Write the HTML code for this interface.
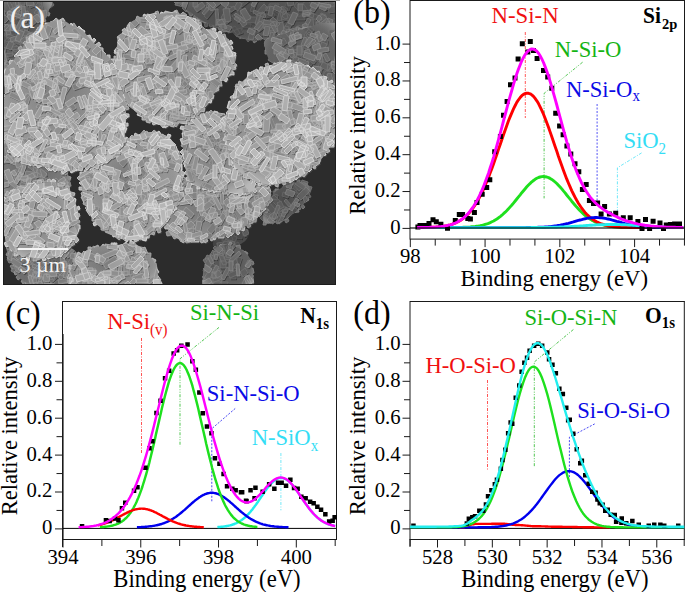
<!DOCTYPE html>
<html><head><meta charset="utf-8"><style>
html,body{margin:0;padding:0;background:#fff;width:685px;height:592px;overflow:hidden}
svg{display:block;font-family:"Liberation Serif",serif}
</style></head><body>
<svg width="685" height="592" viewBox="0 0 685 592" font-family="Liberation Serif"><rect width="685" height="592" fill="#fff"/><defs><clipPath id="semclip"><rect x="3" y="1" width="333" height="284"/></clipPath><clipPath id="clK"><path d="M0.0,-2.0C8.3,-15.3 41.8,-4.0 50.0,-2.0C58.2,0.0 49.7,6.7 49.0,10.0C48.3,13.3 47.5,15.7 46.0,18.0C44.5,20.3 42.3,21.3 40.0,24.0C37.7,26.7 34.7,30.3 32.0,34.0C29.3,37.7 26.7,41.7 24.0,46.0C21.3,50.3 18.7,55.7 16.0,60.0C13.3,64.3 10.7,69.0 8.0,72.0C5.3,75.0 1.3,90.3 0.0,78.0C-1.3,65.7 -8.3,11.3 0.0,-2.0Z"/></clipPath><radialGradient id="ovK" cx="0.48" cy="0.45" r="0.6"><stop offset="0" stop-color="#000" stop-opacity="0.10"/><stop offset="0.6" stop-color="#000" stop-opacity="0"/><stop offset="0.88" stop-color="#fff" stop-opacity="0.10"/><stop offset="1" stop-color="#fff" stop-opacity="0.22"/></radialGradient><radialGradient id="rgK" cx="0.45" cy="0.42" r="0.62"><stop offset="0" stop-color="rgb(90,90,90)"/><stop offset="0.75" stop-color="rgb(100,100,100)"/><stop offset="1" stop-color="rgb(112,112,112)"/></radialGradient><clipPath id="clC1"><path d="M176.0,-2.0C203.0,-3.2 314.3,-7.3 342.0,-2.0C369.7,3.3 349.0,23.8 342.0,30.0C335.0,36.2 312.3,33.7 300.0,35.0C287.7,36.3 276.2,37.1 268.0,38.0C259.8,38.9 257.5,41.9 250.7,40.6C243.9,39.3 234.6,33.1 227.0,30.0C219.4,26.9 211.2,25.0 205.0,22.0C198.8,19.0 194.2,14.8 190.0,12.0C185.8,9.2 182.3,7.3 180.0,5.0C177.7,2.7 149.0,-0.8 176.0,-2.0Z"/></clipPath><radialGradient id="ovC1" cx="0.48" cy="0.45" r="0.6"><stop offset="0" stop-color="#000" stop-opacity="0.10"/><stop offset="0.6" stop-color="#000" stop-opacity="0"/><stop offset="0.88" stop-color="#fff" stop-opacity="0.10"/><stop offset="1" stop-color="#fff" stop-opacity="0.22"/></radialGradient><radialGradient id="rgC1" cx="0.45" cy="0.42" r="0.62"><stop offset="0" stop-color="rgb(79,79,79)"/><stop offset="0.75" stop-color="rgb(88,88,88)"/><stop offset="1" stop-color="rgb(98,98,98)"/></radialGradient><clipPath id="clC2"><path d="M266.0,40.0C271.7,36.7 287.3,32.5 300.0,30.0C312.7,27.5 335.0,13.3 342.0,25.0C349.0,36.7 343.2,89.0 342.0,100.0C340.8,111.0 337.3,94.2 335.0,91.0C332.7,87.8 330.8,84.2 328.0,81.0C325.2,77.8 321.9,74.5 318.0,72.0C314.1,69.5 309.8,67.6 304.8,66.0C299.8,64.4 293.6,63.4 288.0,62.6C282.4,61.8 274.7,63.1 271.0,61.0C267.3,58.9 266.8,53.5 266.0,50.0C265.2,46.5 260.3,43.3 266.0,40.0Z"/></clipPath><radialGradient id="ovC2" cx="0.48" cy="0.45" r="0.6"><stop offset="0" stop-color="#000" stop-opacity="0.10"/><stop offset="0.6" stop-color="#000" stop-opacity="0"/><stop offset="0.88" stop-color="#fff" stop-opacity="0.10"/><stop offset="1" stop-color="#fff" stop-opacity="0.22"/></radialGradient><radialGradient id="rgC2" cx="0.45" cy="0.42" r="0.62"><stop offset="0" stop-color="rgb(91,91,91)"/><stop offset="0.75" stop-color="rgb(102,102,102)"/><stop offset="1" stop-color="rgb(114,114,114)"/></radialGradient><clipPath id="clK2"><path d="M0.0,138.0C2.0,129.7 7.8,146.3 12.0,150.0C16.2,153.7 20.3,157.5 25.0,160.0C29.7,162.5 35.0,163.8 40.0,165.0C45.0,166.2 50.7,165.8 55.0,167.0C59.3,168.2 63.5,169.5 66.0,172.0C68.5,174.5 70.0,178.7 70.0,182.0C70.0,185.3 67.7,189.0 66.0,192.0C64.3,195.0 64.3,199.3 60.0,200.0C55.7,200.7 47.5,196.3 40.0,196.0C32.5,195.7 21.7,197.3 15.0,198.0C8.3,198.7 2.5,210.0 0.0,200.0C-2.5,190.0 -2.0,146.3 0.0,138.0Z"/></clipPath><radialGradient id="ovK2" cx="0.48" cy="0.45" r="0.6"><stop offset="0" stop-color="#000" stop-opacity="0.10"/><stop offset="0.6" stop-color="#000" stop-opacity="0"/><stop offset="0.88" stop-color="#fff" stop-opacity="0.10"/><stop offset="1" stop-color="#fff" stop-opacity="0.22"/></radialGradient><radialGradient id="rgK2" cx="0.45" cy="0.42" r="0.62"><stop offset="0" stop-color="rgb(109,109,109)"/><stop offset="0.75" stop-color="rgb(122,122,122)"/><stop offset="1" stop-color="rgb(136,136,136)"/></radialGradient><clipPath id="clK3"><path d="M6.0,244.0C7.5,242.0 13.5,247.8 20.0,250.0C26.5,252.2 36.7,257.3 45.0,257.0C53.3,256.7 64.3,247.2 70.0,248.0C75.7,248.8 78.3,256.2 79.0,262.0C79.7,267.8 78.8,279.0 74.0,283.0C69.2,287.0 57.3,285.8 50.0,286.0C42.7,286.2 35.0,285.3 30.0,284.0C25.0,282.7 23.2,281.7 20.0,278.0C16.8,274.3 13.3,267.7 11.0,262.0C8.7,256.3 4.5,246.0 6.0,244.0Z"/></clipPath><radialGradient id="ovK3" cx="0.48" cy="0.45" r="0.6"><stop offset="0" stop-color="#000" stop-opacity="0.10"/><stop offset="0.6" stop-color="#000" stop-opacity="0"/><stop offset="0.88" stop-color="#fff" stop-opacity="0.10"/><stop offset="1" stop-color="#fff" stop-opacity="0.22"/></radialGradient><radialGradient id="rgK3" cx="0.45" cy="0.42" r="0.62"><stop offset="0" stop-color="rgb(100,100,100)"/><stop offset="0.75" stop-color="rgb(112,112,112)"/><stop offset="1" stop-color="rgb(125,125,125)"/></radialGradient><clipPath id="clJ"><path d="M265.0,223.0C262.6,221.5 262.9,216.4 263.8,212.5C264.7,208.6 268.4,202.9 270.4,199.4C272.4,195.9 272.1,194.1 275.6,191.5C279.1,188.9 286.6,185.1 291.4,183.6C296.2,182.1 301.4,181.4 304.5,182.3C307.6,183.2 309.4,186.2 309.8,189.0C310.2,191.8 308.9,196.3 307.1,199.4C305.4,202.5 301.9,204.7 299.3,207.3C296.7,209.9 294.9,212.8 291.4,215.2C287.9,217.6 282.6,220.4 278.2,221.7C273.8,223.0 267.4,224.5 265.0,223.0Z"/></clipPath><radialGradient id="ovJ" cx="0.48" cy="0.45" r="0.6"><stop offset="0" stop-color="#000" stop-opacity="0.10"/><stop offset="0.6" stop-color="#000" stop-opacity="0"/><stop offset="0.88" stop-color="#fff" stop-opacity="0.10"/><stop offset="1" stop-color="#fff" stop-opacity="0.22"/></radialGradient><radialGradient id="rgJ" cx="0.45" cy="0.42" r="0.62"><stop offset="0" stop-color="rgb(82,82,82)"/><stop offset="0.75" stop-color="rgb(92,92,92)"/><stop offset="1" stop-color="rgb(103,103,103)"/></radialGradient><clipPath id="clF3"><path d="M213.0,243.0C213.7,240.0 217.3,234.3 223.0,232.0C228.7,229.7 243.2,227.7 247.0,229.0C250.8,230.3 248.5,236.8 246.0,240.0C243.5,243.2 236.5,246.3 232.0,248.0C227.5,249.7 222.2,250.8 219.0,250.0C215.8,249.2 212.3,246.0 213.0,243.0Z"/></clipPath><radialGradient id="ovF3" cx="0.48" cy="0.45" r="0.6"><stop offset="0" stop-color="#000" stop-opacity="0.10"/><stop offset="0.6" stop-color="#000" stop-opacity="0"/><stop offset="0.88" stop-color="#fff" stop-opacity="0.10"/><stop offset="1" stop-color="#fff" stop-opacity="0.22"/></radialGradient><radialGradient id="rgF3" cx="0.45" cy="0.42" r="0.62"><stop offset="0" stop-color="rgb(67,67,67)"/><stop offset="0.75" stop-color="rgb(75,75,75)"/><stop offset="1" stop-color="rgb(84,84,84)"/></radialGradient><clipPath id="clF2"><path d="M165.0,200.0C165.4,194.1 165.5,188.7 168.0,185.0C170.5,181.3 174.7,178.3 180.0,178.0C185.3,177.7 191.7,181.3 200.0,183.0C208.3,184.7 220.8,187.7 230.0,188.0C239.2,188.3 248.7,185.3 255.0,185.0C261.3,184.7 265.1,184.3 267.7,186.3C270.3,188.3 270.8,193.3 270.4,196.8C269.9,200.3 267.2,203.8 265.0,207.3C262.8,210.8 259.8,215.2 257.2,217.8C254.6,220.4 252.4,220.8 249.3,223.0C246.2,225.2 243.2,228.8 238.8,231.0C234.4,233.2 228.2,234.9 223.0,236.2C217.8,237.5 213.4,237.9 207.3,238.8C201.2,239.7 192.4,242.4 186.3,241.5C180.2,240.6 174.0,237.1 170.5,233.6C167.0,230.1 166.2,226.0 165.3,220.4C164.4,214.8 164.6,205.9 165.0,200.0Z"/></clipPath><radialGradient id="ovF2" cx="0.48" cy="0.45" r="0.6"><stop offset="0" stop-color="#000" stop-opacity="0.10"/><stop offset="0.6" stop-color="#000" stop-opacity="0"/><stop offset="0.88" stop-color="#fff" stop-opacity="0.10"/><stop offset="1" stop-color="#fff" stop-opacity="0.22"/></radialGradient><radialGradient id="rgF2" cx="0.45" cy="0.42" r="0.62"><stop offset="0" stop-color="rgb(124,124,124)"/><stop offset="0.75" stop-color="rgb(138,138,138)"/><stop offset="1" stop-color="rgb(154,154,154)"/></radialGradient><clipPath id="clI"><path d="M206.0,290.0C198.3,285.8 204.0,270.9 204.7,265.0C205.4,259.1 207.8,257.6 210.0,254.6C212.2,251.5 214.8,248.2 217.8,246.7C220.9,245.2 224.8,245.2 228.3,245.4C231.8,245.6 235.3,246.0 238.8,248.0C242.3,250.0 247.1,253.5 249.3,257.2C251.5,260.9 251.8,264.9 252.0,270.4C252.2,275.9 258.3,286.7 250.6,290.0C242.9,293.3 213.7,294.2 206.0,290.0Z"/></clipPath><radialGradient id="ovI" cx="0.48" cy="0.45" r="0.6"><stop offset="0" stop-color="#000" stop-opacity="0.10"/><stop offset="0.6" stop-color="#000" stop-opacity="0"/><stop offset="0.88" stop-color="#fff" stop-opacity="0.10"/><stop offset="1" stop-color="#fff" stop-opacity="0.22"/></radialGradient><radialGradient id="rgI" cx="0.45" cy="0.42" r="0.62"><stop offset="0" stop-color="rgb(88,88,88)"/><stop offset="0.75" stop-color="rgb(98,98,98)"/><stop offset="1" stop-color="rgb(109,109,109)"/></radialGradient><clipPath id="clF"><path d="M184.0,128.0C185.2,124.0 187.3,120.3 190.0,118.0C192.7,115.7 195.8,114.8 200.0,114.0C204.2,113.2 210.3,112.3 215.0,113.0C219.7,113.7 224.7,113.5 228.0,118.0C231.3,122.5 233.0,131.3 235.0,140.0C237.0,148.7 237.5,163.0 240.0,170.0C242.5,177.0 247.5,178.7 250.0,182.0C252.5,185.3 256.7,188.2 255.0,190.0C253.3,191.8 245.8,192.8 240.0,193.0C234.2,193.2 226.7,192.0 220.0,191.0C213.3,190.0 205.3,189.0 200.0,187.0C194.7,185.0 190.5,183.5 188.0,179.0C185.5,174.5 185.8,166.2 185.0,160.0C184.2,153.8 183.2,147.3 183.0,142.0C182.8,136.7 182.8,132.0 184.0,128.0Z"/></clipPath><radialGradient id="ovF" cx="0.48" cy="0.45" r="0.6"><stop offset="0" stop-color="#000" stop-opacity="0.10"/><stop offset="0.6" stop-color="#000" stop-opacity="0"/><stop offset="0.88" stop-color="#fff" stop-opacity="0.10"/><stop offset="1" stop-color="#fff" stop-opacity="0.22"/></radialGradient><radialGradient id="rgF" cx="0.45" cy="0.42" r="0.62"><stop offset="0" stop-color="rgb(133,133,133)"/><stop offset="0.75" stop-color="rgb(148,148,148)"/><stop offset="1" stop-color="rgb(165,165,165)"/></radialGradient><clipPath id="clE"><path d="M78.8,176.8C79.7,174.6 83.2,173.3 86.7,171.5C90.2,169.7 97.0,168.6 100.0,166.0C103.0,163.4 102.8,159.2 105.0,156.0C107.2,152.8 109.7,149.7 113.0,147.0C116.3,144.3 120.5,142.2 125.0,140.0C129.5,137.8 135.0,135.2 140.0,134.0C145.0,132.8 150.3,132.5 155.0,133.0C159.7,133.5 164.5,134.7 168.0,137.0C171.5,139.3 174.0,143.2 176.0,147.0C178.0,150.8 179.2,154.8 180.0,160.0C180.8,165.2 181.2,171.7 181.0,178.0C180.8,184.3 180.0,192.3 178.7,197.8C177.4,203.3 175.6,207.1 173.4,211.0C171.2,214.9 168.6,218.0 165.5,221.5C162.4,225.0 158.9,229.2 155.0,232.0C151.1,234.8 146.7,237.2 141.9,238.5C137.1,239.8 131.3,240.5 126.0,239.8C120.7,239.2 115.1,237.2 110.3,234.6C105.5,232.0 100.7,227.5 97.2,224.0C93.7,220.5 91.5,217.5 89.3,213.6C87.1,209.7 85.3,205.2 84.0,200.4C82.7,195.6 82.3,188.6 81.4,184.7C80.5,180.8 77.9,179.0 78.8,176.8Z"/></clipPath><radialGradient id="ovE" cx="0.48" cy="0.45" r="0.6"><stop offset="0" stop-color="#000" stop-opacity="0.10"/><stop offset="0.6" stop-color="#000" stop-opacity="0"/><stop offset="0.88" stop-color="#fff" stop-opacity="0.10"/><stop offset="1" stop-color="#fff" stop-opacity="0.22"/></radialGradient><radialGradient id="rgE" cx="0.45" cy="0.42" r="0.62"><stop offset="0" stop-color="rgb(136,136,136)"/><stop offset="0.75" stop-color="rgb(152,152,152)"/><stop offset="1" stop-color="rgb(170,170,170)"/></radialGradient><clipPath id="clA"><path d="M5.0,91.0C5.2,82.7 3.8,76.8 5.0,72.0C6.2,67.2 9.3,65.7 12.0,62.0C14.7,58.3 18.0,54.3 21.0,50.0C24.0,45.7 25.8,40.3 30.0,36.0C34.2,31.7 40.8,26.7 46.0,24.0C51.2,21.3 56.5,19.7 61.0,20.0C65.5,20.3 69.5,24.3 73.0,26.0C76.5,27.7 79.0,27.7 82.0,30.0C85.0,32.3 87.5,36.3 91.0,40.0C94.5,43.7 99.5,48.5 103.0,52.0C106.5,55.5 109.2,57.0 112.0,61.0C114.8,65.0 117.8,71.0 120.0,76.0C122.2,81.0 124.0,85.5 125.0,91.0C126.0,96.5 126.0,102.8 126.0,109.0C126.0,115.2 125.7,122.3 125.0,128.0C124.3,133.7 123.7,138.5 122.0,143.0C120.3,147.5 118.2,151.7 115.0,155.0C111.8,158.3 107.0,161.0 103.0,163.0C99.0,165.0 95.0,166.2 91.0,167.0C87.0,167.8 82.8,167.3 79.0,168.0C75.2,168.7 71.5,170.7 68.0,171.0C64.5,171.3 62.3,170.8 58.0,170.0C53.7,169.2 47.3,167.2 42.0,166.0C36.7,164.8 30.8,164.7 26.0,163.0C21.2,161.3 16.5,159.8 13.0,156.0C9.5,152.2 6.5,145.7 5.0,140.0C3.5,134.3 4.0,130.2 4.0,122.0C4.0,113.8 4.8,99.3 5.0,91.0Z"/></clipPath><radialGradient id="ovA" cx="0.48" cy="0.45" r="0.6"><stop offset="0" stop-color="#000" stop-opacity="0.10"/><stop offset="0.6" stop-color="#000" stop-opacity="0"/><stop offset="0.88" stop-color="#fff" stop-opacity="0.10"/><stop offset="1" stop-color="#fff" stop-opacity="0.22"/></radialGradient><radialGradient id="rgA" cx="0.45" cy="0.42" r="0.62"><stop offset="0" stop-color="rgb(136,136,136)"/><stop offset="0.75" stop-color="rgb(152,152,152)"/><stop offset="1" stop-color="rgb(170,170,170)"/></radialGradient><clipPath id="clH"><path d="M68.5,290.0C53.6,288.9 68.1,286.8 68.5,283.2C68.9,279.6 69.8,272.9 71.1,268.7C72.4,264.5 73.7,261.2 76.3,258.2C78.9,255.1 82.8,252.4 86.8,250.4C90.8,248.4 95.2,247.3 100.0,246.4C104.8,245.5 110.9,245.5 115.7,245.1C120.5,244.7 125.0,243.6 128.9,243.8C132.8,244.0 136.3,244.9 139.4,246.4C142.5,247.9 144.7,250.2 147.3,253.0C149.9,255.8 153.3,259.6 155.1,263.5C156.8,267.4 157.4,272.2 157.8,276.6C158.2,281.0 172.7,287.8 157.8,290.0C142.9,292.2 83.4,291.1 68.5,290.0Z"/></clipPath><radialGradient id="ovH" cx="0.48" cy="0.45" r="0.6"><stop offset="0" stop-color="#000" stop-opacity="0.10"/><stop offset="0.6" stop-color="#000" stop-opacity="0"/><stop offset="0.88" stop-color="#fff" stop-opacity="0.10"/><stop offset="1" stop-color="#fff" stop-opacity="0.22"/></radialGradient><radialGradient id="rgH" cx="0.45" cy="0.42" r="0.62"><stop offset="0" stop-color="rgb(127,127,127)"/><stop offset="0.75" stop-color="rgb(142,142,142)"/><stop offset="1" stop-color="rgb(159,159,159)"/></radialGradient><clipPath id="clB"><path d="M123.7,30.8C125.7,28.2 127.7,24.9 130.8,22.5C134.0,20.1 138.3,18.0 142.6,16.6C146.9,15.2 152.1,14.8 156.8,14.2C161.5,13.6 166.7,13.0 171.0,13.0C175.3,13.0 178.9,13.0 182.8,14.2C186.7,15.4 191.4,17.9 194.6,20.1C197.8,22.3 198.5,25.4 201.7,27.2C204.9,29.0 210.0,29.4 213.6,30.8C217.2,32.2 220.4,33.5 223.0,35.5C225.6,37.5 227.3,39.9 228.9,42.6C230.5,45.4 231.5,48.9 232.5,52.0C233.5,55.1 234.8,58.3 234.8,61.5C234.8,64.7 234.1,68.2 232.5,71.0C230.9,73.8 227.8,75.6 225.4,78.0C223.0,80.4 220.3,82.4 218.3,85.2C216.3,88.0 215.6,91.5 213.6,94.6C211.6,97.7 208.9,101.2 206.5,104.0C204.1,106.8 202.2,108.8 199.4,111.2C196.6,113.6 193.1,116.3 189.9,118.3C186.7,120.3 184.0,121.8 180.4,123.0C176.8,124.2 172.5,125.2 168.6,125.4C164.7,125.6 160.7,125.4 156.8,124.2C152.9,123.0 148.6,120.5 145.0,118.3C141.4,116.1 138.5,114.0 135.5,111.2C132.5,108.4 129.4,105.2 127.2,101.7C125.0,98.2 123.9,93.9 122.5,89.9C121.1,86.0 119.9,82.3 118.9,78.0C117.9,73.7 117.0,68.6 116.6,63.9C116.2,59.2 116.2,54.1 116.6,49.7C117.0,45.4 117.7,40.9 118.9,37.8C120.1,34.6 121.7,33.4 123.7,30.8Z"/></clipPath><radialGradient id="ovB" cx="0.48" cy="0.45" r="0.6"><stop offset="0" stop-color="#000" stop-opacity="0.10"/><stop offset="0.6" stop-color="#000" stop-opacity="0"/><stop offset="0.88" stop-color="#fff" stop-opacity="0.10"/><stop offset="1" stop-color="#fff" stop-opacity="0.22"/></radialGradient><radialGradient id="rgB" cx="0.45" cy="0.42" r="0.62"><stop offset="0" stop-color="rgb(135,135,135)"/><stop offset="0.75" stop-color="rgb(150,150,150)"/><stop offset="1" stop-color="rgb(168,168,168)"/></radialGradient><clipPath id="clD"><path d="M230.4,101.5C232.1,96.4 233.8,92.5 237.2,88.0C240.6,83.5 245.6,78.1 250.7,74.4C255.8,70.7 261.4,68.0 267.6,66.0C273.8,64.0 281.8,62.6 288.0,62.6C294.2,62.6 299.7,64.3 304.8,66.0C309.9,67.7 314.4,70.2 318.4,72.7C322.3,75.2 325.7,78.1 328.5,81.2C331.3,84.3 333.6,86.2 335.3,91.3C337.1,96.4 338.4,104.3 339.0,111.6C339.6,118.9 340.8,129.1 339.0,135.3C337.2,141.5 331.9,144.3 328.5,148.8C325.1,153.3 322.9,157.8 318.4,162.3C313.9,166.8 307.1,172.5 301.5,175.9C295.9,179.3 290.1,181.2 284.5,182.6C278.9,184.0 273.2,184.9 267.6,184.3C262.0,183.7 255.8,181.7 250.7,179.2C245.6,176.7 240.9,173.6 237.2,169.1C233.5,164.6 230.5,157.8 228.7,152.2C226.9,146.6 226.7,140.9 226.4,135.3C226.1,129.7 226.3,124.0 227.0,118.4C227.7,112.8 228.7,106.6 230.4,101.5Z"/></clipPath><radialGradient id="ovD" cx="0.48" cy="0.45" r="0.6"><stop offset="0" stop-color="#000" stop-opacity="0.10"/><stop offset="0.6" stop-color="#000" stop-opacity="0"/><stop offset="0.88" stop-color="#fff" stop-opacity="0.10"/><stop offset="1" stop-color="#fff" stop-opacity="0.22"/></radialGradient><radialGradient id="rgD" cx="0.45" cy="0.42" r="0.62"><stop offset="0" stop-color="rgb(138,138,138)"/><stop offset="0.75" stop-color="rgb(154,154,154)"/><stop offset="1" stop-color="rgb(172,172,172)"/></radialGradient><clipPath id="clG"><path d="M5.3,200.4C6.9,196.7 9.5,193.6 13.0,191.2C16.5,188.8 21.9,187.3 26.3,186.0C30.7,184.7 35.0,184.1 39.4,183.4C43.8,182.7 48.6,181.8 52.5,182.0C56.4,182.2 59.9,182.9 63.0,184.7C66.1,186.4 68.8,189.0 71.0,192.5C73.2,196.0 74.9,201.3 76.2,205.7C77.5,210.1 78.6,214.4 78.8,218.8C79.0,223.2 78.4,228.1 77.5,232.0C76.6,235.9 75.3,239.4 73.6,242.5C71.8,245.6 69.6,248.2 67.0,250.4C64.4,252.6 61.5,254.3 57.8,255.6C54.1,256.9 49.5,258.0 44.7,258.2C39.9,258.4 33.7,257.9 28.9,257.0C24.1,256.1 19.3,255.0 15.8,253.0C12.3,251.0 9.9,248.5 7.9,245.0C5.9,241.5 4.8,237.2 4.0,232.0C3.2,226.8 3.0,218.9 3.2,213.6C3.4,208.3 3.7,204.1 5.3,200.4Z"/></clipPath><radialGradient id="ovG" cx="0.48" cy="0.45" r="0.6"><stop offset="0" stop-color="#000" stop-opacity="0.10"/><stop offset="0.6" stop-color="#000" stop-opacity="0"/><stop offset="0.88" stop-color="#fff" stop-opacity="0.10"/><stop offset="1" stop-color="#fff" stop-opacity="0.22"/></radialGradient><radialGradient id="rgG" cx="0.45" cy="0.42" r="0.62"><stop offset="0" stop-color="rgb(138,138,138)"/><stop offset="0.75" stop-color="rgb(154,154,154)"/><stop offset="1" stop-color="rgb(172,172,172)"/></radialGradient></defs><g clip-path="url(#semclip)"><rect x="3" y="1" width="333" height="284" fill="#2c2c2c"/><path d="M54 5l-7 5l-2 -3l7 -5zM32 27l7 2l-1 4l-7 -2zM21 48l2 8l-4 1l-2 -8zM6 76l-4 2l-1 -3l4 -2zM46 12l4 1l-1 3l-4 -1zM42 18l4 2l-1 2l-4 -2zM21 46l4 2l-1 3l-4 -2zM16 62l-3 4l-3 -2l3 -4zM7 67l6 0l-0 4l-6 -0zM41 26l-4 2l-2 -3l4 -2zM27 34l5 5l-2 2l-5 -5zM33 32l-1 6l-4 -0l1 -6zM28 39l-1 8l-3 -0l1 -8zM17 53l4 6l-3 2l-4 -6zM19 60l-6 3l-2 -3l6 -3zM6 70l4 3l-2 2l-4 -3z" fill="rgb(55,55,55)" transform="translate(0.9 1.3)" opacity="0.8"/><path d="M54 5l-7 5l-2 -3l7 -5zM32 27l7 2l-1 4l-7 -2zM21 48l2 8l-4 1l-2 -8zM6 76l-4 2l-1 -3l4 -2z" fill="rgb(98,98,98)" stroke="rgb(117,117,117)" stroke-width="0.9" stroke-linejoin="round"/><path d="M41 26l-4 2l-2 -3l4 -2zM27 34l5 5l-2 2l-5 -5z" fill="rgb(106,106,106)" stroke="rgb(127,127,127)" stroke-width="0.9" stroke-linejoin="round"/><path d="M33 32l-1 6l-4 -0l1 -6zM28 39l-1 8l-3 -0l1 -8zM17 53l4 6l-3 2l-4 -6zM19 60l-6 3l-2 -3l6 -3zM6 70l4 3l-2 2l-4 -3z" fill="rgb(113,113,113)" stroke="rgb(135,135,135)" stroke-width="0.9" stroke-linejoin="round"/><path d="M46 12l4 1l-1 3l-4 -1zM42 18l4 2l-1 2l-4 -2zM21 46l4 2l-1 3l-4 -2zM16 62l-3 4l-3 -2l3 -4zM7 67l6 0l-0 4l-6 -0z" fill="rgb(122,122,122)" stroke="rgb(146,146,146)" stroke-width="0.9" stroke-linejoin="round"/><g clip-path="url(#clK)"><rect x="-2" y="-4" width="54" height="84" fill="url(#rgK)"/><path d="M18 2l2 12l-6 1l-2 -12zM13 8l-2 8l-3 -1l2 -8zM11 41l-3 4l-4 -3l3 -4zM5 72l-8 2l-1 -5l8 -2zM36 1l6 3l-3 5l-6 -3zM42 7l-1 6l-5 -1l1 -6zM22 40l-9 3l-2 -5l9 -3zM7 19l-5 2l-2 -5l5 -2zM6 50l-4 8l-3 -1l4 -8zM41 -2l2 12l-3 0l-2 -12zM16 35l-11 0l-0 -4l11 -0zM34 -2l4 5l-3 3l-4 -5zM1 16l2 5l-4 1l-2 -5zM33 1l2 5l-5 2l-2 -5zM12 35l-5 7l-5 -3l5 -7zM20 4l-8 5l-2 -3l8 -5zM16 27l9 2l-1 4l-9 -2zM36 10l6 4l-2 3l-6 -4zM20 12l0 7l-4 0l-0 -7zM9 59l-5 3l-3 -5l5 -3zM29 38l-2 5l-4 -1l2 -5zM13 56l-11 1l-0 -3l11 -1zM26 33l-8 11l-4 -3l8 -11zM21 49l-9 1l-0 -3l9 -1zM11 39l13 2l-1 4l-13 -2zM12 12l2 6l-5 2l-2 -6zM19 1l-0 7l-5 -0l0 -7zM19 47l-3 5l-5 -3l3 -5zM25 -0l0 5l-5 0l-0 -5zM1 33l2 8l-4 1l-2 -8zM43 17l4 4l-4 4l-4 -4zM7 34l10 3l-1 3l-10 -3zM10 1l3 7l-3 1l-3 -7zM14 49l9 3l-2 5l-9 -3zM34 5l-7 1l-1 -4l7 -1zM29 15l-10 1l-1 -4l10 -1zM3 59l12 6l-2 4l-12 -6zM24 42l1 9l-4 1l-1 -9zM34 37l-13 3l-1 -5l13 -3zM24 24l-1 6l-4 -1l1 -6zM9 19l-4 4l-4 -4l4 -4zM16 37l9 3l-1 4l-9 -3zM18 -1l1 6l-3 1l-1 -6zM6 48l-2 8l-4 -1l2 -8zM23 12l11 7l-2 3l-11 -7zM14 43l-3 7l-5 -2l3 -7zM23 8l-7 4l-2 -3l7 -4zM4 66l8 8l-4 4l-8 -8zM5 52l0 9l-5 0l-0 -9zM9 27l2 7l-4 1l-2 -7zM29 25l-2 8l-3 -1l2 -8zM32 33l0 6l-4 0l-0 -6zM22 9l-10 6l-3 -4l10 -6zM25 6l1 12l-4 0l-1 -12zM5 11l-1 5l-3 -1l1 -5zM46 10l2 9l-4 1l-2 -9zM30 15l-4 8l-4 -2l4 -8zM44 11l0 11l-4 0l-0 -11zM39 20l-7 6l-3 -3l7 -6zM1 24l9 1l-0 6l-9 -1zM9 26l-9 9l-2 -2l9 -9zM17 40l-6 2l-1 -4l6 -2zM25 30l7 3l-2 5l-7 -3zM43 11l1 5l-5 1l-1 -5zM16 25l-1 6l-5 -1l1 -6zM10 14l4 6l-3 2l-4 -6zM4 50l3 12l-5 1l-3 -12zM24 19l-6 12l-3 -1l6 -12zM-3 60l11 5l-2 4l-11 -5zM33 37l-10 7l-3 -4l10 -7zM-5 58l11 3l-1 4l-11 -3zM24 32l-4 10l-5 -2l4 -10zM8 11l13 4l-1 3l-13 -4zM37 14l5 6l-4 3l-5 -6z" fill="rgb(55,55,55)" transform="translate(0.9 1.3)" opacity="0.8"/><path d="M18 2l2 12l-6 1l-2 -12zM13 8l-2 8l-3 -1l2 -8zM11 41l-3 4l-4 -3l3 -4zM5 72l-8 2l-1 -5l8 -2zM36 1l6 3l-3 5l-6 -3zM42 7l-1 6l-5 -1l1 -6zM22 40l-9 3l-2 -5l9 -3zM7 19l-5 2l-2 -5l5 -2zM6 50l-4 8l-3 -1l4 -8zM41 -2l2 12l-3 0l-2 -12zM16 35l-11 0l-0 -4l11 -0zM34 -2l4 5l-3 3l-4 -5zM1 16l2 5l-4 1l-2 -5zM33 1l2 5l-5 2l-2 -5zM12 35l-5 7l-5 -3l5 -7zM20 4l-8 5l-2 -3l8 -5z" fill="rgb(90,90,90)" stroke="rgb(108,108,108)" stroke-width="0.9" stroke-linejoin="round"/><path d="M16 27l9 2l-1 4l-9 -2zM36 10l6 4l-2 3l-6 -4zM20 12l0 7l-4 0l-0 -7zM9 59l-5 3l-3 -5l5 -3zM29 38l-2 5l-4 -1l2 -5zM13 56l-11 1l-0 -3l11 -1zM26 33l-8 11l-4 -3l8 -11zM21 49l-9 1l-0 -3l9 -1zM11 39l13 2l-1 4l-13 -2zM12 12l2 6l-5 2l-2 -6zM19 1l-0 7l-5 -0l0 -7zM19 47l-3 5l-5 -3l3 -5zM25 -0l0 5l-5 0l-0 -5zM1 33l2 8l-4 1l-2 -8zM43 17l4 4l-4 4l-4 -4zM7 34l10 3l-1 3l-10 -3zM10 1l3 7l-3 1l-3 -7zM14 49l9 3l-2 5l-9 -3z" fill="rgb(98,98,98)" stroke="rgb(117,117,117)" stroke-width="0.9" stroke-linejoin="round"/><path d="M34 5l-7 1l-1 -4l7 -1zM29 15l-10 1l-1 -4l10 -1zM3 59l12 6l-2 4l-12 -6zM24 42l1 9l-4 1l-1 -9zM34 37l-13 3l-1 -5l13 -3zM24 24l-1 6l-4 -1l1 -6zM9 19l-4 4l-4 -4l4 -4zM16 37l9 3l-1 4l-9 -3zM18 -1l1 6l-3 1l-1 -6zM6 48l-2 8l-4 -1l2 -8zM23 12l11 7l-2 3l-11 -7zM14 43l-3 7l-5 -2l3 -7zM23 8l-7 4l-2 -3l7 -4zM4 66l8 8l-4 4l-8 -8zM5 52l0 9l-5 0l-0 -9zM9 27l2 7l-4 1l-2 -7zM29 25l-2 8l-3 -1l2 -8z" fill="rgb(106,106,106)" stroke="rgb(127,127,127)" stroke-width="0.9" stroke-linejoin="round"/><path d="M32 33l0 6l-4 0l-0 -6zM22 9l-10 6l-3 -4l10 -6zM25 6l1 12l-4 0l-1 -12zM5 11l-1 5l-3 -1l1 -5zM46 10l2 9l-4 1l-2 -9zM30 15l-4 8l-4 -2l4 -8zM44 11l0 11l-4 0l-0 -11zM39 20l-7 6l-3 -3l7 -6zM1 24l9 1l-0 6l-9 -1zM9 26l-9 9l-2 -2l9 -9zM17 40l-6 2l-1 -4l6 -2zM25 30l7 3l-2 5l-7 -3zM43 11l1 5l-5 1l-1 -5z" fill="rgb(113,113,113)" stroke="rgb(135,135,135)" stroke-width="0.9" stroke-linejoin="round"/><path d="M16 25l-1 6l-5 -1l1 -6zM10 14l4 6l-3 2l-4 -6zM4 50l3 12l-5 1l-3 -12zM24 19l-6 12l-3 -1l6 -12zM-3 60l11 5l-2 4l-11 -5zM33 37l-10 7l-3 -4l10 -7zM-5 58l11 3l-1 4l-11 -3zM24 32l-4 10l-5 -2l4 -10zM8 11l13 4l-1 3l-13 -4zM37 14l5 6l-4 3l-5 -6z" fill="rgb(122,122,122)" stroke="rgb(146,146,146)" stroke-width="0.9" stroke-linejoin="round"/><rect x="-2" y="-4" width="54" height="84" fill="url(#ovK)"/></g><path d="M338 31l-3 2l-2 -2l3 -2zM323 31l-2 5l-3 -2l2 -5zM314 29l6 5l-3 3l-6 -5zM313 29l3 8l-4 1l-3 -8zM289 33l1 5l-3 1l-1 -5zM283 31l5 7l-4 2l-5 -7zM252 38l-4 4l-2 -3l4 -4zM240 32l3 4l-3 3l-3 -4zM235 29l5 6l-3 2l-5 -6zM232 32l-4 1l-0 -3l4 -1zM214 21l3 6l-3 1l-3 -6zM211 20l2 6l-3 1l-2 -6zM206 17l2 9l-3 1l-2 -9zM197 13l-7 4l-1 -3l7 -4zM334 32l-6 1l-0 -3l6 -1zM306 31l4 3l-2 3l-4 -3zM241 34l8 1l-1 4l-8 -1zM221 25l-6 4l-2 -3l6 -4zM185 5l4 4l-3 3l-4 -4zM329 33l-4 1l-0 -3l4 -1zM303 31l3 3l-2 3l-3 -3zM275 33l2 6l-3 1l-2 -6zM262 34l6 5l-2 2l-6 -5zM188 8l5 6l-2 2l-5 -6zM176 2l9 2l-1 3l-9 -2zM301 36l-6 2l-1 -4l6 -2zM291 33l4 2l-1 2l-4 -2zM279 34l3 2l-2 3l-3 -2zM268 35l8 2l-1 3l-8 -2zM257 36l5 1l-1 3l-5 -1zM255 37l2 4l-3 2l-2 -4zM231 31l-8 1l-1 -4l8 -1zM220 25l4 2l-2 4l-4 -2zM198 16l9 3l-1 4l-9 -3zM195 14l6 3l-2 4l-6 -3z" fill="rgb(48,48,48)" transform="translate(0.9 1.3)" opacity="0.8"/><path d="M338 31l-3 2l-2 -2l3 -2zM323 31l-2 5l-3 -2l2 -5zM314 29l6 5l-3 3l-6 -5zM313 29l3 8l-4 1l-3 -8zM289 33l1 5l-3 1l-1 -5zM283 31l5 7l-4 2l-5 -7zM252 38l-4 4l-2 -3l4 -4zM240 32l3 4l-3 3l-3 -4zM235 29l5 6l-3 2l-5 -6zM232 32l-4 1l-0 -3l4 -1zM214 21l3 6l-3 1l-3 -6zM211 20l2 6l-3 1l-2 -6zM206 17l2 9l-3 1l-2 -9zM197 13l-7 4l-1 -3l7 -4z" fill="rgb(86,86,86)" stroke="rgb(103,103,103)" stroke-width="0.9" stroke-linejoin="round"/><path d="M334 32l-6 1l-0 -3l6 -1zM306 31l4 3l-2 3l-4 -3zM241 34l8 1l-1 4l-8 -1zM221 25l-6 4l-2 -3l6 -4zM185 5l4 4l-3 3l-4 -4z" fill="rgb(93,93,93)" stroke="rgb(111,111,111)" stroke-width="0.9" stroke-linejoin="round"/><path d="M329 33l-4 1l-0 -3l4 -1zM303 31l3 3l-2 3l-3 -3zM275 33l2 6l-3 1l-2 -6zM262 34l6 5l-2 2l-6 -5zM188 8l5 6l-2 2l-5 -6zM176 2l9 2l-1 3l-9 -2z" fill="rgb(100,100,100)" stroke="rgb(120,120,120)" stroke-width="0.9" stroke-linejoin="round"/><path d="M301 36l-6 2l-1 -4l6 -2zM291 33l4 2l-1 2l-4 -2zM279 34l3 2l-2 3l-3 -2zM268 35l8 2l-1 3l-8 -2zM257 36l5 1l-1 3l-5 -1zM255 37l2 4l-3 2l-2 -4zM231 31l-8 1l-1 -4l8 -1zM220 25l4 2l-2 4l-4 -2zM198 16l9 3l-1 4l-9 -3zM195 14l6 3l-2 4l-6 -3z" fill="rgb(107,107,107)" stroke="rgb(128,128,128)" stroke-width="0.9" stroke-linejoin="round"/><g clip-path="url(#clC1)"><rect x="174" y="-4" width="170" height="46.6" fill="url(#rgC1)"/><path d="M224 -1l5 4l-3 5l-5 -4zM306 23l2 4l-4 2l-2 -4zM189 -1l-4 11l-4 -2l4 -11zM236 16l5 3l-2 3l-5 -3zM261 -4l-7 11l-3 -2l7 -11zM331 25l-11 6l-2 -4l11 -6zM312 2l6 3l-2 4l-6 -3zM258 34l5 5l-3 3l-5 -5zM319 3l12 2l-1 3l-12 -2zM310 15l-7 2l-1 -3l7 -2zM225 24l-9 1l-0 -5l9 -1zM225 24l-0 8l-4 -0l0 -8zM273 22l5 9l-3 2l-5 -9zM321 5l6 3l-2 3l-6 -3zM263 23l-6 7l-3 -2l6 -7zM236 13l10 8l-2 2l-10 -8zM249 28l6 3l-2 4l-6 -3zM330 22l-9 7l-3 -4l9 -7zM311 14l-8 1l-0 -4l8 -1zM333 20l-4 10l-5 -2l4 -10zM264 20l13 2l-1 4l-13 -2zM210 -1l6 6l-3 3l-6 -6zM283 30l5 3l-2 3l-5 -3zM322 18l-3 4l-3 -3l3 -4zM245 8l6 10l-5 3l-6 -10zM222 19l5 9l-5 3l-5 -9zM270 27l-2 9l-5 -1l2 -9zM298 14l-5 11l-5 -2l5 -11zM310 11l6 5l-3 4l-6 -5zM307 33l-12 1l-0 -4l12 -1zM271 27l2 5l-5 2l-2 -5zM242 24l9 0l-0 4l-9 -0zM252 21l-5 1l-1 -5l5 -1zM335 5l-10 6l-3 -5l10 -6zM235 26l5 7l-3 2l-5 -7zM322 1l7 1l-1 5l-7 -1zM261 14l7 0l-0 3l-7 -0zM186 1l-7 8l-2 -2l7 -8zM243 33l-11 4l-2 -5l11 -4zM298 12l4 5l-4 3l-4 -5zM287 18l-7 2l-2 -5l7 -2zM256 39l-4 5l-3 -3l4 -5zM275 23l7 0l-0 4l-7 -0zM292 3l-3 8l-5 -2l3 -8zM276 19l9 7l-3 4l-9 -7zM269 -3l2 9l-6 1l-2 -9zM299 14l-8 10l-3 -2l8 -10zM230 5l4 5l-5 4l-4 -5zM238 16l7 6l-3 3l-7 -6zM275 16l-9 2l-1 -3l9 -2zM255 31l7 4l-2 4l-7 -4zM272 9l8 6l-2 2l-8 -6zM311 20l-3 5l-3 -2l3 -5zM345 18l-8 4l-2 -4l8 -4zM232 27l-3 5l-5 -2l3 -5zM275 5l7 3l-2 4l-7 -3zM303 4l-0 7l-5 -0l0 -7zM274 7l-2 9l-4 -1l2 -9zM273 17l7 7l-3 3l-7 -7zM205 6l-8 6l-3 -4l8 -6zM209 9l-5 6l-2 -2l5 -6zM208 -2l7 11l-3 2l-7 -11zM283 22l1 11l-6 1l-1 -11zM320 22l-0 5l-4 -0l0 -5zM290 31l10 0l-0 4l-10 -0zM261 14l-3 11l-3 -1l3 -11zM221 3l-10 8l-3 -4l10 -8zM297 32l-10 2l-1 -4l10 -2zM254 10l12 5l-1 3l-12 -5zM327 17l-3 4l-5 -3l3 -4zM218 9l1 11l-3 0l-1 -11zM267 22l-8 9l-3 -3l8 -9zM229 8l2 13l-6 1l-2 -13zM298 29l1 6l-5 1l-1 -6zM320 3l-6 9l-4 -2l6 -9zM198 -1l0 8l-5 0l-0 -8zM275 28l-12 0l-0 -4l12 -0zM265 13l-5 12l-3 -1l5 -12zM242 17l5 7l-4 3l-5 -7zM274 33l-3 8l-3 -1l3 -8zM275 30l-0 13l-5 -0l0 -13zM286 11l2 7l-6 2l-2 -7zM326 15l-2 4l-5 -2l2 -4zM256 29l-3 11l-5 -1l3 -11zM309 12l5 2l-1 4l-5 -2zM294 5l-6 1l-1 -6l6 -1zM242 4l-4 7l-4 -3l4 -7zM257 23l-11 0l-0 -6l11 -0zM284 10l-3 11l-4 -1l3 -11zM268 8l-9 10l-4 -4l9 -10zM223 25l-4 5l-4 -4l4 -5zM313 19l1 12l-5 0l-1 -12zM282 6l5 6l-3 3l-5 -6zM322 25l7 5l-3 4l-7 -5zM289 27l-2 6l-4 -1l2 -6zM269 24l-10 8l-4 -4l10 -8zM241 12l10 4l-1 4l-10 -4zM229 22l-5 4l-3 -4l5 -4zM286 12l9 8l-4 4l-9 -8zM223 14l8 4l-2 4l-8 -4zM230 14l-4 3l-3 -4l4 -3zM260 15l1 12l-3 0l-1 -12zM236 9l-5 3l-2 -3l5 -3zM266 7l7 0l-0 4l-7 -0zM295 20l-7 11l-4 -3l7 -11zM211 3l2 5l-5 2l-2 -5zM321 17l2 10l-4 1l-2 -10zM340 30l-11 6l-3 -5l11 -6zM241 8l3 13l-4 1l-3 -13zM307 11l12 5l-2 4l-12 -5zM229 1l13 2l-1 5l-13 -2zM269 4l10 0l-0 4l-10 -0zM314 28l-8 3l-1 -3l8 -3zM305 20l-11 0l-0 -4l11 -0zM329 1l-8 4l-2 -3l8 -4zM304 10l9 4l-2 4l-9 -4zM186 -2l-8 10l-3 -2l8 -10zM298 25l8 3l-1 4l-8 -3zM340 21l-10 2l-1 -3l10 -2zM201 4l6 5l-3 3l-6 -5zM342 11l-13 2l-1 -6l13 -2zM322 25l-5 9l-4 -2l5 -9zM289 32l-6 9l-4 -3l6 -9zM215 9l-8 10l-3 -3l8 -10zM283 6l5 3l-2 3l-5 -3zM236 13l6 7l-4 3l-6 -7zM247 17l-3 6l-4 -2l3 -6zM293 17l-11 5l-1 -3l11 -5zM252 -1l-10 8l-2 -2l10 -8zM301 6l-3 4l-4 -4l3 -4zM258 -0l-5 12l-3 -1l5 -12zM315 19l3 7l-4 2l-3 -7zM308 0l6 9l-5 3l-6 -9zM332 26l-2 5l-4 -2l2 -5zM335 22l3 8l-4 2l-3 -8z" fill="rgb(48,48,48)" transform="translate(0.9 1.3)" opacity="0.8"/><path d="M310 11l6 5l-3 4l-6 -5zM307 33l-12 1l-0 -4l12 -1zM271 27l2 5l-5 2l-2 -5zM242 24l9 0l-0 4l-9 -0zM252 21l-5 1l-1 -5l5 -1zM335 5l-10 6l-3 -5l10 -6zM235 26l5 7l-3 2l-5 -7zM322 1l7 1l-1 5l-7 -1zM261 14l7 0l-0 3l-7 -0zM186 1l-7 8l-2 -2l7 -8zM243 33l-11 4l-2 -5l11 -4zM298 12l4 5l-4 3l-4 -5zM287 18l-7 2l-2 -5l7 -2zM256 39l-4 5l-3 -3l4 -5zM275 23l7 0l-0 4l-7 -0zM292 3l-3 8l-5 -2l3 -8zM276 19l9 7l-3 4l-9 -7zM269 -3l2 9l-6 1l-2 -9zM299 14l-8 10l-3 -2l8 -10zM230 5l4 5l-5 4l-4 -5zM238 16l7 6l-3 3l-7 -6zM275 16l-9 2l-1 -3l9 -2zM255 31l7 4l-2 4l-7 -4zM272 9l8 6l-2 2l-8 -6z" fill="rgb(79,79,79)" stroke="rgb(94,94,94)" stroke-width="0.9" stroke-linejoin="round"/><path d="M241 8l3 13l-4 1l-3 -13zM307 11l12 5l-2 4l-12 -5zM229 1l13 2l-1 5l-13 -2zM269 4l10 0l-0 4l-10 -0zM314 28l-8 3l-1 -3l8 -3zM305 20l-11 0l-0 -4l11 -0zM329 1l-8 4l-2 -3l8 -4zM304 10l9 4l-2 4l-9 -4zM186 -2l-8 10l-3 -2l8 -10zM298 25l8 3l-1 4l-8 -3zM340 21l-10 2l-1 -3l10 -2zM201 4l6 5l-3 3l-6 -5zM342 11l-13 2l-1 -6l13 -2zM322 25l-5 9l-4 -2l5 -9zM289 32l-6 9l-4 -3l6 -9zM215 9l-8 10l-3 -3l8 -10zM283 6l5 3l-2 3l-5 -3zM236 13l6 7l-4 3l-6 -7zM247 17l-3 6l-4 -2l3 -6zM293 17l-11 5l-1 -3l11 -5zM252 -1l-10 8l-2 -2l10 -8zM301 6l-3 4l-4 -4l3 -4zM258 -0l-5 12l-3 -1l5 -12zM315 19l3 7l-4 2l-3 -7zM308 0l6 9l-5 3l-6 -9zM332 26l-2 5l-4 -2l2 -5zM335 22l3 8l-4 2l-3 -8z" fill="rgb(86,86,86)" stroke="rgb(103,103,103)" stroke-width="0.9" stroke-linejoin="round"/><path d="M286 11l2 7l-6 2l-2 -7zM326 15l-2 4l-5 -2l2 -4zM256 29l-3 11l-5 -1l3 -11zM309 12l5 2l-1 4l-5 -2zM294 5l-6 1l-1 -6l6 -1zM242 4l-4 7l-4 -3l4 -7zM257 23l-11 0l-0 -6l11 -0zM284 10l-3 11l-4 -1l3 -11zM268 8l-9 10l-4 -4l9 -10zM223 25l-4 5l-4 -4l4 -5zM313 19l1 12l-5 0l-1 -12zM282 6l5 6l-3 3l-5 -6zM322 25l7 5l-3 4l-7 -5zM289 27l-2 6l-4 -1l2 -6zM269 24l-10 8l-4 -4l10 -8zM241 12l10 4l-1 4l-10 -4zM229 22l-5 4l-3 -4l5 -4zM286 12l9 8l-4 4l-9 -8zM223 14l8 4l-2 4l-8 -4zM230 14l-4 3l-3 -4l4 -3zM260 15l1 12l-3 0l-1 -12zM236 9l-5 3l-2 -3l5 -3zM266 7l7 0l-0 4l-7 -0zM295 20l-7 11l-4 -3l7 -11zM211 3l2 5l-5 2l-2 -5zM321 17l2 10l-4 1l-2 -10zM340 30l-11 6l-3 -5l11 -6z" fill="rgb(93,93,93)" stroke="rgb(111,111,111)" stroke-width="0.9" stroke-linejoin="round"/><path d="M311 20l-3 5l-3 -2l3 -5zM345 18l-8 4l-2 -4l8 -4zM232 27l-3 5l-5 -2l3 -5zM275 5l7 3l-2 4l-7 -3zM303 4l-0 7l-5 -0l0 -7zM274 7l-2 9l-4 -1l2 -9zM273 17l7 7l-3 3l-7 -7zM205 6l-8 6l-3 -4l8 -6zM209 9l-5 6l-2 -2l5 -6zM208 -2l7 11l-3 2l-7 -11zM283 22l1 11l-6 1l-1 -11zM320 22l-0 5l-4 -0l0 -5zM290 31l10 0l-0 4l-10 -0zM261 14l-3 11l-3 -1l3 -11zM221 3l-10 8l-3 -4l10 -8zM297 32l-10 2l-1 -4l10 -2zM254 10l12 5l-1 3l-12 -5zM327 17l-3 4l-5 -3l3 -4zM218 9l1 11l-3 0l-1 -11zM267 22l-8 9l-3 -3l8 -9zM229 8l2 13l-6 1l-2 -13zM298 29l1 6l-5 1l-1 -6zM320 3l-6 9l-4 -2l6 -9zM198 -1l0 8l-5 0l-0 -8zM275 28l-12 0l-0 -4l12 -0zM265 13l-5 12l-3 -1l5 -12zM242 17l5 7l-4 3l-5 -7zM274 33l-3 8l-3 -1l3 -8zM275 30l-0 13l-5 -0l0 -13z" fill="rgb(100,100,100)" stroke="rgb(120,120,120)" stroke-width="0.9" stroke-linejoin="round"/><path d="M224 -1l5 4l-3 5l-5 -4zM306 23l2 4l-4 2l-2 -4zM189 -1l-4 11l-4 -2l4 -11zM236 16l5 3l-2 3l-5 -3zM261 -4l-7 11l-3 -2l7 -11zM331 25l-11 6l-2 -4l11 -6zM312 2l6 3l-2 4l-6 -3zM258 34l5 5l-3 3l-5 -5zM319 3l12 2l-1 3l-12 -2zM310 15l-7 2l-1 -3l7 -2zM225 24l-9 1l-0 -5l9 -1zM225 24l-0 8l-4 -0l0 -8zM273 22l5 9l-3 2l-5 -9zM321 5l6 3l-2 3l-6 -3zM263 23l-6 7l-3 -2l6 -7zM236 13l10 8l-2 2l-10 -8zM249 28l6 3l-2 4l-6 -3zM330 22l-9 7l-3 -4l9 -7zM311 14l-8 1l-0 -4l8 -1zM333 20l-4 10l-5 -2l4 -10zM264 20l13 2l-1 4l-13 -2zM210 -1l6 6l-3 3l-6 -6zM283 30l5 3l-2 3l-5 -3zM322 18l-3 4l-3 -3l3 -4zM245 8l6 10l-5 3l-6 -10zM222 19l5 9l-5 3l-5 -9zM270 27l-2 9l-5 -1l2 -9zM298 14l-5 11l-5 -2l5 -11z" fill="rgb(107,107,107)" stroke="rgb(128,128,128)" stroke-width="0.9" stroke-linejoin="round"/><rect x="174" y="-4" width="170" height="46.6" fill="url(#ovC1)"/></g><path d="M270 40l-3 3l-2 -2l3 -3zM290 29l7 4l-2 4l-7 -4zM299 27l1 8l-3 0l-1 -8zM311 26l3 6l-3 2l-3 -6zM322 25l1 5l-3 1l-1 -5zM336 28l-6 2l-1 -4l6 -2zM333 81l-2 8l-3 -1l2 -8zM323 74l-4 3l-3 -3l4 -3zM278 59l-0 4l-4 -0l0 -4zM265 50l5 0l-0 4l-5 -0zM268 44l1 7l-3 0l-1 -7zM277 39l-8 2l-1 -2l8 -2zM313 26l4 3l-2 3l-4 -3zM324 76l7 4l-2 4l-7 -4zM312 65l2 6l-3 1l-2 -6zM296 65l-4 1l-1 -4l4 -1zM270 57l5 3l-2 3l-5 -3zM270 42l-3 4l-3 -2l3 -4zM281 36l-3 3l-2 -2l3 -3zM303 27l8 2l-1 4l-8 -2zM330 24l2 4l-4 2l-2 -4zM311 66l-2 4l-3 -1l2 -4zM287 37l-7 1l-1 -3l7 -1zM289 32l0 5l-3 0l-0 -5zM299 28l8 2l-1 3l-8 -2zM323 25l4 4l-2 2l-4 -4zM332 84l4 5l-3 3l-4 -5zM318 70l-4 3l-1 -2l4 -3zM301 62l5 2l-1 3l-5 -2zM293 62l7 1l-0 4l-7 -1zM290 63l-7 3l-2 -4l7 -3zM286 63l-8 3l-1 -4l8 -3z" fill="rgb(56,56,56)" transform="translate(0.9 1.3)" opacity="0.8"/><path d="M277 39l-8 2l-1 -2l8 -2zM313 26l4 3l-2 3l-4 -3zM324 76l7 4l-2 4l-7 -4zM312 65l2 6l-3 1l-2 -6zM296 65l-4 1l-1 -4l4 -1zM270 57l5 3l-2 3l-5 -3zM270 42l-3 4l-3 -2l3 -4z" fill="rgb(99,99,99)" stroke="rgb(118,118,118)" stroke-width="0.9" stroke-linejoin="round"/><path d="M270 40l-3 3l-2 -2l3 -3zM290 29l7 4l-2 4l-7 -4zM299 27l1 8l-3 0l-1 -8zM311 26l3 6l-3 2l-3 -6zM322 25l1 5l-3 1l-1 -5zM336 28l-6 2l-1 -4l6 -2zM333 81l-2 8l-3 -1l2 -8zM323 74l-4 3l-3 -3l4 -3zM278 59l-0 4l-4 -0l0 -4zM265 50l5 0l-0 4l-5 -0zM268 44l1 7l-3 0l-1 -7z" fill="rgb(108,108,108)" stroke="rgb(129,129,129)" stroke-width="0.9" stroke-linejoin="round"/><path d="M287 37l-7 1l-1 -3l7 -1zM289 32l0 5l-3 0l-0 -5zM299 28l8 2l-1 3l-8 -2zM323 25l4 4l-2 2l-4 -4zM332 84l4 5l-3 3l-4 -5zM318 70l-4 3l-1 -2l4 -3zM301 62l5 2l-1 3l-5 -2zM293 62l7 1l-0 4l-7 -1zM290 63l-7 3l-2 -4l7 -3zM286 63l-8 3l-1 -4l8 -3z" fill="rgb(116,116,116)" stroke="rgb(139,139,139)" stroke-width="0.9" stroke-linejoin="round"/><path d="M281 36l-3 3l-2 -2l3 -3zM303 27l8 2l-1 4l-8 -2zM330 24l2 4l-4 2l-2 -4zM311 66l-2 4l-3 -1l2 -4z" fill="rgb(124,124,124)" stroke="rgb(148,148,148)" stroke-width="0.9" stroke-linejoin="round"/><g clip-path="url(#clC2)"><rect x="264" y="23" width="80" height="79" fill="url(#rgC2)"/><path d="M335 62l1 7l-4 0l-1 -7zM296 43l-6 4l-2 -4l6 -4zM331 82l11 5l-1 3l-11 -5zM296 40l-5 2l-2 -6l5 -2zM272 37l10 3l-1 4l-10 -3zM322 54l-2 6l-4 -1l2 -6zM305 52l11 4l-2 5l-11 -4zM281 51l8 4l-2 4l-8 -4zM281 52l4 7l-5 3l-4 -7zM275 43l11 7l-3 5l-11 -7zM321 48l-7 3l-2 -5l7 -3zM302 38l-7 2l-1 -4l7 -2zM332 61l6 2l-1 3l-6 -2zM294 53l-5 1l-1 -4l5 -1zM301 37l-7 4l-3 -5l7 -4zM336 31l6 10l-5 3l-6 -10zM324 68l-8 7l-2 -2l8 -7zM317 45l5 11l-5 2l-5 -11zM305 26l7 6l-3 3l-7 -6zM305 53l-11 8l-2 -4l11 -8zM335 37l9 1l-0 6l-9 -1zM314 30l-6 8l-4 -3l6 -8zM324 61l-3 12l-4 -1l3 -12zM333 67l-7 10l-3 -2l7 -10zM309 32l5 5l-3 3l-5 -5zM308 47l7 6l-3 3l-7 -6zM335 33l-6 1l-0 -4l6 -1zM311 52l-5 8l-3 -2l5 -8zM328 40l-1 6l-6 -1l1 -6zM315 54l11 7l-2 4l-11 -7zM281 37l-1 7l-4 -1l1 -7zM327 65l11 1l-1 6l-11 -1zM317 56l-6 10l-5 -3l6 -10zM303 49l1 6l-3 0l-1 -6zM312 42l7 1l-0 3l-7 -1zM333 80l-0 9l-4 -0l0 -9zM335 68l5 5l-3 3l-5 -5zM341 54l-2 9l-5 -1l2 -9zM328 36l-3 5l-5 -3l3 -5zM309 49l3 7l-5 2l-3 -7zM338 88l-7 0l-0 -5l7 -0zM313 66l8 1l-0 4l-8 -1zM274 49l12 1l-0 5l-12 -1zM313 39l-5 8l-4 -2l5 -8zM302 46l-0 9l-5 -0l0 -9zM299 58l10 4l-1 3l-10 -4zM316 41l-8 7l-2 -2l8 -7zM329 51l-11 2l-1 -4l11 -2zM311 33l7 2l-1 3l-7 -2zM319 31l4 9l-4 2l-4 -9zM327 44l-4 8l-5 -2l4 -8zM310 57l6 4l-2 3l-6 -4zM291 45l4 6l-5 3l-4 -6zM284 38l3 5l-4 3l-3 -5zM323 62l8 4l-3 5l-8 -4zM303 53l-12 2l-1 -4l12 -2zM320 35l0 11l-6 0l-0 -11zM331 64l-1 6l-3 -0l1 -6zM297 54l-4 5l-3 -2l4 -5zM290 29l4 6l-5 3l-4 -6zM303 52l-8 3l-1 -5l8 -3zM310 59l-9 1l-0 -5l9 -1zM287 55l-1 7l-4 -1l1 -7zM309 40l-1 9l-5 -1l1 -9zM331 73l2 7l-4 1l-2 -7zM326 53l4 7l-3 2l-4 -7zM322 53l1 9l-3 0l-1 -9zM322 40l-8 4l-2 -4l8 -4zM297 53l-1 5l-3 -1l1 -5zM299 58l-4 7l-4 -2l4 -7zM294 31l-2 11l-3 -0l2 -11zM307 38l-3 8l-3 -1l3 -8zM290 60l7 2l-1 3l-7 -2zM288 48l7 7l-3 3l-7 -7zM341 58l-3 9l-3 -1l3 -9zM282 43l-2 9l-5 -1l2 -9zM343 66l-4 11l-3 -1l4 -11zM341 56l-1 10l-4 -0l1 -10z" fill="rgb(56,56,56)" transform="translate(0.9 1.3)" opacity="0.8"/><path d="M324 68l-8 7l-2 -2l8 -7zM317 45l5 11l-5 2l-5 -11zM305 26l7 6l-3 3l-7 -6zM305 53l-11 8l-2 -4l11 -8zM335 37l9 1l-0 6l-9 -1zM314 30l-6 8l-4 -3l6 -8zM324 61l-3 12l-4 -1l3 -12zM333 67l-7 10l-3 -2l7 -10zM309 32l5 5l-3 3l-5 -5zM308 47l7 6l-3 3l-7 -6zM335 33l-6 1l-0 -4l6 -1zM311 52l-5 8l-3 -2l5 -8zM328 40l-1 6l-6 -1l1 -6zM315 54l11 7l-2 4l-11 -7zM281 37l-1 7l-4 -1l1 -7zM327 65l11 1l-1 6l-11 -1zM317 56l-6 10l-5 -3l6 -10zM303 49l1 6l-3 0l-1 -6zM312 42l7 1l-0 3l-7 -1zM333 80l-0 9l-4 -0l0 -9z" fill="rgb(91,91,91)" stroke="rgb(109,109,109)" stroke-width="0.9" stroke-linejoin="round"/><path d="M327 44l-4 8l-5 -2l4 -8zM310 57l6 4l-2 3l-6 -4zM291 45l4 6l-5 3l-4 -6zM284 38l3 5l-4 3l-3 -5zM323 62l8 4l-3 5l-8 -4zM303 53l-12 2l-1 -4l12 -2zM320 35l0 11l-6 0l-0 -11zM331 64l-1 6l-3 -0l1 -6zM297 54l-4 5l-3 -2l4 -5zM290 29l4 6l-5 3l-4 -6zM303 52l-8 3l-1 -5l8 -3zM310 59l-9 1l-0 -5l9 -1zM287 55l-1 7l-4 -1l1 -7zM309 40l-1 9l-5 -1l1 -9z" fill="rgb(99,99,99)" stroke="rgb(118,118,118)" stroke-width="0.9" stroke-linejoin="round"/><path d="M331 73l2 7l-4 1l-2 -7zM326 53l4 7l-3 2l-4 -7zM322 53l1 9l-3 0l-1 -9zM322 40l-8 4l-2 -4l8 -4zM297 53l-1 5l-3 -1l1 -5zM299 58l-4 7l-4 -2l4 -7zM294 31l-2 11l-3 -0l2 -11zM307 38l-3 8l-3 -1l3 -8zM290 60l7 2l-1 3l-7 -2zM288 48l7 7l-3 3l-7 -7zM341 58l-3 9l-3 -1l3 -9zM282 43l-2 9l-5 -1l2 -9zM343 66l-4 11l-3 -1l4 -11zM341 56l-1 10l-4 -0l1 -10z" fill="rgb(108,108,108)" stroke="rgb(129,129,129)" stroke-width="0.9" stroke-linejoin="round"/><path d="M335 68l5 5l-3 3l-5 -5zM341 54l-2 9l-5 -1l2 -9zM328 36l-3 5l-5 -3l3 -5zM309 49l3 7l-5 2l-3 -7zM338 88l-7 0l-0 -5l7 -0zM313 66l8 1l-0 4l-8 -1zM274 49l12 1l-0 5l-12 -1zM313 39l-5 8l-4 -2l5 -8zM302 46l-0 9l-5 -0l0 -9zM299 58l10 4l-1 3l-10 -4zM316 41l-8 7l-2 -2l8 -7zM329 51l-11 2l-1 -4l11 -2zM311 33l7 2l-1 3l-7 -2zM319 31l4 9l-4 2l-4 -9z" fill="rgb(116,116,116)" stroke="rgb(139,139,139)" stroke-width="0.9" stroke-linejoin="round"/><path d="M335 62l1 7l-4 0l-1 -7zM296 43l-6 4l-2 -4l6 -4zM331 82l11 5l-1 3l-11 -5zM296 40l-5 2l-2 -6l5 -2zM272 37l10 3l-1 4l-10 -3zM322 54l-2 6l-4 -1l2 -6zM305 52l11 4l-2 5l-11 -4zM281 51l8 4l-2 4l-8 -4zM281 52l4 7l-5 3l-4 -7zM275 43l11 7l-3 5l-11 -7zM321 48l-7 3l-2 -5l7 -3zM302 38l-7 2l-1 -4l7 -2zM332 61l6 2l-1 3l-6 -2zM294 53l-5 1l-1 -4l5 -1zM301 37l-7 4l-3 -5l7 -4zM336 31l6 10l-5 3l-6 -10z" fill="rgb(124,124,124)" stroke="rgb(148,148,148)" stroke-width="0.9" stroke-linejoin="round"/><rect x="264" y="23" width="80" height="79" fill="url(#ovC2)"/></g><path d="M11 145l-8 2l-1 -4l8 -2zM8 145l7 3l-2 4l-7 -3zM19 152l0 5l-4 0l-0 -5zM29 158l1 7l-3 0l-1 -7zM51 165l-5 6l-2 -2l5 -6zM51 164l2 4l-4 2l-2 -4zM71 186l-4 1l-1 -4l4 -1zM68 184l0 8l-3 0l-0 -8zM17 194l5 2l-2 4l-5 -2zM16 148l1 7l-4 1l-1 -7zM56 165l2 4l-4 2l-2 -4zM64 171l-4 3l-3 -3l4 -3zM70 192l-7 4l-2 -4l7 -4zM40 194l8 1l-0 4l-8 -1zM21 155l3 3l-3 3l-3 -3zM35 161l7 4l-2 3l-7 -4zM68 169l-1 8l-4 -1l1 -8zM71 177l-2 6l-4 -1l2 -6zM51 194l6 5l-2 2l-6 -5zM51 198l-4 1l-1 -4l4 -1zM23 192l3 7l-3 1l-3 -7zM6 196l7 1l-1 4l-7 -1zM36 161l-3 6l-4 -2l3 -6zM39 162l4 4l-3 3l-4 -4zM62 193l1 8l-4 1l-1 -8zM59 196l3 5l-2 1l-3 -5zM41 194l-4 4l-2 -2l4 -4zM32 192l6 7l-2 2l-6 -7zM33 195l-6 5l-2 -3l6 -5zM15 195l-0 6l-4 -0l0 -6zM6 195l-0 8l-4 -0l0 -8z" fill="rgb(67,67,67)" transform="translate(0.9 1.3)" opacity="0.8"/><path d="M11 145l-8 2l-1 -4l8 -2zM8 145l7 3l-2 4l-7 -3zM19 152l0 5l-4 0l-0 -5zM29 158l1 7l-3 0l-1 -7zM51 165l-5 6l-2 -2l5 -6zM51 164l2 4l-4 2l-2 -4zM71 186l-4 1l-1 -4l4 -1zM68 184l0 8l-3 0l-0 -8zM17 194l5 2l-2 4l-5 -2z" fill="rgb(119,119,119)" stroke="rgb(142,142,142)" stroke-width="0.9" stroke-linejoin="round"/><path d="M36 161l-3 6l-4 -2l3 -6zM39 162l4 4l-3 3l-4 -4zM62 193l1 8l-4 1l-1 -8zM59 196l3 5l-2 1l-3 -5zM41 194l-4 4l-2 -2l4 -4zM32 192l6 7l-2 2l-6 -7zM33 195l-6 5l-2 -3l6 -5zM15 195l-0 6l-4 -0l0 -6zM6 195l-0 8l-4 -0l0 -8z" fill="rgb(129,129,129)" stroke="rgb(154,154,154)" stroke-width="0.9" stroke-linejoin="round"/><path d="M21 155l3 3l-3 3l-3 -3zM35 161l7 4l-2 3l-7 -4zM68 169l-1 8l-4 -1l1 -8zM71 177l-2 6l-4 -1l2 -6zM51 194l6 5l-2 2l-6 -5zM51 198l-4 1l-1 -4l4 -1zM23 192l3 7l-3 1l-3 -7zM6 196l7 1l-1 4l-7 -1z" fill="rgb(139,139,139)" stroke="rgb(166,166,166)" stroke-width="0.9" stroke-linejoin="round"/><path d="M16 148l1 7l-4 1l-1 -7zM56 165l2 4l-4 2l-2 -4zM64 171l-4 3l-3 -3l4 -3zM70 192l-7 4l-2 -4l7 -4zM40 194l8 1l-0 4l-8 -1z" fill="rgb(148,148,148)" stroke="rgb(177,177,177)" stroke-width="0.9" stroke-linejoin="round"/><g clip-path="url(#clK2)"><rect x="-2" y="136" width="74" height="66" fill="url(#rgK2)"/><path d="M9 144l-3 13l-5 -1l3 -13zM7 142l-8 4l-2 -5l8 -4zM15 151l-9 2l-1 -5l9 -2zM31 190l-2 12l-3 -1l2 -12zM40 186l-1 8l-4 -0l1 -8zM39 167l8 7l-3 4l-8 -7zM47 185l-4 8l-3 -1l4 -8zM60 187l5 6l-4 3l-5 -6zM26 171l12 2l-1 4l-12 -2zM13 161l-13 1l-0 -5l13 -1zM13 162l-9 1l-1 -6l9 -1zM39 166l3 10l-6 2l-3 -10zM68 182l-0 7l-6 -0l0 -7zM48 189l-2 6l-4 -2l2 -6zM30 164l8 6l-2 3l-8 -6zM44 187l-7 5l-3 -4l7 -5zM10 156l8 3l-1 3l-8 -3zM38 193l-5 5l-3 -3l5 -5zM21 184l8 3l-1 4l-8 -3zM61 176l11 5l-1 3l-11 -5zM-2 148l11 5l-2 5l-11 -5zM47 176l-11 0l-0 -5l11 -0zM59 195l-3 6l-4 -2l3 -6zM11 149l0 5l-5 0l-0 -5zM34 186l-1 6l-4 -1l1 -6zM56 191l-6 2l-2 -4l6 -2zM16 193l-12 3l-1 -4l12 -3zM50 193l5 9l-3 2l-5 -9zM44 183l-10 2l-1 -4l10 -2zM27 163l-4 12l-3 -1l4 -12zM3 147l-0 10l-5 -0l0 -10zM62 194l-10 2l-1 -4l10 -2zM18 176l10 0l-0 4l-10 -0zM23 174l-6 10l-3 -2l6 -10zM7 191l8 5l-2 4l-8 -5zM31 178l-1 8l-4 -0l1 -8zM14 170l3 4l-3 2l-3 -4zM9 169l5 12l-5 2l-5 -12zM8 154l6 7l-2 2l-6 -7zM20 153l2 7l-5 2l-2 -7zM62 170l5 1l-1 4l-5 -1zM7 158l-6 9l-3 -2l6 -9zM19 154l-4 11l-5 -2l4 -11zM63 190l-6 0l-0 -5l6 -0zM11 180l8 7l-2 3l-8 -7zM26 167l-4 7l-4 -3l4 -7zM29 163l-12 5l-2 -4l12 -5zM10 176l-3 4l-4 -3l3 -4zM50 186l7 6l-3 4l-7 -6zM48 186l-8 1l-0 -5l8 -1zM57 187l5 11l-3 1l-5 -11zM35 177l-11 5l-2 -4l11 -5zM9 186l-8 2l-1 -4l8 -2zM49 186l-3 5l-4 -3l3 -5zM42 194l-6 5l-3 -3l6 -5zM66 180l-6 4l-2 -3l6 -4zM66 186l3 4l-3 2l-3 -4zM47 183l8 6l-3 3l-8 -6zM41 179l6 5l-2 3l-6 -5zM33 172l4 11l-4 1l-4 -11zM46 178l-1 13l-6 -1l1 -13zM29 179l-4 8l-5 -2l4 -8zM25 190l-0 6l-4 -0l0 -6zM56 196l7 0l-0 3l-7 -0zM21 173l-4 7l-3 -2l4 -7zM29 178l-3 6l-5 -2l3 -6zM33 182l5 10l-3 1l-5 -10zM59 181l-7 6l-3 -3l7 -6zM61 179l6 1l-0 3l-6 -1zM16 170l4 6l-4 3l-4 -6zM20 168l2 6l-6 2l-2 -6z" fill="rgb(67,67,67)" transform="translate(0.9 1.3)" opacity="0.8"/><path d="M38 193l-5 5l-3 -3l5 -5zM21 184l8 3l-1 4l-8 -3zM61 176l11 5l-1 3l-11 -5zM-2 148l11 5l-2 5l-11 -5zM47 176l-11 0l-0 -5l11 -0zM59 195l-3 6l-4 -2l3 -6zM11 149l0 5l-5 0l-0 -5zM34 186l-1 6l-4 -1l1 -6zM56 191l-6 2l-2 -4l6 -2zM16 193l-12 3l-1 -4l12 -3z" fill="rgb(109,109,109)" stroke="rgb(130,130,130)" stroke-width="0.9" stroke-linejoin="round"/><path d="M41 179l6 5l-2 3l-6 -5zM33 172l4 11l-4 1l-4 -11zM46 178l-1 13l-6 -1l1 -13zM29 179l-4 8l-5 -2l4 -8zM25 190l-0 6l-4 -0l0 -6zM56 196l7 0l-0 3l-7 -0zM21 173l-4 7l-3 -2l4 -7zM29 178l-3 6l-5 -2l3 -6zM33 182l5 10l-3 1l-5 -10zM59 181l-7 6l-3 -3l7 -6zM61 179l6 1l-0 3l-6 -1zM16 170l4 6l-4 3l-4 -6zM20 168l2 6l-6 2l-2 -6z" fill="rgb(119,119,119)" stroke="rgb(142,142,142)" stroke-width="0.9" stroke-linejoin="round"/><path d="M9 144l-3 13l-5 -1l3 -13zM7 142l-8 4l-2 -5l8 -4zM15 151l-9 2l-1 -5l9 -2zM31 190l-2 12l-3 -1l2 -12zM40 186l-1 8l-4 -0l1 -8zM39 167l8 7l-3 4l-8 -7zM47 185l-4 8l-3 -1l4 -8zM60 187l5 6l-4 3l-5 -6zM26 171l12 2l-1 4l-12 -2zM13 161l-13 1l-0 -5l13 -1zM13 162l-9 1l-1 -6l9 -1zM39 166l3 10l-6 2l-3 -10zM68 182l-0 7l-6 -0l0 -7zM48 189l-2 6l-4 -2l2 -6zM30 164l8 6l-2 3l-8 -6zM44 187l-7 5l-3 -4l7 -5zM10 156l8 3l-1 3l-8 -3z" fill="rgb(129,129,129)" stroke="rgb(154,154,154)" stroke-width="0.9" stroke-linejoin="round"/><path d="M19 154l-4 11l-5 -2l4 -11zM63 190l-6 0l-0 -5l6 -0zM11 180l8 7l-2 3l-8 -7zM26 167l-4 7l-4 -3l4 -7zM29 163l-12 5l-2 -4l12 -5zM10 176l-3 4l-4 -3l3 -4zM50 186l7 6l-3 4l-7 -6zM48 186l-8 1l-0 -5l8 -1zM57 187l5 11l-3 1l-5 -11zM35 177l-11 5l-2 -4l11 -5zM9 186l-8 2l-1 -4l8 -2zM49 186l-3 5l-4 -3l3 -5zM42 194l-6 5l-3 -3l6 -5zM66 180l-6 4l-2 -3l6 -4zM66 186l3 4l-3 2l-3 -4zM47 183l8 6l-3 3l-8 -6z" fill="rgb(139,139,139)" stroke="rgb(166,166,166)" stroke-width="0.9" stroke-linejoin="round"/><path d="M50 193l5 9l-3 2l-5 -9zM44 183l-10 2l-1 -4l10 -2zM27 163l-4 12l-3 -1l4 -12zM3 147l-0 10l-5 -0l0 -10zM62 194l-10 2l-1 -4l10 -2zM18 176l10 0l-0 4l-10 -0zM23 174l-6 10l-3 -2l6 -10zM7 191l8 5l-2 4l-8 -5zM31 178l-1 8l-4 -0l1 -8zM14 170l3 4l-3 2l-3 -4zM9 169l5 12l-5 2l-5 -12zM8 154l6 7l-2 2l-6 -7zM20 153l2 7l-5 2l-2 -7zM62 170l5 1l-1 4l-5 -1zM7 158l-6 9l-3 -2l6 -9z" fill="rgb(148,148,148)" stroke="rgb(177,177,177)" stroke-width="0.9" stroke-linejoin="round"/><rect x="-2" y="136" width="74" height="66" fill="url(#ovK2)"/></g><path d="M12 247l-5 0l-0 -3l5 -0zM15 245l0 5l-3 0l-0 -5zM19 247l-1 5l-3 -1l1 -5zM25 249l5 2l-1 4l-5 -2zM36 251l3 7l-3 1l-3 -7zM42 253l-1 8l-3 -1l1 -8zM46 255l1 4l-3 1l-1 -4zM74 272l4 1l-1 3l-4 -1zM77 275l-2 8l-3 -1l2 -8zM49 285l-6 2l-1 -4l6 -2zM41 284l-4 4l-3 -3l4 -4zM37 283l-6 5l-3 -3l6 -5zM19 265l-4 8l-4 -2l4 -8zM15 261l-6 2l-2 -4l6 -2zM27 250l-5 5l-2 -2l5 -5zM53 254l-3 5l-4 -2l3 -5zM58 253l-4 4l-3 -3l4 -4zM63 247l5 4l-2 3l-5 -4zM70 245l1 7l-3 0l-1 -7zM73 254l6 6l-2 2l-6 -6zM79 261l0 7l-3 0l-0 -7zM70 280l7 2l-1 4l-7 -2zM60 282l-0 5l-3 -0l0 -5zM52 281l6 4l-2 3l-6 -4zM23 276l-5 4l-2 -3l5 -4zM17 266l-5 3l-2 -3l5 -3zM30 252l6 1l-1 3l-6 -1zM76 255l-6 1l-0 -3l6 -1zM73 266l8 4l-2 3l-8 -4zM30 280l-7 4l-2 -3l7 -4zM22 272l-7 3l-1 -3l7 -3zM14 253l-4 7l-3 -2l4 -7zM13 251l-3 6l-4 -2l3 -6zM7 244l4 5l-2 1l-4 -5zM57 250l6 0l-0 3l-6 -0zM66 280l3 6l-3 1l-3 -6zM65 285l-4 1l-1 -4l4 -1zM33 282l-6 4l-2 -3l6 -4z" fill="rgb(61,61,61)" transform="translate(0.9 1.3)" opacity="0.8"/><path d="M12 247l-5 0l-0 -3l5 -0zM15 245l0 5l-3 0l-0 -5zM19 247l-1 5l-3 -1l1 -5zM25 249l5 2l-1 4l-5 -2zM36 251l3 7l-3 1l-3 -7zM42 253l-1 8l-3 -1l1 -8zM46 255l1 4l-3 1l-1 -4zM74 272l4 1l-1 3l-4 -1zM77 275l-2 8l-3 -1l2 -8zM49 285l-6 2l-1 -4l6 -2zM41 284l-4 4l-3 -3l4 -4zM37 283l-6 5l-3 -3l6 -5zM19 265l-4 8l-4 -2l4 -8zM15 261l-6 2l-2 -4l6 -2z" fill="rgb(109,109,109)" stroke="rgb(130,130,130)" stroke-width="0.9" stroke-linejoin="round"/><path d="M27 250l-5 5l-2 -2l5 -5zM53 254l-3 5l-4 -2l3 -5zM58 253l-4 4l-3 -3l4 -4zM63 247l5 4l-2 3l-5 -4zM70 245l1 7l-3 0l-1 -7zM73 254l6 6l-2 2l-6 -6zM79 261l0 7l-3 0l-0 -7zM70 280l7 2l-1 4l-7 -2zM60 282l-0 5l-3 -0l0 -5zM52 281l6 4l-2 3l-6 -4zM23 276l-5 4l-2 -3l5 -4zM17 266l-5 3l-2 -3l5 -3z" fill="rgb(118,118,118)" stroke="rgb(141,141,141)" stroke-width="0.9" stroke-linejoin="round"/><path d="M30 252l6 1l-1 3l-6 -1zM76 255l-6 1l-0 -3l6 -1zM73 266l8 4l-2 3l-8 -4zM30 280l-7 4l-2 -3l7 -4zM22 272l-7 3l-1 -3l7 -3zM14 253l-4 7l-3 -2l4 -7zM13 251l-3 6l-4 -2l3 -6zM7 244l4 5l-2 1l-4 -5z" fill="rgb(127,127,127)" stroke="rgb(152,152,152)" stroke-width="0.9" stroke-linejoin="round"/><path d="M57 250l6 0l-0 3l-6 -0zM66 280l3 6l-3 1l-3 -6zM65 285l-4 1l-1 -4l4 -1zM33 282l-6 4l-2 -3l6 -4z" fill="rgb(136,136,136)" stroke="rgb(163,163,163)" stroke-width="0.9" stroke-linejoin="round"/><g clip-path="url(#clK3)"><rect x="4" y="242" width="77" height="46" fill="url(#rgK3)"/><path d="M33 266l9 2l-1 4l-9 -2zM75 258l-5 8l-3 -2l5 -8zM18 249l6 12l-4 2l-6 -12zM19 264l1 5l-3 1l-1 -5zM65 265l7 9l-3 3l-7 -9zM21 258l6 3l-2 5l-6 -3zM50 275l4 6l-3 2l-4 -6zM56 271l-2 9l-5 -1l2 -9zM17 259l-7 3l-3 -5l7 -3zM40 256l-6 8l-5 -4l6 -8zM23 268l13 0l-0 4l-13 -0zM27 259l-12 2l-1 -3l12 -2zM53 271l-8 10l-3 -2l8 -10zM56 249l11 3l-1 5l-11 -3zM13 246l-5 4l-4 -4l5 -4zM34 260l4 3l-2 3l-4 -3zM72 282l-13 2l-1 -4l13 -2zM65 271l-3 5l-5 -3l3 -5zM76 249l-8 9l-2 -2l8 -9zM70 270l-8 0l-0 -6l8 -0zM42 273l-12 2l-0 -3l12 -2zM69 272l-8 8l-3 -3l8 -8zM31 255l1 6l-5 1l-1 -6zM69 253l-5 6l-2 -2l5 -6zM44 283l10 1l-0 4l-10 -1zM79 253l0 13l-4 0l-0 -13zM66 261l1 6l-6 1l-1 -6zM31 275l3 11l-3 1l-3 -11zM21 266l6 5l-3 3l-6 -5zM50 275l-1 7l-6 -1l1 -7zM57 276l-10 1l-1 -4l10 -1zM43 286l-8 2l-1 -5l8 -2zM33 272l13 1l-1 5l-13 -1zM13 265l8 5l-2 3l-8 -5zM49 258l0 6l-6 0l-0 -6zM22 257l-4 3l-3 -3l4 -3zM31 269l6 4l-3 5l-6 -4zM29 259l3 5l-3 2l-3 -5zM74 281l-5 3l-2 -4l5 -3zM37 278l0 11l-4 0l-0 -11zM71 253l7 1l-1 5l-7 -1zM70 266l-4 12l-3 -1l4 -12zM33 264l11 4l-1 3l-11 -4zM13 258l9 6l-3 4l-9 -6zM64 252l1 12l-4 0l-1 -12zM35 271l7 3l-2 5l-7 -3zM45 265l-9 9l-3 -4l9 -9zM43 277l-3 10l-3 -1l3 -10zM14 248l-3 13l-4 -1l3 -13zM56 260l-2 11l-3 -1l2 -11zM43 266l8 9l-3 3l-8 -9zM31 278l6 7l-3 3l-6 -7zM61 282l-5 4l-2 -3l5 -4zM60 274l-6 7l-4 -4l6 -7zM37 264l-7 10l-3 -2l7 -10zM62 274l-5 3l-2 -3l5 -3zM51 257l1 5l-5 1l-1 -5z" fill="rgb(61,61,61)" transform="translate(0.9 1.3)" opacity="0.8"/><path d="M56 260l-2 11l-3 -1l2 -11zM43 266l8 9l-3 3l-8 -9zM31 278l6 7l-3 3l-6 -7zM61 282l-5 4l-2 -3l5 -4zM60 274l-6 7l-4 -4l6 -7zM37 264l-7 10l-3 -2l7 -10zM62 274l-5 3l-2 -3l5 -3zM51 257l1 5l-5 1l-1 -5z" fill="rgb(100,100,100)" stroke="rgb(120,120,120)" stroke-width="0.9" stroke-linejoin="round"/><path d="M33 266l9 2l-1 4l-9 -2zM75 258l-5 8l-3 -2l5 -8zM18 249l6 12l-4 2l-6 -12zM19 264l1 5l-3 1l-1 -5zM65 265l7 9l-3 3l-7 -9zM21 258l6 3l-2 5l-6 -3zM50 275l4 6l-3 2l-4 -6zM56 271l-2 9l-5 -1l2 -9zM17 259l-7 3l-3 -5l7 -3zM40 256l-6 8l-5 -4l6 -8zM23 268l13 0l-0 4l-13 -0zM27 259l-12 2l-1 -3l12 -2zM53 271l-8 10l-3 -2l8 -10zM56 249l11 3l-1 5l-11 -3zM13 246l-5 4l-4 -4l5 -4z" fill="rgb(109,109,109)" stroke="rgb(130,130,130)" stroke-width="0.9" stroke-linejoin="round"/><path d="M34 260l4 3l-2 3l-4 -3zM72 282l-13 2l-1 -4l13 -2zM65 271l-3 5l-5 -3l3 -5zM76 249l-8 9l-2 -2l8 -9zM70 270l-8 0l-0 -6l8 -0zM42 273l-12 2l-0 -3l12 -2zM69 272l-8 8l-3 -3l8 -8zM31 255l1 6l-5 1l-1 -6z" fill="rgb(118,118,118)" stroke="rgb(141,141,141)" stroke-width="0.9" stroke-linejoin="round"/><path d="M43 286l-8 2l-1 -5l8 -2zM33 272l13 1l-1 5l-13 -1zM13 265l8 5l-2 3l-8 -5zM49 258l0 6l-6 0l-0 -6zM22 257l-4 3l-3 -3l4 -3zM31 269l6 4l-3 5l-6 -4zM29 259l3 5l-3 2l-3 -5zM74 281l-5 3l-2 -4l5 -3zM37 278l0 11l-4 0l-0 -11zM71 253l7 1l-1 5l-7 -1zM70 266l-4 12l-3 -1l4 -12zM33 264l11 4l-1 3l-11 -4zM13 258l9 6l-3 4l-9 -6zM64 252l1 12l-4 0l-1 -12zM35 271l7 3l-2 5l-7 -3zM45 265l-9 9l-3 -4l9 -9zM43 277l-3 10l-3 -1l3 -10zM14 248l-3 13l-4 -1l3 -13z" fill="rgb(127,127,127)" stroke="rgb(152,152,152)" stroke-width="0.9" stroke-linejoin="round"/><path d="M69 253l-5 6l-2 -2l5 -6zM44 283l10 1l-0 4l-10 -1zM79 253l0 13l-4 0l-0 -13zM66 261l1 6l-6 1l-1 -6zM31 275l3 11l-3 1l-3 -11zM21 266l6 5l-3 3l-6 -5zM50 275l-1 7l-6 -1l1 -7zM57 276l-10 1l-1 -4l10 -1z" fill="rgb(136,136,136)" stroke="rgb(163,163,163)" stroke-width="0.9" stroke-linejoin="round"/><rect x="4" y="242" width="77" height="46" fill="url(#ovK3)"/></g><path d="M267 220l-1 5l-3 -0l1 -5zM272 207l-9 1l-0 -2l9 -1zM279 189l-0 5l-4 -0l0 -5zM309 200l-7 4l-1 -2l7 -4zM299 212l-8 1l-1 -4l8 -1zM270 219l4 2l-1 3l-4 -2zM269 216l-6 5l-3 -3l6 -5zM273 199l-1 6l-4 -1l1 -6zM276 198l-6 4l-2 -3l6 -4zM276 191l1 7l-3 0l-1 -7zM286 186l-4 6l-2 -1l4 -6zM292 184l-4 6l-4 -2l4 -6zM311 197l-7 2l-1 -2l7 -2zM262 209l6 3l-1 3l-6 -3zM302 180l6 2l-1 3l-6 -2zM312 187l-3 8l-4 -1l3 -8zM292 182l5 2l-1 3l-5 -2zM300 180l0 8l-3 0l-0 -8zM300 201l5 6l-2 2l-5 -6zM298 204l3 5l-3 1l-3 -5zM292 214l-6 6l-2 -2l6 -6zM285 213l4 8l-3 2l-4 -8zM285 219l-6 5l-2 -3l6 -5zM282 221l-5 3l-2 -3l5 -3z" fill="rgb(50,50,50)" transform="translate(0.9 1.3)" opacity="0.8"/><path d="M269 216l-6 5l-3 -3l6 -5zM273 199l-1 6l-4 -1l1 -6zM276 198l-6 4l-2 -3l6 -4zM276 191l1 7l-3 0l-1 -7zM286 186l-4 6l-2 -1l4 -6zM292 184l-4 6l-4 -2l4 -6zM311 197l-7 2l-1 -2l7 -2z" fill="rgb(90,90,90)" stroke="rgb(108,108,108)" stroke-width="0.9" stroke-linejoin="round"/><path d="M262 209l6 3l-1 3l-6 -3zM302 180l6 2l-1 3l-6 -2zM312 187l-3 8l-4 -1l3 -8z" fill="rgb(97,97,97)" stroke="rgb(116,116,116)" stroke-width="0.9" stroke-linejoin="round"/><path d="M292 182l5 2l-1 3l-5 -2zM300 180l0 8l-3 0l-0 -8zM300 201l5 6l-2 2l-5 -6zM298 204l3 5l-3 1l-3 -5zM292 214l-6 6l-2 -2l6 -6zM285 213l4 8l-3 2l-4 -8zM285 219l-6 5l-2 -3l6 -5zM282 221l-5 3l-2 -3l5 -3z" fill="rgb(104,104,104)" stroke="rgb(124,124,124)" stroke-width="0.9" stroke-linejoin="round"/><path d="M267 220l-1 5l-3 -0l1 -5zM272 207l-9 1l-0 -2l9 -1zM279 189l-0 5l-4 -0l0 -5zM309 200l-7 4l-1 -2l7 -4zM299 212l-8 1l-1 -4l8 -1zM270 219l4 2l-1 3l-4 -2z" fill="rgb(112,112,112)" stroke="rgb(134,134,134)" stroke-width="0.9" stroke-linejoin="round"/><g clip-path="url(#clJ)"><rect x="261.8" y="180.3" width="50.0" height="44.69999999999999" fill="url(#rgJ)"/><path d="M299 200l-7 11l-3 -2l7 -11zM263 207l6 3l-2 3l-6 -3zM295 202l5 2l-1 3l-5 -2zM293 183l-2 6l-5 -2l2 -6zM287 189l8 3l-2 5l-8 -3zM280 206l-5 13l-3 -1l5 -13zM288 212l-5 1l-1 -3l5 -1zM286 199l5 6l-2 2l-5 -6zM289 209l-5 8l-3 -2l5 -8zM274 212l4 5l-5 4l-4 -5zM270 217l5 5l-3 3l-5 -5zM264 210l9 6l-2 3l-9 -6zM281 201l3 6l-4 2l-3 -6zM306 196l2 5l-3 2l-2 -5zM297 180l9 6l-2 4l-9 -6zM285 216l-4 7l-3 -1l4 -7zM310 191l-9 9l-4 -4l9 -9zM293 188l8 8l-3 2l-8 -8zM286 212l-6 3l-3 -5l6 -3zM293 202l5 5l-2 2l-5 -5zM297 189l12 2l-1 4l-12 -2zM296 208l1 5l-4 1l-1 -5zM283 192l6 2l-1 4l-6 -2zM270 193l8 2l-1 5l-8 -2zM270 203l8 10l-4 4l-8 -10zM285 212l-5 5l-2 -3l5 -5zM296 181l6 7l-3 3l-6 -7zM280 207l5 1l-1 6l-5 -1zM285 213l-4 11l-5 -2l4 -11zM288 211l-8 5l-3 -5l8 -5zM274 195l7 7l-4 4l-7 -7z" fill="rgb(50,50,50)" transform="translate(0.9 1.3)" opacity="0.8"/><path d="M293 188l8 8l-3 2l-8 -8zM286 212l-6 3l-3 -5l6 -3zM293 202l5 5l-2 2l-5 -5zM297 189l12 2l-1 4l-12 -2zM296 208l1 5l-4 1l-1 -5z" fill="rgb(82,82,82)" stroke="rgb(98,98,98)" stroke-width="0.9" stroke-linejoin="round"/><path d="M283 192l6 2l-1 4l-6 -2zM270 193l8 2l-1 5l-8 -2zM270 203l8 10l-4 4l-8 -10zM285 212l-5 5l-2 -3l5 -5zM296 181l6 7l-3 3l-6 -7zM280 207l5 1l-1 6l-5 -1zM285 213l-4 11l-5 -2l4 -11zM288 211l-8 5l-3 -5l8 -5zM274 195l7 7l-4 4l-7 -7z" fill="rgb(90,90,90)" stroke="rgb(108,108,108)" stroke-width="0.9" stroke-linejoin="round"/><path d="M270 217l5 5l-3 3l-5 -5zM264 210l9 6l-2 3l-9 -6zM281 201l3 6l-4 2l-3 -6zM306 196l2 5l-3 2l-2 -5zM297 180l9 6l-2 4l-9 -6zM285 216l-4 7l-3 -1l4 -7zM310 191l-9 9l-4 -4l9 -9z" fill="rgb(97,97,97)" stroke="rgb(116,116,116)" stroke-width="0.9" stroke-linejoin="round"/><path d="M280 206l-5 13l-3 -1l5 -13zM288 212l-5 1l-1 -3l5 -1zM286 199l5 6l-2 2l-5 -6zM289 209l-5 8l-3 -2l5 -8zM274 212l4 5l-5 4l-4 -5z" fill="rgb(104,104,104)" stroke="rgb(124,124,124)" stroke-width="0.9" stroke-linejoin="round"/><path d="M299 200l-7 11l-3 -2l7 -11zM263 207l6 3l-2 3l-6 -3zM295 202l5 2l-1 3l-5 -2zM293 183l-2 6l-5 -2l2 -6zM287 189l8 3l-2 5l-8 -3z" fill="rgb(112,112,112)" stroke="rgb(134,134,134)" stroke-width="0.9" stroke-linejoin="round"/><rect x="261.8" y="180.3" width="50.0" height="44.69999999999999" fill="url(#ovJ)"/></g><g clip-path="url(#clF3)"><rect x="211" y="227" width="38" height="25" fill="url(#rgF3)"/><path d="M227 242l-2 6l-4 -1l2 -6zM226 250l-8 1l-0 -3l8 -1zM240 233l-8 11l-3 -2l8 -11zM216 240l1 7l-4 1l-1 -7zM235 239l-13 2l-1 -5l13 -2zM244 225l3 11l-3 1l-3 -11zM243 230l-1 9l-6 -1l1 -9zM235 236l4 10l-5 2l-4 -10zM235 242l-3 11l-5 -1l3 -11zM247 229l2 5l-5 2l-2 -5zM233 240l-9 3l-2 -5l9 -3zM226 226l4 11l-4 2l-4 -11zM224 232l13 5l-2 5l-13 -5zM240 245l-7 4l-2 -3l7 -4zM231 247l-13 2l-1 -6l13 -2zM234 243l-3 10l-5 -1l3 -10zM229 241l-5 7l-3 -2l5 -7z" fill="rgb(41,41,41)" transform="translate(0.9 1.3)" opacity="0.8"/><path d="M227 242l-2 6l-4 -1l2 -6zM226 250l-8 1l-0 -3l8 -1zM240 233l-8 11l-3 -2l8 -11zM216 240l1 7l-4 1l-1 -7z" fill="rgb(67,67,67)" stroke="rgb(80,80,80)" stroke-width="0.9" stroke-linejoin="round"/><path d="M235 239l-13 2l-1 -5l13 -2zM244 225l3 11l-3 1l-3 -11zM243 230l-1 9l-6 -1l1 -9zM235 236l4 10l-5 2l-4 -10z" fill="rgb(73,73,73)" stroke="rgb(87,87,87)" stroke-width="0.9" stroke-linejoin="round"/><path d="M233 240l-9 3l-2 -5l9 -3zM226 226l4 11l-4 2l-4 -11zM224 232l13 5l-2 5l-13 -5zM240 245l-7 4l-2 -3l7 -4z" fill="rgb(79,79,79)" stroke="rgb(94,94,94)" stroke-width="0.9" stroke-linejoin="round"/><path d="M231 247l-13 2l-1 -6l13 -2zM234 243l-3 10l-5 -1l3 -10zM229 241l-5 7l-3 -2l5 -7z" fill="rgb(85,85,85)" stroke="rgb(102,102,102)" stroke-width="0.9" stroke-linejoin="round"/><path d="M235 242l-3 11l-5 -1l3 -11zM247 229l2 5l-5 2l-2 -5z" fill="rgb(91,91,91)" stroke="rgb(109,109,109)" stroke-width="0.9" stroke-linejoin="round"/></g><path d="M168 197l-2 4l-2 -1l2 -4zM195 182l-8 2l-1 -4l8 -2zM197 179l3 4l-3 2l-3 -4zM213 183l1 5l-4 1l-1 -5zM222 185l2 4l-3 2l-2 -4zM252 183l7 2l-1 3l-7 -2zM269 191l2 4l-3 2l-2 -4zM268 194l5 6l-3 3l-5 -6zM264 202l5 1l-1 3l-5 -1zM262 214l-3 3l-3 -3l3 -3zM257 216l-1 6l-4 -0l1 -6zM247 219l4 7l-3 2l-4 -7zM195 241l-9 2l-1 -4l9 -2zM175 234l-8 2l-1 -4l8 -2zM169 220l-5 2l-1 -2l5 -2zM170 193l-3 3l-3 -3l3 -3zM183 176l3 3l-3 3l-3 -3zM187 177l4 4l-3 2l-4 -4zM230 186l3 4l-2 1l-3 -4zM236 184l3 5l-3 2l-3 -5zM243 187l-3 3l-2 -2l3 -3zM252 182l-0 7l-3 -0l0 -7zM269 186l2 6l-4 1l-2 -6zM226 230l5 5l-3 3l-5 -5zM224 238l-6 0l-0 -4l6 -0zM212 233l3 6l-4 2l-3 -6zM204 234l4 7l-3 2l-4 -7zM202 236l2 6l-3 1l-2 -6zM188 239l-5 4l-2 -3l5 -4zM165 219l5 4l-2 2l-5 -4zM167 198l1 8l-3 0l-1 -8zM167 186l4 1l-1 3l-4 -1zM172 184l-3 3l-2 -2l3 -3zM178 183l-6 1l-0 -3l6 -1zM201 181l5 1l-1 4l-5 -1zM212 184l-6 4l-3 -3l6 -4zM219 184l-3 7l-3 -1l3 -7zM244 184l6 3l-1 3l-6 -3zM265 186l-5 4l-2 -3l5 -4zM252 218l1 5l-4 1l-1 -5zM180 234l4 6l-3 2l-4 -6zM174 230l4 7l-4 2l-4 -7zM170 213l-6 6l-3 -3l6 -6zM176 176l5 7l-3 2l-5 -7zM225 184l4 6l-3 3l-4 -6zM266 209l-5 4l-2 -2l5 -4zM239 225l6 2l-1 4l-6 -2zM236 228l4 5l-2 2l-4 -5zM234 233l-3 3l-3 -3l3 -3zM217 236l-2 4l-2 -1l2 -4zM191 238l8 0l-0 4l-8 -0zM173 228l-8 1l-1 -4l8 -1zM168 206l0 6l-4 0l-0 -6z" fill="rgb(75,75,75)" transform="translate(0.9 1.3)" opacity="0.8"/><path d="M168 197l-2 4l-2 -1l2 -4zM195 182l-8 2l-1 -4l8 -2zM197 179l3 4l-3 2l-3 -4zM213 183l1 5l-4 1l-1 -5zM222 185l2 4l-3 2l-2 -4zM252 183l7 2l-1 3l-7 -2zM269 191l2 4l-3 2l-2 -4zM268 194l5 6l-3 3l-5 -6zM264 202l5 1l-1 3l-5 -1zM262 214l-3 3l-3 -3l3 -3zM257 216l-1 6l-4 -0l1 -6zM247 219l4 7l-3 2l-4 -7zM195 241l-9 2l-1 -4l9 -2zM175 234l-8 2l-1 -4l8 -2zM169 220l-5 2l-1 -2l5 -2z" fill="rgb(135,135,135)" stroke="rgb(162,162,162)" stroke-width="0.9" stroke-linejoin="round"/><path d="M167 186l4 1l-1 3l-4 -1zM172 184l-3 3l-2 -2l3 -3zM178 183l-6 1l-0 -3l6 -1zM201 181l5 1l-1 4l-5 -1zM212 184l-6 4l-3 -3l6 -4zM219 184l-3 7l-3 -1l3 -7zM244 184l6 3l-1 3l-6 -3zM265 186l-5 4l-2 -3l5 -4zM252 218l1 5l-4 1l-1 -5zM180 234l4 6l-3 2l-4 -6zM174 230l4 7l-4 2l-4 -7zM170 213l-6 6l-3 -3l6 -6z" fill="rgb(146,146,146)" stroke="rgb(175,175,175)" stroke-width="0.9" stroke-linejoin="round"/><path d="M170 193l-3 3l-3 -3l3 -3zM183 176l3 3l-3 3l-3 -3zM187 177l4 4l-3 2l-4 -4zM230 186l3 4l-2 1l-3 -4zM236 184l3 5l-3 2l-3 -5zM243 187l-3 3l-2 -2l3 -3zM252 182l-0 7l-3 -0l0 -7zM269 186l2 6l-4 1l-2 -6zM226 230l5 5l-3 3l-5 -5zM224 238l-6 0l-0 -4l6 -0zM212 233l3 6l-4 2l-3 -6zM204 234l4 7l-3 2l-4 -7zM202 236l2 6l-3 1l-2 -6zM188 239l-5 4l-2 -3l5 -4zM165 219l5 4l-2 2l-5 -4zM167 198l1 8l-3 0l-1 -8z" fill="rgb(157,157,157)" stroke="rgb(188,188,188)" stroke-width="0.9" stroke-linejoin="round"/><path d="M176 176l5 7l-3 2l-5 -7zM225 184l4 6l-3 3l-4 -6zM266 209l-5 4l-2 -2l5 -4zM239 225l6 2l-1 4l-6 -2zM236 228l4 5l-2 2l-4 -5zM234 233l-3 3l-3 -3l3 -3zM217 236l-2 4l-2 -1l2 -4zM191 238l8 0l-0 4l-8 -0zM173 228l-8 1l-1 -4l8 -1zM168 206l0 6l-4 0l-0 -6z" fill="rgb(168,168,168)" stroke="rgb(201,201,201)" stroke-width="0.9" stroke-linejoin="round"/><g clip-path="url(#clF2)"><rect x="163" y="176" width="109.39999999999998" height="67.5" fill="url(#rgF2)"/><path d="M254 211l7 2l-1 5l-7 -2zM208 236l-7 4l-1 -3l7 -4zM186 213l-8 12l-4 -2l8 -12zM235 204l-2 9l-4 -1l2 -9zM204 195l-1 16l-6 -0l1 -16zM222 221l-6 4l-3 -4l6 -4zM204 202l-8 5l-3 -5l8 -5zM239 198l-10 0l-0 -6l10 -0zM185 221l-4 5l-4 -4l4 -5zM227 230l6 4l-2 3l-6 -4zM178 226l5 5l-3 2l-5 -5zM241 227l-8 1l-1 -4l8 -1zM174 209l14 9l-2 4l-14 -9zM246 202l-16 2l-1 -5l16 -2zM188 238l7 1l-1 3l-7 -1zM193 193l-7 1l-1 -5l7 -1zM244 199l-15 9l-2 -3l15 -9zM228 216l7 3l-2 5l-7 -3zM224 226l7 2l-1 4l-7 -2zM183 192l2 9l-6 1l-2 -9zM252 195l-4 5l-2 -2l4 -5zM241 194l-6 4l-3 -5l6 -4zM260 207l-2 17l-5 -1l2 -17zM223 190l9 1l-0 4l-9 -1zM242 222l-2 12l-4 -0l2 -12zM176 178l1 10l-4 1l-1 -10zM232 183l-1 12l-4 -0l1 -12zM234 193l15 1l-0 4l-15 -1zM194 177l-5 15l-4 -1l5 -15zM263 187l6 6l-4 4l-6 -6zM270 190l-4 7l-4 -2l4 -7zM225 189l8 2l-1 5l-8 -2zM241 206l-14 7l-2 -4l14 -7zM211 187l-3 7l-5 -2l3 -7zM250 201l4 8l-4 2l-4 -8zM185 221l-4 5l-3 -2l4 -5zM184 196l-6 6l-3 -3l6 -6zM237 218l-8 7l-3 -4l8 -7zM226 232l-2 6l-4 -1l2 -6zM220 228l-1 6l-4 -1l1 -6zM211 233l3 6l-5 2l-3 -6zM205 219l-10 10l-4 -4l10 -10zM168 204l5 4l-3 4l-5 -4zM267 186l-6 15l-4 -2l6 -15zM235 190l-16 1l-0 -4l16 -1zM225 215l-8 12l-3 -2l8 -12zM248 197l-8 1l-1 -4l8 -1zM250 210l8 7l-3 3l-8 -7zM240 227l-4 10l-4 -1l4 -10zM184 178l3 6l-3 2l-3 -6zM174 177l3 8l-4 1l-3 -8zM215 219l-5 4l-2 -3l5 -4zM240 186l-13 9l-3 -4l13 -9zM179 193l-7 3l-2 -5l7 -3zM214 215l-5 4l-3 -3l5 -4zM235 211l6 12l-3 2l-6 -12zM237 190l1 6l-3 1l-1 -6zM265 195l-0 10l-5 -0l0 -10zM204 212l-4 11l-4 -1l4 -11zM176 174l14 8l-2 3l-14 -8zM231 185l16 1l-0 5l-16 -1zM249 186l15 6l-2 4l-15 -6zM203 232l5 3l-2 5l-5 -3zM217 227l-6 7l-4 -4l6 -7zM225 201l3 12l-3 1l-3 -12zM211 190l0 17l-5 0l-0 -17zM254 211l9 6l-3 5l-9 -6zM243 220l-2 8l-4 -1l2 -8zM169 193l-2 14l-5 -1l2 -14zM194 232l-9 1l-0 -4l9 -1zM186 207l8 7l-3 4l-8 -7zM258 195l2 11l-4 1l-2 -11zM211 185l9 8l-2 3l-9 -8zM210 193l-2 12l-4 -1l2 -12zM169 182l6 2l-2 5l-6 -2zM182 183l5 12l-5 2l-5 -12zM204 189l7 4l-3 5l-7 -4zM202 222l-2 9l-5 -1l2 -9zM181 231l6 6l-4 4l-6 -6zM231 231l-6 2l-1 -3l6 -2zM257 197l11 5l-2 3l-11 -5zM218 200l3 14l-5 1l-3 -14zM195 225l-7 6l-4 -4l7 -6zM187 181l-6 4l-3 -5l6 -4zM206 207l6 7l-3 3l-6 -7zM189 234l15 3l-1 4l-15 -3zM192 196l0 7l-5 0l-0 -7zM261 203l-7 8l-3 -2l7 -8zM175 195l6 4l-2 2l-6 -4zM224 210l6 6l-2 2l-6 -6zM231 216l9 6l-2 4l-9 -6zM248 209l5 5l-3 2l-5 -5zM228 212l-7 13l-4 -2l7 -13zM204 198l-16 1l-0 -6l16 -1zM168 206l14 5l-2 5l-14 -5zM238 224l-3 5l-4 -3l3 -5zM255 219l-5 3l-3 -5l5 -3zM228 221l8 1l-0 3l-8 -1zM253 212l10 3l-1 5l-10 -3zM212 197l5 4l-3 4l-5 -4zM272 198l-13 8l-3 -5l13 -8zM239 190l-8 1l-0 -4l8 -1zM202 235l-13 4l-1 -4l13 -4zM250 188l4 7l-5 3l-4 -7zM200 184l-0 14l-3 -0l0 -14zM223 189l1 15l-3 0l-1 -15zM243 186l2 11l-4 1l-2 -11zM215 204l-10 7l-3 -5l10 -7zM210 195l-10 5l-2 -5l10 -5zM186 222l2 10l-3 1l-2 -10zM229 210l-0 10l-3 -0l0 -10zM208 190l11 1l-0 6l-11 -1zM227 198l4 5l-4 4l-4 -5zM247 217l2 16l-6 1l-2 -16zM244 222l-4 6l-3 -2l4 -6zM240 199l1 8l-4 0l-1 -8zM202 202l4 12l-5 2l-4 -12zM247 213l6 3l-2 4l-6 -3zM218 217l-8 2l-1 -5l8 -2zM167 224l12 7l-2 3l-12 -7zM182 212l0 7l-4 0l-0 -7zM202 199l3 6l-3 2l-3 -6zM249 202l-13 2l-1 -6l13 -2zM264 201l2 8l-5 1l-2 -8zM252 210l-4 5l-4 -3l4 -5zM192 203l-13 2l-1 -4l13 -2zM216 209l-6 13l-5 -2l6 -13zM227 231l-9 6l-2 -3l9 -6zM269 188l-13 5l-2 -4l13 -5zM220 234l-9 8l-2 -2l9 -8zM251 194l-4 10l-5 -2l4 -10zM234 221l6 2l-1 3l-6 -2zM173 222l5 5l-4 4l-5 -5zM240 206l5 6l-4 3l-5 -6zM208 189l11 3l-2 5l-11 -3zM231 189l10 2l-1 5l-10 -2zM239 194l3 14l-4 1l-3 -14zM180 196l-6 12l-5 -3l6 -12zM204 212l7 5l-2 3l-7 -5zM187 194l7 7l-3 4l-7 -7zM247 200l2 17l-3 0l-2 -17zM224 184l11 6l-2 4l-11 -6zM215 194l7 14l-3 2l-7 -14zM192 233l-2 13l-5 -1l2 -13zM245 194l1 7l-5 1l-1 -7zM233 189l-1 7l-5 -1l1 -7zM264 201l-10 6l-2 -4l10 -6z" fill="rgb(75,75,75)" transform="translate(0.9 1.3)" opacity="0.8"/><path d="M270 190l-4 7l-4 -2l4 -7zM225 189l8 2l-1 5l-8 -2zM241 206l-14 7l-2 -4l14 -7zM211 187l-3 7l-5 -2l3 -7zM250 201l4 8l-4 2l-4 -8zM185 221l-4 5l-3 -2l4 -5zM184 196l-6 6l-3 -3l6 -6zM237 218l-8 7l-3 -4l8 -7zM226 232l-2 6l-4 -1l2 -6zM220 228l-1 6l-4 -1l1 -6zM211 233l3 6l-5 2l-3 -6zM205 219l-10 10l-4 -4l10 -10zM168 204l5 4l-3 4l-5 -4zM267 186l-6 15l-4 -2l6 -15zM235 190l-16 1l-0 -4l16 -1zM225 215l-8 12l-3 -2l8 -12zM248 197l-8 1l-1 -4l8 -1zM250 210l8 7l-3 3l-8 -7zM240 227l-4 10l-4 -1l4 -10zM184 178l3 6l-3 2l-3 -6zM174 177l3 8l-4 1l-3 -8zM215 219l-5 4l-2 -3l5 -4zM240 186l-13 9l-3 -4l13 -9zM179 193l-7 3l-2 -5l7 -3zM214 215l-5 4l-3 -3l5 -4zM235 211l6 12l-3 2l-6 -12zM237 190l1 6l-3 1l-1 -6zM265 195l-0 10l-5 -0l0 -10zM204 212l-4 11l-4 -1l4 -11zM176 174l14 8l-2 3l-14 -8zM231 185l16 1l-0 5l-16 -1zM249 186l15 6l-2 4l-15 -6zM203 232l5 3l-2 5l-5 -3zM217 227l-6 7l-4 -4l6 -7z" fill="rgb(124,124,124)" stroke="rgb(148,148,148)" stroke-width="0.9" stroke-linejoin="round"/><path d="M225 201l3 12l-3 1l-3 -12zM211 190l0 17l-5 0l-0 -17zM254 211l9 6l-3 5l-9 -6zM243 220l-2 8l-4 -1l2 -8zM169 193l-2 14l-5 -1l2 -14zM194 232l-9 1l-0 -4l9 -1zM186 207l8 7l-3 4l-8 -7zM258 195l2 11l-4 1l-2 -11zM211 185l9 8l-2 3l-9 -8zM210 193l-2 12l-4 -1l2 -12zM169 182l6 2l-2 5l-6 -2zM182 183l5 12l-5 2l-5 -12zM204 189l7 4l-3 5l-7 -4zM202 222l-2 9l-5 -1l2 -9zM181 231l6 6l-4 4l-6 -6zM231 231l-6 2l-1 -3l6 -2zM257 197l11 5l-2 3l-11 -5zM218 200l3 14l-5 1l-3 -14zM195 225l-7 6l-4 -4l7 -6zM187 181l-6 4l-3 -5l6 -4zM206 207l6 7l-3 3l-6 -7zM189 234l15 3l-1 4l-15 -3zM192 196l0 7l-5 0l-0 -7zM261 203l-7 8l-3 -2l7 -8zM175 195l6 4l-2 2l-6 -4zM224 210l6 6l-2 2l-6 -6zM231 216l9 6l-2 4l-9 -6zM248 209l5 5l-3 2l-5 -5zM228 212l-7 13l-4 -2l7 -13zM204 198l-16 1l-0 -6l16 -1z" fill="rgb(135,135,135)" stroke="rgb(162,162,162)" stroke-width="0.9" stroke-linejoin="round"/><path d="M168 206l14 5l-2 5l-14 -5zM238 224l-3 5l-4 -3l3 -5zM255 219l-5 3l-3 -5l5 -3zM228 221l8 1l-0 3l-8 -1zM253 212l10 3l-1 5l-10 -3zM212 197l5 4l-3 4l-5 -4zM272 198l-13 8l-3 -5l13 -8zM239 190l-8 1l-0 -4l8 -1zM202 235l-13 4l-1 -4l13 -4zM250 188l4 7l-5 3l-4 -7zM200 184l-0 14l-3 -0l0 -14zM223 189l1 15l-3 0l-1 -15zM243 186l2 11l-4 1l-2 -11zM215 204l-10 7l-3 -5l10 -7zM210 195l-10 5l-2 -5l10 -5zM186 222l2 10l-3 1l-2 -10zM229 210l-0 10l-3 -0l0 -10zM208 190l11 1l-0 6l-11 -1zM227 198l4 5l-4 4l-4 -5zM247 217l2 16l-6 1l-2 -16zM244 222l-4 6l-3 -2l4 -6zM240 199l1 8l-4 0l-1 -8zM202 202l4 12l-5 2l-4 -12z" fill="rgb(146,146,146)" stroke="rgb(175,175,175)" stroke-width="0.9" stroke-linejoin="round"/><path d="M247 213l6 3l-2 4l-6 -3zM218 217l-8 2l-1 -5l8 -2zM167 224l12 7l-2 3l-12 -7zM182 212l0 7l-4 0l-0 -7zM202 199l3 6l-3 2l-3 -6zM249 202l-13 2l-1 -6l13 -2zM264 201l2 8l-5 1l-2 -8zM252 210l-4 5l-4 -3l4 -5zM192 203l-13 2l-1 -4l13 -2zM216 209l-6 13l-5 -2l6 -13zM227 231l-9 6l-2 -3l9 -6zM269 188l-13 5l-2 -4l13 -5zM220 234l-9 8l-2 -2l9 -8zM251 194l-4 10l-5 -2l4 -10zM234 221l6 2l-1 3l-6 -2zM173 222l5 5l-4 4l-5 -5zM240 206l5 6l-4 3l-5 -6zM208 189l11 3l-2 5l-11 -3zM231 189l10 2l-1 5l-10 -2zM239 194l3 14l-4 1l-3 -14zM180 196l-6 12l-5 -3l6 -12zM204 212l7 5l-2 3l-7 -5zM187 194l7 7l-3 4l-7 -7zM247 200l2 17l-3 0l-2 -17zM224 184l11 6l-2 4l-11 -6zM215 194l7 14l-3 2l-7 -14zM192 233l-2 13l-5 -1l2 -13zM245 194l1 7l-5 1l-1 -7zM233 189l-1 7l-5 -1l1 -7zM264 201l-10 6l-2 -4l10 -6z" fill="rgb(157,157,157)" stroke="rgb(188,188,188)" stroke-width="0.9" stroke-linejoin="round"/><path d="M254 211l7 2l-1 5l-7 -2zM208 236l-7 4l-1 -3l7 -4zM186 213l-8 12l-4 -2l8 -12zM235 204l-2 9l-4 -1l2 -9zM204 195l-1 16l-6 -0l1 -16zM222 221l-6 4l-3 -4l6 -4zM204 202l-8 5l-3 -5l8 -5zM239 198l-10 0l-0 -6l10 -0zM185 221l-4 5l-4 -4l4 -5zM227 230l6 4l-2 3l-6 -4zM178 226l5 5l-3 2l-5 -5zM241 227l-8 1l-1 -4l8 -1zM174 209l14 9l-2 4l-14 -9zM246 202l-16 2l-1 -5l16 -2zM188 238l7 1l-1 3l-7 -1zM193 193l-7 1l-1 -5l7 -1zM244 199l-15 9l-2 -3l15 -9zM228 216l7 3l-2 5l-7 -3zM224 226l7 2l-1 4l-7 -2zM183 192l2 9l-6 1l-2 -9zM252 195l-4 5l-2 -2l4 -5zM241 194l-6 4l-3 -5l6 -4zM260 207l-2 17l-5 -1l2 -17zM223 190l9 1l-0 4l-9 -1zM242 222l-2 12l-4 -0l2 -12zM176 178l1 10l-4 1l-1 -10zM232 183l-1 12l-4 -0l1 -12zM234 193l15 1l-0 4l-15 -1zM194 177l-5 15l-4 -1l5 -15zM263 187l6 6l-4 4l-6 -6z" fill="rgb(168,168,168)" stroke="rgb(201,201,201)" stroke-width="0.9" stroke-linejoin="round"/><rect x="163" y="176" width="109.39999999999998" height="67.5" fill="url(#ovF2)"/></g><path d="M209 284l-5 1l-1 -4l5 -1zM216 252l-3 5l-3 -2l3 -5zM221 244l3 5l-2 2l-3 -5zM232 243l-4 7l-2 -1l4 -7zM254 283l-5 5l-2 -3l5 -5zM204 275l7 4l-2 2l-7 -4zM206 266l4 4l-3 3l-4 -4zM206 258l4 6l-3 2l-4 -6zM207 255l5 2l-2 4l-5 -2zM226 245l-1 5l-4 -1l1 -5zM206 269l2 5l-3 1l-2 -5zM215 246l4 3l-2 2l-4 -3zM234 244l7 5l-2 3l-7 -5zM247 258l5 2l-1 3l-5 -2zM254 276l-3 3l-3 -3l3 -3zM252 276l0 9l-3 0l-0 -9zM240 245l1 7l-4 1l-1 -7zM242 250l5 3l-2 3l-5 -3zM248 253l-2 4l-3 -2l2 -4zM254 264l-6 3l-1 -3l6 -3zM253 268l1 5l-4 1l-1 -5z" fill="rgb(53,53,53)" transform="translate(0.9 1.3)" opacity="0.8"/><path d="M206 269l2 5l-3 1l-2 -5zM215 246l4 3l-2 2l-4 -3zM234 244l7 5l-2 3l-7 -5zM247 258l5 2l-1 3l-5 -2zM254 276l-3 3l-3 -3l3 -3zM252 276l0 9l-3 0l-0 -9z" fill="rgb(96,96,96)" stroke="rgb(115,115,115)" stroke-width="0.9" stroke-linejoin="round"/><path d="M204 275l7 4l-2 2l-7 -4zM206 266l4 4l-3 3l-4 -4zM206 258l4 6l-3 2l-4 -6zM207 255l5 2l-2 4l-5 -2zM226 245l-1 5l-4 -1l1 -5z" fill="rgb(103,103,103)" stroke="rgb(123,123,123)" stroke-width="0.9" stroke-linejoin="round"/><path d="M240 245l1 7l-4 1l-1 -7zM242 250l5 3l-2 3l-5 -3zM248 253l-2 4l-3 -2l2 -4zM254 264l-6 3l-1 -3l6 -3zM253 268l1 5l-4 1l-1 -5z" fill="rgb(111,111,111)" stroke="rgb(133,133,133)" stroke-width="0.9" stroke-linejoin="round"/><path d="M209 284l-5 1l-1 -4l5 -1zM216 252l-3 5l-3 -2l3 -5zM221 244l3 5l-2 2l-3 -5zM232 243l-4 7l-2 -1l4 -7zM254 283l-5 5l-2 -3l5 -5z" fill="rgb(119,119,119)" stroke="rgb(142,142,142)" stroke-width="0.9" stroke-linejoin="round"/><g clip-path="url(#clI)"><rect x="202.7" y="243.4" width="51.30000000000001" height="48.599999999999994" fill="url(#rgI)"/><path d="M223 278l-6 11l-5 -3l6 -11zM241 273l-11 5l-2 -4l11 -5zM221 257l10 2l-1 4l-10 -2zM228 288l-7 0l-0 -6l7 -0zM248 273l-5 4l-3 -5l5 -4zM236 258l3 9l-4 2l-3 -9zM224 252l-6 0l-0 -5l6 -0zM206 268l9 7l-2 3l-9 -7zM233 261l-0 10l-4 -0l0 -10zM203 263l9 6l-3 4l-9 -6zM255 260l-7 8l-3 -2l7 -8zM230 249l4 3l-4 4l-4 -3zM212 282l-10 6l-3 -4l10 -6zM239 264l1 12l-3 0l-1 -12zM248 276l4 9l-4 2l-4 -9zM249 275l5 7l-4 2l-5 -7zM204 274l13 1l-0 4l-13 -1zM224 278l-7 8l-3 -2l7 -8zM237 268l-1 11l-6 -0l1 -11zM242 258l-3 9l-4 -1l3 -9zM247 288l-8 2l-1 -5l8 -2zM227 272l7 2l-1 3l-7 -2zM215 267l-10 3l-2 -5l10 -3zM216 268l-7 4l-2 -4l7 -4zM232 267l-10 1l-1 -5l10 -1zM227 241l2 9l-4 1l-2 -9zM228 243l-4 12l-3 -1l4 -12zM230 269l-6 11l-3 -2l6 -11zM241 254l-10 9l-2 -3l10 -9zM219 267l-4 7l-3 -2l4 -7zM209 253l5 10l-3 1l-5 -10zM219 270l3 5l-5 3l-3 -5zM218 245l5 4l-4 4l-5 -4zM218 255l-1 5l-3 -1l1 -5zM216 272l0 6l-4 0l-0 -6zM201 280l12 3l-1 3l-12 -3zM211 287l-3 4l-4 -3l3 -4zM226 261l0 7l-6 0l-0 -7zM223 253l-9 3l-1 -4l9 -3zM233 246l-3 12l-4 -1l3 -12zM213 273l-5 8l-4 -3l5 -8zM219 268l3 4l-4 3l-3 -4zM222 253l5 11l-4 1l-5 -11zM236 245l-7 10l-3 -2l7 -10zM252 262l-3 6l-4 -2l3 -6zM222 279l-10 4l-2 -5l10 -4zM222 282l-9 0l-0 -4l9 -0zM232 253l-2 7l-6 -1l2 -7zM225 251l-2 5l-6 -2l2 -5zM215 257l-5 10l-5 -3l5 -10zM249 276l-4 9l-3 -1l4 -9z" fill="rgb(53,53,53)" transform="translate(0.9 1.3)" opacity="0.8"/><path d="M204 274l13 1l-0 4l-13 -1zM224 278l-7 8l-3 -2l7 -8zM237 268l-1 11l-6 -0l1 -11zM242 258l-3 9l-4 -1l3 -9zM247 288l-8 2l-1 -5l8 -2zM227 272l7 2l-1 3l-7 -2zM215 267l-10 3l-2 -5l10 -3zM216 268l-7 4l-2 -4l7 -4zM232 267l-10 1l-1 -5l10 -1zM227 241l2 9l-4 1l-2 -9zM228 243l-4 12l-3 -1l4 -12z" fill="rgb(88,88,88)" stroke="rgb(105,105,105)" stroke-width="0.9" stroke-linejoin="round"/><path d="M223 278l-6 11l-5 -3l6 -11zM241 273l-11 5l-2 -4l11 -5zM221 257l10 2l-1 4l-10 -2zM228 288l-7 0l-0 -6l7 -0zM248 273l-5 4l-3 -5l5 -4zM236 258l3 9l-4 2l-3 -9zM224 252l-6 0l-0 -5l6 -0zM206 268l9 7l-2 3l-9 -7z" fill="rgb(96,96,96)" stroke="rgb(115,115,115)" stroke-width="0.9" stroke-linejoin="round"/><path d="M211 287l-3 4l-4 -3l3 -4zM226 261l0 7l-6 0l-0 -7zM223 253l-9 3l-1 -4l9 -3zM233 246l-3 12l-4 -1l3 -12zM213 273l-5 8l-4 -3l5 -8zM219 268l3 4l-4 3l-3 -4zM222 253l5 11l-4 1l-5 -11zM236 245l-7 10l-3 -2l7 -10zM252 262l-3 6l-4 -2l3 -6zM222 279l-10 4l-2 -5l10 -4zM222 282l-9 0l-0 -4l9 -0zM232 253l-2 7l-6 -1l2 -7zM225 251l-2 5l-6 -2l2 -5zM215 257l-5 10l-5 -3l5 -10zM249 276l-4 9l-3 -1l4 -9z" fill="rgb(103,103,103)" stroke="rgb(123,123,123)" stroke-width="0.9" stroke-linejoin="round"/><path d="M230 269l-6 11l-3 -2l6 -11zM241 254l-10 9l-2 -3l10 -9zM219 267l-4 7l-3 -2l4 -7zM209 253l5 10l-3 1l-5 -10zM219 270l3 5l-5 3l-3 -5zM218 245l5 4l-4 4l-5 -4zM218 255l-1 5l-3 -1l1 -5zM216 272l0 6l-4 0l-0 -6zM201 280l12 3l-1 3l-12 -3z" fill="rgb(111,111,111)" stroke="rgb(133,133,133)" stroke-width="0.9" stroke-linejoin="round"/><path d="M233 261l-0 10l-4 -0l0 -10zM203 263l9 6l-3 4l-9 -6zM255 260l-7 8l-3 -2l7 -8zM230 249l4 3l-4 4l-4 -3zM212 282l-10 6l-3 -4l10 -6zM239 264l1 12l-3 0l-1 -12zM248 276l4 9l-4 2l-4 -9zM249 275l5 7l-4 2l-5 -7z" fill="rgb(119,119,119)" stroke="rgb(142,142,142)" stroke-width="0.9" stroke-linejoin="round"/><rect x="202.7" y="243.4" width="51.30000000000001" height="48.599999999999994" fill="url(#ovI)"/></g><path d="M181 126l8 1l-1 3l-8 -1zM218 112l-1 4l-4 -1l1 -4zM236 143l2 4l-3 2l-2 -4zM256 184l-4 6l-3 -3l4 -6zM238 188l5 6l-3 2l-5 -6zM230 189l8 2l-1 3l-8 -2zM214 185l3 6l-3 2l-3 -6zM206 184l1 5l-4 1l-1 -5zM200 182l0 7l-3 0l-0 -7zM192 181l8 2l-1 3l-8 -2zM191 170l-5 5l-2 -2l5 -5zM186 164l5 6l-2 2l-5 -6zM190 161l-5 5l-2 -3l5 -5zM189 156l-5 3l-2 -4l5 -3zM189 149l-6 6l-3 -3l6 -6zM184 138l2 5l-4 1l-2 -5zM185 133l1 6l-3 0l-1 -6zM187 129l-0 8l-4 -0l0 -8zM189 118l3 6l-3 1l-3 -6zM199 113l-1 6l-3 -0l1 -6zM203 114l-3 3l-3 -2l3 -3zM211 110l5 6l-3 3l-5 -6zM228 119l-6 2l-1 -4l6 -2zM235 128l-7 3l-1 -3l7 -3zM238 143l-4 3l-2 -3l4 -3zM240 154l-7 1l-1 -4l7 -1zM235 152l6 2l-1 3l-6 -2zM241 164l-1 7l-3 -0l1 -7zM234 189l-6 6l-2 -2l6 -6zM225 186l1 8l-3 0l-1 -8zM185 156l4 4l-3 3l-4 -4zM187 144l-2 4l-4 -2l2 -4zM191 115l2 6l-4 2l-2 -6zM210 116l-4 0l-0 -4l4 -0zM218 113l7 1l-1 4l-7 -1zM231 121l-1 9l-3 -0l1 -9zM231 132l5 3l-2 3l-5 -3zM236 135l-4 6l-2 -2l4 -6zM236 161l4 1l-1 3l-4 -1zM249 178l-4 2l-2 -4l4 -2zM254 180l-4 8l-3 -1l4 -8zM252 186l5 5l-2 2l-5 -5zM239 189l7 3l-1 3l-7 -3zM216 188l5 0l-0 4l-5 -0zM210 185l2 6l-3 1l-2 -6zM192 179l-5 2l-1 -3l5 -2zM231 117l-2 7l-3 -1l2 -7zM243 168l-0 6l-4 -0l0 -6zM247 174l-8 3l-1 -3l8 -3zM248 188l2 5l-4 2l-2 -5zM189 178l6 2l-1 3l-6 -2z" fill="rgb(81,81,81)" transform="translate(0.9 1.3)" opacity="0.8"/><path d="M189 118l3 6l-3 1l-3 -6zM199 113l-1 6l-3 -0l1 -6zM203 114l-3 3l-3 -2l3 -3zM211 110l5 6l-3 3l-5 -6zM228 119l-6 2l-1 -4l6 -2zM235 128l-7 3l-1 -3l7 -3zM238 143l-4 3l-2 -3l4 -3zM240 154l-7 1l-1 -4l7 -1zM235 152l6 2l-1 3l-6 -2zM241 164l-1 7l-3 -0l1 -7zM234 189l-6 6l-2 -2l6 -6zM225 186l1 8l-3 0l-1 -8zM185 156l4 4l-3 3l-4 -4zM187 144l-2 4l-4 -2l2 -4z" fill="rgb(145,145,145)" stroke="rgb(174,174,174)" stroke-width="0.9" stroke-linejoin="round"/><path d="M231 117l-2 7l-3 -1l2 -7zM243 168l-0 6l-4 -0l0 -6zM247 174l-8 3l-1 -3l8 -3zM248 188l2 5l-4 2l-2 -5zM189 178l6 2l-1 3l-6 -2z" fill="rgb(156,156,156)" stroke="rgb(187,187,187)" stroke-width="0.9" stroke-linejoin="round"/><path d="M191 115l2 6l-4 2l-2 -6zM210 116l-4 0l-0 -4l4 -0zM218 113l7 1l-1 4l-7 -1zM231 121l-1 9l-3 -0l1 -9zM231 132l5 3l-2 3l-5 -3zM236 135l-4 6l-2 -2l4 -6zM236 161l4 1l-1 3l-4 -1zM249 178l-4 2l-2 -4l4 -2zM254 180l-4 8l-3 -1l4 -8zM252 186l5 5l-2 2l-5 -5zM239 189l7 3l-1 3l-7 -3zM216 188l5 0l-0 4l-5 -0zM210 185l2 6l-3 1l-2 -6zM192 179l-5 2l-1 -3l5 -2z" fill="rgb(168,168,168)" stroke="rgb(201,201,201)" stroke-width="0.9" stroke-linejoin="round"/><path d="M181 126l8 1l-1 3l-8 -1zM218 112l-1 4l-4 -1l1 -4zM236 143l2 4l-3 2l-2 -4zM256 184l-4 6l-3 -3l4 -6zM238 188l5 6l-3 2l-5 -6zM230 189l8 2l-1 3l-8 -2zM214 185l3 6l-3 2l-3 -6zM206 184l1 5l-4 1l-1 -5zM200 182l0 7l-3 0l-0 -7zM192 181l8 2l-1 3l-8 -2zM191 170l-5 5l-2 -2l5 -5zM186 164l5 6l-2 2l-5 -6zM190 161l-5 5l-2 -3l5 -5zM189 156l-5 3l-2 -4l5 -3zM189 149l-6 6l-3 -3l6 -6zM184 138l2 5l-4 1l-2 -5zM185 133l1 6l-3 0l-1 -6zM187 129l-0 8l-4 -0l0 -8z" fill="rgb(180,180,180)" stroke="rgb(216,216,216)" stroke-width="0.9" stroke-linejoin="round"/><g clip-path="url(#clF)"><rect x="181" y="111" width="76" height="84" fill="url(#rgF)"/><path d="M233 152l-0 13l-4 -0l0 -13zM217 165l0 13l-4 0l-0 -13zM224 174l6 7l-2 2l-6 -7zM195 117l11 12l-4 3l-11 -12zM239 167l-3 13l-5 -1l3 -13zM222 127l-13 9l-2 -3l13 -9zM226 116l5 9l-4 2l-5 -9zM222 122l6 7l-4 3l-6 -7zM224 117l9 10l-4 4l-9 -10zM222 167l9 3l-1 4l-9 -3zM210 118l7 7l-3 3l-7 -7zM221 162l4 9l-4 2l-4 -9zM213 148l9 13l-5 3l-9 -13zM203 111l4 11l-4 1l-4 -11zM217 132l3 5l-4 2l-3 -5zM218 147l6 12l-5 3l-6 -12zM204 182l14 6l-2 4l-14 -6zM188 164l12 8l-3 4l-12 -8zM224 144l-14 1l-0 -6l14 -1zM216 158l1 13l-4 0l-1 -13zM232 135l-3 11l-4 -1l3 -11zM215 131l6 10l-5 3l-6 -10zM219 175l8 6l-3 4l-8 -6zM190 168l4 13l-4 1l-4 -13zM220 134l-0 16l-4 -0l0 -16zM197 121l-15 5l-1 -4l15 -5zM212 150l16 5l-1 3l-16 -5zM203 132l-6 2l-1 -3l6 -2zM196 164l0 7l-4 0l-0 -7zM224 179l-9 13l-4 -3l9 -13zM188 141l-3 11l-5 -1l3 -11zM196 165l5 8l-5 3l-5 -8zM246 187l2 7l-4 1l-2 -7zM230 168l6 5l-4 5l-6 -5zM232 153l12 7l-2 4l-12 -7zM237 137l-11 11l-3 -3l11 -11zM199 130l-0 15l-6 -0l0 -15zM187 135l15 5l-1 3l-15 -5zM209 179l-8 12l-3 -2l8 -12zM200 168l-13 3l-1 -5l13 -3zM200 132l5 11l-5 2l-5 -11zM222 154l-9 12l-4 -3l9 -12zM238 175l-2 7l-5 -1l2 -7zM244 185l-8 3l-2 -5l8 -3zM196 134l-11 2l-1 -4l11 -2zM213 113l13 9l-3 4l-13 -9zM216 176l8 11l-4 3l-8 -11zM191 135l15 5l-2 5l-15 -5zM234 156l7 2l-1 4l-7 -2zM233 141l3 15l-6 1l-3 -15zM197 149l12 9l-3 4l-12 -9zM191 142l-11 4l-1 -3l11 -4zM227 153l8 5l-2 3l-8 -5zM216 176l-11 5l-2 -4l11 -5zM194 134l2 13l-6 1l-2 -13zM228 183l-12 8l-2 -3l12 -8zM224 153l2 6l-4 2l-2 -6zM192 155l-4 9l-3 -2l4 -9zM194 123l-9 2l-1 -3l9 -2zM233 155l-6 3l-2 -5l6 -3zM218 114l-8 12l-3 -2l8 -12zM235 158l6 7l-3 3l-6 -7zM225 162l-3 7l-4 -1l3 -7zM243 165l-4 8l-5 -2l4 -8zM179 131l14 8l-2 3l-14 -8zM204 106l7 14l-3 2l-7 -14zM207 124l-8 1l-1 -5l8 -1zM226 186l-2 7l-5 -2l2 -7zM224 153l15 1l-0 3l-15 -1zM227 173l0 16l-4 0l-0 -16zM221 119l-0 12l-5 -0l0 -12zM215 143l-3 12l-4 -1l3 -12zM231 147l7 2l-1 3l-7 -2zM220 172l-9 3l-1 -5l9 -3zM199 157l-3 13l-4 -1l3 -13zM217 142l12 4l-1 3l-12 -4zM198 171l7 4l-2 4l-7 -4zM235 139l-14 9l-3 -5l14 -9zM237 167l1 12l-5 0l-1 -12zM203 145l7 1l-0 3l-7 -1zM224 123l-10 10l-4 -4l10 -10zM204 107l8 11l-3 3l-8 -11zM203 165l-2 9l-5 -1l2 -9zM188 151l0 10l-5 0l-0 -10zM209 168l-7 12l-4 -2l7 -12zM207 132l-14 5l-2 -5l14 -5zM227 147l-3 9l-3 -1l3 -9zM220 144l17 2l-0 4l-17 -2zM227 150l6 5l-3 3l-6 -5zM226 154l-3 14l-3 -1l3 -14zM200 148l5 11l-3 1l-5 -11zM201 118l-13 4l-2 -5l13 -4zM185 123l14 5l-2 5l-14 -5zM193 125l6 4l-2 3l-6 -4zM237 145l-9 0l-0 -3l9 -0zM211 130l-5 8l-3 -2l5 -8zM215 150l10 11l-3 3l-10 -11zM226 137l6 6l-3 3l-6 -6zM224 114l-13 7l-1 -3l13 -7zM225 171l-4 12l-3 -1l4 -12zM227 173l15 3l-1 6l-15 -3zM213 150l-9 11l-4 -3l9 -11zM234 145l-1 6l-6 -1l1 -6zM227 128l9 1l-0 4l-9 -1zM193 140l13 0l-0 5l-13 -0zM207 135l6 11l-3 2l-6 -11z" fill="rgb(81,81,81)" transform="translate(0.9 1.3)" opacity="0.8"/><path d="M218 147l6 12l-5 3l-6 -12zM204 182l14 6l-2 4l-14 -6zM188 164l12 8l-3 4l-12 -8zM224 144l-14 1l-0 -6l14 -1zM216 158l1 13l-4 0l-1 -13zM232 135l-3 11l-4 -1l3 -11zM215 131l6 10l-5 3l-6 -10zM219 175l8 6l-3 4l-8 -6zM190 168l4 13l-4 1l-4 -13zM220 134l-0 16l-4 -0l0 -16zM197 121l-15 5l-1 -4l15 -5zM212 150l16 5l-1 3l-16 -5zM203 132l-6 2l-1 -3l6 -2zM196 164l0 7l-4 0l-0 -7zM224 179l-9 13l-4 -3l9 -13zM188 141l-3 11l-5 -1l3 -11zM196 165l5 8l-5 3l-5 -8zM246 187l2 7l-4 1l-2 -7zM230 168l6 5l-4 5l-6 -5zM232 153l12 7l-2 4l-12 -7zM237 137l-11 11l-3 -3l11 -11zM199 130l-0 15l-6 -0l0 -15zM187 135l15 5l-1 3l-15 -5zM209 179l-8 12l-3 -2l8 -12zM200 168l-13 3l-1 -5l13 -3zM200 132l5 11l-5 2l-5 -11zM222 154l-9 12l-4 -3l9 -12zM238 175l-2 7l-5 -1l2 -7z" fill="rgb(133,133,133)" stroke="rgb(159,159,159)" stroke-width="0.9" stroke-linejoin="round"/><path d="M218 114l-8 12l-3 -2l8 -12zM235 158l6 7l-3 3l-6 -7zM225 162l-3 7l-4 -1l3 -7zM243 165l-4 8l-5 -2l4 -8zM179 131l14 8l-2 3l-14 -8zM204 106l7 14l-3 2l-7 -14zM207 124l-8 1l-1 -5l8 -1zM226 186l-2 7l-5 -2l2 -7zM224 153l15 1l-0 3l-15 -1zM227 173l0 16l-4 0l-0 -16zM221 119l-0 12l-5 -0l0 -12zM215 143l-3 12l-4 -1l3 -12zM231 147l7 2l-1 3l-7 -2zM220 172l-9 3l-1 -5l9 -3zM199 157l-3 13l-4 -1l3 -13zM217 142l12 4l-1 3l-12 -4zM198 171l7 4l-2 4l-7 -4zM235 139l-14 9l-3 -5l14 -9zM237 167l1 12l-5 0l-1 -12z" fill="rgb(145,145,145)" stroke="rgb(174,174,174)" stroke-width="0.9" stroke-linejoin="round"/><path d="M203 145l7 1l-0 3l-7 -1zM224 123l-10 10l-4 -4l10 -10zM204 107l8 11l-3 3l-8 -11zM203 165l-2 9l-5 -1l2 -9zM188 151l0 10l-5 0l-0 -10zM209 168l-7 12l-4 -2l7 -12zM207 132l-14 5l-2 -5l14 -5zM227 147l-3 9l-3 -1l3 -9zM220 144l17 2l-0 4l-17 -2zM227 150l6 5l-3 3l-6 -5zM226 154l-3 14l-3 -1l3 -14zM200 148l5 11l-3 1l-5 -11zM201 118l-13 4l-2 -5l13 -4zM185 123l14 5l-2 5l-14 -5zM193 125l6 4l-2 3l-6 -4zM237 145l-9 0l-0 -3l9 -0zM211 130l-5 8l-3 -2l5 -8zM215 150l10 11l-3 3l-10 -11zM226 137l6 6l-3 3l-6 -6zM224 114l-13 7l-1 -3l13 -7zM225 171l-4 12l-3 -1l4 -12zM227 173l15 3l-1 6l-15 -3zM213 150l-9 11l-4 -3l9 -11zM234 145l-1 6l-6 -1l1 -6zM227 128l9 1l-0 4l-9 -1zM193 140l13 0l-0 5l-13 -0zM207 135l6 11l-3 2l-6 -11z" fill="rgb(156,156,156)" stroke="rgb(187,187,187)" stroke-width="0.9" stroke-linejoin="round"/><path d="M244 185l-8 3l-2 -5l8 -3zM196 134l-11 2l-1 -4l11 -2zM213 113l13 9l-3 4l-13 -9zM216 176l8 11l-4 3l-8 -11zM191 135l15 5l-2 5l-15 -5zM234 156l7 2l-1 4l-7 -2zM233 141l3 15l-6 1l-3 -15zM197 149l12 9l-3 4l-12 -9zM191 142l-11 4l-1 -3l11 -4zM227 153l8 5l-2 3l-8 -5zM216 176l-11 5l-2 -4l11 -5zM194 134l2 13l-6 1l-2 -13zM228 183l-12 8l-2 -3l12 -8zM224 153l2 6l-4 2l-2 -6zM192 155l-4 9l-3 -2l4 -9zM194 123l-9 2l-1 -3l9 -2zM233 155l-6 3l-2 -5l6 -3z" fill="rgb(168,168,168)" stroke="rgb(201,201,201)" stroke-width="0.9" stroke-linejoin="round"/><path d="M233 152l-0 13l-4 -0l0 -13zM217 165l0 13l-4 0l-0 -13zM224 174l6 7l-2 2l-6 -7zM195 117l11 12l-4 3l-11 -12zM239 167l-3 13l-5 -1l3 -13zM222 127l-13 9l-2 -3l13 -9zM226 116l5 9l-4 2l-5 -9zM222 122l6 7l-4 3l-6 -7zM224 117l9 10l-4 4l-9 -10zM222 167l9 3l-1 4l-9 -3zM210 118l7 7l-3 3l-7 -7zM221 162l4 9l-4 2l-4 -9zM213 148l9 13l-5 3l-9 -13zM203 111l4 11l-4 1l-4 -11zM217 132l3 5l-4 2l-3 -5z" fill="rgb(180,180,180)" stroke="rgb(216,216,216)" stroke-width="0.9" stroke-linejoin="round"/><rect x="181" y="111" width="76" height="84" fill="url(#ovF)"/></g><path d="M85 174l-6 6l-2 -2l6 -6zM113 145l1 9l-4 1l-1 -9zM132 135l2 3l-2 2l-2 -3zM156 136l-9 1l-0 -4l9 -1zM182 158l-5 2l-1 -3l5 -2zM183 161l-4 5l-3 -3l4 -5zM177 171l7 3l-1 4l-7 -3zM179 181l4 3l-2 3l-4 -3zM150 232l-1 6l-3 -0l1 -6zM85 195l3 6l-4 2l-3 -6zM87 193l-5 3l-1 -3l5 -3zM89 175l-9 0l-0 -3l9 -0zM92 173l-7 1l-1 -4l7 -1zM103 157l4 1l-1 4l-4 -1zM113 142l6 7l-3 3l-6 -7zM135 133l6 3l-1 3l-6 -3zM170 139l6 6l-2 2l-6 -6zM178 168l7 5l-2 3l-7 -5zM183 190l-7 1l-0 -3l7 -1zM136 235l3 5l-4 2l-3 -5zM89 208l4 6l-3 2l-4 -6zM79 187l8 0l-0 3l-8 -0zM94 166l-1 8l-3 -1l1 -8zM96 166l4 0l-0 3l-4 -0zM123 144l-6 3l-2 -3l6 -3zM129 140l-5 3l-2 -3l5 -3zM159 131l5 7l-3 2l-5 -7zM162 134l7 4l-1 3l-7 -4zM171 135l-3 6l-3 -1l3 -6zM176 146l2 6l-3 1l-2 -6zM179 151l0 5l-3 0l-0 -5zM182 164l-0 6l-4 -0l0 -6zM177 209l-5 3l-2 -4l5 -3zM175 209l-2 4l-2 -1l2 -4zM170 217l-3 5l-3 -2l3 -5zM148 234l-2 7l-4 -1l2 -7zM133 237l-2 4l-3 -2l2 -4zM125 236l4 3l-2 3l-4 -3zM115 232l1 4l-3 1l-1 -4zM99 222l5 4l-2 2l-5 -4zM102 222l-8 4l-1 -3l8 -4zM81 181l5 4l-2 2l-5 -4zM98 164l5 1l-1 4l-5 -1zM104 152l7 3l-2 4l-7 -3zM120 139l6 2l-1 4l-6 -2zM146 132l-6 7l-2 -2l6 -7zM147 131l3 5l-3 2l-3 -5zM154 130l5 4l-3 3l-5 -4zM183 179l-3 5l-3 -2l3 -5zM176 191l7 5l-3 4l-7 -5zM180 200l-4 2l-1 -3l4 -2zM179 204l-3 2l-2 -4l3 -2zM165 220l-1 5l-4 -0l1 -5zM166 223l-6 6l-3 -3l6 -6zM159 224l2 8l-3 1l-2 -8zM150 230l5 2l-1 3l-5 -2zM139 235l4 2l-2 3l-4 -2zM116 232l6 5l-3 3l-6 -5zM106 230l8 3l-1 2l-8 -3zM101 226l8 1l-0 4l-8 -1zM95 213l-0 8l-3 -0l0 -8zM90 207l-3 3l-2 -2l3 -3zM84 201l4 2l-1 3l-4 -2z" fill="rgb(83,83,83)" transform="translate(0.9 1.3)" opacity="0.8"/><path d="M98 164l5 1l-1 4l-5 -1zM104 152l7 3l-2 4l-7 -3zM120 139l6 2l-1 4l-6 -2zM146 132l-6 7l-2 -2l6 -7zM147 131l3 5l-3 2l-3 -5zM154 130l5 4l-3 3l-5 -4zM183 179l-3 5l-3 -2l3 -5zM176 191l7 5l-3 4l-7 -5zM180 200l-4 2l-1 -3l4 -2zM179 204l-3 2l-2 -4l3 -2zM165 220l-1 5l-4 -0l1 -5zM166 223l-6 6l-3 -3l6 -6zM159 224l2 8l-3 1l-2 -8zM150 230l5 2l-1 3l-5 -2zM139 235l4 2l-2 3l-4 -2zM116 232l6 5l-3 3l-6 -5zM106 230l8 3l-1 2l-8 -3zM101 226l8 1l-0 4l-8 -1zM95 213l-0 8l-3 -0l0 -8zM90 207l-3 3l-2 -2l3 -3zM84 201l4 2l-1 3l-4 -2z" fill="rgb(148,148,148)" stroke="rgb(177,177,177)" stroke-width="0.9" stroke-linejoin="round"/><path d="M85 174l-6 6l-2 -2l6 -6zM113 145l1 9l-4 1l-1 -9zM132 135l2 3l-2 2l-2 -3zM156 136l-9 1l-0 -4l9 -1zM182 158l-5 2l-1 -3l5 -2zM183 161l-4 5l-3 -3l4 -5zM177 171l7 3l-1 4l-7 -3zM179 181l4 3l-2 3l-4 -3zM150 232l-1 6l-3 -0l1 -6zM85 195l3 6l-4 2l-3 -6zM87 193l-5 3l-1 -3l5 -3z" fill="rgb(161,161,161)" stroke="rgb(193,193,193)" stroke-width="0.9" stroke-linejoin="round"/><path d="M89 175l-9 0l-0 -3l9 -0zM92 173l-7 1l-1 -4l7 -1zM103 157l4 1l-1 4l-4 -1zM113 142l6 7l-3 3l-6 -7zM135 133l6 3l-1 3l-6 -3zM170 139l6 6l-2 2l-6 -6zM178 168l7 5l-2 3l-7 -5zM183 190l-7 1l-0 -3l7 -1zM136 235l3 5l-4 2l-3 -5zM89 208l4 6l-3 2l-4 -6zM79 187l8 0l-0 3l-8 -0z" fill="rgb(173,173,173)" stroke="rgb(207,207,207)" stroke-width="0.9" stroke-linejoin="round"/><path d="M94 166l-1 8l-3 -1l1 -8zM96 166l4 0l-0 3l-4 -0zM123 144l-6 3l-2 -3l6 -3zM129 140l-5 3l-2 -3l5 -3zM159 131l5 7l-3 2l-5 -7zM162 134l7 4l-1 3l-7 -4zM171 135l-3 6l-3 -1l3 -6zM176 146l2 6l-3 1l-2 -6zM179 151l0 5l-3 0l-0 -5zM182 164l-0 6l-4 -0l0 -6zM177 209l-5 3l-2 -4l5 -3zM175 209l-2 4l-2 -1l2 -4zM170 217l-3 5l-3 -2l3 -5zM148 234l-2 7l-4 -1l2 -7zM133 237l-2 4l-3 -2l2 -4zM125 236l4 3l-2 3l-4 -3zM115 232l1 4l-3 1l-1 -4zM99 222l5 4l-2 2l-5 -4zM102 222l-8 4l-1 -3l8 -4zM81 181l5 4l-2 2l-5 -4z" fill="rgb(185,185,185)" stroke="rgb(222,222,222)" stroke-width="0.9" stroke-linejoin="round"/><g clip-path="url(#clE)"><rect x="76.8" y="131" width="106.2" height="110.80000000000001" fill="url(#rgE)"/><path d="M87 182l10 7l-2 3l-10 -7zM100 172l3 7l-4 2l-3 -7zM133 229l10 10l-2 2l-10 -10zM127 199l7 3l-2 5l-7 -3zM130 136l1 8l-4 0l-1 -8zM135 191l2 7l-5 1l-2 -7zM170 182l-14 7l-2 -4l14 -7zM158 211l-8 4l-2 -5l8 -4zM152 143l-2 7l-3 -1l2 -7zM168 209l-4 7l-4 -2l4 -7zM96 178l1 13l-3 0l-1 -13zM141 142l7 1l-1 3l-7 -1zM106 212l8 11l-4 3l-8 -11zM122 205l-10 6l-2 -4l10 -6zM161 136l4 5l-4 3l-4 -5zM147 200l-0 7l-3 -0l0 -7zM158 196l-7 3l-3 -5l7 -3zM170 149l8 5l-2 3l-8 -5zM128 157l-10 5l-2 -5l10 -5zM94 170l-14 8l-2 -4l14 -8zM152 134l5 5l-2 3l-5 -5zM123 235l-4 8l-5 -3l4 -8zM171 140l-7 11l-5 -3l7 -11zM159 137l-15 0l-0 -5l15 -0zM113 218l-7 10l-3 -2l7 -10zM100 173l-6 2l-1 -3l6 -2zM153 170l-6 2l-2 -5l6 -2zM95 209l-14 3l-1 -5l14 -3zM122 232l-1 9l-3 -0l1 -9zM127 237l-9 6l-3 -4l9 -6zM101 219l3 10l-6 1l-3 -10zM138 179l3 10l-3 1l-3 -10zM147 235l-11 0l-0 -4l11 -0zM100 176l-5 13l-5 -2l5 -13zM129 149l12 3l-1 5l-12 -3zM173 204l-7 2l-1 -4l7 -2zM102 165l12 3l-1 4l-12 -3zM135 173l-11 4l-1 -3l11 -4zM175 185l7 3l-2 5l-7 -3zM164 192l4 4l-3 2l-4 -4zM113 202l-4 9l-4 -2l4 -9zM140 167l1 7l-6 1l-1 -7zM149 178l7 6l-3 3l-7 -6zM155 195l-3 11l-5 -1l3 -11zM136 205l-5 10l-4 -2l5 -10zM127 141l9 4l-1 3l-9 -4zM122 191l6 10l-5 3l-6 -10zM135 151l8 5l-2 4l-8 -5zM165 209l2 16l-5 1l-2 -16zM131 195l7 8l-3 3l-7 -8zM129 181l7 2l-1 3l-7 -2zM115 224l14 7l-2 5l-14 -7zM156 160l-5 10l-4 -2l5 -10zM163 227l-10 0l-0 -4l10 -0zM134 155l-8 3l-2 -4l8 -3zM98 214l-5 5l-2 -3l5 -5zM115 214l2 13l-5 1l-2 -13zM156 200l4 10l-4 2l-4 -10zM92 199l1 16l-5 0l-1 -16zM113 193l10 6l-3 4l-10 -6zM154 211l5 7l-3 2l-5 -7zM158 142l13 4l-1 3l-13 -4zM138 159l-1 14l-5 -0l1 -14zM147 207l13 2l-1 6l-13 -2zM107 203l1 8l-4 0l-1 -8zM163 158l1 7l-3 0l-1 -7zM160 137l-7 9l-3 -2l7 -9zM182 177l-5 13l-4 -2l5 -13zM144 204l12 0l-0 5l-12 -0zM155 153l-13 4l-1 -4l13 -4zM172 210l-0 7l-5 -0l0 -7zM149 204l-10 8l-2 -2l10 -8zM130 190l8 8l-4 4l-8 -8zM137 197l-12 2l-1 -4l12 -2zM158 134l-7 9l-3 -2l7 -9zM118 182l2 13l-6 1l-2 -13zM104 208l15 6l-2 4l-15 -6zM124 222l-3 13l-5 -1l3 -13zM139 223l6 11l-5 3l-6 -11zM97 172l12 7l-3 5l-12 -7zM136 163l2 17l-5 1l-2 -17zM150 168l10 9l-2 3l-10 -9zM177 145l-16 1l-1 -6l16 -1zM145 212l2 7l-3 1l-2 -7zM145 215l-15 6l-2 -4l15 -6zM143 239l-17 2l-1 -4l17 -2zM115 142l7 8l-2 2l-7 -8zM144 156l-6 7l-4 -3l6 -7zM167 207l-7 2l-1 -5l7 -2zM124 183l-2 7l-5 -2l2 -7zM96 165l5 6l-4 4l-5 -6zM176 151l4 7l-4 2l-4 -7zM143 185l-2 10l-6 -1l2 -10zM131 210l-4 5l-4 -3l4 -5zM109 199l0 11l-6 0l-0 -11zM118 142l0 15l-4 0l-0 -15zM121 171l-3 10l-6 -2l3 -10zM108 172l8 0l-0 3l-8 -0zM141 139l-10 1l-1 -4l10 -1zM153 157l6 13l-4 2l-6 -13zM102 182l9 8l-3 3l-9 -8zM147 179l1 11l-5 0l-1 -11zM133 157l4 10l-5 2l-4 -10zM131 169l9 1l-0 3l-9 -1zM163 203l11 2l-1 5l-11 -2zM167 191l-14 7l-1 -3l14 -7zM104 171l7 12l-4 2l-7 -12zM102 186l2 7l-5 2l-2 -7zM154 176l-9 9l-4 -3l9 -9zM144 132l3 6l-5 2l-3 -6zM150 190l-6 2l-2 -5l6 -2zM142 181l-4 5l-4 -2l4 -5zM142 233l3 8l-4 1l-3 -8zM109 184l-1 8l-4 -1l1 -8zM160 146l-9 8l-2 -2l9 -8zM134 197l-2 8l-5 -1l2 -8zM164 152l5 14l-5 2l-5 -14zM181 165l-3 7l-4 -2l3 -7zM130 149l-8 4l-2 -4l8 -4zM85 179l5 8l-4 3l-5 -8zM107 184l-1 6l-4 -1l1 -6zM155 220l13 3l-1 4l-13 -3zM115 185l-10 4l-2 -5l10 -4zM133 197l-10 4l-1 -4l10 -4zM146 152l6 0l-0 5l-6 -0zM82 192l11 4l-1 3l-11 -4zM146 162l12 3l-1 3l-12 -3zM139 221l0 16l-5 0l-0 -16zM133 188l4 7l-5 3l-4 -7zM162 193l7 1l-0 3l-7 -1zM109 195l0 13l-5 0l-0 -13zM157 150l3 12l-4 1l-3 -12zM131 131l6 11l-5 3l-6 -11zM176 140l-3 15l-5 -1l3 -15zM180 198l-6 2l-2 -5l6 -2zM147 191l2 16l-6 1l-2 -16zM137 137l11 9l-3 3l-11 -9zM142 221l4 4l-2 2l-4 -4zM109 223l-1 7l-5 -1l1 -7zM115 191l17 3l-1 5l-17 -3zM149 163l4 10l-5 2l-4 -10zM89 165l11 8l-2 3l-11 -8zM173 155l14 9l-2 4l-14 -9zM180 199l-9 3l-2 -5l9 -3zM158 225l-11 10l-2 -3l11 -10zM140 231l-9 7l-2 -3l9 -7zM140 152l5 13l-5 2l-5 -13zM165 224l-5 4l-3 -4l5 -4zM126 139l-3 7l-3 -1l3 -7zM174 214l-7 4l-3 -5l7 -4zM111 171l-15 8l-2 -4l15 -8zM146 196l-5 9l-4 -2l5 -9zM114 195l-8 5l-3 -5l8 -5zM174 193l-7 6l-3 -3l7 -6zM149 207l-2 16l-3 -0l2 -16zM185 184l-5 9l-5 -3l5 -9zM113 215l13 1l-0 5l-13 -1zM158 141l-6 9l-3 -2l6 -9zM153 214l9 7l-3 4l-9 -7zM80 168l16 2l-0 3l-16 -2zM119 178l1 12l-5 0l-1 -12zM175 150l5 4l-3 4l-5 -4zM141 188l-5 6l-3 -3l5 -6zM140 189l-15 8l-2 -4l15 -8zM84 176l4 7l-5 3l-4 -7zM152 216l11 4l-2 5l-11 -4zM160 137l-5 5l-3 -3l5 -5zM98 214l9 7l-3 3l-9 -7zM124 207l0 11l-4 0l-0 -11zM161 170l-10 9l-4 -4l10 -9zM144 179l10 10l-3 4l-10 -10zM97 210l12 12l-2 3l-12 -12zM80 190l7 1l-0 4l-7 -1zM162 166l-0 6l-3 -0l0 -6zM139 213l-14 4l-1 -4l14 -4zM138 216l6 4l-3 4l-6 -4zM133 186l2 6l-3 1l-2 -6zM93 194l-12 10l-2 -2l12 -10zM128 170l12 12l-3 3l-12 -12zM152 174l9 4l-1 3l-9 -4zM137 151l-13 9l-3 -4l13 -9zM152 165l16 4l-1 3l-16 -4zM153 167l-7 5l-3 -4l7 -5zM85 180l2 8l-3 1l-2 -8zM157 153l-13 1l-1 -6l13 -1zM132 239l-7 0l-0 -4l7 -0zM130 202l4 8l-3 1l-4 -8zM167 143l4 11l-4 1l-4 -11zM99 210l-12 3l-1 -4l12 -3zM116 177l8 4l-2 5l-8 -4zM128 229l9 13l-4 2l-9 -13zM172 156l-5 4l-2 -2l5 -4zM138 182l-12 7l-3 -5l12 -7zM107 182l-3 8l-5 -2l3 -8zM135 194l14 5l-1 4l-14 -5zM178 190l3 8l-4 2l-3 -8zM131 178l10 12l-5 4l-10 -12zM126 213l4 6l-4 3l-4 -6zM150 190l5 12l-4 2l-5 -12zM90 177l-3 13l-4 -1l3 -13zM152 171l-4 8l-4 -2l4 -8zM161 214l4 15l-4 1l-4 -15zM134 154l-11 13l-4 -4l11 -13zM159 155l2 17l-3 0l-2 -17zM133 206l-12 8l-3 -4l12 -8zM158 180l16 4l-1 3l-16 -4zM142 168l9 8l-2 3l-9 -8zM132 158l4 16l-5 1l-4 -16zM141 201l5 16l-4 1l-5 -16zM162 199l-9 1l-1 -6l9 -1zM134 227l-2 6l-4 -2l2 -6zM111 206l10 6l-3 5l-10 -6zM174 157l8 4l-2 5l-8 -4zM134 148l-7 8l-4 -3l7 -8zM110 191l-4 5l-5 -3l4 -5zM163 161l13 3l-1 5l-13 -3zM123 232l5 6l-3 3l-5 -6zM110 176l15 6l-2 4l-15 -6zM164 214l8 7l-2 3l-8 -7zM159 218l-5 13l-4 -2l5 -13zM152 176l-1 9l-6 -1l1 -9zM108 174l-1 6l-6 -1l1 -6zM126 237l-6 5l-3 -4l6 -5zM150 136l-2 13l-4 -1l2 -13zM154 151l8 4l-2 3l-8 -4zM97 181l6 5l-3 4l-6 -5zM154 183l-2 7l-5 -1l2 -7zM94 178l-13 4l-2 -5l13 -4zM111 209l15 1l-0 3l-15 -1zM93 180l-3 10l-6 -2l3 -10zM132 233l9 1l-0 6l-9 -1zM145 175l8 7l-3 3l-8 -7zM161 179l3 11l-5 1l-3 -11z" fill="rgb(83,83,83)" transform="translate(0.9 1.3)" opacity="0.8"/><path d="M157 153l-13 1l-1 -6l13 -1zM132 239l-7 0l-0 -4l7 -0zM130 202l4 8l-3 1l-4 -8zM167 143l4 11l-4 1l-4 -11zM99 210l-12 3l-1 -4l12 -3zM116 177l8 4l-2 5l-8 -4zM128 229l9 13l-4 2l-9 -13zM172 156l-5 4l-2 -2l5 -4zM138 182l-12 7l-3 -5l12 -7zM107 182l-3 8l-5 -2l3 -8zM135 194l14 5l-1 4l-14 -5zM178 190l3 8l-4 2l-3 -8zM131 178l10 12l-5 4l-10 -12zM126 213l4 6l-4 3l-4 -6zM150 190l5 12l-4 2l-5 -12zM90 177l-3 13l-4 -1l3 -13zM152 171l-4 8l-4 -2l4 -8zM161 214l4 15l-4 1l-4 -15zM134 154l-11 13l-4 -4l11 -13zM159 155l2 17l-3 0l-2 -17zM133 206l-12 8l-3 -4l12 -8zM158 180l16 4l-1 3l-16 -4zM142 168l9 8l-2 3l-9 -8zM132 158l4 16l-5 1l-4 -16zM141 201l5 16l-4 1l-5 -16zM162 199l-9 1l-1 -6l9 -1zM134 227l-2 6l-4 -2l2 -6zM111 206l10 6l-3 5l-10 -6zM174 157l8 4l-2 5l-8 -4zM134 148l-7 8l-4 -3l7 -8zM110 191l-4 5l-5 -3l4 -5zM163 161l13 3l-1 5l-13 -3zM123 232l5 6l-3 3l-5 -6zM110 176l15 6l-2 4l-15 -6zM164 214l8 7l-2 3l-8 -7zM159 218l-5 13l-4 -2l5 -13zM152 176l-1 9l-6 -1l1 -9zM108 174l-1 6l-6 -1l1 -6zM126 237l-6 5l-3 -4l6 -5zM150 136l-2 13l-4 -1l2 -13zM154 151l8 4l-2 3l-8 -4zM97 181l6 5l-3 4l-6 -5zM154 183l-2 7l-5 -1l2 -7zM94 178l-13 4l-2 -5l13 -4zM111 209l15 1l-0 3l-15 -1zM93 180l-3 10l-6 -2l3 -10zM132 233l9 1l-0 6l-9 -1zM145 175l8 7l-3 3l-8 -7zM161 179l3 11l-5 1l-3 -11z" fill="rgb(136,136,136)" stroke="rgb(163,163,163)" stroke-width="0.9" stroke-linejoin="round"/><path d="M109 195l0 13l-5 0l-0 -13zM157 150l3 12l-4 1l-3 -12zM131 131l6 11l-5 3l-6 -11zM176 140l-3 15l-5 -1l3 -15zM180 198l-6 2l-2 -5l6 -2zM147 191l2 16l-6 1l-2 -16zM137 137l11 9l-3 3l-11 -9zM142 221l4 4l-2 2l-4 -4zM109 223l-1 7l-5 -1l1 -7zM115 191l17 3l-1 5l-17 -3zM149 163l4 10l-5 2l-4 -10zM89 165l11 8l-2 3l-11 -8zM173 155l14 9l-2 4l-14 -9zM180 199l-9 3l-2 -5l9 -3zM158 225l-11 10l-2 -3l11 -10zM140 231l-9 7l-2 -3l9 -7zM140 152l5 13l-5 2l-5 -13zM165 224l-5 4l-3 -4l5 -4zM126 139l-3 7l-3 -1l3 -7zM174 214l-7 4l-3 -5l7 -4zM111 171l-15 8l-2 -4l15 -8zM146 196l-5 9l-4 -2l5 -9zM114 195l-8 5l-3 -5l8 -5zM174 193l-7 6l-3 -3l7 -6zM149 207l-2 16l-3 -0l2 -16zM185 184l-5 9l-5 -3l5 -9zM113 215l13 1l-0 5l-13 -1zM158 141l-6 9l-3 -2l6 -9zM153 214l9 7l-3 4l-9 -7zM80 168l16 2l-0 3l-16 -2zM119 178l1 12l-5 0l-1 -12zM175 150l5 4l-3 4l-5 -4zM141 188l-5 6l-3 -3l5 -6zM140 189l-15 8l-2 -4l15 -8zM84 176l4 7l-5 3l-4 -7zM152 216l11 4l-2 5l-11 -4zM160 137l-5 5l-3 -3l5 -5zM98 214l9 7l-3 3l-9 -7zM124 207l0 11l-4 0l-0 -11zM161 170l-10 9l-4 -4l10 -9zM144 179l10 10l-3 4l-10 -10zM97 210l12 12l-2 3l-12 -12zM80 190l7 1l-0 4l-7 -1zM162 166l-0 6l-3 -0l0 -6zM139 213l-14 4l-1 -4l14 -4zM138 216l6 4l-3 4l-6 -4zM133 186l2 6l-3 1l-2 -6zM93 194l-12 10l-2 -2l12 -10zM128 170l12 12l-3 3l-12 -12zM152 174l9 4l-1 3l-9 -4zM137 151l-13 9l-3 -4l13 -9zM152 165l16 4l-1 3l-16 -4zM153 167l-7 5l-3 -4l7 -5zM85 180l2 8l-3 1l-2 -8z" fill="rgb(148,148,148)" stroke="rgb(177,177,177)" stroke-width="0.9" stroke-linejoin="round"/><path d="M87 182l10 7l-2 3l-10 -7zM100 172l3 7l-4 2l-3 -7zM133 229l10 10l-2 2l-10 -10zM127 199l7 3l-2 5l-7 -3zM130 136l1 8l-4 0l-1 -8zM135 191l2 7l-5 1l-2 -7zM170 182l-14 7l-2 -4l14 -7zM158 211l-8 4l-2 -5l8 -4zM152 143l-2 7l-3 -1l2 -7zM168 209l-4 7l-4 -2l4 -7zM96 178l1 13l-3 0l-1 -13zM141 142l7 1l-1 3l-7 -1zM106 212l8 11l-4 3l-8 -11zM122 205l-10 6l-2 -4l10 -6zM161 136l4 5l-4 3l-4 -5zM147 200l-0 7l-3 -0l0 -7zM158 196l-7 3l-3 -5l7 -3zM170 149l8 5l-2 3l-8 -5zM128 157l-10 5l-2 -5l10 -5zM94 170l-14 8l-2 -4l14 -8zM152 134l5 5l-2 3l-5 -5zM123 235l-4 8l-5 -3l4 -8zM171 140l-7 11l-5 -3l7 -11zM159 137l-15 0l-0 -5l15 -0zM113 218l-7 10l-3 -2l7 -10zM100 173l-6 2l-1 -3l6 -2zM153 170l-6 2l-2 -5l6 -2zM95 209l-14 3l-1 -5l14 -3zM122 232l-1 9l-3 -0l1 -9zM127 237l-9 6l-3 -4l9 -6zM101 219l3 10l-6 1l-3 -10zM138 179l3 10l-3 1l-3 -10zM147 235l-11 0l-0 -4l11 -0zM100 176l-5 13l-5 -2l5 -13z" fill="rgb(161,161,161)" stroke="rgb(193,193,193)" stroke-width="0.9" stroke-linejoin="round"/><path d="M96 165l5 6l-4 4l-5 -6zM176 151l4 7l-4 2l-4 -7zM143 185l-2 10l-6 -1l2 -10zM131 210l-4 5l-4 -3l4 -5zM109 199l0 11l-6 0l-0 -11zM118 142l0 15l-4 0l-0 -15zM121 171l-3 10l-6 -2l3 -10zM108 172l8 0l-0 3l-8 -0zM141 139l-10 1l-1 -4l10 -1zM153 157l6 13l-4 2l-6 -13zM102 182l9 8l-3 3l-9 -8zM147 179l1 11l-5 0l-1 -11zM133 157l4 10l-5 2l-4 -10zM131 169l9 1l-0 3l-9 -1zM163 203l11 2l-1 5l-11 -2zM167 191l-14 7l-1 -3l14 -7zM104 171l7 12l-4 2l-7 -12zM102 186l2 7l-5 2l-2 -7zM154 176l-9 9l-4 -3l9 -9zM144 132l3 6l-5 2l-3 -6zM150 190l-6 2l-2 -5l6 -2zM142 181l-4 5l-4 -2l4 -5zM142 233l3 8l-4 1l-3 -8zM109 184l-1 8l-4 -1l1 -8zM160 146l-9 8l-2 -2l9 -8zM134 197l-2 8l-5 -1l2 -8zM164 152l5 14l-5 2l-5 -14zM181 165l-3 7l-4 -2l3 -7zM130 149l-8 4l-2 -4l8 -4zM85 179l5 8l-4 3l-5 -8zM107 184l-1 6l-4 -1l1 -6zM155 220l13 3l-1 4l-13 -3zM115 185l-10 4l-2 -5l10 -4zM133 197l-10 4l-1 -4l10 -4zM146 152l6 0l-0 5l-6 -0zM82 192l11 4l-1 3l-11 -4zM146 162l12 3l-1 3l-12 -3zM139 221l0 16l-5 0l-0 -16zM133 188l4 7l-5 3l-4 -7zM162 193l7 1l-0 3l-7 -1z" fill="rgb(173,173,173)" stroke="rgb(207,207,207)" stroke-width="0.9" stroke-linejoin="round"/><path d="M129 149l12 3l-1 5l-12 -3zM173 204l-7 2l-1 -4l7 -2zM102 165l12 3l-1 4l-12 -3zM135 173l-11 4l-1 -3l11 -4zM175 185l7 3l-2 5l-7 -3zM164 192l4 4l-3 2l-4 -4zM113 202l-4 9l-4 -2l4 -9zM140 167l1 7l-6 1l-1 -7zM149 178l7 6l-3 3l-7 -6zM155 195l-3 11l-5 -1l3 -11zM136 205l-5 10l-4 -2l5 -10zM127 141l9 4l-1 3l-9 -4zM122 191l6 10l-5 3l-6 -10zM135 151l8 5l-2 4l-8 -5zM165 209l2 16l-5 1l-2 -16zM131 195l7 8l-3 3l-7 -8zM129 181l7 2l-1 3l-7 -2zM115 224l14 7l-2 5l-14 -7zM156 160l-5 10l-4 -2l5 -10zM163 227l-10 0l-0 -4l10 -0zM134 155l-8 3l-2 -4l8 -3zM98 214l-5 5l-2 -3l5 -5zM115 214l2 13l-5 1l-2 -13zM156 200l4 10l-4 2l-4 -10zM92 199l1 16l-5 0l-1 -16zM113 193l10 6l-3 4l-10 -6zM154 211l5 7l-3 2l-5 -7zM158 142l13 4l-1 3l-13 -4zM138 159l-1 14l-5 -0l1 -14zM147 207l13 2l-1 6l-13 -2zM107 203l1 8l-4 0l-1 -8zM163 158l1 7l-3 0l-1 -7zM160 137l-7 9l-3 -2l7 -9zM182 177l-5 13l-4 -2l5 -13zM144 204l12 0l-0 5l-12 -0zM155 153l-13 4l-1 -4l13 -4zM172 210l-0 7l-5 -0l0 -7zM149 204l-10 8l-2 -2l10 -8zM130 190l8 8l-4 4l-8 -8zM137 197l-12 2l-1 -4l12 -2zM158 134l-7 9l-3 -2l7 -9zM118 182l2 13l-6 1l-2 -13zM104 208l15 6l-2 4l-15 -6zM124 222l-3 13l-5 -1l3 -13zM139 223l6 11l-5 3l-6 -11zM97 172l12 7l-3 5l-12 -7zM136 163l2 17l-5 1l-2 -17zM150 168l10 9l-2 3l-10 -9zM177 145l-16 1l-1 -6l16 -1zM145 212l2 7l-3 1l-2 -7zM145 215l-15 6l-2 -4l15 -6zM143 239l-17 2l-1 -4l17 -2zM115 142l7 8l-2 2l-7 -8zM144 156l-6 7l-4 -3l6 -7zM167 207l-7 2l-1 -5l7 -2zM124 183l-2 7l-5 -2l2 -7z" fill="rgb(185,185,185)" stroke="rgb(222,222,222)" stroke-width="0.9" stroke-linejoin="round"/><rect x="76.8" y="131" width="106.2" height="110.80000000000001" fill="url(#ovE)"/></g><path d="M8 86l-0 7l-3 -0l0 -7zM15 62l-4 7l-3 -2l4 -7zM36 35l-6 3l-1 -2l6 -3zM40 30l-3 6l-3 -1l3 -6zM56 18l6 5l-3 3l-6 -5zM96 47l7 1l-0 4l-7 -1zM102 50l4 4l-2 3l-4 -4zM122 86l5 2l-1 3l-5 -2zM126 94l0 6l-3 0l-0 -6zM123 146l-7 6l-2 -2l7 -6zM113 157l-6 6l-2 -3l6 -6zM63 170l-5 1l-1 -2l5 -1zM39 165l-6 1l-1 -3l6 -1zM24 159l-7 2l-1 -3l7 -2zM19 153l-0 9l-4 -0l0 -9zM6 129l2 8l-4 1l-2 -8zM6 121l0 6l-3 0l-0 -6zM8 109l-3 5l-3 -2l3 -5zM10 85l-8 1l-0 -3l8 -1zM3 76l7 4l-2 3l-7 -4zM21 46l4 7l-3 2l-4 -7zM25 41l4 3l-2 2l-4 -3zM29 37l1 8l-3 0l-1 -8zM42 29l-2 5l-4 -2l2 -5zM40 25l5 2l-1 3l-5 -2zM57 23l-6 2l-1 -3l6 -2zM74 23l4 6l-3 2l-4 -6zM114 66l5 4l-2 2l-5 -4zM121 78l4 5l-4 3l-4 -5zM127 90l-2 7l-2 -1l2 -7zM128 104l-6 1l-0 -4l6 -1zM128 101l-3 8l-3 -1l3 -8zM129 109l-7 2l-1 -3l7 -2zM124 132l1 6l-3 0l-1 -6zM113 153l2 4l-3 2l-2 -4zM78 165l1 5l-3 1l-1 -5zM12 150l4 5l-2 2l-4 -5zM6 139l6 4l-2 3l-6 -4zM6 111l1 6l-4 1l-1 -6zM3 103l5 2l-1 3l-5 -2zM4 98l4 2l-2 3l-4 -2zM9 71l-2 9l-4 -1l2 -9zM23 53l-4 4l-3 -3l4 -4zM49 26l-4 0l-0 -3l4 -0zM73 25l-2 3l-2 -2l2 -3zM82 29l-4 4l-3 -3l4 -4zM80 28l5 3l-2 4l-5 -3zM90 35l2 5l-4 1l-2 -5zM96 40l-6 7l-2 -2l6 -7zM127 128l-2 5l-4 -1l2 -5zM123 146l-5 1l-0 -3l5 -1zM107 157l0 6l-4 0l-0 -6zM104 162l-2 3l-3 -2l2 -3zM77 170l-6 3l-2 -4l6 -3zM70 169l-7 5l-2 -3l7 -5zM56 167l-5 4l-3 -3l5 -4zM44 165l-6 3l-2 -3l6 -3zM31 160l2 4l-3 2l-2 -4zM8 136l-1 4l-4 -1l1 -4zM9 127l-3 8l-4 -2l3 -8zM5 69l4 1l-1 4l-4 -1zM10 60l6 2l-1 3l-6 -2zM16 54l4 4l-2 2l-4 -4zM65 21l-5 3l-2 -3l5 -3zM101 45l-7 5l-2 -3l7 -5zM110 55l-0 7l-3 -0l0 -7zM114 59l0 9l-3 0l-0 -9zM120 73l-3 3l-3 -2l3 -3zM120 74l3 5l-4 2l-3 -5zM121 113l8 1l-0 3l-8 -1zM128 117l-4 4l-2 -2l4 -4zM128 126l-8 1l-0 -3l8 -1zM126 142l-7 1l-0 -4l7 -1zM112 151l8 0l-0 3l-8 -0zM91 162l8 3l-1 4l-8 -3zM93 164l-6 6l-2 -2l6 -6zM84 164l-2 7l-4 -1l2 -7zM59 168l-4 4l-3 -3l4 -4zM45 162l6 6l-2 3l-6 -6zM22 160l8 2l-1 3l-8 -2zM15 147l-6 6l-2 -2l6 -6zM3 119l5 2l-1 4l-5 -2zM2 94l8 2l-1 2l-8 -2z" fill="rgb(83,83,83)" transform="translate(0.9 1.3)" opacity="0.8"/><path d="M10 85l-8 1l-0 -3l8 -1zM3 76l7 4l-2 3l-7 -4zM21 46l4 7l-3 2l-4 -7zM25 41l4 3l-2 2l-4 -3zM29 37l1 8l-3 0l-1 -8zM42 29l-2 5l-4 -2l2 -5zM40 25l5 2l-1 3l-5 -2zM57 23l-6 2l-1 -3l6 -2zM74 23l4 6l-3 2l-4 -6zM114 66l5 4l-2 2l-5 -4zM121 78l4 5l-4 3l-4 -5zM127 90l-2 7l-2 -1l2 -7zM128 104l-6 1l-0 -4l6 -1zM128 101l-3 8l-3 -1l3 -8zM129 109l-7 2l-1 -3l7 -2zM124 132l1 6l-3 0l-1 -6zM113 153l2 4l-3 2l-2 -4zM78 165l1 5l-3 1l-1 -5zM12 150l4 5l-2 2l-4 -5zM6 139l6 4l-2 3l-6 -4zM6 111l1 6l-4 1l-1 -6zM3 103l5 2l-1 3l-5 -2zM4 98l4 2l-2 3l-4 -2z" fill="rgb(148,148,148)" stroke="rgb(177,177,177)" stroke-width="0.9" stroke-linejoin="round"/><path d="M8 86l-0 7l-3 -0l0 -7zM15 62l-4 7l-3 -2l4 -7zM36 35l-6 3l-1 -2l6 -3zM40 30l-3 6l-3 -1l3 -6zM56 18l6 5l-3 3l-6 -5zM96 47l7 1l-0 4l-7 -1zM102 50l4 4l-2 3l-4 -4zM122 86l5 2l-1 3l-5 -2zM126 94l0 6l-3 0l-0 -6zM123 146l-7 6l-2 -2l7 -6zM113 157l-6 6l-2 -3l6 -6zM63 170l-5 1l-1 -2l5 -1zM39 165l-6 1l-1 -3l6 -1zM24 159l-7 2l-1 -3l7 -2zM19 153l-0 9l-4 -0l0 -9zM6 129l2 8l-4 1l-2 -8zM6 121l0 6l-3 0l-0 -6zM8 109l-3 5l-3 -2l3 -5z" fill="rgb(161,161,161)" stroke="rgb(193,193,193)" stroke-width="0.9" stroke-linejoin="round"/><path d="M5 69l4 1l-1 4l-4 -1zM10 60l6 2l-1 3l-6 -2zM16 54l4 4l-2 2l-4 -4zM65 21l-5 3l-2 -3l5 -3zM101 45l-7 5l-2 -3l7 -5zM110 55l-0 7l-3 -0l0 -7zM114 59l0 9l-3 0l-0 -9zM120 73l-3 3l-3 -2l3 -3zM120 74l3 5l-4 2l-3 -5zM121 113l8 1l-0 3l-8 -1zM128 117l-4 4l-2 -2l4 -4zM128 126l-8 1l-0 -3l8 -1zM126 142l-7 1l-0 -4l7 -1zM112 151l8 0l-0 3l-8 -0zM91 162l8 3l-1 4l-8 -3zM93 164l-6 6l-2 -2l6 -6zM84 164l-2 7l-4 -1l2 -7zM59 168l-4 4l-3 -3l4 -4zM45 162l6 6l-2 3l-6 -6zM22 160l8 2l-1 3l-8 -2zM15 147l-6 6l-2 -2l6 -6zM3 119l5 2l-1 4l-5 -2zM2 94l8 2l-1 2l-8 -2z" fill="rgb(173,173,173)" stroke="rgb(207,207,207)" stroke-width="0.9" stroke-linejoin="round"/><path d="M9 71l-2 9l-4 -1l2 -9zM23 53l-4 4l-3 -3l4 -4zM49 26l-4 0l-0 -3l4 -0zM73 25l-2 3l-2 -2l2 -3zM82 29l-4 4l-3 -3l4 -4zM80 28l5 3l-2 4l-5 -3zM90 35l2 5l-4 1l-2 -5zM96 40l-6 7l-2 -2l6 -7zM127 128l-2 5l-4 -1l2 -5zM123 146l-5 1l-0 -3l5 -1zM107 157l0 6l-4 0l-0 -6zM104 162l-2 3l-3 -2l2 -3zM77 170l-6 3l-2 -4l6 -3zM70 169l-7 5l-2 -3l7 -5zM56 167l-5 4l-3 -3l5 -4zM44 165l-6 3l-2 -3l6 -3zM31 160l2 4l-3 2l-2 -4zM8 136l-1 4l-4 -1l1 -4zM9 127l-3 8l-4 -2l3 -8z" fill="rgb(185,185,185)" stroke="rgb(222,222,222)" stroke-width="0.9" stroke-linejoin="round"/><g clip-path="url(#clA)"><rect x="2" y="18" width="126" height="155" fill="url(#rgA)"/><path d="M66 69l-11 3l-1 -6l11 -3zM32 156l13 4l-1 5l-13 -4zM56 43l-4 15l-4 -1l4 -15zM33 114l-7 7l-4 -4l7 -7zM102 82l11 2l-1 5l-11 -2zM8 135l12 5l-1 4l-12 -5zM63 33l15 1l-0 4l-15 -1zM67 88l-4 16l-4 -1l4 -16zM93 100l6 2l-1 3l-6 -2zM102 126l-8 12l-3 -2l8 -12zM80 96l4 12l-3 1l-4 -12zM117 116l-4 12l-4 -2l4 -12zM28 105l-0 8l-5 -0l0 -8zM80 125l12 4l-2 4l-12 -4zM27 107l-8 4l-2 -4l8 -4zM22 143l-11 4l-1 -3l11 -4zM48 48l6 11l-5 3l-6 -11zM21 114l-10 9l-2 -2l10 -9zM94 71l-5 16l-5 -2l5 -16zM41 71l2 8l-4 1l-2 -8zM86 121l10 4l-2 5l-10 -4zM19 124l-6 11l-5 -3l6 -11zM63 45l-11 2l-1 -4l11 -2zM47 83l-14 8l-2 -3l14 -8zM37 131l-9 1l-0 -4l9 -1zM38 122l10 1l-0 4l-10 -1zM45 81l-1 14l-4 -0l1 -14zM111 88l4 16l-5 1l-4 -16zM57 84l3 8l-3 1l-3 -8zM73 71l2 9l-3 1l-2 -9zM108 140l14 9l-2 3l-14 -9zM59 140l-8 3l-1 -3l8 -3zM91 81l-11 3l-1 -5l11 -3zM100 100l10 4l-1 3l-10 -4zM105 147l1 7l-4 0l-1 -7zM52 45l7 6l-2 2l-7 -6zM47 59l-1 7l-5 -0l1 -7zM48 152l9 4l-2 5l-9 -4zM35 157l4 6l-4 2l-4 -6zM68 141l-2 6l-4 -1l2 -6zM58 79l-2 11l-4 -1l2 -11zM87 131l9 5l-3 5l-9 -5zM11 73l7 9l-3 2l-7 -9zM97 142l-16 3l-1 -3l16 -3zM48 59l6 0l-0 5l-6 -0zM88 41l-4 7l-5 -3l4 -7zM115 131l-3 10l-5 -1l3 -10zM64 167l-7 8l-3 -3l7 -8zM58 76l7 5l-2 3l-7 -5zM124 72l-12 3l-1 -5l12 -3zM14 68l1 6l-4 1l-1 -6zM27 132l-11 4l-2 -6l11 -4zM48 140l-6 12l-3 -1l6 -12zM120 113l13 11l-3 3l-13 -11zM116 93l7 8l-3 2l-7 -8zM15 104l-5 13l-4 -1l5 -13zM41 83l-5 16l-3 -1l5 -16zM100 103l6 6l-3 4l-6 -6zM116 92l-1 12l-4 -0l1 -12zM67 61l-3 11l-3 -1l3 -11zM75 71l11 2l-1 5l-11 -2zM60 144l12 3l-1 3l-12 -3zM47 128l4 6l-4 3l-4 -6zM23 149l1 6l-4 1l-1 -6zM85 53l-5 13l-4 -1l5 -13zM93 124l-10 11l-3 -3l10 -11zM63 123l-7 5l-3 -4l7 -5zM79 66l4 5l-3 3l-4 -5zM51 142l10 2l-1 4l-10 -2zM38 40l-11 3l-1 -4l11 -3zM7 86l2 6l-5 2l-2 -6zM102 107l-16 2l-0 -3l16 -2zM21 80l0 13l-4 0l-0 -13zM87 50l-8 14l-3 -2l8 -14zM41 44l11 4l-1 4l-11 -4zM84 47l-6 10l-4 -3l6 -10zM106 160l-8 4l-1 -3l8 -4zM69 108l5 6l-4 4l-5 -6zM36 71l-6 8l-3 -2l6 -8zM85 95l6 14l-3 1l-6 -14zM39 154l-3 8l-4 -1l3 -8zM57 56l3 9l-4 1l-3 -9zM39 32l-2 8l-4 -1l2 -8zM28 38l6 11l-5 3l-6 -11zM44 77l12 6l-3 5l-12 -6zM31 143l10 11l-3 3l-10 -11zM98 137l-9 10l-3 -3l9 -10zM94 96l-2 16l-5 -1l2 -16zM63 59l7 8l-3 3l-7 -8zM63 46l-3 16l-3 -1l3 -16zM42 92l-2 7l-5 -1l2 -7zM54 160l13 2l-0 4l-13 -2zM48 63l-10 4l-1 -3l10 -4zM32 63l-2 12l-6 -1l2 -12zM51 95l6 6l-4 3l-6 -6zM100 148l6 11l-4 2l-6 -11zM102 114l-16 4l-1 -3l16 -4zM43 65l5 11l-5 2l-5 -11zM77 68l-7 11l-3 -2l7 -11zM77 136l14 6l-2 5l-14 -6zM26 148l1 17l-5 0l-1 -17zM104 155l4 13l-3 1l-4 -13zM90 161l-8 9l-4 -3l8 -9zM50 62l8 12l-3 2l-8 -12zM94 58l8 3l-2 4l-8 -3zM93 139l-5 8l-5 -3l5 -8zM97 111l-4 13l-4 -1l4 -13zM93 58l9 3l-1 4l-9 -3zM25 102l1 8l-6 1l-1 -8zM77 101l-9 6l-3 -4l9 -6zM42 22l6 16l-5 2l-6 -16zM100 89l1 7l-4 1l-1 -7zM90 112l-12 12l-2 -2l12 -12zM54 48l10 12l-4 3l-10 -12zM49 169l-6 0l-0 -5l6 -0zM36 77l4 6l-4 2l-4 -6zM55 164l9 4l-2 4l-9 -4zM77 158l-4 8l-5 -3l4 -8zM88 76l-8 12l-4 -3l8 -12zM118 77l0 16l-6 0l-0 -16zM7 107l3 10l-5 2l-3 -10zM67 43l-7 1l-0 -4l7 -1zM61 79l-7 5l-2 -3l7 -5zM58 148l-13 5l-2 -4l13 -5zM117 76l5 11l-5 2l-5 -11zM51 108l12 6l-1 3l-12 -6zM44 132l8 10l-4 3l-8 -10zM91 101l1 9l-6 1l-1 -9zM75 160l10 10l-4 4l-10 -10zM62 134l2 10l-6 1l-2 -10zM23 138l-4 16l-6 -1l4 -16zM109 92l8 11l-3 2l-8 -11zM85 60l8 14l-3 2l-8 -14zM62 154l1 12l-5 0l-1 -12zM64 113l5 11l-5 3l-5 -11zM81 139l7 5l-3 5l-7 -5zM102 100l5 9l-4 2l-5 -9zM66 118l8 10l-3 3l-8 -10zM18 121l5 14l-3 1l-5 -14zM71 117l-13 10l-3 -3l13 -10zM45 71l-10 9l-2 -3l10 -9zM15 113l-0 9l-5 -0l0 -9zM79 98l7 6l-2 3l-7 -6zM73 118l7 13l-5 3l-7 -13zM51 53l3 14l-5 1l-3 -14zM106 135l-4 11l-3 -1l4 -11zM25 129l-6 10l-3 -2l6 -10zM56 102l-13 2l-1 -4l13 -2zM71 120l7 7l-3 3l-7 -7zM31 131l9 8l-2 2l-9 -8zM45 107l-7 12l-4 -2l7 -12zM30 51l-7 14l-4 -2l7 -14zM113 135l13 9l-2 3l-13 -9zM64 43l-13 10l-4 -5l13 -10zM115 147l4 5l-3 2l-4 -5zM118 70l-10 6l-3 -5l10 -6zM82 138l10 4l-2 4l-10 -4zM55 103l-7 3l-1 -3l7 -3zM61 48l-3 16l-6 -1l3 -16zM25 104l-6 5l-2 -3l6 -5zM39 95l4 5l-4 3l-4 -5zM88 99l13 10l-3 4l-13 -10zM16 74l6 7l-4 3l-6 -7zM94 111l-6 5l-3 -4l6 -5zM42 67l-5 7l-4 -3l5 -7zM24 153l10 6l-2 4l-10 -6zM102 81l13 6l-2 4l-13 -6zM53 95l8 13l-5 3l-8 -13zM18 146l-9 3l-1 -4l9 -3zM81 61l-1 10l-4 -0l1 -10zM50 60l1 7l-4 0l-1 -7zM35 59l-15 9l-3 -5l15 -9zM57 91l6 14l-5 2l-6 -14zM7 134l5 6l-3 3l-5 -6zM85 153l11 10l-4 4l-11 -10zM66 66l-6 2l-1 -4l6 -2zM32 59l-3 6l-5 -2l3 -6zM80 116l-10 8l-3 -4l10 -8zM60 74l-11 2l-1 -5l11 -2zM111 81l-2 7l-5 -1l2 -7zM111 68l-9 8l-4 -4l9 -8zM45 76l7 3l-2 4l-7 -3zM83 53l2 12l-5 1l-2 -12zM67 140l9 6l-3 5l-9 -6zM61 78l-4 7l-4 -2l4 -7zM30 111l-3 13l-4 -1l3 -13zM38 52l0 13l-3 0l-0 -13zM95 79l-14 1l-0 -3l14 -1zM15 52l7 10l-5 3l-7 -10zM92 115l5 4l-3 4l-5 -4zM29 157l6 4l-3 4l-6 -4zM62 81l-9 8l-3 -3l9 -8zM105 89l6 1l-1 3l-6 -1zM44 117l4 12l-5 2l-4 -12zM82 63l3 13l-4 1l-3 -13zM61 67l3 15l-4 1l-3 -15zM101 93l-1 8l-4 -1l1 -8zM12 139l13 6l-2 4l-13 -6zM23 107l-5 7l-3 -3l5 -7zM63 128l-7 10l-5 -3l7 -10zM35 37l7 9l-4 3l-7 -9zM23 81l8 4l-2 4l-8 -4zM118 95l12 11l-3 4l-12 -11zM86 98l-1 10l-5 -1l1 -10zM65 25l-10 9l-2 -3l10 -9zM27 152l-7 4l-2 -3l7 -4zM55 82l4 5l-3 2l-4 -5zM9 78l-0 12l-5 -0l0 -12zM39 131l-6 8l-3 -2l6 -8zM80 40l-7 0l-0 -5l7 -0zM43 49l-12 3l-1 -4l12 -3zM127 134l-4 13l-5 -2l4 -13zM102 63l4 9l-4 2l-4 -9zM86 52l9 7l-3 4l-9 -7zM101 128l1 14l-3 0l-1 -14zM40 115l9 0l-0 5l-9 -0zM95 118l5 10l-4 2l-5 -10zM31 86l4 12l-3 1l-4 -12zM14 83l-8 5l-2 -4l8 -5zM55 110l15 0l-0 6l-15 -0zM90 72l4 10l-4 2l-4 -10zM48 112l5 6l-2 2l-5 -6zM52 70l11 9l-2 3l-11 -9zM61 109l-7 11l-3 -2l7 -11zM25 53l-7 1l-0 -4l7 -1zM60 54l-8 6l-2 -3l8 -6zM57 63l9 3l-1 5l-9 -3zM65 43l8 4l-1 3l-8 -4zM64 154l-5 11l-4 -2l5 -11zM69 58l-4 10l-5 -2l4 -10zM15 129l-15 2l-0 -4l15 -2zM33 72l2 9l-3 1l-2 -9zM82 130l-7 4l-3 -5l7 -4zM35 74l11 6l-3 5l-11 -6zM96 144l-10 9l-3 -3l10 -9zM103 48l-7 7l-4 -4l7 -7zM115 142l1 8l-5 0l-1 -8zM110 147l3 6l-3 1l-3 -6zM44 120l7 10l-3 2l-7 -10zM50 60l8 7l-4 4l-8 -7zM83 51l-11 9l-2 -3l11 -9zM31 148l-14 3l-1 -4l14 -3zM31 72l-6 7l-3 -2l6 -7zM53 159l6 6l-3 2l-6 -6zM30 87l14 1l-0 3l-14 -1zM16 78l-11 3l-1 -3l11 -3zM38 38l9 9l-4 4l-9 -9zM125 119l-2 12l-6 -1l2 -12zM67 52l-8 3l-1 -4l8 -3zM80 58l-5 8l-3 -2l5 -8zM103 145l9 1l-0 4l-9 -1zM63 46l-8 8l-3 -3l8 -8zM35 60l-10 6l-2 -3l10 -6zM41 55l9 1l-1 6l-9 -1zM75 54l-9 1l-0 -3l9 -1zM22 115l14 5l-1 3l-14 -5zM22 145l14 9l-3 5l-14 -9zM71 108l0 15l-4 0l-0 -15zM118 118l-6 14l-5 -2l6 -14zM60 50l6 13l-5 2l-6 -13zM70 60l13 10l-2 2l-13 -10zM67 119l5 8l-3 2l-5 -8zM96 74l-5 14l-6 -2l5 -14zM39 152l-1 6l-6 -1l1 -6zM32 47l11 6l-2 4l-11 -6zM64 67l-7 8l-4 -3l7 -8zM33 30l1 13l-4 0l-1 -13zM93 81l9 14l-3 2l-9 -14zM31 142l-5 5l-2 -2l5 -5zM114 118l-11 13l-5 -4l11 -13zM38 130l5 6l-4 4l-5 -6zM48 61l-4 6l-5 -3l4 -6zM77 155l-15 8l-3 -5l15 -8zM74 132l-9 7l-3 -4l9 -7zM65 159l-8 2l-1 -4l8 -2zM110 81l-14 7l-2 -3l14 -7zM58 123l-15 2l-1 -5l15 -2zM119 84l7 2l-1 5l-7 -2zM10 76l-0 9l-6 -0l0 -9zM87 66l2 6l-4 1l-2 -6zM112 120l14 6l-2 4l-14 -6zM18 83l7 15l-4 2l-7 -15zM92 88l11 9l-2 2l-11 -9zM88 140l15 2l-1 3l-15 -2zM55 132l2 7l-4 1l-2 -7zM122 125l6 14l-3 1l-6 -14zM101 94l9 3l-1 3l-9 -3zM51 64l-3 14l-4 -1l3 -14zM59 124l7 1l-0 3l-7 -1zM73 77l-8 0l-0 -5l8 -0zM92 91l11 9l-3 3l-11 -9zM53 159l14 5l-2 5l-14 -5zM65 52l8 5l-2 4l-8 -5zM34 149l-4 6l-5 -3l4 -6zM66 39l-7 4l-3 -4l7 -4zM92 56l11 4l-1 4l-11 -4zM43 106l8 1l-1 4l-8 -1zM82 134l-2 7l-5 -2l2 -7zM98 154l13 11l-3 3l-13 -11zM108 63l3 12l-6 2l-3 -12zM87 71l8 1l-0 3l-8 -1zM76 76l-6 11l-5 -2l6 -11zM10 76l2 12l-3 1l-2 -12zM81 151l2 7l-4 1l-2 -7zM66 41l14 3l-1 5l-14 -3zM54 89l2 6l-5 2l-2 -6zM34 54l-12 5l-2 -5l12 -5zM71 70l-9 3l-2 -6l9 -3zM115 66l-6 5l-3 -3l6 -5zM130 125l-10 5l-2 -4l10 -5zM99 114l-2 12l-4 -1l2 -12zM61 59l3 7l-3 1l-3 -7zM67 165l3 6l-4 2l-3 -6zM46 48l-12 0l-0 -5l12 -0zM30 31l13 8l-2 3l-13 -8zM12 146l9 8l-3 3l-9 -8zM42 158l9 1l-1 4l-9 -1zM125 110l-14 8l-2 -4l14 -8zM65 62l-13 1l-0 -5l13 -1zM60 98l3 10l-4 1l-3 -10zM98 122l-6 5l-3 -3l6 -5zM51 120l-5 6l-4 -4l5 -6zM56 157l-5 7l-3 -2l5 -7zM107 82l7 4l-2 3l-7 -4zM96 138l-0 8l-4 -0l0 -8zM117 122l15 6l-1 3l-15 -6zM60 145l2 7l-4 1l-2 -7zM122 148l-12 6l-2 -4l12 -6zM100 117l-12 3l-1 -3l12 -3zM115 103l-15 1l-0 -3l15 -1zM24 148l-10 9l-4 -4l10 -9zM69 144l16 4l-1 4l-16 -4zM44 141l-11 7l-3 -4l11 -7zM21 76l-2 15l-3 -0l2 -15zM117 132l-6 0l-0 -4l6 -0zM45 89l-3 10l-5 -2l3 -10zM114 95l-1 16l-3 -0l1 -16zM108 103l11 0l-0 3l-11 -0zM72 143l7 7l-2 2l-7 -7zM51 118l-7 13l-3 -2l7 -13zM68 41l9 7l-3 4l-9 -7zM26 76l-6 5l-2 -3l6 -5zM125 114l5 12l-5 2l-5 -12zM93 158l-10 4l-2 -4l10 -4zM100 63l1 16l-6 0l-1 -16zM53 73l-6 1l-1 -4l6 -1zM26 144l6 4l-2 4l-6 -4zM24 118l-2 11l-6 -1l2 -11zM109 65l1 6l-5 1l-1 -6zM21 107l-9 7l-3 -4l9 -7zM61 18l2 17l-4 1l-2 -17zM82 46l8 9l-3 3l-8 -9zM86 80l8 4l-2 3l-8 -4zM30 54l-14 2l-1 -5l14 -2zM32 110l4 15l-5 1l-4 -15zM52 27l-4 12l-5 -2l4 -12zM76 108l-9 6l-3 -5l9 -6zM32 90l9 8l-3 4l-9 -8zM11 92l15 7l-2 4l-15 -7zM53 164l-9 10l-3 -3l9 -10zM119 117l4 6l-3 2l-4 -6zM84 67l2 10l-5 1l-2 -10zM73 161l-3 16l-5 -1l3 -16zM114 116l-4 14l-4 -1l4 -14zM65 64l-10 4l-1 -3l10 -4zM80 121l-4 11l-4 -1l4 -11zM40 70l12 8l-3 5l-12 -8zM97 75l-11 5l-1 -3l11 -5zM114 119l6 5l-3 3l-6 -5zM108 87l1 13l-5 0l-1 -13zM123 132l-4 12l-4 -1l4 -12zM25 138l8 7l-2 3l-8 -7zM28 79l12 8l-2 4l-12 -8zM67 74l5 10l-4 2l-5 -10zM31 122l-11 2l-1 -4l11 -2zM79 66l-11 5l-2 -4l11 -5zM65 89l-15 1l-0 -5l15 -1zM34 71l11 4l-2 5l-11 -4zM51 113l5 4l-3 4l-5 -4zM77 67l-15 8l-3 -5l15 -8zM79 150l2 10l-3 1l-2 -10zM65 110l1 9l-6 0l-1 -9zM63 156l-1 12l-3 -0l1 -12zM53 94l-10 6l-2 -3l10 -6zM25 145l-1 8l-6 -0l1 -8zM91 132l-2 7l-4 -1l2 -7zM31 95l-5 15l-5 -2l5 -15zM117 62l-10 6l-3 -5l10 -6zM74 44l-7 8l-3 -3l7 -8zM50 36l12 3l-1 4l-12 -3zM69 132l2 8l-6 1l-2 -8zM0 83l15 5l-1 3l-15 -5zM66 128l7 1l-1 5l-7 -1zM7 145l11 2l-1 6l-11 -2zM28 54l-3 15l-4 -1l3 -15zM103 96l12 8l-3 4l-12 -8zM75 28l9 11l-3 2l-9 -11zM88 85l-14 5l-2 -5l14 -5zM50 131l-4 10l-3 -1l4 -10zM82 77l11 5l-2 4l-11 -5zM38 104l9 5l-2 3l-9 -5zM122 137l-7 5l-3 -4l7 -5zM72 76l-10 10l-4 -3l10 -10zM30 95l-11 12l-2 -2l11 -12zM99 86l4 7l-3 2l-4 -7zM86 133l2 10l-4 1l-2 -10zM62 107l1 10l-4 0l-1 -10zM29 123l-15 1l-0 -3l15 -1zM44 153l6 2l-2 5l-6 -2zM44 99l-9 3l-1 -5l9 -3zM97 95l-8 4l-2 -4l8 -4zM54 54l-3 11l-6 -2l3 -11zM45 43l-6 13l-5 -2l6 -13zM46 149l9 10l-2 2l-9 -10zM75 140l-6 6l-3 -4l6 -6zM126 124l-8 0l-0 -4l8 -0zM89 95l13 2l-1 5l-13 -2zM96 154l-9 9l-4 -3l9 -9zM120 106l-13 5l-1 -4l13 -5zM42 54l7 7l-3 3l-7 -7zM101 49l-1 12l-4 -0l1 -12zM59 121l3 6l-5 3l-3 -6zM16 119l-7 1l-0 -4l7 -1zM68 44l4 6l-3 2l-4 -6zM99 132l8 1l-1 6l-8 -1zM115 100l10 1l-1 6l-10 -1zM28 137l6 2l-1 3l-6 -2zM26 68l7 13l-3 2l-7 -13zM71 86l-6 9l-5 -3l6 -9zM115 78l1 10l-5 0l-1 -10zM75 111l5 6l-2 2l-5 -6zM34 55l7 0l-0 4l-7 -0zM48 57l3 15l-5 1l-3 -15zM104 113l-7 2l-1 -5l7 -2zM32 55l6 9l-3 2l-6 -9zM115 123l7 5l-2 3l-7 -5zM78 162l-8 4l-2 -5l8 -4zM93 66l9 12l-3 2l-9 -12zM23 84l-13 8l-2 -3l13 -8zM118 99l5 7l-4 3l-5 -7zM81 42l9 5l-2 3l-9 -5zM52 58l2 12l-4 0l-2 -12zM95 61l8 15l-5 2l-8 -15zM109 107l15 6l-1 3l-15 -6zM74 138l-3 7l-4 -2l3 -7zM67 105l4 8l-5 2l-4 -8zM76 57l7 2l-1 4l-7 -2zM26 118l13 10l-2 3l-13 -10zM15 124l-2 12l-3 -0l2 -12zM130 107l-12 4l-2 -5l12 -4z" fill="rgb(83,83,83)" transform="translate(0.9 1.3)" opacity="0.8"/><path d="M52 27l-4 12l-5 -2l4 -12zM76 108l-9 6l-3 -5l9 -6zM32 90l9 8l-3 4l-9 -8zM11 92l15 7l-2 4l-15 -7zM53 164l-9 10l-3 -3l9 -10zM119 117l4 6l-3 2l-4 -6zM84 67l2 10l-5 1l-2 -10zM73 161l-3 16l-5 -1l3 -16zM114 116l-4 14l-4 -1l4 -14zM65 64l-10 4l-1 -3l10 -4zM80 121l-4 11l-4 -1l4 -11zM40 70l12 8l-3 5l-12 -8zM97 75l-11 5l-1 -3l11 -5zM114 119l6 5l-3 3l-6 -5zM108 87l1 13l-5 0l-1 -13zM123 132l-4 12l-4 -1l4 -12zM25 138l8 7l-2 3l-8 -7zM28 79l12 8l-2 4l-12 -8zM67 74l5 10l-4 2l-5 -10zM31 122l-11 2l-1 -4l11 -2zM79 66l-11 5l-2 -4l11 -5zM65 89l-15 1l-0 -5l15 -1zM34 71l11 4l-2 5l-11 -4zM51 113l5 4l-3 4l-5 -4zM77 67l-15 8l-3 -5l15 -8zM79 150l2 10l-3 1l-2 -10zM65 110l1 9l-6 0l-1 -9zM63 156l-1 12l-3 -0l1 -12zM53 94l-10 6l-2 -3l10 -6zM25 145l-1 8l-6 -0l1 -8zM91 132l-2 7l-4 -1l2 -7zM31 95l-5 15l-5 -2l5 -15zM117 62l-10 6l-3 -5l10 -6zM74 44l-7 8l-3 -3l7 -8zM50 36l12 3l-1 4l-12 -3zM69 132l2 8l-6 1l-2 -8zM0 83l15 5l-1 3l-15 -5zM66 128l7 1l-1 5l-7 -1zM7 145l11 2l-1 6l-11 -2zM28 54l-3 15l-4 -1l3 -15zM103 96l12 8l-3 4l-12 -8zM75 28l9 11l-3 2l-9 -11zM88 85l-14 5l-2 -5l14 -5zM50 131l-4 10l-3 -1l4 -10zM82 77l11 5l-2 4l-11 -5zM38 104l9 5l-2 3l-9 -5zM122 137l-7 5l-3 -4l7 -5zM72 76l-10 10l-4 -3l10 -10zM30 95l-11 12l-2 -2l11 -12zM99 86l4 7l-3 2l-4 -7zM86 133l2 10l-4 1l-2 -10zM62 107l1 10l-4 0l-1 -10zM29 123l-15 1l-0 -3l15 -1zM44 153l6 2l-2 5l-6 -2zM44 99l-9 3l-1 -5l9 -3zM97 95l-8 4l-2 -4l8 -4zM54 54l-3 11l-6 -2l3 -11zM45 43l-6 13l-5 -2l6 -13zM46 149l9 10l-2 2l-9 -10zM75 140l-6 6l-3 -4l6 -6zM126 124l-8 0l-0 -4l8 -0zM89 95l13 2l-1 5l-13 -2zM96 154l-9 9l-4 -3l9 -9zM120 106l-13 5l-1 -4l13 -5zM42 54l7 7l-3 3l-7 -7zM101 49l-1 12l-4 -0l1 -12zM59 121l3 6l-5 3l-3 -6zM16 119l-7 1l-0 -4l7 -1zM68 44l4 6l-3 2l-4 -6zM99 132l8 1l-1 6l-8 -1zM115 100l10 1l-1 6l-10 -1zM28 137l6 2l-1 3l-6 -2zM26 68l7 13l-3 2l-7 -13zM71 86l-6 9l-5 -3l6 -9zM115 78l1 10l-5 0l-1 -10zM75 111l5 6l-2 2l-5 -6zM34 55l7 0l-0 4l-7 -0zM48 57l3 15l-5 1l-3 -15zM104 113l-7 2l-1 -5l7 -2zM32 55l6 9l-3 2l-6 -9zM115 123l7 5l-2 3l-7 -5zM78 162l-8 4l-2 -5l8 -4zM93 66l9 12l-3 2l-9 -12zM23 84l-13 8l-2 -3l13 -8zM118 99l5 7l-4 3l-5 -7zM81 42l9 5l-2 3l-9 -5zM52 58l2 12l-4 0l-2 -12zM95 61l8 15l-5 2l-8 -15zM109 107l15 6l-1 3l-15 -6zM74 138l-3 7l-4 -2l3 -7zM67 105l4 8l-5 2l-4 -8zM76 57l7 2l-1 4l-7 -2zM26 118l13 10l-2 3l-13 -10zM15 124l-2 12l-3 -0l2 -12zM130 107l-12 4l-2 -5l12 -4z" fill="rgb(136,136,136)" stroke="rgb(163,163,163)" stroke-width="0.9" stroke-linejoin="round"/><path d="M61 78l-4 7l-4 -2l4 -7zM30 111l-3 13l-4 -1l3 -13zM38 52l0 13l-3 0l-0 -13zM95 79l-14 1l-0 -3l14 -1zM15 52l7 10l-5 3l-7 -10zM92 115l5 4l-3 4l-5 -4zM29 157l6 4l-3 4l-6 -4zM62 81l-9 8l-3 -3l9 -8zM105 89l6 1l-1 3l-6 -1zM44 117l4 12l-5 2l-4 -12zM82 63l3 13l-4 1l-3 -13zM61 67l3 15l-4 1l-3 -15zM101 93l-1 8l-4 -1l1 -8zM12 139l13 6l-2 4l-13 -6zM23 107l-5 7l-3 -3l5 -7zM63 128l-7 10l-5 -3l7 -10zM35 37l7 9l-4 3l-7 -9zM23 81l8 4l-2 4l-8 -4zM118 95l12 11l-3 4l-12 -11zM86 98l-1 10l-5 -1l1 -10zM65 25l-10 9l-2 -3l10 -9zM27 152l-7 4l-2 -3l7 -4zM55 82l4 5l-3 2l-4 -5zM9 78l-0 12l-5 -0l0 -12zM39 131l-6 8l-3 -2l6 -8zM80 40l-7 0l-0 -5l7 -0zM43 49l-12 3l-1 -4l12 -3zM127 134l-4 13l-5 -2l4 -13zM102 63l4 9l-4 2l-4 -9zM86 52l9 7l-3 4l-9 -7zM101 128l1 14l-3 0l-1 -14zM40 115l9 0l-0 5l-9 -0zM95 118l5 10l-4 2l-5 -10zM31 86l4 12l-3 1l-4 -12zM14 83l-8 5l-2 -4l8 -5zM55 110l15 0l-0 6l-15 -0zM90 72l4 10l-4 2l-4 -10zM48 112l5 6l-2 2l-5 -6zM52 70l11 9l-2 3l-11 -9zM61 109l-7 11l-3 -2l7 -11zM25 53l-7 1l-0 -4l7 -1zM60 54l-8 6l-2 -3l8 -6zM57 63l9 3l-1 5l-9 -3zM65 43l8 4l-1 3l-8 -4zM64 154l-5 11l-4 -2l5 -11zM69 58l-4 10l-5 -2l4 -10zM15 129l-15 2l-0 -4l15 -2zM33 72l2 9l-3 1l-2 -9zM82 130l-7 4l-3 -5l7 -4zM35 74l11 6l-3 5l-11 -6zM96 144l-10 9l-3 -3l10 -9zM103 48l-7 7l-4 -4l7 -7zM115 142l1 8l-5 0l-1 -8zM110 147l3 6l-3 1l-3 -6zM44 120l7 10l-3 2l-7 -10zM50 60l8 7l-4 4l-8 -7zM83 51l-11 9l-2 -3l11 -9zM31 148l-14 3l-1 -4l14 -3zM31 72l-6 7l-3 -2l6 -7zM53 159l6 6l-3 2l-6 -6zM30 87l14 1l-0 3l-14 -1zM16 78l-11 3l-1 -3l11 -3zM38 38l9 9l-4 4l-9 -9zM125 119l-2 12l-6 -1l2 -12zM67 52l-8 3l-1 -4l8 -3zM80 58l-5 8l-3 -2l5 -8zM103 145l9 1l-0 4l-9 -1zM63 46l-8 8l-3 -3l8 -8zM35 60l-10 6l-2 -3l10 -6zM41 55l9 1l-1 6l-9 -1zM75 54l-9 1l-0 -3l9 -1zM22 115l14 5l-1 3l-14 -5zM22 145l14 9l-3 5l-14 -9zM71 108l0 15l-4 0l-0 -15zM118 118l-6 14l-5 -2l6 -14zM60 50l6 13l-5 2l-6 -13zM70 60l13 10l-2 2l-13 -10zM67 119l5 8l-3 2l-5 -8zM96 74l-5 14l-6 -2l5 -14zM39 152l-1 6l-6 -1l1 -6zM32 47l11 6l-2 4l-11 -6zM64 67l-7 8l-4 -3l7 -8z" fill="rgb(148,148,148)" stroke="rgb(177,177,177)" stroke-width="0.9" stroke-linejoin="round"/><path d="M100 148l6 11l-4 2l-6 -11zM102 114l-16 4l-1 -3l16 -4zM43 65l5 11l-5 2l-5 -11zM77 68l-7 11l-3 -2l7 -11zM77 136l14 6l-2 5l-14 -6zM26 148l1 17l-5 0l-1 -17zM104 155l4 13l-3 1l-4 -13zM90 161l-8 9l-4 -3l8 -9zM50 62l8 12l-3 2l-8 -12zM94 58l8 3l-2 4l-8 -3zM93 139l-5 8l-5 -3l5 -8zM97 111l-4 13l-4 -1l4 -13zM93 58l9 3l-1 4l-9 -3zM25 102l1 8l-6 1l-1 -8zM77 101l-9 6l-3 -4l9 -6zM42 22l6 16l-5 2l-6 -16zM100 89l1 7l-4 1l-1 -7zM90 112l-12 12l-2 -2l12 -12zM54 48l10 12l-4 3l-10 -12zM49 169l-6 0l-0 -5l6 -0zM36 77l4 6l-4 2l-4 -6zM55 164l9 4l-2 4l-9 -4zM77 158l-4 8l-5 -3l4 -8zM88 76l-8 12l-4 -3l8 -12zM118 77l0 16l-6 0l-0 -16zM7 107l3 10l-5 2l-3 -10zM67 43l-7 1l-0 -4l7 -1zM61 79l-7 5l-2 -3l7 -5zM58 148l-13 5l-2 -4l13 -5zM117 76l5 11l-5 2l-5 -11zM51 108l12 6l-1 3l-12 -6zM44 132l8 10l-4 3l-8 -10zM91 101l1 9l-6 1l-1 -9zM75 160l10 10l-4 4l-10 -10zM62 134l2 10l-6 1l-2 -10zM23 138l-4 16l-6 -1l4 -16zM109 92l8 11l-3 2l-8 -11zM85 60l8 14l-3 2l-8 -14zM62 154l1 12l-5 0l-1 -12zM64 113l5 11l-5 3l-5 -11zM81 139l7 5l-3 5l-7 -5zM102 100l5 9l-4 2l-5 -9zM66 118l8 10l-3 3l-8 -10zM18 121l5 14l-3 1l-5 -14zM71 117l-13 10l-3 -3l13 -10zM45 71l-10 9l-2 -3l10 -9zM15 113l-0 9l-5 -0l0 -9zM79 98l7 6l-2 3l-7 -6zM73 118l7 13l-5 3l-7 -13zM51 53l3 14l-5 1l-3 -14zM106 135l-4 11l-3 -1l4 -11zM25 129l-6 10l-3 -2l6 -10zM56 102l-13 2l-1 -4l13 -2zM71 120l7 7l-3 3l-7 -7zM31 131l9 8l-2 2l-9 -8zM45 107l-7 12l-4 -2l7 -12zM30 51l-7 14l-4 -2l7 -14zM113 135l13 9l-2 3l-13 -9zM64 43l-13 10l-4 -5l13 -10zM115 147l4 5l-3 2l-4 -5zM118 70l-10 6l-3 -5l10 -6zM82 138l10 4l-2 4l-10 -4zM55 103l-7 3l-1 -3l7 -3zM61 48l-3 16l-6 -1l3 -16zM25 104l-6 5l-2 -3l6 -5zM39 95l4 5l-4 3l-4 -5zM88 99l13 10l-3 4l-13 -10zM16 74l6 7l-4 3l-6 -7zM94 111l-6 5l-3 -4l6 -5zM42 67l-5 7l-4 -3l5 -7zM24 153l10 6l-2 4l-10 -6zM102 81l13 6l-2 4l-13 -6zM53 95l8 13l-5 3l-8 -13zM18 146l-9 3l-1 -4l9 -3zM81 61l-1 10l-4 -0l1 -10zM50 60l1 7l-4 0l-1 -7zM35 59l-15 9l-3 -5l15 -9zM57 91l6 14l-5 2l-6 -14zM7 134l5 6l-3 3l-5 -6zM85 153l11 10l-4 4l-11 -10zM66 66l-6 2l-1 -4l6 -2zM32 59l-3 6l-5 -2l3 -6zM80 116l-10 8l-3 -4l10 -8zM60 74l-11 2l-1 -5l11 -2zM111 81l-2 7l-5 -1l2 -7zM111 68l-9 8l-4 -4l9 -8zM45 76l7 3l-2 4l-7 -3zM83 53l2 12l-5 1l-2 -12zM67 140l9 6l-3 5l-9 -6z" fill="rgb(161,161,161)" stroke="rgb(193,193,193)" stroke-width="0.9" stroke-linejoin="round"/><path d="M66 69l-11 3l-1 -6l11 -3zM32 156l13 4l-1 5l-13 -4zM56 43l-4 15l-4 -1l4 -15zM33 114l-7 7l-4 -4l7 -7zM102 82l11 2l-1 5l-11 -2zM8 135l12 5l-1 4l-12 -5zM63 33l15 1l-0 4l-15 -1zM67 88l-4 16l-4 -1l4 -16zM93 100l6 2l-1 3l-6 -2zM102 126l-8 12l-3 -2l8 -12zM80 96l4 12l-3 1l-4 -12zM117 116l-4 12l-4 -2l4 -12zM28 105l-0 8l-5 -0l0 -8zM80 125l12 4l-2 4l-12 -4zM27 107l-8 4l-2 -4l8 -4zM22 143l-11 4l-1 -3l11 -4zM48 48l6 11l-5 3l-6 -11zM21 114l-10 9l-2 -2l10 -9zM94 71l-5 16l-5 -2l5 -16zM41 71l2 8l-4 1l-2 -8zM86 121l10 4l-2 5l-10 -4zM19 124l-6 11l-5 -3l6 -11zM63 45l-11 2l-1 -4l11 -2zM47 83l-14 8l-2 -3l14 -8zM37 131l-9 1l-0 -4l9 -1zM38 122l10 1l-0 4l-10 -1zM45 81l-1 14l-4 -0l1 -14zM111 88l4 16l-5 1l-4 -16zM57 84l3 8l-3 1l-3 -8zM73 71l2 9l-3 1l-2 -9zM108 140l14 9l-2 3l-14 -9zM59 140l-8 3l-1 -3l8 -3zM91 81l-11 3l-1 -5l11 -3zM100 100l10 4l-1 3l-10 -4zM105 147l1 7l-4 0l-1 -7zM52 45l7 6l-2 2l-7 -6zM47 59l-1 7l-5 -0l1 -7zM48 152l9 4l-2 5l-9 -4zM35 157l4 6l-4 2l-4 -6zM68 141l-2 6l-4 -1l2 -6zM58 79l-2 11l-4 -1l2 -11zM87 131l9 5l-3 5l-9 -5zM11 73l7 9l-3 2l-7 -9zM97 142l-16 3l-1 -3l16 -3zM48 59l6 0l-0 5l-6 -0zM88 41l-4 7l-5 -3l4 -7zM115 131l-3 10l-5 -1l3 -10zM64 167l-7 8l-3 -3l7 -8zM58 76l7 5l-2 3l-7 -5zM124 72l-12 3l-1 -5l12 -3zM14 68l1 6l-4 1l-1 -6zM27 132l-11 4l-2 -6l11 -4zM48 140l-6 12l-3 -1l6 -12zM120 113l13 11l-3 3l-13 -11zM116 93l7 8l-3 2l-7 -8zM15 104l-5 13l-4 -1l5 -13zM41 83l-5 16l-3 -1l5 -16zM100 103l6 6l-3 4l-6 -6zM116 92l-1 12l-4 -0l1 -12zM67 61l-3 11l-3 -1l3 -11zM75 71l11 2l-1 5l-11 -2zM60 144l12 3l-1 3l-12 -3zM47 128l4 6l-4 3l-4 -6zM23 149l1 6l-4 1l-1 -6zM85 53l-5 13l-4 -1l5 -13zM93 124l-10 11l-3 -3l10 -11zM63 123l-7 5l-3 -4l7 -5zM79 66l4 5l-3 3l-4 -5zM51 142l10 2l-1 4l-10 -2zM38 40l-11 3l-1 -4l11 -3zM7 86l2 6l-5 2l-2 -6zM102 107l-16 2l-0 -3l16 -2zM21 80l0 13l-4 0l-0 -13zM87 50l-8 14l-3 -2l8 -14zM41 44l11 4l-1 4l-11 -4zM84 47l-6 10l-4 -3l6 -10zM106 160l-8 4l-1 -3l8 -4zM69 108l5 6l-4 4l-5 -6zM36 71l-6 8l-3 -2l6 -8zM85 95l6 14l-3 1l-6 -14zM39 154l-3 8l-4 -1l3 -8zM57 56l3 9l-4 1l-3 -9zM39 32l-2 8l-4 -1l2 -8zM28 38l6 11l-5 3l-6 -11zM44 77l12 6l-3 5l-12 -6zM31 143l10 11l-3 3l-10 -11zM98 137l-9 10l-3 -3l9 -10zM94 96l-2 16l-5 -1l2 -16zM63 59l7 8l-3 3l-7 -8zM63 46l-3 16l-3 -1l3 -16zM42 92l-2 7l-5 -1l2 -7zM54 160l13 2l-0 4l-13 -2zM48 63l-10 4l-1 -3l10 -4zM32 63l-2 12l-6 -1l2 -12zM51 95l6 6l-4 3l-6 -6z" fill="rgb(173,173,173)" stroke="rgb(207,207,207)" stroke-width="0.9" stroke-linejoin="round"/><path d="M33 30l1 13l-4 0l-1 -13zM93 81l9 14l-3 2l-9 -14zM31 142l-5 5l-2 -2l5 -5zM114 118l-11 13l-5 -4l11 -13zM38 130l5 6l-4 4l-5 -6zM48 61l-4 6l-5 -3l4 -6zM77 155l-15 8l-3 -5l15 -8zM74 132l-9 7l-3 -4l9 -7zM65 159l-8 2l-1 -4l8 -2zM110 81l-14 7l-2 -3l14 -7zM58 123l-15 2l-1 -5l15 -2zM119 84l7 2l-1 5l-7 -2zM10 76l-0 9l-6 -0l0 -9zM87 66l2 6l-4 1l-2 -6zM112 120l14 6l-2 4l-14 -6zM18 83l7 15l-4 2l-7 -15zM92 88l11 9l-2 2l-11 -9zM88 140l15 2l-1 3l-15 -2zM55 132l2 7l-4 1l-2 -7zM122 125l6 14l-3 1l-6 -14zM101 94l9 3l-1 3l-9 -3zM51 64l-3 14l-4 -1l3 -14zM59 124l7 1l-0 3l-7 -1zM73 77l-8 0l-0 -5l8 -0zM92 91l11 9l-3 3l-11 -9zM53 159l14 5l-2 5l-14 -5zM65 52l8 5l-2 4l-8 -5zM34 149l-4 6l-5 -3l4 -6zM66 39l-7 4l-3 -4l7 -4zM92 56l11 4l-1 4l-11 -4zM43 106l8 1l-1 4l-8 -1zM82 134l-2 7l-5 -2l2 -7zM98 154l13 11l-3 3l-13 -11zM108 63l3 12l-6 2l-3 -12zM87 71l8 1l-0 3l-8 -1zM76 76l-6 11l-5 -2l6 -11zM10 76l2 12l-3 1l-2 -12zM81 151l2 7l-4 1l-2 -7zM66 41l14 3l-1 5l-14 -3zM54 89l2 6l-5 2l-2 -6zM34 54l-12 5l-2 -5l12 -5zM71 70l-9 3l-2 -6l9 -3zM115 66l-6 5l-3 -3l6 -5zM130 125l-10 5l-2 -4l10 -5zM99 114l-2 12l-4 -1l2 -12zM61 59l3 7l-3 1l-3 -7zM67 165l3 6l-4 2l-3 -6zM46 48l-12 0l-0 -5l12 -0zM30 31l13 8l-2 3l-13 -8zM12 146l9 8l-3 3l-9 -8zM42 158l9 1l-1 4l-9 -1zM125 110l-14 8l-2 -4l14 -8zM65 62l-13 1l-0 -5l13 -1zM60 98l3 10l-4 1l-3 -10zM98 122l-6 5l-3 -3l6 -5zM51 120l-5 6l-4 -4l5 -6zM56 157l-5 7l-3 -2l5 -7zM107 82l7 4l-2 3l-7 -4zM96 138l-0 8l-4 -0l0 -8zM117 122l15 6l-1 3l-15 -6zM60 145l2 7l-4 1l-2 -7zM122 148l-12 6l-2 -4l12 -6zM100 117l-12 3l-1 -3l12 -3zM115 103l-15 1l-0 -3l15 -1zM24 148l-10 9l-4 -4l10 -9zM69 144l16 4l-1 4l-16 -4zM44 141l-11 7l-3 -4l11 -7zM21 76l-2 15l-3 -0l2 -15zM117 132l-6 0l-0 -4l6 -0zM45 89l-3 10l-5 -2l3 -10zM114 95l-1 16l-3 -0l1 -16zM108 103l11 0l-0 3l-11 -0zM72 143l7 7l-2 2l-7 -7zM51 118l-7 13l-3 -2l7 -13zM68 41l9 7l-3 4l-9 -7zM26 76l-6 5l-2 -3l6 -5zM125 114l5 12l-5 2l-5 -12zM93 158l-10 4l-2 -4l10 -4zM100 63l1 16l-6 0l-1 -16zM53 73l-6 1l-1 -4l6 -1zM26 144l6 4l-2 4l-6 -4zM24 118l-2 11l-6 -1l2 -11zM109 65l1 6l-5 1l-1 -6zM21 107l-9 7l-3 -4l9 -7zM61 18l2 17l-4 1l-2 -17zM82 46l8 9l-3 3l-8 -9zM86 80l8 4l-2 3l-8 -4zM30 54l-14 2l-1 -5l14 -2zM32 110l4 15l-5 1l-4 -15z" fill="rgb(185,185,185)" stroke="rgb(222,222,222)" stroke-width="0.9" stroke-linejoin="round"/><rect x="2" y="18" width="126" height="155" fill="url(#ovA)"/></g><path d="M72 283l-4 0l-0 -3l4 -0zM78 262l-5 0l-0 -3l5 -0zM94 246l3 4l-3 2l-3 -4zM134 242l5 6l-2 2l-5 -6zM137 246l8 2l-1 3l-8 -2zM151 253l-1 8l-4 -0l1 -8zM156 263l1 6l-3 1l-1 -6zM69 274l5 2l-2 4l-5 -2zM75 272l-4 3l-2 -4l4 -3zM103 244l4 3l-3 4l-4 -3zM156 260l-2 4l-4 -2l2 -4zM156 273l5 7l-2 2l-5 -7zM69 265l9 1l-0 4l-9 -1zM82 254l-3 8l-4 -2l3 -8zM86 253l-3 4l-2 -2l3 -4zM115 243l1 6l-4 0l-1 -6zM117 243l-1 7l-3 -0l1 -7zM128 245l-4 3l-2 -3l4 -3zM134 242l-1 8l-4 -1l1 -8zM155 266l4 6l-3 2l-4 -6zM91 247l-0 6l-3 -0l0 -6zM100 249l-4 2l-2 -4l4 -2zM105 244l6 1l-0 4l-6 -1zM145 247l3 7l-4 2l-3 -7z" fill="rgb(78,78,78)" transform="translate(0.9 1.3)" opacity="0.8"/><path d="M72 283l-4 0l-0 -3l4 -0zM78 262l-5 0l-0 -3l5 -0zM94 246l3 4l-3 2l-3 -4zM134 242l5 6l-2 2l-5 -6zM137 246l8 2l-1 3l-8 -2zM151 253l-1 8l-4 -0l1 -8zM156 263l1 6l-3 1l-1 -6z" fill="rgb(139,139,139)" stroke="rgb(166,166,166)" stroke-width="0.9" stroke-linejoin="round"/><path d="M91 247l-0 6l-3 -0l0 -6zM100 249l-4 2l-2 -4l4 -2zM105 244l6 1l-0 4l-6 -1zM145 247l3 7l-4 2l-3 -7z" fill="rgb(150,150,150)" stroke="rgb(180,180,180)" stroke-width="0.9" stroke-linejoin="round"/><path d="M69 274l5 2l-2 4l-5 -2zM75 272l-4 3l-2 -4l4 -3zM103 244l4 3l-3 4l-4 -3zM156 260l-2 4l-4 -2l2 -4zM156 273l5 7l-2 2l-5 -7z" fill="rgb(161,161,161)" stroke="rgb(193,193,193)" stroke-width="0.9" stroke-linejoin="round"/><path d="M69 265l9 1l-0 4l-9 -1zM82 254l-3 8l-4 -2l3 -8zM86 253l-3 4l-2 -2l3 -4zM115 243l1 6l-4 0l-1 -6zM117 243l-1 7l-3 -0l1 -7zM128 245l-4 3l-2 -3l4 -3zM134 242l-1 8l-4 -1l1 -8zM155 266l4 6l-3 2l-4 -6z" fill="rgb(173,173,173)" stroke="rgb(207,207,207)" stroke-width="0.9" stroke-linejoin="round"/><g clip-path="url(#clH)"><rect x="66.5" y="241.8" width="93.30000000000001" height="50.19999999999999" fill="url(#rgH)"/><path d="M125 278l-12 5l-2 -4l12 -5zM118 264l-5 7l-2 -2l5 -7zM117 285l-10 1l-0 -5l10 -1zM147 261l2 17l-4 0l-2 -17zM140 267l-12 1l-0 -6l12 -1zM129 242l13 4l-1 3l-13 -4zM127 264l13 3l-1 4l-13 -3zM108 243l10 2l-1 5l-10 -2zM97 253l9 6l-3 4l-9 -6zM137 248l16 3l-1 3l-16 -3zM146 253l-7 9l-2 -2l7 -9zM106 286l-6 5l-2 -3l6 -5zM70 272l4 9l-3 1l-4 -9zM82 276l9 0l-0 5l-9 -0zM131 284l-8 7l-3 -3l8 -7zM125 257l-7 1l-1 -5l7 -1zM96 274l-14 1l-0 -4l14 -1zM122 279l-10 9l-3 -4l10 -9zM124 258l1 7l-6 0l-1 -7zM126 253l4 7l-4 2l-4 -7zM83 272l5 8l-4 2l-5 -8zM142 260l7 5l-3 4l-7 -5zM127 287l-8 3l-2 -5l8 -3zM145 278l-11 4l-2 -5l11 -4zM116 263l1 8l-5 0l-1 -8zM71 277l7 4l-2 4l-7 -4zM128 275l-8 1l-0 -4l8 -1zM122 239l13 10l-2 3l-13 -10zM91 253l14 7l-3 5l-14 -7zM124 275l-15 7l-3 -5l15 -7zM130 262l0 13l-6 0l-0 -13zM128 261l-9 2l-1 -5l9 -2zM90 252l-10 13l-4 -3l10 -13zM159 270l-3 13l-3 -1l3 -13zM97 279l17 1l-0 6l-17 -1zM77 264l-3 6l-3 -2l3 -6zM129 256l-3 6l-4 -2l3 -6zM107 277l3 11l-3 1l-3 -11zM118 261l-12 8l-3 -5l12 -8zM80 269l0 12l-3 0l-0 -12zM143 264l-6 6l-3 -3l6 -6zM86 267l4 11l-5 2l-4 -11zM119 250l8 4l-3 5l-8 -4zM94 275l12 7l-3 5l-12 -7zM73 279l-4 7l-3 -2l4 -7zM108 279l-12 3l-1 -3l12 -3zM110 277l-1 12l-5 -0l1 -12zM142 267l-6 7l-3 -2l6 -7zM78 257l8 10l-4 3l-8 -10zM122 244l5 10l-4 2l-5 -10zM141 244l-0 9l-5 -0l0 -9zM76 255l7 4l-2 4l-7 -4zM124 263l-13 7l-3 -5l13 -7zM100 256l-1 7l-4 -1l1 -7zM144 259l-10 10l-3 -3l10 -10zM101 272l4 5l-4 4l-4 -5zM91 250l-3 10l-5 -1l3 -10zM92 278l-15 4l-2 -6l15 -4zM111 275l-8 0l-0 -4l8 -0zM162 284l-8 1l-1 -5l8 -1zM107 270l16 2l-1 5l-16 -2zM132 257l7 2l-2 6l-7 -2zM102 271l6 9l-3 2l-6 -9zM149 274l-4 5l-3 -2l4 -5zM93 268l-1 15l-5 -0l1 -15zM133 254l-15 5l-1 -3l15 -5zM92 273l4 14l-6 1l-4 -14zM142 257l-5 4l-3 -3l5 -4zM82 248l0 16l-6 0l-0 -16zM119 253l-15 6l-2 -4l15 -6zM81 258l-6 8l-4 -3l6 -8zM110 282l-7 4l-3 -5l7 -4zM79 253l9 7l-2 3l-9 -7zM86 249l2 17l-4 0l-2 -17zM122 266l-1 14l-3 -0l1 -14zM102 275l11 4l-1 3l-11 -4zM148 283l-12 0l-0 -4l12 -0zM137 281l-9 9l-3 -3l9 -9zM80 279l-8 9l-3 -3l8 -9zM95 268l7 11l-3 2l-7 -11zM96 258l13 5l-1 3l-13 -5zM102 282l13 7l-2 4l-13 -7zM81 247l7 12l-3 2l-7 -12zM112 260l-1 8l-4 -1l1 -8zM139 276l-7 3l-2 -4l7 -3zM70 283l9 5l-2 4l-9 -5zM139 274l-1 8l-5 -1l1 -8zM146 258l-13 5l-2 -4l13 -5zM97 260l-12 0l-0 -4l12 -0zM81 279l7 14l-4 2l-7 -14zM133 261l12 3l-1 3l-12 -3zM90 279l-10 8l-4 -4l10 -8zM83 282l8 4l-2 5l-8 -4zM77 275l-2 7l-3 -1l2 -7zM118 272l6 1l-1 4l-6 -1zM101 255l8 1l-1 5l-8 -1zM117 271l-13 11l-3 -4l13 -11zM131 256l10 13l-3 2l-10 -13zM144 252l5 13l-5 2l-5 -13zM159 277l-10 7l-2 -3l10 -7zM89 275l7 2l-1 3l-7 -2zM112 289l-8 1l-0 -5l8 -1zM114 280l1 7l-4 0l-1 -7zM145 271l1 7l-5 0l-1 -7z" fill="rgb(78,78,78)" transform="translate(0.9 1.3)" opacity="0.8"/><path d="M95 268l7 11l-3 2l-7 -11zM96 258l13 5l-1 3l-13 -5zM102 282l13 7l-2 4l-13 -7zM81 247l7 12l-3 2l-7 -12zM112 260l-1 8l-4 -1l1 -8zM139 276l-7 3l-2 -4l7 -3zM70 283l9 5l-2 4l-9 -5zM139 274l-1 8l-5 -1l1 -8zM146 258l-13 5l-2 -4l13 -5zM97 260l-12 0l-0 -4l12 -0zM81 279l7 14l-4 2l-7 -14zM133 261l12 3l-1 3l-12 -3zM90 279l-10 8l-4 -4l10 -8zM83 282l8 4l-2 5l-8 -4zM77 275l-2 7l-3 -1l2 -7zM118 272l6 1l-1 4l-6 -1zM101 255l8 1l-1 5l-8 -1zM117 271l-13 11l-3 -4l13 -11zM131 256l10 13l-3 2l-10 -13zM144 252l5 13l-5 2l-5 -13zM159 277l-10 7l-2 -3l10 -7zM89 275l7 2l-1 3l-7 -2zM112 289l-8 1l-0 -5l8 -1zM114 280l1 7l-4 0l-1 -7zM145 271l1 7l-5 0l-1 -7z" fill="rgb(127,127,127)" stroke="rgb(152,152,152)" stroke-width="0.9" stroke-linejoin="round"/><path d="M127 287l-8 3l-2 -5l8 -3zM145 278l-11 4l-2 -5l11 -4zM116 263l1 8l-5 0l-1 -8zM71 277l7 4l-2 4l-7 -4zM128 275l-8 1l-0 -4l8 -1zM122 239l13 10l-2 3l-13 -10zM91 253l14 7l-3 5l-14 -7zM124 275l-15 7l-3 -5l15 -7zM130 262l0 13l-6 0l-0 -13zM128 261l-9 2l-1 -5l9 -2zM90 252l-10 13l-4 -3l10 -13zM159 270l-3 13l-3 -1l3 -13zM97 279l17 1l-0 6l-17 -1zM77 264l-3 6l-3 -2l3 -6zM129 256l-3 6l-4 -2l3 -6zM107 277l3 11l-3 1l-3 -11zM118 261l-12 8l-3 -5l12 -8zM80 269l0 12l-3 0l-0 -12zM143 264l-6 6l-3 -3l6 -6z" fill="rgb(139,139,139)" stroke="rgb(166,166,166)" stroke-width="0.9" stroke-linejoin="round"/><path d="M107 270l16 2l-1 5l-16 -2zM132 257l7 2l-2 6l-7 -2zM102 271l6 9l-3 2l-6 -9zM149 274l-4 5l-3 -2l4 -5zM93 268l-1 15l-5 -0l1 -15zM133 254l-15 5l-1 -3l15 -5zM92 273l4 14l-6 1l-4 -14zM142 257l-5 4l-3 -3l5 -4zM82 248l0 16l-6 0l-0 -16zM119 253l-15 6l-2 -4l15 -6zM81 258l-6 8l-4 -3l6 -8zM110 282l-7 4l-3 -5l7 -4zM79 253l9 7l-2 3l-9 -7zM86 249l2 17l-4 0l-2 -17zM122 266l-1 14l-3 -0l1 -14zM102 275l11 4l-1 3l-11 -4zM148 283l-12 0l-0 -4l12 -0zM137 281l-9 9l-3 -3l9 -9zM80 279l-8 9l-3 -3l8 -9z" fill="rgb(150,150,150)" stroke="rgb(180,180,180)" stroke-width="0.9" stroke-linejoin="round"/><path d="M125 278l-12 5l-2 -4l12 -5zM118 264l-5 7l-2 -2l5 -7zM117 285l-10 1l-0 -5l10 -1zM147 261l2 17l-4 0l-2 -17zM140 267l-12 1l-0 -6l12 -1zM129 242l13 4l-1 3l-13 -4zM127 264l13 3l-1 4l-13 -3zM108 243l10 2l-1 5l-10 -2zM97 253l9 6l-3 4l-9 -6zM137 248l16 3l-1 3l-16 -3zM146 253l-7 9l-2 -2l7 -9zM106 286l-6 5l-2 -3l6 -5zM70 272l4 9l-3 1l-4 -9zM82 276l9 0l-0 5l-9 -0zM131 284l-8 7l-3 -3l8 -7zM125 257l-7 1l-1 -5l7 -1zM96 274l-14 1l-0 -4l14 -1zM122 279l-10 9l-3 -4l10 -9zM124 258l1 7l-6 0l-1 -7zM126 253l4 7l-4 2l-4 -7zM83 272l5 8l-4 2l-5 -8zM142 260l7 5l-3 4l-7 -5z" fill="rgb(161,161,161)" stroke="rgb(193,193,193)" stroke-width="0.9" stroke-linejoin="round"/><path d="M86 267l4 11l-5 2l-4 -11zM119 250l8 4l-3 5l-8 -4zM94 275l12 7l-3 5l-12 -7zM73 279l-4 7l-3 -2l4 -7zM108 279l-12 3l-1 -3l12 -3zM110 277l-1 12l-5 -0l1 -12zM142 267l-6 7l-3 -2l6 -7zM78 257l8 10l-4 3l-8 -10zM122 244l5 10l-4 2l-5 -10zM141 244l-0 9l-5 -0l0 -9zM76 255l7 4l-2 4l-7 -4zM124 263l-13 7l-3 -5l13 -7zM100 256l-1 7l-4 -1l1 -7zM144 259l-10 10l-3 -3l10 -10zM101 272l4 5l-4 4l-4 -5zM91 250l-3 10l-5 -1l3 -10zM92 278l-15 4l-2 -6l15 -4zM111 275l-8 0l-0 -4l8 -0zM162 284l-8 1l-1 -5l8 -1z" fill="rgb(173,173,173)" stroke="rgb(207,207,207)" stroke-width="0.9" stroke-linejoin="round"/><rect x="66.5" y="241.8" width="93.30000000000001" height="50.19999999999999" fill="url(#ovH)"/></g><path d="M125 28l3 5l-3 2l-3 -5zM133 24l-3 4l-3 -2l3 -4zM147 14l5 1l-1 3l-5 -1zM157 17l-8 2l-1 -4l8 -2zM165 11l8 2l-1 4l-8 -2zM200 25l5 4l-2 3l-5 -4zM227 71l7 1l-0 3l-7 -1zM214 95l-1 4l-4 -1l1 -4zM191 113l4 1l-1 4l-4 -1zM180 119l7 1l-0 4l-7 -1zM160 120l5 6l-2 2l-5 -6zM158 123l-5 2l-1 -3l5 -2zM125 85l-2 5l-3 -1l2 -5zM123 81l-0 4l-4 -0l0 -4zM118 73l4 3l-2 3l-4 -3zM120 51l-2 4l-4 -2l2 -4zM138 22l-7 3l-1 -2l7 -3zM177 15l-8 3l-1 -4l8 -3zM193 20l6 0l-0 4l-6 -0zM236 55l-2 9l-4 -1l2 -9zM231 60l6 5l-2 3l-6 -5zM234 63l2 6l-4 1l-2 -6zM233 74l-8 4l-1 -3l8 -4zM218 82l1 6l-3 0l-1 -6zM219 90l-6 3l-1 -2l6 -3zM210 101l-5 6l-3 -2l5 -6zM197 106l8 2l-1 4l-8 -2zM175 122l-1 5l-4 -1l1 -5zM152 116l-2 7l-4 -1l2 -7zM146 113l-0 7l-4 -0l0 -7zM131 102l5 4l-3 3l-5 -4zM120 68l0 5l-3 0l-0 -5zM114 56l7 1l-0 4l-7 -1zM121 34l3 4l-4 3l-3 -4zM141 18l-2 6l-4 -2l2 -6zM158 11l2 6l-3 1l-2 -6zM177 10l3 7l-3 1l-3 -7zM183 12l4 3l-3 3l-4 -3zM201 22l1 7l-4 1l-1 -7zM214 31l-7 3l-1 -3l7 -3zM226 38l-6 1l-1 -4l6 -1zM226 38l3 2l-2 3l-3 -2zM221 80l1 6l-4 0l-1 -6zM203 108l-5 7l-3 -2l5 -7zM190 117l-1 4l-3 -1l1 -4zM181 120l-5 7l-2 -2l5 -7zM134 105l3 5l-2 1l-3 -5zM125 97l5 2l-1 3l-5 -2zM145 14l2 5l-2 1l-2 -5zM161 12l6 2l-1 3l-6 -2zM188 17l8 2l-1 3l-8 -2zM216 29l-1 5l-3 -1l1 -5zM222 32l-2 6l-3 -1l2 -6zM233 43l-7 5l-2 -3l7 -5zM233 49l-4 1l-1 -3l4 -1zM230 51l6 2l-1 3l-6 -2zM221 74l7 5l-2 3l-7 -5zM205 98l7 2l-1 3l-7 -2zM171 124l-6 4l-2 -3l6 -4zM139 111l6 2l-2 4l-6 -2zM129 95l-4 3l-2 -3l4 -3zM120 64l-2 5l-3 -1l2 -5zM120 58l-3 8l-3 -1l3 -8zM121 48l-4 5l-3 -2l4 -5zM121 38l-0 6l-3 -0l0 -6z" fill="rgb(82,82,82)" transform="translate(0.9 1.3)" opacity="0.8"/><path d="M141 18l-2 6l-4 -2l2 -6zM158 11l2 6l-3 1l-2 -6zM177 10l3 7l-3 1l-3 -7zM183 12l4 3l-3 3l-4 -3zM201 22l1 7l-4 1l-1 -7zM214 31l-7 3l-1 -3l7 -3zM226 38l-6 1l-1 -4l6 -1zM226 38l3 2l-2 3l-3 -2zM221 80l1 6l-4 0l-1 -6zM203 108l-5 7l-3 -2l5 -7zM190 117l-1 4l-3 -1l1 -4zM181 120l-5 7l-2 -2l5 -7zM134 105l3 5l-2 1l-3 -5zM125 97l5 2l-1 3l-5 -2z" fill="rgb(147,147,147)" stroke="rgb(176,176,176)" stroke-width="0.9" stroke-linejoin="round"/><path d="M138 22l-7 3l-1 -2l7 -3zM177 15l-8 3l-1 -4l8 -3zM193 20l6 0l-0 4l-6 -0zM236 55l-2 9l-4 -1l2 -9zM231 60l6 5l-2 3l-6 -5zM234 63l2 6l-4 1l-2 -6zM233 74l-8 4l-1 -3l8 -4zM218 82l1 6l-3 0l-1 -6zM219 90l-6 3l-1 -2l6 -3zM210 101l-5 6l-3 -2l5 -6zM197 106l8 2l-1 4l-8 -2zM175 122l-1 5l-4 -1l1 -5zM152 116l-2 7l-4 -1l2 -7zM146 113l-0 7l-4 -0l0 -7zM131 102l5 4l-3 3l-5 -4zM120 68l0 5l-3 0l-0 -5zM114 56l7 1l-0 4l-7 -1zM121 34l3 4l-4 3l-3 -4z" fill="rgb(159,159,159)" stroke="rgb(190,190,190)" stroke-width="0.9" stroke-linejoin="round"/><path d="M125 28l3 5l-3 2l-3 -5zM133 24l-3 4l-3 -2l3 -4zM147 14l5 1l-1 3l-5 -1zM157 17l-8 2l-1 -4l8 -2zM165 11l8 2l-1 4l-8 -2zM200 25l5 4l-2 3l-5 -4zM227 71l7 1l-0 3l-7 -1zM214 95l-1 4l-4 -1l1 -4zM191 113l4 1l-1 4l-4 -1zM180 119l7 1l-0 4l-7 -1zM160 120l5 6l-2 2l-5 -6zM158 123l-5 2l-1 -3l5 -2zM125 85l-2 5l-3 -1l2 -5zM123 81l-0 4l-4 -0l0 -4zM118 73l4 3l-2 3l-4 -3zM120 51l-2 4l-4 -2l2 -4z" fill="rgb(170,170,170)" stroke="rgb(204,204,204)" stroke-width="0.9" stroke-linejoin="round"/><path d="M145 14l2 5l-2 1l-2 -5zM161 12l6 2l-1 3l-6 -2zM188 17l8 2l-1 3l-8 -2zM216 29l-1 5l-3 -1l1 -5zM222 32l-2 6l-3 -1l2 -6zM233 43l-7 5l-2 -3l7 -5zM233 49l-4 1l-1 -3l4 -1zM230 51l6 2l-1 3l-6 -2zM221 74l7 5l-2 3l-7 -5zM205 98l7 2l-1 3l-7 -2zM171 124l-6 4l-2 -3l6 -4zM139 111l6 2l-2 4l-6 -2zM129 95l-4 3l-2 -3l4 -3zM120 64l-2 5l-3 -1l2 -5zM120 58l-3 8l-3 -1l3 -8zM121 48l-4 5l-3 -2l4 -5zM121 38l-0 6l-3 -0l0 -6z" fill="rgb(183,183,183)" stroke="rgb(219,219,219)" stroke-width="0.9" stroke-linejoin="round"/><g clip-path="url(#clB)"><rect x="114.6" y="11" width="122.20000000000002" height="116.4" fill="url(#rgB)"/><path d="M137 82l-1 14l-3 -0l1 -14zM177 20l-8 10l-4 -3l8 -10zM209 72l2 8l-3 1l-2 -8zM143 70l-10 2l-1 -5l10 -2zM185 107l-1 7l-3 -1l1 -7zM148 43l-7 2l-2 -5l7 -2zM152 13l4 4l-3 3l-4 -4zM197 80l7 8l-4 3l-7 -8zM176 31l-3 13l-4 -1l3 -13zM122 60l-1 10l-6 -0l1 -10zM149 68l11 4l-1 3l-11 -4zM177 89l-7 15l-5 -3l7 -15zM151 24l15 6l-1 4l-15 -6zM150 77l4 11l-5 2l-4 -11zM154 22l4 14l-5 2l-4 -14zM176 107l-10 4l-2 -5l10 -4zM218 77l-7 3l-2 -3l7 -3zM191 81l6 5l-2 3l-6 -5zM192 76l7 6l-2 3l-7 -6zM142 35l11 8l-3 4l-11 -8zM163 58l-4 14l-6 -2l4 -14zM181 77l-1 10l-5 -0l1 -10zM120 39l9 10l-3 3l-9 -10zM151 36l2 9l-5 1l-2 -9zM156 19l7 13l-3 2l-7 -13zM162 66l10 1l-0 5l-10 -1zM179 107l-9 0l-0 -3l9 -0zM193 68l8 8l-3 3l-8 -8zM183 62l-1 9l-4 -0l1 -9zM165 103l-11 12l-2 -2l11 -12zM135 104l12 8l-2 3l-12 -8zM148 15l5 5l-3 3l-5 -5zM153 117l13 6l-2 4l-13 -6zM188 16l12 10l-3 4l-12 -10zM216 41l-3 14l-4 -1l3 -14zM153 46l13 10l-3 4l-13 -10zM141 96l6 4l-2 4l-6 -4zM140 73l-9 7l-3 -4l9 -7zM196 30l8 15l-4 2l-8 -15zM156 76l11 8l-3 3l-11 -8zM226 42l7 13l-4 2l-7 -13zM171 79l8 12l-3 2l-8 -12zM135 28l7 7l-3 3l-7 -7zM197 91l-2 8l-4 -1l2 -8zM204 50l-2 11l-4 -1l2 -11zM155 41l-0 9l-3 -0l0 -9zM168 58l-8 12l-4 -2l8 -12zM196 108l4 9l-3 1l-4 -9zM212 50l-4 6l-4 -3l4 -6zM221 30l6 15l-5 2l-6 -15zM207 98l-4 10l-4 -2l4 -10zM208 85l-5 7l-4 -3l5 -7zM210 73l-13 0l-0 -5l13 -0zM209 26l9 10l-3 3l-9 -10zM163 39l5 14l-5 2l-5 -14zM163 93l-7 1l-1 -4l7 -1zM170 101l-5 7l-4 -3l5 -7zM194 92l2 13l-4 1l-2 -13zM119 71l10 2l-1 6l-10 -2zM144 54l-0 8l-6 -0l0 -8zM196 100l-7 5l-3 -5l7 -5zM140 95l10 5l-2 3l-10 -5zM165 61l-15 2l-1 -4l15 -2zM189 105l2 7l-5 2l-2 -7zM154 17l-5 12l-4 -1l5 -12zM208 34l8 6l-2 2l-8 -6zM136 29l-0 13l-4 -0l0 -13zM188 96l2 6l-3 1l-2 -6zM142 91l-6 4l-3 -4l6 -4zM197 78l-3 9l-5 -2l3 -9zM235 45l-10 6l-2 -4l10 -6zM187 93l-10 3l-1 -4l10 -3zM158 55l-11 9l-3 -3l11 -9zM210 105l-8 1l-1 -6l8 -1zM174 97l1 13l-4 0l-1 -13zM126 35l-6 9l-5 -3l6 -9zM135 41l-0 6l-4 -0l0 -6zM151 115l-6 2l-1 -4l6 -2zM149 114l1 6l-5 1l-1 -6zM122 26l11 4l-2 4l-11 -4zM151 106l5 14l-4 1l-5 -14zM177 113l-15 2l-1 -5l15 -2zM212 91l2 13l-4 1l-2 -13zM202 99l-16 5l-1 -3l16 -5zM130 40l-3 11l-5 -2l3 -11zM149 31l9 2l-1 4l-9 -2zM171 114l15 3l-1 3l-15 -3zM148 48l-7 10l-3 -2l7 -10zM168 17l4 7l-4 2l-4 -7zM136 83l1 17l-5 0l-1 -17zM180 68l12 5l-2 4l-12 -5zM174 93l6 16l-3 1l-6 -16zM132 91l3 6l-4 2l-3 -6zM171 43l11 4l-1 3l-11 -4zM210 38l8 14l-3 2l-8 -14zM140 41l7 1l-0 4l-7 -1zM213 51l-6 10l-3 -2l6 -10zM162 96l8 4l-3 5l-8 -4zM206 42l-4 8l-4 -2l4 -8zM141 56l5 12l-5 2l-5 -12zM141 52l-4 16l-4 -1l4 -16zM177 100l3 5l-4 2l-3 -5zM143 32l3 7l-4 2l-3 -7zM170 35l0 15l-5 0l-0 -15zM139 95l14 2l-1 4l-14 -2zM195 105l7 4l-2 4l-7 -4zM208 71l1 13l-3 0l-1 -13zM165 106l15 7l-2 3l-15 -7zM220 45l14 2l-1 6l-14 -2zM155 57l-11 1l-0 -5l11 -1zM169 86l15 1l-0 4l-15 -1zM198 40l-8 9l-4 -3l8 -9zM150 99l-17 0l-0 -3l17 -0zM154 113l-11 7l-2 -3l11 -7zM178 104l1 14l-6 0l-1 -14zM231 59l-10 4l-1 -4l10 -4zM188 31l5 5l-3 3l-5 -5zM125 83l-2 10l-5 -1l2 -10zM152 57l-0 7l-6 -0l0 -7zM131 34l13 6l-2 5l-13 -6zM145 38l2 11l-4 1l-2 -11zM174 73l1 10l-6 1l-1 -10zM184 28l-9 1l-0 -6l9 -1zM137 100l-0 13l-5 -0l0 -13zM180 84l-7 12l-4 -2l7 -12zM202 32l-2 13l-4 -1l2 -13zM165 80l-4 8l-3 -2l4 -8zM169 82l-11 7l-3 -5l11 -7zM163 101l-10 8l-4 -5l10 -8zM230 48l7 14l-5 2l-7 -14zM185 53l-15 7l-2 -3l15 -7zM170 16l-1 9l-4 -0l1 -9zM139 47l-6 3l-2 -3l6 -3zM144 86l4 12l-4 1l-4 -12zM114 41l11 5l-2 5l-11 -5zM198 34l5 15l-4 1l-5 -15zM139 44l7 4l-2 3l-7 -4zM153 53l8 6l-3 4l-8 -6zM205 23l-8 10l-3 -3l8 -10zM183 100l6 15l-3 1l-6 -15zM189 32l1 10l-5 1l-1 -10zM168 101l-12 5l-2 -6l12 -5zM138 86l-12 6l-1 -3l12 -6zM187 55l-2 14l-4 -0l2 -14zM171 21l-7 6l-3 -3l7 -6zM154 34l6 1l-1 4l-6 -1zM205 60l9 7l-2 3l-9 -7zM164 17l12 1l-0 3l-12 -1zM197 64l-13 8l-2 -3l13 -8zM164 57l-2 10l-4 -1l2 -10zM192 43l-10 3l-1 -4l10 -3zM155 25l-8 0l-0 -4l8 -0zM132 36l2 10l-4 1l-2 -10zM126 78l-6 5l-2 -3l6 -5zM149 97l-4 8l-4 -2l4 -8zM141 26l13 11l-4 5l-13 -11zM144 85l-8 12l-5 -3l8 -12zM177 91l12 8l-3 4l-12 -8zM205 98l-2 10l-5 -1l2 -10zM206 58l2 7l-3 1l-2 -7zM194 17l-1 9l-4 -0l1 -9zM152 79l-14 3l-1 -4l14 -3zM152 106l-11 4l-1 -4l11 -4zM145 99l-10 14l-3 -2l10 -14zM193 37l-2 6l-5 -2l2 -6zM204 91l5 8l-4 2l-5 -8zM143 105l-3 12l-6 -2l3 -12zM227 62l-6 12l-5 -3l6 -12zM194 69l-5 10l-4 -2l5 -10zM194 94l-0 10l-4 -0l0 -10zM188 49l-14 5l-2 -5l14 -5zM221 70l-15 6l-2 -5l15 -6zM228 52l0 15l-4 0l-0 -15zM193 66l2 9l-4 1l-2 -9zM202 97l-7 7l-2 -3l7 -7zM194 64l-7 2l-1 -4l7 -2zM152 47l-1 10l-5 -0l1 -10zM125 63l-15 1l-0 -5l15 -1zM183 61l-10 11l-4 -4l10 -11zM202 27l-6 5l-2 -3l6 -5zM194 55l13 7l-2 4l-13 -7zM124 29l11 5l-2 4l-11 -5zM165 38l-10 4l-1 -4l10 -4zM191 24l-3 9l-5 -2l3 -9zM217 44l-2 14l-4 -1l2 -14zM117 35l8 10l-2 2l-8 -10zM158 116l3 7l-3 1l-3 -7zM213 50l-6 2l-1 -3l6 -2zM176 16l12 9l-3 4l-12 -9zM233 56l-7 1l-0 -3l7 -1zM175 19l-13 8l-3 -4l13 -8zM122 50l-1 15l-4 -0l1 -15zM136 51l-1 7l-4 -1l1 -7zM137 70l-4 9l-5 -2l4 -9zM194 90l10 1l-0 3l-10 -1zM183 111l7 1l-0 4l-7 -1zM118 52l4 12l-4 1l-4 -12zM142 48l8 2l-1 5l-8 -2zM162 102l-11 4l-1 -3l11 -4zM176 34l-12 5l-1 -3l12 -5zM178 48l-16 3l-1 -4l16 -3zM152 40l10 3l-2 6l-10 -3zM129 24l3 11l-3 1l-3 -11zM194 74l15 1l-0 5l-15 -1zM139 91l-7 3l-2 -4l7 -3zM148 103l-11 4l-2 -4l11 -4zM148 42l-2 11l-3 -1l2 -11zM181 50l-0 17l-4 -0l0 -17zM166 100l1 6l-5 0l-1 -6zM157 117l16 6l-1 3l-16 -6zM137 105l-4 8l-5 -3l4 -8zM151 47l12 11l-4 4l-12 -11zM129 64l13 4l-2 5l-13 -4zM176 15l13 1l-0 3l-13 -1zM168 112l-10 10l-2 -2l10 -10zM157 39l4 6l-4 3l-4 -6zM207 38l-13 7l-2 -4l13 -7zM189 60l6 2l-1 4l-6 -2zM129 82l-7 5l-3 -5l7 -5zM137 40l-3 10l-5 -1l3 -10zM165 67l-9 9l-3 -3l9 -9zM175 22l6 5l-2 3l-6 -5zM200 103l0 7l-4 0l-0 -7zM138 85l3 11l-4 1l-3 -11zM175 95l7 4l-2 3l-7 -4zM196 21l5 11l-5 2l-5 -11zM225 50l9 2l-1 5l-9 -2zM156 36l-11 3l-1 -4l11 -3zM161 27l-5 5l-2 -2l5 -5zM160 80l-11 7l-2 -4l11 -7zM183 61l7 14l-5 3l-7 -14zM152 114l5 8l-4 3l-5 -8zM151 45l4 14l-4 1l-4 -14zM165 41l1 12l-5 0l-1 -12zM205 50l10 9l-3 3l-10 -9zM129 69l-9 3l-2 -6l9 -3zM231 68l-7 14l-4 -2l7 -14zM150 119l8 2l-1 3l-8 -2zM165 113l1 6l-5 1l-1 -6zM169 97l-3 10l-4 -1l3 -10zM153 82l5 3l-3 4l-5 -3zM186 97l10 0l-0 4l-10 -0zM197 49l3 14l-5 1l-3 -14zM134 18l5 5l-4 4l-5 -5zM166 90l-7 0l-0 -4l7 -0zM190 97l-5 7l-3 -2l5 -7zM228 62l-12 0l-0 -4l12 -0zM187 64l3 17l-4 1l-3 -17zM169 112l-8 10l-2 -2l8 -10zM165 23l2 13l-4 1l-2 -13zM147 37l-13 0l-0 -5l13 -0zM211 76l12 9l-3 4l-12 -9zM164 124l-8 2l-1 -4l8 -2zM155 86l15 1l-0 4l-15 -1zM163 37l-14 6l-2 -5l14 -6zM145 32l-9 4l-2 -5l9 -4zM205 96l4 5l-4 3l-4 -5zM185 80l6 5l-3 4l-6 -5zM188 88l3 6l-5 3l-3 -6zM161 29l7 2l-1 4l-7 -2zM140 18l8 1l-0 3l-8 -1zM112 45l14 4l-1 4l-14 -4zM210 88l2 9l-4 1l-2 -9zM170 50l-5 12l-3 -1l5 -12zM206 62l6 1l-1 5l-6 -1zM202 50l-4 14l-3 -1l4 -14zM159 83l-3 9l-3 -1l3 -9zM184 47l-16 4l-1 -5l16 -4zM199 65l-6 15l-5 -2l6 -15zM131 67l13 6l-2 4l-13 -6zM179 72l5 9l-3 2l-5 -9zM159 28l16 1l-0 5l-16 -1zM209 100l-15 6l-1 -3l15 -6zM164 82l-1 15l-4 -0l1 -15zM190 105l6 6l-3 3l-6 -6zM162 75l-6 2l-1 -4l6 -2zM193 33l5 12l-5 2l-5 -12zM211 49l-15 3l-1 -6l15 -3zM197 62l15 2l-1 6l-15 -2zM168 113l-1 13l-5 -0l1 -13zM152 44l10 3l-1 5l-10 -3zM124 54l12 2l-1 4l-12 -2zM158 108l-12 5l-2 -4l12 -5zM152 110l1 6l-5 1l-1 -6zM158 89l13 2l-1 3l-13 -2zM212 34l10 5l-2 4l-10 -5zM166 64l4 11l-3 1l-4 -11zM188 51l-8 3l-2 -5l8 -3zM119 57l3 6l-3 2l-3 -6zM181 112l-5 9l-3 -1l5 -9zM188 38l6 12l-4 2l-6 -12zM187 27l-8 7l-3 -3l8 -7zM166 74l-10 3l-2 -6l10 -3zM209 59l8 7l-2 3l-8 -7zM182 91l-6 6l-4 -4l6 -6zM190 75l8 3l-2 5l-8 -3zM161 46l-3 16l-4 -1l3 -16zM202 81l-8 5l-3 -4l8 -5zM182 78l6 6l-4 4l-6 -6zM182 119l-10 1l-1 -6l10 -1zM129 64l0 11l-4 0l-0 -11zM122 68l16 2l-1 5l-16 -2zM150 91l-11 7l-3 -5l11 -7z" fill="rgb(82,82,82)" transform="translate(0.9 1.3)" opacity="0.8"/><path d="M153 82l5 3l-3 4l-5 -3zM186 97l10 0l-0 4l-10 -0zM197 49l3 14l-5 1l-3 -14zM134 18l5 5l-4 4l-5 -5zM166 90l-7 0l-0 -4l7 -0zM190 97l-5 7l-3 -2l5 -7zM228 62l-12 0l-0 -4l12 -0zM187 64l3 17l-4 1l-3 -17zM169 112l-8 10l-2 -2l8 -10zM165 23l2 13l-4 1l-2 -13zM147 37l-13 0l-0 -5l13 -0zM211 76l12 9l-3 4l-12 -9zM164 124l-8 2l-1 -4l8 -2zM155 86l15 1l-0 4l-15 -1zM163 37l-14 6l-2 -5l14 -6zM145 32l-9 4l-2 -5l9 -4zM205 96l4 5l-4 3l-4 -5zM185 80l6 5l-3 4l-6 -5zM188 88l3 6l-5 3l-3 -6zM161 29l7 2l-1 4l-7 -2zM140 18l8 1l-0 3l-8 -1zM112 45l14 4l-1 4l-14 -4zM210 88l2 9l-4 1l-2 -9zM170 50l-5 12l-3 -1l5 -12zM206 62l6 1l-1 5l-6 -1zM202 50l-4 14l-3 -1l4 -14zM159 83l-3 9l-3 -1l3 -9zM184 47l-16 4l-1 -5l16 -4zM199 65l-6 15l-5 -2l6 -15zM131 67l13 6l-2 4l-13 -6zM179 72l5 9l-3 2l-5 -9zM159 28l16 1l-0 5l-16 -1zM209 100l-15 6l-1 -3l15 -6zM164 82l-1 15l-4 -0l1 -15zM190 105l6 6l-3 3l-6 -6zM162 75l-6 2l-1 -4l6 -2zM193 33l5 12l-5 2l-5 -12zM211 49l-15 3l-1 -6l15 -3zM197 62l15 2l-1 6l-15 -2zM168 113l-1 13l-5 -0l1 -13zM152 44l10 3l-1 5l-10 -3zM124 54l12 2l-1 4l-12 -2zM158 108l-12 5l-2 -4l12 -5zM152 110l1 6l-5 1l-1 -6zM158 89l13 2l-1 3l-13 -2zM212 34l10 5l-2 4l-10 -5zM166 64l4 11l-3 1l-4 -11zM188 51l-8 3l-2 -5l8 -3zM119 57l3 6l-3 2l-3 -6zM181 112l-5 9l-3 -1l5 -9zM188 38l6 12l-4 2l-6 -12zM187 27l-8 7l-3 -3l8 -7zM166 74l-10 3l-2 -6l10 -3zM209 59l8 7l-2 3l-8 -7zM182 91l-6 6l-4 -4l6 -6zM190 75l8 3l-2 5l-8 -3zM161 46l-3 16l-4 -1l3 -16zM202 81l-8 5l-3 -4l8 -5zM182 78l6 6l-4 4l-6 -6zM182 119l-10 1l-1 -6l10 -1zM129 64l0 11l-4 0l-0 -11zM122 68l16 2l-1 5l-16 -2zM150 91l-11 7l-3 -5l11 -7z" fill="rgb(135,135,135)" stroke="rgb(162,162,162)" stroke-width="0.9" stroke-linejoin="round"/><path d="M165 61l-15 2l-1 -4l15 -2zM189 105l2 7l-5 2l-2 -7zM154 17l-5 12l-4 -1l5 -12zM208 34l8 6l-2 2l-8 -6zM136 29l-0 13l-4 -0l0 -13zM188 96l2 6l-3 1l-2 -6zM142 91l-6 4l-3 -4l6 -4zM197 78l-3 9l-5 -2l3 -9zM235 45l-10 6l-2 -4l10 -6zM187 93l-10 3l-1 -4l10 -3zM158 55l-11 9l-3 -3l11 -9zM210 105l-8 1l-1 -6l8 -1zM174 97l1 13l-4 0l-1 -13zM126 35l-6 9l-5 -3l6 -9zM135 41l-0 6l-4 -0l0 -6zM151 115l-6 2l-1 -4l6 -2zM149 114l1 6l-5 1l-1 -6zM122 26l11 4l-2 4l-11 -4zM151 106l5 14l-4 1l-5 -14zM177 113l-15 2l-1 -5l15 -2zM212 91l2 13l-4 1l-2 -13zM202 99l-16 5l-1 -3l16 -5zM130 40l-3 11l-5 -2l3 -11zM149 31l9 2l-1 4l-9 -2zM171 114l15 3l-1 3l-15 -3zM148 48l-7 10l-3 -2l7 -10zM168 17l4 7l-4 2l-4 -7zM136 83l1 17l-5 0l-1 -17zM180 68l12 5l-2 4l-12 -5zM174 93l6 16l-3 1l-6 -16zM132 91l3 6l-4 2l-3 -6zM171 43l11 4l-1 3l-11 -4zM210 38l8 14l-3 2l-8 -14zM140 41l7 1l-0 4l-7 -1zM213 51l-6 10l-3 -2l6 -10zM162 96l8 4l-3 5l-8 -4zM206 42l-4 8l-4 -2l4 -8zM141 56l5 12l-5 2l-5 -12zM141 52l-4 16l-4 -1l4 -16zM177 100l3 5l-4 2l-3 -5zM143 32l3 7l-4 2l-3 -7zM170 35l0 15l-5 0l-0 -15zM139 95l14 2l-1 4l-14 -2zM195 105l7 4l-2 4l-7 -4zM208 71l1 13l-3 0l-1 -13zM165 106l15 7l-2 3l-15 -7zM220 45l14 2l-1 6l-14 -2zM155 57l-11 1l-0 -5l11 -1zM169 86l15 1l-0 4l-15 -1zM198 40l-8 9l-4 -3l8 -9zM150 99l-17 0l-0 -3l17 -0zM154 113l-11 7l-2 -3l11 -7zM178 104l1 14l-6 0l-1 -14zM231 59l-10 4l-1 -4l10 -4zM188 31l5 5l-3 3l-5 -5zM125 83l-2 10l-5 -1l2 -10zM152 57l-0 7l-6 -0l0 -7zM131 34l13 6l-2 5l-13 -6zM145 38l2 11l-4 1l-2 -11zM174 73l1 10l-6 1l-1 -10zM184 28l-9 1l-0 -6l9 -1zM137 100l-0 13l-5 -0l0 -13zM180 84l-7 12l-4 -2l7 -12zM202 32l-2 13l-4 -1l2 -13zM165 80l-4 8l-3 -2l4 -8z" fill="rgb(147,147,147)" stroke="rgb(176,176,176)" stroke-width="0.9" stroke-linejoin="round"/><path d="M169 82l-11 7l-3 -5l11 -7zM163 101l-10 8l-4 -5l10 -8zM230 48l7 14l-5 2l-7 -14zM185 53l-15 7l-2 -3l15 -7zM170 16l-1 9l-4 -0l1 -9zM139 47l-6 3l-2 -3l6 -3zM144 86l4 12l-4 1l-4 -12zM114 41l11 5l-2 5l-11 -5zM198 34l5 15l-4 1l-5 -15zM139 44l7 4l-2 3l-7 -4zM153 53l8 6l-3 4l-8 -6zM205 23l-8 10l-3 -3l8 -10zM183 100l6 15l-3 1l-6 -15zM189 32l1 10l-5 1l-1 -10zM168 101l-12 5l-2 -6l12 -5zM138 86l-12 6l-1 -3l12 -6zM187 55l-2 14l-4 -0l2 -14zM171 21l-7 6l-3 -3l7 -6zM154 34l6 1l-1 4l-6 -1zM205 60l9 7l-2 3l-9 -7zM164 17l12 1l-0 3l-12 -1zM197 64l-13 8l-2 -3l13 -8zM164 57l-2 10l-4 -1l2 -10zM192 43l-10 3l-1 -4l10 -3zM155 25l-8 0l-0 -4l8 -0zM132 36l2 10l-4 1l-2 -10zM126 78l-6 5l-2 -3l6 -5zM149 97l-4 8l-4 -2l4 -8zM141 26l13 11l-4 5l-13 -11zM144 85l-8 12l-5 -3l8 -12zM177 91l12 8l-3 4l-12 -8zM205 98l-2 10l-5 -1l2 -10zM206 58l2 7l-3 1l-2 -7zM194 17l-1 9l-4 -0l1 -9zM152 79l-14 3l-1 -4l14 -3zM152 106l-11 4l-1 -4l11 -4zM145 99l-10 14l-3 -2l10 -14zM193 37l-2 6l-5 -2l2 -6zM204 91l5 8l-4 2l-5 -8zM143 105l-3 12l-6 -2l3 -12zM227 62l-6 12l-5 -3l6 -12zM194 69l-5 10l-4 -2l5 -10zM194 94l-0 10l-4 -0l0 -10zM188 49l-14 5l-2 -5l14 -5zM221 70l-15 6l-2 -5l15 -6zM228 52l0 15l-4 0l-0 -15zM193 66l2 9l-4 1l-2 -9zM202 97l-7 7l-2 -3l7 -7zM194 64l-7 2l-1 -4l7 -2zM152 47l-1 10l-5 -0l1 -10zM125 63l-15 1l-0 -5l15 -1zM183 61l-10 11l-4 -4l10 -11zM202 27l-6 5l-2 -3l6 -5z" fill="rgb(159,159,159)" stroke="rgb(190,190,190)" stroke-width="0.9" stroke-linejoin="round"/><path d="M194 55l13 7l-2 4l-13 -7zM124 29l11 5l-2 4l-11 -5zM165 38l-10 4l-1 -4l10 -4zM191 24l-3 9l-5 -2l3 -9zM217 44l-2 14l-4 -1l2 -14zM117 35l8 10l-2 2l-8 -10zM158 116l3 7l-3 1l-3 -7zM213 50l-6 2l-1 -3l6 -2zM176 16l12 9l-3 4l-12 -9zM233 56l-7 1l-0 -3l7 -1zM175 19l-13 8l-3 -4l13 -8zM122 50l-1 15l-4 -0l1 -15zM136 51l-1 7l-4 -1l1 -7zM137 70l-4 9l-5 -2l4 -9zM194 90l10 1l-0 3l-10 -1zM183 111l7 1l-0 4l-7 -1zM118 52l4 12l-4 1l-4 -12zM142 48l8 2l-1 5l-8 -2zM162 102l-11 4l-1 -3l11 -4zM176 34l-12 5l-1 -3l12 -5zM178 48l-16 3l-1 -4l16 -3zM152 40l10 3l-2 6l-10 -3zM129 24l3 11l-3 1l-3 -11zM194 74l15 1l-0 5l-15 -1zM139 91l-7 3l-2 -4l7 -3zM148 103l-11 4l-2 -4l11 -4zM148 42l-2 11l-3 -1l2 -11zM181 50l-0 17l-4 -0l0 -17zM166 100l1 6l-5 0l-1 -6zM157 117l16 6l-1 3l-16 -6zM137 105l-4 8l-5 -3l4 -8zM151 47l12 11l-4 4l-12 -11zM129 64l13 4l-2 5l-13 -4zM176 15l13 1l-0 3l-13 -1zM168 112l-10 10l-2 -2l10 -10zM157 39l4 6l-4 3l-4 -6zM207 38l-13 7l-2 -4l13 -7zM189 60l6 2l-1 4l-6 -2zM129 82l-7 5l-3 -5l7 -5zM137 40l-3 10l-5 -1l3 -10zM165 67l-9 9l-3 -3l9 -9zM175 22l6 5l-2 3l-6 -5zM200 103l0 7l-4 0l-0 -7zM138 85l3 11l-4 1l-3 -11zM175 95l7 4l-2 3l-7 -4zM196 21l5 11l-5 2l-5 -11zM225 50l9 2l-1 5l-9 -2zM156 36l-11 3l-1 -4l11 -3zM161 27l-5 5l-2 -2l5 -5zM160 80l-11 7l-2 -4l11 -7zM183 61l7 14l-5 3l-7 -14zM152 114l5 8l-4 3l-5 -8zM151 45l4 14l-4 1l-4 -14zM165 41l1 12l-5 0l-1 -12zM205 50l10 9l-3 3l-10 -9zM129 69l-9 3l-2 -6l9 -3zM231 68l-7 14l-4 -2l7 -14zM150 119l8 2l-1 3l-8 -2zM165 113l1 6l-5 1l-1 -6zM169 97l-3 10l-4 -1l3 -10z" fill="rgb(170,170,170)" stroke="rgb(204,204,204)" stroke-width="0.9" stroke-linejoin="round"/><path d="M137 82l-1 14l-3 -0l1 -14zM177 20l-8 10l-4 -3l8 -10zM209 72l2 8l-3 1l-2 -8zM143 70l-10 2l-1 -5l10 -2zM185 107l-1 7l-3 -1l1 -7zM148 43l-7 2l-2 -5l7 -2zM152 13l4 4l-3 3l-4 -4zM197 80l7 8l-4 3l-7 -8zM176 31l-3 13l-4 -1l3 -13zM122 60l-1 10l-6 -0l1 -10zM149 68l11 4l-1 3l-11 -4zM177 89l-7 15l-5 -3l7 -15zM151 24l15 6l-1 4l-15 -6zM150 77l4 11l-5 2l-4 -11zM154 22l4 14l-5 2l-4 -14zM176 107l-10 4l-2 -5l10 -4zM218 77l-7 3l-2 -3l7 -3zM191 81l6 5l-2 3l-6 -5zM192 76l7 6l-2 3l-7 -6zM142 35l11 8l-3 4l-11 -8zM163 58l-4 14l-6 -2l4 -14zM181 77l-1 10l-5 -0l1 -10zM120 39l9 10l-3 3l-9 -10zM151 36l2 9l-5 1l-2 -9zM156 19l7 13l-3 2l-7 -13zM162 66l10 1l-0 5l-10 -1zM179 107l-9 0l-0 -3l9 -0zM193 68l8 8l-3 3l-8 -8zM183 62l-1 9l-4 -0l1 -9zM165 103l-11 12l-2 -2l11 -12zM135 104l12 8l-2 3l-12 -8zM148 15l5 5l-3 3l-5 -5zM153 117l13 6l-2 4l-13 -6zM188 16l12 10l-3 4l-12 -10zM216 41l-3 14l-4 -1l3 -14zM153 46l13 10l-3 4l-13 -10zM141 96l6 4l-2 4l-6 -4zM140 73l-9 7l-3 -4l9 -7zM196 30l8 15l-4 2l-8 -15zM156 76l11 8l-3 3l-11 -8zM226 42l7 13l-4 2l-7 -13zM171 79l8 12l-3 2l-8 -12zM135 28l7 7l-3 3l-7 -7zM197 91l-2 8l-4 -1l2 -8zM204 50l-2 11l-4 -1l2 -11zM155 41l-0 9l-3 -0l0 -9zM168 58l-8 12l-4 -2l8 -12zM196 108l4 9l-3 1l-4 -9zM212 50l-4 6l-4 -3l4 -6zM221 30l6 15l-5 2l-6 -15zM207 98l-4 10l-4 -2l4 -10zM208 85l-5 7l-4 -3l5 -7zM210 73l-13 0l-0 -5l13 -0zM209 26l9 10l-3 3l-9 -10zM163 39l5 14l-5 2l-5 -14zM163 93l-7 1l-1 -4l7 -1zM170 101l-5 7l-4 -3l5 -7zM194 92l2 13l-4 1l-2 -13zM119 71l10 2l-1 6l-10 -2zM144 54l-0 8l-6 -0l0 -8zM196 100l-7 5l-3 -5l7 -5zM140 95l10 5l-2 3l-10 -5z" fill="rgb(183,183,183)" stroke="rgb(219,219,219)" stroke-width="0.9" stroke-linejoin="round"/><rect x="114.6" y="11" width="122.20000000000002" height="116.4" fill="url(#ovB)"/></g><path d="M235 99l-4 7l-2 -1l4 -7zM236 84l8 2l-1 3l-8 -2zM268 63l2 6l-3 1l-2 -6zM306 65l7 4l-2 3l-7 -4zM313 162l3 6l-2 1l-3 -6zM308 172l-4 5l-3 -2l4 -5zM303 175l-7 4l-2 -3l7 -4zM285 179l1 5l-3 1l-1 -5zM279 180l-1 7l-3 -1l1 -7zM274 182l-4 4l-2 -2l4 -4zM262 180l6 2l-1 4l-6 -2zM242 166l0 9l-3 0l-0 -9zM233 152l-0 6l-4 -0l0 -6zM229 148l3 5l-3 2l-3 -5zM227 131l3 2l-3 4l-3 -2zM230 113l-1 5l-3 -0l1 -5zM239 96l-7 4l-2 -3l7 -4zM257 69l3 5l-4 2l-3 -5zM277 64l-2 4l-3 -1l2 -4zM313 67l6 6l-2 2l-6 -6zM338 97l-1 4l-3 -1l1 -4zM296 174l3 3l-3 3l-3 -3zM297 178l-7 5l-2 -4l7 -5zM265 179l-5 7l-2 -1l5 -7zM254 177l7 4l-2 3l-7 -4zM225 136l8 4l-2 4l-8 -4zM234 108l-6 7l-2 -2l6 -7zM239 87l-2 9l-3 -1l2 -9zM239 81l8 3l-1 3l-8 -3zM255 73l-3 5l-3 -2l3 -5zM260 67l8 1l-0 3l-8 -1zM280 62l2 5l-3 1l-2 -5zM299 62l7 4l-2 3l-7 -4zM339 96l-7 2l-1 -4l7 -2zM326 143l8 0l-0 4l-8 -0zM327 147l3 4l-3 2l-3 -4zM321 157l-1 5l-2 -1l1 -5zM320 163l-7 5l-3 -3l7 -5zM252 178l-6 1l-0 -3l6 -1zM248 170l-2 8l-3 -1l2 -8zM239 161l-6 6l-2 -2l6 -6zM230 123l-3 7l-3 -1l3 -7zM230 121l-2 5l-3 -1l2 -5zM249 80l-3 3l-2 -2l3 -3zM252 73l-1 8l-4 -1l1 -8zM263 67l-1 6l-3 -0l1 -6zM281 62l4 1l-1 3l-4 -1zM291 60l-1 6l-4 -0l1 -6zM298 64l-6 3l-1 -2l6 -3zM310 67l-5 4l-2 -2l5 -4zM319 71l2 5l-3 1l-2 -5zM323 76l4 1l-1 4l-4 -1zM333 82l-7 4l-1 -2l7 -4zM329 83l7 4l-2 4l-7 -4zM335 141l-2 5l-3 -2l2 -5zM326 155l-5 1l-1 -3l5 -1zM312 169l-3 3l-3 -3l3 -3zM287 178l4 1l-1 3l-4 -1zM240 168l-5 1l-1 -4l5 -1zM235 156l0 7l-3 0l-0 -7zM227 141l5 3l-2 3l-5 -3zM233 102l-2 7l-4 -1l2 -7z" fill="rgb(84,84,84)" transform="translate(0.9 1.3)" opacity="0.8"/><path d="M235 99l-4 7l-2 -1l4 -7zM236 84l8 2l-1 3l-8 -2zM268 63l2 6l-3 1l-2 -6zM306 65l7 4l-2 3l-7 -4zM313 162l3 6l-2 1l-3 -6zM308 172l-4 5l-3 -2l4 -5zM303 175l-7 4l-2 -3l7 -4zM285 179l1 5l-3 1l-1 -5zM279 180l-1 7l-3 -1l1 -7zM274 182l-4 4l-2 -2l4 -4zM262 180l6 2l-1 4l-6 -2zM242 166l0 9l-3 0l-0 -9zM233 152l-0 6l-4 -0l0 -6zM229 148l3 5l-3 2l-3 -5zM227 131l3 2l-3 4l-3 -2zM230 113l-1 5l-3 -0l1 -5z" fill="rgb(150,150,150)" stroke="rgb(180,180,180)" stroke-width="0.9" stroke-linejoin="round"/><path d="M239 87l-2 9l-3 -1l2 -9zM239 81l8 3l-1 3l-8 -3zM255 73l-3 5l-3 -2l3 -5zM260 67l8 1l-0 3l-8 -1zM280 62l2 5l-3 1l-2 -5zM299 62l7 4l-2 3l-7 -4zM339 96l-7 2l-1 -4l7 -2zM326 143l8 0l-0 4l-8 -0zM327 147l3 4l-3 2l-3 -4zM321 157l-1 5l-2 -1l1 -5zM320 163l-7 5l-3 -3l7 -5zM252 178l-6 1l-0 -3l6 -1zM248 170l-2 8l-3 -1l2 -8zM239 161l-6 6l-2 -2l6 -6zM230 123l-3 7l-3 -1l3 -7zM230 121l-2 5l-3 -1l2 -5z" fill="rgb(163,163,163)" stroke="rgb(195,195,195)" stroke-width="0.9" stroke-linejoin="round"/><path d="M239 96l-7 4l-2 -3l7 -4zM257 69l3 5l-4 2l-3 -5zM277 64l-2 4l-3 -1l2 -4zM313 67l6 6l-2 2l-6 -6zM338 97l-1 4l-3 -1l1 -4zM296 174l3 3l-3 3l-3 -3zM297 178l-7 5l-2 -4l7 -5zM265 179l-5 7l-2 -1l5 -7zM254 177l7 4l-2 3l-7 -4zM225 136l8 4l-2 4l-8 -4zM234 108l-6 7l-2 -2l6 -7z" fill="rgb(175,175,175)" stroke="rgb(210,210,210)" stroke-width="0.9" stroke-linejoin="round"/><path d="M249 80l-3 3l-2 -2l3 -3zM252 73l-1 8l-4 -1l1 -8zM263 67l-1 6l-3 -0l1 -6zM281 62l4 1l-1 3l-4 -1zM291 60l-1 6l-4 -0l1 -6zM298 64l-6 3l-1 -2l6 -3zM310 67l-5 4l-2 -2l5 -4zM319 71l2 5l-3 1l-2 -5zM323 76l4 1l-1 4l-4 -1zM333 82l-7 4l-1 -2l7 -4zM329 83l7 4l-2 4l-7 -4zM335 141l-2 5l-3 -2l2 -5zM326 155l-5 1l-1 -3l5 -1zM312 169l-3 3l-3 -3l3 -3zM287 178l4 1l-1 3l-4 -1zM240 168l-5 1l-1 -4l5 -1zM235 156l0 7l-3 0l-0 -7zM227 141l5 3l-2 3l-5 -3zM233 102l-2 7l-4 -1l2 -7z" fill="rgb(187,187,187)" stroke="rgb(224,224,224)" stroke-width="0.9" stroke-linejoin="round"/><g clip-path="url(#clD)"><rect x="224.4" y="60.6" width="116.6" height="125.70000000000002" fill="url(#rgD)"/><path d="M278 109l6 10l-4 2l-6 -10zM291 142l-5 12l-5 -2l5 -12zM321 97l8 8l-2 2l-8 -8zM281 171l-12 11l-4 -4l12 -11zM276 138l-2 13l-6 -1l2 -13zM280 167l5 3l-3 4l-5 -3zM246 135l6 8l-3 2l-6 -8zM329 97l4 8l-5 3l-4 -8zM270 118l-1 14l-6 -0l1 -14zM289 140l6 5l-2 3l-6 -5zM328 103l-8 3l-1 -3l8 -3zM233 120l-7 2l-1 -3l7 -2zM288 92l10 2l-1 6l-10 -2zM264 150l14 5l-2 5l-14 -5zM295 179l-15 6l-2 -5l15 -6zM285 145l-16 7l-2 -5l16 -7zM293 103l12 4l-2 5l-12 -4zM256 135l-13 10l-3 -4l13 -10zM320 76l6 2l-1 5l-6 -2zM255 159l3 8l-4 1l-3 -8zM285 130l-9 0l-0 -6l9 -0zM325 106l8 4l-2 5l-8 -4zM298 163l9 13l-3 2l-9 -13zM273 150l-0 13l-3 -0l0 -13zM288 114l-9 1l-0 -4l9 -1zM241 143l-3 7l-4 -2l3 -7zM310 146l0 13l-3 0l-0 -13zM264 168l7 6l-4 4l-7 -6zM317 120l-6 1l-0 -5l6 -1zM297 122l-12 8l-3 -4l12 -8zM228 117l10 10l-3 3l-10 -10zM257 66l2 10l-5 1l-2 -10zM265 92l5 14l-5 2l-5 -14zM271 130l14 1l-0 3l-14 -1zM327 87l7 5l-2 3l-7 -5zM264 166l16 4l-1 4l-16 -4zM252 163l-13 2l-1 -5l13 -2zM262 127l-10 2l-1 -4l10 -2zM325 119l2 15l-4 0l-2 -15zM333 99l-6 5l-3 -4l6 -5zM236 124l-0 11l-3 -0l0 -11zM298 89l-2 8l-5 -1l2 -8zM281 170l5 5l-3 3l-5 -5zM260 89l7 5l-2 3l-7 -5zM319 76l9 11l-4 3l-9 -11zM344 114l-11 10l-4 -4l11 -10zM343 106l-6 15l-3 -1l6 -15zM222 144l16 3l-1 4l-16 -3zM301 65l2 14l-4 1l-2 -14zM228 134l11 3l-2 5l-11 -3zM323 138l-12 8l-2 -3l12 -8zM312 133l-6 8l-5 -3l6 -8zM261 145l-9 6l-3 -4l9 -6zM326 136l7 2l-1 3l-7 -2zM271 141l-11 4l-2 -5l11 -4zM277 103l-5 6l-4 -3l5 -6zM249 172l11 9l-2 3l-11 -9zM308 144l-1 16l-6 -0l1 -16zM292 107l-9 1l-0 -5l9 -1zM244 114l-6 11l-4 -2l6 -11zM291 110l4 14l-4 1l-4 -14zM313 155l-5 16l-4 -1l5 -16zM224 121l9 12l-3 2l-9 -12zM254 105l13 0l-0 4l-13 -0zM314 103l-17 1l-0 -4l17 -1zM326 115l5 12l-6 2l-5 -12zM291 94l-6 12l-4 -2l6 -12zM289 105l5 6l-4 3l-5 -6zM287 125l-4 6l-3 -2l4 -6zM295 96l9 0l-0 5l-9 -0zM303 160l-5 13l-5 -2l5 -13zM282 63l2 6l-5 2l-2 -6zM287 171l-8 3l-2 -6l8 -3zM284 98l-11 6l-3 -5l11 -6zM258 166l-14 6l-2 -4l14 -6zM302 96l11 7l-3 5l-11 -7zM249 121l-8 3l-2 -5l8 -3zM315 153l-8 7l-4 -4l8 -7zM339 98l-9 14l-3 -2l9 -14zM287 155l6 11l-5 2l-6 -11zM275 108l-1 8l-4 -0l1 -8zM310 157l-3 12l-5 -1l3 -12zM251 97l7 5l-3 5l-7 -5zM306 111l3 6l-5 2l-3 -6zM320 147l-6 4l-2 -3l6 -4zM318 147l-1 7l-6 -1l1 -7zM295 61l-4 8l-4 -2l4 -8zM257 114l-6 15l-3 -1l6 -15zM318 123l8 4l-2 4l-8 -4zM322 141l-9 12l-3 -2l9 -12zM323 101l-9 4l-1 -3l9 -4zM236 124l5 7l-4 3l-5 -7zM313 161l-2 8l-4 -1l2 -8zM276 80l-14 8l-3 -5l14 -8zM312 72l-1 9l-5 -0l1 -9zM322 78l1 8l-6 0l-1 -8zM305 77l-3 7l-4 -2l3 -7zM243 114l9 3l-2 6l-9 -3zM284 81l-7 8l-3 -3l7 -8zM247 99l-12 4l-2 -5l12 -4zM286 108l6 3l-2 3l-6 -3zM314 152l3 8l-5 2l-3 -8zM271 152l-5 7l-5 -3l5 -7zM270 116l-2 13l-6 -1l2 -13zM293 96l-8 15l-5 -3l8 -15zM304 119l-6 4l-2 -3l6 -4zM303 151l7 8l-3 3l-7 -8zM257 155l3 8l-5 2l-3 -8zM308 137l4 9l-4 1l-4 -9zM248 145l-8 3l-2 -4l8 -3zM273 151l15 4l-1 4l-15 -4zM276 100l-2 7l-5 -1l2 -7zM266 156l-9 9l-4 -4l9 -9zM282 101l3 10l-3 1l-3 -10zM259 121l-9 4l-2 -4l9 -4zM237 89l2 8l-4 1l-2 -8zM307 160l-4 10l-3 -1l4 -10zM284 89l-12 6l-2 -4l12 -6zM301 149l-9 3l-2 -5l9 -3zM238 145l-8 9l-2 -2l8 -9zM311 62l-5 14l-4 -1l5 -14zM266 144l6 5l-3 3l-6 -5zM225 152l16 5l-2 5l-16 -5zM328 134l-1 10l-3 -0l1 -10zM249 123l6 4l-3 5l-6 -4zM286 172l-6 15l-5 -2l6 -15zM251 177l7 3l-1 3l-7 -3zM323 86l-8 10l-4 -4l8 -10zM271 116l6 14l-3 1l-6 -14zM292 110l-7 3l-2 -5l7 -3zM261 63l7 12l-3 2l-7 -12zM249 157l-5 7l-4 -3l5 -7zM297 144l-3 10l-3 -1l3 -10zM276 139l2 11l-3 1l-2 -11zM270 167l-5 4l-4 -4l5 -4zM291 122l-1 7l-4 -1l1 -7zM244 149l-11 10l-4 -4l11 -10zM294 147l-7 7l-3 -3l7 -7zM300 87l12 9l-3 4l-12 -9zM250 81l-11 9l-3 -4l11 -9zM258 81l6 5l-4 4l-6 -5zM292 164l-8 1l-0 -5l8 -1zM314 72l5 4l-3 4l-5 -4zM273 138l11 3l-1 4l-11 -3zM261 117l-0 10l-6 -0l0 -10zM278 174l-6 15l-4 -2l6 -15zM262 99l6 2l-2 5l-6 -2zM229 112l6 1l-1 6l-6 -1zM259 158l-5 7l-4 -3l5 -7zM315 144l6 12l-5 2l-6 -12zM236 153l13 5l-1 4l-13 -5zM271 94l1 8l-6 1l-1 -8zM250 124l14 8l-3 4l-14 -8zM235 105l9 12l-4 3l-9 -12zM263 112l-11 11l-3 -3l11 -11zM294 161l-3 11l-3 -1l3 -11zM279 86l-13 1l-0 -6l13 -1zM293 165l-2 10l-5 -1l2 -10zM257 136l10 11l-3 3l-10 -11zM264 99l-5 11l-3 -1l5 -11zM286 87l4 6l-4 3l-4 -6zM307 144l7 5l-2 4l-7 -5zM298 69l-11 4l-1 -3l11 -4zM280 77l-6 6l-3 -3l6 -6zM273 106l9 6l-3 4l-9 -6zM314 156l-6 10l-5 -3l6 -10zM274 133l6 3l-2 4l-6 -3zM242 121l-11 7l-2 -3l11 -7zM245 80l16 1l-0 5l-16 -1zM327 81l9 3l-2 5l-9 -3zM300 82l-6 9l-3 -2l6 -9zM332 140l-3 11l-6 -2l3 -11zM327 125l1 7l-4 0l-1 -7zM271 71l-9 4l-1 -3l9 -4zM298 80l-16 4l-1 -4l16 -4zM335 136l-5 8l-4 -3l5 -8zM312 91l4 13l-3 1l-4 -13zM331 120l-11 1l-0 -5l11 -1zM342 104l-14 1l-0 -6l14 -1zM278 155l12 3l-1 4l-12 -3zM255 103l-14 9l-2 -4l14 -9zM334 114l-13 2l-1 -4l13 -2zM306 130l7 14l-4 2l-7 -14zM273 115l-6 5l-3 -3l6 -5zM258 84l-2 10l-4 -1l2 -10zM297 91l5 10l-3 2l-5 -10zM262 105l-7 6l-2 -2l7 -6zM297 159l9 8l-4 4l-9 -8zM287 108l-12 0l-0 -4l12 -0zM266 62l9 6l-2 3l-9 -6zM293 137l14 8l-2 3l-14 -8zM282 178l8 0l-0 3l-8 -0zM304 114l-4 15l-5 -1l4 -15zM238 143l5 4l-4 4l-5 -4zM273 93l15 5l-1 3l-15 -5zM335 94l-3 8l-4 -1l3 -8zM253 111l11 6l-3 4l-11 -6zM249 87l4 8l-5 2l-4 -8zM278 157l-3 13l-5 -1l3 -13zM262 68l8 14l-5 3l-8 -14zM236 128l-13 2l-1 -3l13 -2zM287 129l13 7l-2 3l-13 -7zM331 120l5 5l-3 3l-5 -5zM329 120l-12 11l-4 -4l12 -11zM236 156l10 5l-2 5l-10 -5zM295 82l-2 10l-3 -1l2 -10zM296 133l-10 2l-1 -5l10 -2zM275 174l-9 0l-0 -5l9 -0zM300 122l5 10l-3 2l-5 -10zM289 66l13 11l-3 3l-13 -11zM322 102l-4 13l-4 -1l4 -13zM290 61l15 5l-2 5l-15 -5zM277 92l-3 15l-5 -1l3 -15zM300 119l-2 12l-3 -0l2 -12zM250 83l-8 1l-0 -4l8 -1zM285 101l7 5l-2 3l-7 -5zM282 58l13 6l-2 5l-13 -6zM308 121l12 1l-1 6l-12 -1zM284 170l10 5l-3 5l-10 -5zM315 119l4 5l-3 3l-4 -5zM276 179l4 5l-3 2l-4 -5zM308 70l-7 9l-4 -3l7 -9zM299 68l13 6l-2 5l-13 -6zM318 118l13 4l-2 5l-13 -4zM264 170l-16 0l-0 -4l16 -0zM329 97l-1 9l-4 -0l1 -9zM334 98l8 7l-3 3l-8 -7zM310 110l-5 11l-4 -2l5 -11zM290 77l-8 5l-2 -3l8 -5zM323 85l7 4l-2 4l-7 -4zM296 140l9 12l-3 3l-9 -12zM314 126l6 1l-1 5l-6 -1zM323 97l5 11l-3 2l-5 -11zM235 128l-10 5l-2 -3l10 -5zM259 104l-7 12l-4 -3l7 -12zM323 134l6 10l-4 3l-6 -10zM304 114l6 6l-3 3l-6 -6zM235 103l5 7l-3 2l-5 -7zM308 131l7 4l-3 5l-7 -4zM322 73l-8 7l-3 -4l8 -7zM241 146l10 4l-2 5l-10 -4zM302 76l14 10l-2 3l-14 -10zM252 133l-2 9l-5 -1l2 -9zM326 83l-13 7l-2 -3l13 -7zM310 145l-13 0l-0 -3l13 -0zM275 128l8 1l-1 6l-8 -1zM246 127l12 5l-2 4l-12 -5zM253 147l-9 7l-4 -5l9 -7zM254 149l-1 17l-4 -0l1 -17zM243 164l13 5l-1 3l-13 -5zM253 119l10 4l-2 5l-10 -4zM284 109l6 6l-4 4l-6 -6zM231 114l-2 16l-4 -0l2 -16zM266 85l-15 2l-1 -6l15 -2zM320 106l10 8l-2 3l-10 -8zM308 159l13 6l-1 3l-13 -6zM320 90l-0 9l-3 -0l0 -9zM324 103l-2 7l-6 -1l2 -7zM259 97l9 13l-3 2l-9 -13zM308 95l14 9l-2 3l-14 -9zM318 85l-16 2l-0 -3l16 -2zM248 114l1 9l-5 1l-1 -9zM329 155l-8 3l-2 -5l8 -3zM272 148l0 8l-4 0l-0 -8zM334 143l-6 3l-1 -3l6 -3zM311 126l15 6l-2 4l-15 -6zM320 135l-13 1l-0 -4l13 -1zM325 106l-4 6l-3 -2l4 -6zM260 120l-10 8l-3 -4l10 -8zM310 129l3 12l-5 1l-3 -12zM298 123l11 12l-3 3l-11 -12zM302 168l4 8l-5 2l-4 -8zM292 131l-11 11l-3 -3l11 -11zM314 101l-1 6l-6 -1l1 -6zM284 173l-12 11l-4 -4l12 -11zM265 108l-15 7l-2 -4l15 -7zM252 142l-7 13l-4 -2l7 -13zM314 100l-7 3l-2 -5l7 -3zM256 113l6 12l-5 2l-6 -12zM330 113l-12 8l-2 -3l12 -8zM277 106l-13 4l-2 -6l13 -4zM297 64l2 10l-4 1l-2 -10zM242 139l-10 8l-3 -3l10 -8zM329 91l-7 11l-4 -3l7 -11zM321 77l4 8l-5 3l-4 -8zM257 125l-10 3l-1 -3l10 -3zM306 147l-7 15l-5 -2l7 -15zM287 66l-14 8l-3 -5l14 -8zM254 148l7 7l-4 4l-7 -7zM244 148l-5 8l-4 -3l5 -8zM251 79l4 7l-4 2l-4 -7zM281 113l9 6l-3 5l-9 -6zM330 116l0 16l-5 0l-0 -16zM320 109l3 6l-4 2l-3 -6zM286 134l2 6l-3 1l-2 -6zM274 176l4 10l-4 2l-4 -10zM328 78l-1 11l-4 -0l1 -11zM292 65l-8 7l-3 -4l8 -7zM236 79l10 13l-4 3l-10 -13zM298 144l-5 4l-2 -3l5 -4zM326 88l-6 10l-4 -3l6 -10zM257 70l6 8l-3 2l-6 -8zM259 94l12 2l-1 4l-12 -2zM307 77l-0 9l-6 -0l0 -9zM295 137l-11 11l-3 -3l11 -11zM299 80l6 4l-2 3l-6 -4zM274 87l14 6l-1 3l-14 -6zM301 82l6 5l-3 3l-6 -5zM306 157l-9 2l-1 -6l9 -2zM237 87l-1 11l-3 -0l1 -11zM314 161l-9 4l-2 -4l9 -4zM301 133l-16 6l-2 -5l16 -6zM327 100l7 2l-1 4l-7 -2zM311 128l-16 4l-1 -5l16 -4zM289 96l-2 15l-5 -1l2 -15zM304 133l-11 2l-1 -6l11 -2zM298 175l-11 4l-1 -4l11 -4zM312 113l-8 1l-1 -4l8 -1zM224 108l12 1l-0 5l-12 -1zM272 60l-5 15l-4 -2l5 -15zM280 85l15 4l-1 3l-15 -4zM333 93l-10 9l-3 -4l10 -9zM270 159l-8 13l-3 -2l8 -13zM284 160l4 6l-3 2l-4 -6zM284 135l-13 8l-2 -3l13 -8zM308 98l-0 10l-5 -0l0 -10zM265 154l-10 12l-4 -3l10 -12zM240 102l-8 8l-2 -3l8 -8zM297 141l12 7l-2 3l-12 -7zM279 130l8 6l-4 5l-8 -6zM309 119l-6 13l-4 -2l6 -13z" fill="rgb(84,84,84)" transform="translate(0.9 1.3)" opacity="0.8"/><path d="M289 105l5 6l-4 3l-5 -6zM287 125l-4 6l-3 -2l4 -6zM295 96l9 0l-0 5l-9 -0zM303 160l-5 13l-5 -2l5 -13zM282 63l2 6l-5 2l-2 -6zM287 171l-8 3l-2 -6l8 -3zM284 98l-11 6l-3 -5l11 -6zM258 166l-14 6l-2 -4l14 -6zM302 96l11 7l-3 5l-11 -7zM249 121l-8 3l-2 -5l8 -3zM315 153l-8 7l-4 -4l8 -7zM339 98l-9 14l-3 -2l9 -14zM287 155l6 11l-5 2l-6 -11zM275 108l-1 8l-4 -0l1 -8zM310 157l-3 12l-5 -1l3 -12zM251 97l7 5l-3 5l-7 -5zM306 111l3 6l-5 2l-3 -6zM320 147l-6 4l-2 -3l6 -4zM318 147l-1 7l-6 -1l1 -7zM295 61l-4 8l-4 -2l4 -8zM257 114l-6 15l-3 -1l6 -15zM318 123l8 4l-2 4l-8 -4zM322 141l-9 12l-3 -2l9 -12zM323 101l-9 4l-1 -3l9 -4zM236 124l5 7l-4 3l-5 -7zM313 161l-2 8l-4 -1l2 -8zM276 80l-14 8l-3 -5l14 -8zM312 72l-1 9l-5 -0l1 -9zM322 78l1 8l-6 0l-1 -8zM305 77l-3 7l-4 -2l3 -7zM243 114l9 3l-2 6l-9 -3zM284 81l-7 8l-3 -3l7 -8zM247 99l-12 4l-2 -5l12 -4zM286 108l6 3l-2 3l-6 -3zM314 152l3 8l-5 2l-3 -8zM271 152l-5 7l-5 -3l5 -7zM270 116l-2 13l-6 -1l2 -13zM293 96l-8 15l-5 -3l8 -15zM304 119l-6 4l-2 -3l6 -4zM303 151l7 8l-3 3l-7 -8zM257 155l3 8l-5 2l-3 -8zM308 137l4 9l-4 1l-4 -9zM248 145l-8 3l-2 -4l8 -3zM273 151l15 4l-1 4l-15 -4zM276 100l-2 7l-5 -1l2 -7zM266 156l-9 9l-4 -4l9 -9zM282 101l3 10l-3 1l-3 -10zM259 121l-9 4l-2 -4l9 -4zM237 89l2 8l-4 1l-2 -8zM307 160l-4 10l-3 -1l4 -10zM284 89l-12 6l-2 -4l12 -6zM301 149l-9 3l-2 -5l9 -3zM238 145l-8 9l-2 -2l8 -9zM311 62l-5 14l-4 -1l5 -14zM266 144l6 5l-3 3l-6 -5zM225 152l16 5l-2 5l-16 -5zM328 134l-1 10l-3 -0l1 -10zM249 123l6 4l-3 5l-6 -4zM286 172l-6 15l-5 -2l6 -15zM251 177l7 3l-1 3l-7 -3zM323 86l-8 10l-4 -4l8 -10zM271 116l6 14l-3 1l-6 -14zM292 110l-7 3l-2 -5l7 -3zM261 63l7 12l-3 2l-7 -12zM249 157l-5 7l-4 -3l5 -7zM297 144l-3 10l-3 -1l3 -10zM276 139l2 11l-3 1l-2 -11zM270 167l-5 4l-4 -4l5 -4zM291 122l-1 7l-4 -1l1 -7z" fill="rgb(138,138,138)" stroke="rgb(165,165,165)" stroke-width="0.9" stroke-linejoin="round"/><path d="M236 128l-13 2l-1 -3l13 -2zM287 129l13 7l-2 3l-13 -7zM331 120l5 5l-3 3l-5 -5zM329 120l-12 11l-4 -4l12 -11zM236 156l10 5l-2 5l-10 -5zM295 82l-2 10l-3 -1l2 -10zM296 133l-10 2l-1 -5l10 -2zM275 174l-9 0l-0 -5l9 -0zM300 122l5 10l-3 2l-5 -10zM289 66l13 11l-3 3l-13 -11zM322 102l-4 13l-4 -1l4 -13zM290 61l15 5l-2 5l-15 -5zM277 92l-3 15l-5 -1l3 -15zM300 119l-2 12l-3 -0l2 -12zM250 83l-8 1l-0 -4l8 -1zM285 101l7 5l-2 3l-7 -5zM282 58l13 6l-2 5l-13 -6zM308 121l12 1l-1 6l-12 -1zM284 170l10 5l-3 5l-10 -5zM315 119l4 5l-3 3l-4 -5zM276 179l4 5l-3 2l-4 -5zM308 70l-7 9l-4 -3l7 -9zM299 68l13 6l-2 5l-13 -6zM318 118l13 4l-2 5l-13 -4zM264 170l-16 0l-0 -4l16 -0zM329 97l-1 9l-4 -0l1 -9zM334 98l8 7l-3 3l-8 -7zM310 110l-5 11l-4 -2l5 -11zM290 77l-8 5l-2 -3l8 -5zM323 85l7 4l-2 4l-7 -4zM296 140l9 12l-3 3l-9 -12zM314 126l6 1l-1 5l-6 -1zM323 97l5 11l-3 2l-5 -11zM235 128l-10 5l-2 -3l10 -5zM259 104l-7 12l-4 -3l7 -12zM323 134l6 10l-4 3l-6 -10zM304 114l6 6l-3 3l-6 -6zM235 103l5 7l-3 2l-5 -7zM308 131l7 4l-3 5l-7 -4zM322 73l-8 7l-3 -4l8 -7zM241 146l10 4l-2 5l-10 -4zM302 76l14 10l-2 3l-14 -10zM252 133l-2 9l-5 -1l2 -9zM326 83l-13 7l-2 -3l13 -7zM310 145l-13 0l-0 -3l13 -0zM275 128l8 1l-1 6l-8 -1zM246 127l12 5l-2 4l-12 -5zM253 147l-9 7l-4 -5l9 -7zM254 149l-1 17l-4 -0l1 -17zM243 164l13 5l-1 3l-13 -5zM253 119l10 4l-2 5l-10 -4zM284 109l6 6l-4 4l-6 -6zM231 114l-2 16l-4 -0l2 -16zM266 85l-15 2l-1 -6l15 -2zM320 106l10 8l-2 3l-10 -8zM308 159l13 6l-1 3l-13 -6zM320 90l-0 9l-3 -0l0 -9zM324 103l-2 7l-6 -1l2 -7zM259 97l9 13l-3 2l-9 -13zM308 95l14 9l-2 3l-14 -9zM318 85l-16 2l-0 -3l16 -2zM248 114l1 9l-5 1l-1 -9zM329 155l-8 3l-2 -5l8 -3zM272 148l0 8l-4 0l-0 -8z" fill="rgb(150,150,150)" stroke="rgb(180,180,180)" stroke-width="0.9" stroke-linejoin="round"/><path d="M278 109l6 10l-4 2l-6 -10zM291 142l-5 12l-5 -2l5 -12zM321 97l8 8l-2 2l-8 -8zM281 171l-12 11l-4 -4l12 -11zM276 138l-2 13l-6 -1l2 -13zM280 167l5 3l-3 4l-5 -3zM246 135l6 8l-3 2l-6 -8zM329 97l4 8l-5 3l-4 -8zM270 118l-1 14l-6 -0l1 -14zM289 140l6 5l-2 3l-6 -5zM328 103l-8 3l-1 -3l8 -3zM233 120l-7 2l-1 -3l7 -2zM288 92l10 2l-1 6l-10 -2zM264 150l14 5l-2 5l-14 -5zM295 179l-15 6l-2 -5l15 -6zM285 145l-16 7l-2 -5l16 -7zM293 103l12 4l-2 5l-12 -4zM256 135l-13 10l-3 -4l13 -10zM320 76l6 2l-1 5l-6 -2zM255 159l3 8l-4 1l-3 -8zM285 130l-9 0l-0 -6l9 -0zM325 106l8 4l-2 5l-8 -4zM298 163l9 13l-3 2l-9 -13zM273 150l-0 13l-3 -0l0 -13zM288 114l-9 1l-0 -4l9 -1zM241 143l-3 7l-4 -2l3 -7zM310 146l0 13l-3 0l-0 -13zM264 168l7 6l-4 4l-7 -6zM317 120l-6 1l-0 -5l6 -1zM297 122l-12 8l-3 -4l12 -8zM228 117l10 10l-3 3l-10 -10zM257 66l2 10l-5 1l-2 -10zM265 92l5 14l-5 2l-5 -14zM271 130l14 1l-0 3l-14 -1zM327 87l7 5l-2 3l-7 -5zM264 166l16 4l-1 4l-16 -4zM252 163l-13 2l-1 -5l13 -2zM262 127l-10 2l-1 -4l10 -2zM325 119l2 15l-4 0l-2 -15zM333 99l-6 5l-3 -4l6 -5zM236 124l-0 11l-3 -0l0 -11zM298 89l-2 8l-5 -1l2 -8zM281 170l5 5l-3 3l-5 -5zM260 89l7 5l-2 3l-7 -5zM319 76l9 11l-4 3l-9 -11zM344 114l-11 10l-4 -4l11 -10zM343 106l-6 15l-3 -1l6 -15zM222 144l16 3l-1 4l-16 -3zM301 65l2 14l-4 1l-2 -14zM228 134l11 3l-2 5l-11 -3zM323 138l-12 8l-2 -3l12 -8zM312 133l-6 8l-5 -3l6 -8zM261 145l-9 6l-3 -4l9 -6zM326 136l7 2l-1 3l-7 -2zM271 141l-11 4l-2 -5l11 -4zM277 103l-5 6l-4 -3l5 -6zM249 172l11 9l-2 3l-11 -9zM308 144l-1 16l-6 -0l1 -16zM292 107l-9 1l-0 -5l9 -1zM244 114l-6 11l-4 -2l6 -11zM291 110l4 14l-4 1l-4 -14zM313 155l-5 16l-4 -1l5 -16zM224 121l9 12l-3 2l-9 -12zM254 105l13 0l-0 4l-13 -0zM314 103l-17 1l-0 -4l17 -1zM326 115l5 12l-6 2l-5 -12zM291 94l-6 12l-4 -2l6 -12z" fill="rgb(163,163,163)" stroke="rgb(195,195,195)" stroke-width="0.9" stroke-linejoin="round"/><path d="M244 149l-11 10l-4 -4l11 -10zM294 147l-7 7l-3 -3l7 -7zM300 87l12 9l-3 4l-12 -9zM250 81l-11 9l-3 -4l11 -9zM258 81l6 5l-4 4l-6 -5zM292 164l-8 1l-0 -5l8 -1zM314 72l5 4l-3 4l-5 -4zM273 138l11 3l-1 4l-11 -3zM261 117l-0 10l-6 -0l0 -10zM278 174l-6 15l-4 -2l6 -15zM262 99l6 2l-2 5l-6 -2zM229 112l6 1l-1 6l-6 -1zM259 158l-5 7l-4 -3l5 -7zM315 144l6 12l-5 2l-6 -12zM236 153l13 5l-1 4l-13 -5zM271 94l1 8l-6 1l-1 -8zM250 124l14 8l-3 4l-14 -8zM235 105l9 12l-4 3l-9 -12zM263 112l-11 11l-3 -3l11 -11zM294 161l-3 11l-3 -1l3 -11zM279 86l-13 1l-0 -6l13 -1zM293 165l-2 10l-5 -1l2 -10zM257 136l10 11l-3 3l-10 -11zM264 99l-5 11l-3 -1l5 -11zM286 87l4 6l-4 3l-4 -6zM307 144l7 5l-2 4l-7 -5zM298 69l-11 4l-1 -3l11 -4zM280 77l-6 6l-3 -3l6 -6zM273 106l9 6l-3 4l-9 -6zM314 156l-6 10l-5 -3l6 -10zM274 133l6 3l-2 4l-6 -3zM242 121l-11 7l-2 -3l11 -7zM245 80l16 1l-0 5l-16 -1zM327 81l9 3l-2 5l-9 -3zM300 82l-6 9l-3 -2l6 -9zM332 140l-3 11l-6 -2l3 -11zM327 125l1 7l-4 0l-1 -7zM271 71l-9 4l-1 -3l9 -4zM298 80l-16 4l-1 -4l16 -4zM335 136l-5 8l-4 -3l5 -8zM312 91l4 13l-3 1l-4 -13zM331 120l-11 1l-0 -5l11 -1zM342 104l-14 1l-0 -6l14 -1zM278 155l12 3l-1 4l-12 -3zM255 103l-14 9l-2 -4l14 -9zM334 114l-13 2l-1 -4l13 -2zM306 130l7 14l-4 2l-7 -14zM273 115l-6 5l-3 -3l6 -5zM258 84l-2 10l-4 -1l2 -10zM297 91l5 10l-3 2l-5 -10zM262 105l-7 6l-2 -2l7 -6zM297 159l9 8l-4 4l-9 -8zM287 108l-12 0l-0 -4l12 -0zM266 62l9 6l-2 3l-9 -6zM293 137l14 8l-2 3l-14 -8zM282 178l8 0l-0 3l-8 -0zM304 114l-4 15l-5 -1l4 -15zM238 143l5 4l-4 4l-5 -4zM273 93l15 5l-1 3l-15 -5zM335 94l-3 8l-4 -1l3 -8zM253 111l11 6l-3 4l-11 -6zM249 87l4 8l-5 2l-4 -8zM278 157l-3 13l-5 -1l3 -13zM262 68l8 14l-5 3l-8 -14z" fill="rgb(175,175,175)" stroke="rgb(210,210,210)" stroke-width="0.9" stroke-linejoin="round"/><path d="M334 143l-6 3l-1 -3l6 -3zM311 126l15 6l-2 4l-15 -6zM320 135l-13 1l-0 -4l13 -1zM325 106l-4 6l-3 -2l4 -6zM260 120l-10 8l-3 -4l10 -8zM310 129l3 12l-5 1l-3 -12zM298 123l11 12l-3 3l-11 -12zM302 168l4 8l-5 2l-4 -8zM292 131l-11 11l-3 -3l11 -11zM314 101l-1 6l-6 -1l1 -6zM284 173l-12 11l-4 -4l12 -11zM265 108l-15 7l-2 -4l15 -7zM252 142l-7 13l-4 -2l7 -13zM314 100l-7 3l-2 -5l7 -3zM256 113l6 12l-5 2l-6 -12zM330 113l-12 8l-2 -3l12 -8zM277 106l-13 4l-2 -6l13 -4zM297 64l2 10l-4 1l-2 -10zM242 139l-10 8l-3 -3l10 -8zM329 91l-7 11l-4 -3l7 -11zM321 77l4 8l-5 3l-4 -8zM257 125l-10 3l-1 -3l10 -3zM306 147l-7 15l-5 -2l7 -15zM287 66l-14 8l-3 -5l14 -8zM254 148l7 7l-4 4l-7 -7zM244 148l-5 8l-4 -3l5 -8zM251 79l4 7l-4 2l-4 -7zM281 113l9 6l-3 5l-9 -6zM330 116l0 16l-5 0l-0 -16zM320 109l3 6l-4 2l-3 -6zM286 134l2 6l-3 1l-2 -6zM274 176l4 10l-4 2l-4 -10zM328 78l-1 11l-4 -0l1 -11zM292 65l-8 7l-3 -4l8 -7zM236 79l10 13l-4 3l-10 -13zM298 144l-5 4l-2 -3l5 -4zM326 88l-6 10l-4 -3l6 -10zM257 70l6 8l-3 2l-6 -8zM259 94l12 2l-1 4l-12 -2zM307 77l-0 9l-6 -0l0 -9zM295 137l-11 11l-3 -3l11 -11zM299 80l6 4l-2 3l-6 -4zM274 87l14 6l-1 3l-14 -6zM301 82l6 5l-3 3l-6 -5zM306 157l-9 2l-1 -6l9 -2zM237 87l-1 11l-3 -0l1 -11zM314 161l-9 4l-2 -4l9 -4zM301 133l-16 6l-2 -5l16 -6zM327 100l7 2l-1 4l-7 -2zM311 128l-16 4l-1 -5l16 -4zM289 96l-2 15l-5 -1l2 -15zM304 133l-11 2l-1 -6l11 -2zM298 175l-11 4l-1 -4l11 -4zM312 113l-8 1l-1 -4l8 -1zM224 108l12 1l-0 5l-12 -1zM272 60l-5 15l-4 -2l5 -15zM280 85l15 4l-1 3l-15 -4zM333 93l-10 9l-3 -4l10 -9zM270 159l-8 13l-3 -2l8 -13zM284 160l4 6l-3 2l-4 -6zM284 135l-13 8l-2 -3l13 -8zM308 98l-0 10l-5 -0l0 -10zM265 154l-10 12l-4 -3l10 -12zM240 102l-8 8l-2 -3l8 -8zM297 141l12 7l-2 3l-12 -7zM279 130l8 6l-4 5l-8 -6zM309 119l-6 13l-4 -2l6 -13z" fill="rgb(187,187,187)" stroke="rgb(224,224,224)" stroke-width="0.9" stroke-linejoin="round"/><rect x="224.4" y="60.6" width="116.6" height="125.70000000000002" fill="url(#ovD)"/></g><path d="M4 197l6 5l-2 2l-6 -5zM56 181l-4 5l-3 -2l4 -5zM76 199l-2 8l-2 -1l2 -8zM80 209l-6 3l-1 -3l6 -3zM79 230l-3 6l-2 -1l3 -6zM64 252l-3 5l-3 -2l3 -5zM56 256l-8 3l-2 -4l8 -3zM43 252l3 8l-3 1l-3 -8zM31 252l-2 9l-3 -1l2 -9zM12 245l-6 2l-2 -4l6 -2zM15 192l-3 6l-4 -2l3 -6zM13 189l4 1l-1 4l-4 -1zM28 183l5 1l-1 4l-5 -1zM34 182l4 4l-2 2l-4 -4zM80 229l-6 0l-0 -4l6 -0zM74 233l5 7l-3 3l-5 -7zM69 249l-4 4l-3 -3l4 -4zM61 255l-5 3l-2 -4l5 -3zM17 249l0 7l-3 0l-0 -7zM13 243l1 8l-3 0l-1 -8zM10 238l-0 5l-4 -0l0 -5zM5 223l3 4l-3 2l-3 -4zM3 213l5 6l-3 3l-5 -6zM21 186l1 7l-4 1l-1 -7zM20 186l6 0l-0 4l-6 -0zM63 185l-4 3l-2 -3l4 -3zM69 186l1 7l-3 0l-1 -7zM72 196l3 3l-2 2l-3 -3zM80 221l-2 4l-3 -2l2 -4zM75 244l-5 3l-2 -3l5 -3zM71 247l-3 3l-2 -2l3 -3zM42 258l-4 2l-2 -4l4 -2zM37 253l-0 8l-4 -0l0 -8zM3 230l6 4l-2 3l-6 -4zM8 211l-5 5l-2 -2l5 -5zM3 203l6 3l-2 4l-6 -3zM42 181l-2 7l-4 -1l2 -7zM50 179l2 7l-3 1l-2 -7zM65 183l-0 5l-4 -0l0 -5zM67 191l8 2l-1 3l-8 -2zM80 216l-4 2l-1 -3l4 -2zM26 253l-2 4l-3 -1l2 -4zM20 251l-1 4l-4 -0l1 -4zM3 227l6 6l-2 2l-6 -6zM1 219l8 3l-1 3l-8 -3z" fill="rgb(84,84,84)" transform="translate(0.9 1.3)" opacity="0.8"/><path d="M21 186l1 7l-4 1l-1 -7zM20 186l6 0l-0 4l-6 -0zM63 185l-4 3l-2 -3l4 -3zM69 186l1 7l-3 0l-1 -7zM72 196l3 3l-2 2l-3 -3zM80 221l-2 4l-3 -2l2 -4zM75 244l-5 3l-2 -3l5 -3zM71 247l-3 3l-2 -2l3 -3zM42 258l-4 2l-2 -4l4 -2zM37 253l-0 8l-4 -0l0 -8zM3 230l6 4l-2 3l-6 -4zM8 211l-5 5l-2 -2l5 -5zM3 203l6 3l-2 4l-6 -3z" fill="rgb(150,150,150)" stroke="rgb(180,180,180)" stroke-width="0.9" stroke-linejoin="round"/><path d="M42 181l-2 7l-4 -1l2 -7zM50 179l2 7l-3 1l-2 -7zM65 183l-0 5l-4 -0l0 -5zM67 191l8 2l-1 3l-8 -2zM80 216l-4 2l-1 -3l4 -2zM26 253l-2 4l-3 -1l2 -4zM20 251l-1 4l-4 -0l1 -4zM3 227l6 6l-2 2l-6 -6zM1 219l8 3l-1 3l-8 -3z" fill="rgb(163,163,163)" stroke="rgb(195,195,195)" stroke-width="0.9" stroke-linejoin="round"/><path d="M15 192l-3 6l-4 -2l3 -6zM13 189l4 1l-1 4l-4 -1zM28 183l5 1l-1 4l-5 -1zM34 182l4 4l-2 2l-4 -4zM80 229l-6 0l-0 -4l6 -0zM74 233l5 7l-3 3l-5 -7zM69 249l-4 4l-3 -3l4 -4zM61 255l-5 3l-2 -4l5 -3zM17 249l0 7l-3 0l-0 -7zM13 243l1 8l-3 0l-1 -8zM10 238l-0 5l-4 -0l0 -5zM5 223l3 4l-3 2l-3 -4zM3 213l5 6l-3 3l-5 -6z" fill="rgb(175,175,175)" stroke="rgb(210,210,210)" stroke-width="0.9" stroke-linejoin="round"/><path d="M4 197l6 5l-2 2l-6 -5zM56 181l-4 5l-3 -2l4 -5zM76 199l-2 8l-2 -1l2 -8zM80 209l-6 3l-1 -3l6 -3zM79 230l-3 6l-2 -1l3 -6zM64 252l-3 5l-3 -2l3 -5zM56 256l-8 3l-2 -4l8 -3zM43 252l3 8l-3 1l-3 -8zM31 252l-2 9l-3 -1l2 -9zM12 245l-6 2l-2 -4l6 -2z" fill="rgb(187,187,187)" stroke="rgb(224,224,224)" stroke-width="0.9" stroke-linejoin="round"/><g clip-path="url(#clG)"><rect x="1.2000000000000002" y="180" width="79.6" height="80.19999999999999" fill="url(#rgG)"/><path d="M65 232l-5 16l-3 -1l5 -16zM63 191l8 7l-3 3l-8 -7zM32 231l13 10l-4 5l-13 -10zM74 205l3 15l-5 1l-3 -15zM23 228l-9 15l-5 -3l9 -15zM64 251l-11 5l-2 -5l11 -5zM31 192l-12 1l-1 -5l12 -1zM27 207l9 3l-2 6l-9 -3zM47 200l7 8l-2 2l-7 -8zM47 242l7 1l-0 5l-7 -1zM68 195l-1 14l-3 -0l1 -14zM14 221l-8 15l-3 -2l8 -15zM14 198l-9 4l-1 -3l9 -4zM48 227l5 3l-3 5l-5 -3zM33 228l-11 6l-2 -4l11 -6zM64 186l-6 0l-0 -4l6 -0zM36 199l-3 12l-5 -1l3 -12zM49 197l-5 15l-5 -2l5 -15zM69 223l-6 13l-5 -2l6 -13zM36 237l-13 5l-2 -4l13 -5zM57 188l9 7l-3 4l-9 -7zM39 220l4 5l-5 3l-4 -5zM46 214l-3 6l-5 -2l3 -6zM54 227l-10 4l-2 -4l10 -4zM66 211l3 11l-4 1l-3 -11zM72 239l-4 7l-4 -2l4 -7zM46 224l5 5l-3 3l-5 -5zM21 198l-8 3l-2 -5l8 -3zM79 211l3 5l-5 3l-3 -5zM35 241l10 4l-1 3l-10 -4zM50 232l-8 0l-0 -6l8 -0zM58 212l-3 12l-3 -1l3 -12zM44 188l13 5l-1 4l-13 -5zM30 209l-6 5l-3 -4l6 -5zM40 244l-6 16l-5 -2l6 -16zM69 232l-8 1l-1 -6l8 -1zM59 188l-0 7l-3 -0l0 -7zM9 206l-3 6l-5 -2l3 -6zM22 238l-5 9l-4 -2l5 -9zM47 198l14 9l-2 3l-14 -9zM33 190l9 9l-4 4l-9 -9zM39 204l5 3l-2 4l-5 -3zM49 222l-6 10l-4 -2l6 -10zM78 239l-15 2l-0 -4l15 -2zM39 187l-10 14l-4 -3l10 -14zM60 217l-12 7l-3 -5l12 -7zM71 196l-5 4l-2 -3l5 -4zM49 251l-8 11l-4 -3l8 -11zM50 233l10 4l-2 5l-10 -4zM70 223l-7 11l-3 -2l7 -11zM76 192l-15 4l-2 -5l15 -4zM54 191l-11 3l-1 -5l11 -3zM14 205l-6 10l-4 -2l6 -10zM65 192l11 5l-2 3l-11 -5zM61 214l10 12l-3 2l-10 -12zM36 258l-6 3l-2 -5l6 -3zM51 250l9 3l-1 3l-9 -3zM37 255l-9 5l-3 -5l9 -5zM56 233l8 4l-1 3l-8 -4zM76 222l-7 5l-3 -4l7 -5zM60 206l-6 4l-2 -2l6 -4zM39 239l-12 6l-2 -4l12 -6zM71 203l9 8l-3 3l-9 -8zM41 243l-0 16l-5 -0l0 -16zM5 224l5 13l-4 2l-5 -13zM52 226l1 8l-6 0l-1 -8zM41 221l6 2l-1 3l-6 -2zM58 220l3 10l-5 2l-3 -10zM38 220l-17 1l-0 -4l17 -1zM57 256l-5 4l-3 -4l5 -4zM52 183l-11 11l-4 -4l11 -11zM76 222l5 9l-3 2l-5 -9zM66 236l-10 10l-3 -3l10 -10zM10 227l-7 11l-4 -2l7 -11zM29 232l-8 1l-1 -6l8 -1zM57 245l-15 6l-2 -4l15 -6zM52 182l6 10l-5 3l-6 -10zM18 194l7 9l-4 3l-7 -9zM37 198l14 6l-1 3l-14 -6zM60 180l4 12l-5 2l-4 -12zM52 211l-7 4l-2 -4l7 -4zM34 236l7 3l-2 5l-7 -3zM16 202l3 11l-5 1l-3 -11zM30 243l-15 1l-0 -6l15 -1zM19 197l-9 1l-0 -5l9 -1zM10 205l6 8l-2 2l-6 -8zM57 214l-10 11l-3 -2l10 -11zM46 188l-1 7l-4 -0l1 -7zM28 223l-5 13l-4 -2l5 -13zM26 206l7 2l-1 4l-7 -2zM66 189l8 11l-3 2l-8 -11zM19 224l9 13l-4 3l-9 -13zM78 205l2 11l-4 1l-2 -11zM82 200l-13 10l-3 -4l13 -10zM28 212l-17 1l-0 -3l17 -1zM52 225l10 3l-1 3l-10 -3zM61 250l-1 8l-5 -1l1 -8zM20 217l-12 10l-3 -4l12 -10zM15 208l-9 12l-4 -3l9 -12zM25 202l-2 6l-5 -2l2 -6zM20 191l-7 11l-4 -3l7 -11zM60 221l7 9l-3 2l-7 -9zM29 221l-12 2l-1 -4l12 -2zM22 203l2 16l-4 1l-2 -16zM41 255l-4 6l-4 -2l4 -6zM23 194l8 2l-1 3l-8 -2zM40 234l-16 2l-1 -4l16 -2zM66 221l-14 9l-3 -4l14 -9zM65 232l7 9l-3 3l-7 -9zM44 179l0 11l-6 0l-0 -11zM26 240l15 1l-0 4l-15 -1zM32 211l15 1l-0 5l-15 -1zM39 199l-16 4l-1 -3l16 -4zM34 216l-5 12l-5 -2l5 -12zM43 198l8 6l-3 5l-8 -6zM32 193l10 0l-0 4l-10 -0zM52 219l1 13l-3 0l-1 -13zM31 185l-7 9l-2 -2l7 -9zM44 202l11 13l-2 2l-11 -13zM68 230l12 6l-2 4l-12 -6zM41 252l-8 4l-2 -4l8 -4zM8 219l13 6l-2 5l-13 -6zM11 208l-6 4l-2 -3l6 -4zM55 231l-6 6l-3 -3l6 -6zM71 192l-6 7l-4 -4l6 -7zM10 190l4 16l-3 1l-4 -16zM8 236l9 14l-4 3l-9 -14zM42 229l-4 13l-5 -2l4 -13zM11 240l7 14l-5 2l-7 -14zM5 217l7 1l-1 5l-7 -1zM38 247l5 4l-3 4l-5 -4zM37 185l-9 14l-5 -3l9 -14zM27 222l-2 6l-4 -2l2 -6zM77 193l-8 8l-2 -2l8 -8zM52 186l-15 2l-1 -6l15 -2zM86 218l-14 8l-2 -3l14 -8zM62 244l-13 4l-1 -3l13 -4zM25 205l-1 7l-3 -0l1 -7zM30 211l-10 1l-0 -3l10 -1zM5 197l5 10l-4 2l-5 -10zM67 237l3 8l-3 1l-3 -8zM66 243l-4 11l-5 -2l4 -11zM26 209l-13 6l-2 -5l13 -6zM56 258l-9 0l-0 -3l9 -0z" fill="rgb(84,84,84)" transform="translate(0.9 1.3)" opacity="0.8"/><path d="M65 192l11 5l-2 3l-11 -5zM61 214l10 12l-3 2l-10 -12zM36 258l-6 3l-2 -5l6 -3zM51 250l9 3l-1 3l-9 -3zM37 255l-9 5l-3 -5l9 -5zM56 233l8 4l-1 3l-8 -4zM76 222l-7 5l-3 -4l7 -5zM60 206l-6 4l-2 -2l6 -4zM39 239l-12 6l-2 -4l12 -6zM71 203l9 8l-3 3l-9 -8zM41 243l-0 16l-5 -0l0 -16zM5 224l5 13l-4 2l-5 -13zM52 226l1 8l-6 0l-1 -8zM41 221l6 2l-1 3l-6 -2zM58 220l3 10l-5 2l-3 -10zM38 220l-17 1l-0 -4l17 -1zM57 256l-5 4l-3 -4l5 -4zM52 183l-11 11l-4 -4l11 -11zM76 222l5 9l-3 2l-5 -9zM66 236l-10 10l-3 -3l10 -10zM10 227l-7 11l-4 -2l7 -11zM29 232l-8 1l-1 -6l8 -1zM57 245l-15 6l-2 -4l15 -6zM52 182l6 10l-5 3l-6 -10zM18 194l7 9l-4 3l-7 -9zM37 198l14 6l-1 3l-14 -6zM60 180l4 12l-5 2l-4 -12zM52 211l-7 4l-2 -4l7 -4zM34 236l7 3l-2 5l-7 -3zM16 202l3 11l-5 1l-3 -11zM30 243l-15 1l-0 -6l15 -1zM19 197l-9 1l-0 -5l9 -1zM10 205l6 8l-2 2l-6 -8zM57 214l-10 11l-3 -2l10 -11zM46 188l-1 7l-4 -0l1 -7zM28 223l-5 13l-4 -2l5 -13zM26 206l7 2l-1 4l-7 -2z" fill="rgb(138,138,138)" stroke="rgb(165,165,165)" stroke-width="0.9" stroke-linejoin="round"/><path d="M68 230l12 6l-2 4l-12 -6zM41 252l-8 4l-2 -4l8 -4zM8 219l13 6l-2 5l-13 -6zM11 208l-6 4l-2 -3l6 -4zM55 231l-6 6l-3 -3l6 -6zM71 192l-6 7l-4 -4l6 -7zM10 190l4 16l-3 1l-4 -16zM8 236l9 14l-4 3l-9 -14zM42 229l-4 13l-5 -2l4 -13zM11 240l7 14l-5 2l-7 -14zM5 217l7 1l-1 5l-7 -1zM38 247l5 4l-3 4l-5 -4zM37 185l-9 14l-5 -3l9 -14zM27 222l-2 6l-4 -2l2 -6zM77 193l-8 8l-2 -2l8 -8zM52 186l-15 2l-1 -6l15 -2zM86 218l-14 8l-2 -3l14 -8zM62 244l-13 4l-1 -3l13 -4zM25 205l-1 7l-3 -0l1 -7zM30 211l-10 1l-0 -3l10 -1zM5 197l5 10l-4 2l-5 -10zM67 237l3 8l-3 1l-3 -8zM66 243l-4 11l-5 -2l4 -11zM26 209l-13 6l-2 -5l13 -6zM56 258l-9 0l-0 -3l9 -0z" fill="rgb(150,150,150)" stroke="rgb(180,180,180)" stroke-width="0.9" stroke-linejoin="round"/><path d="M65 232l-5 16l-3 -1l5 -16zM63 191l8 7l-3 3l-8 -7zM32 231l13 10l-4 5l-13 -10zM74 205l3 15l-5 1l-3 -15zM23 228l-9 15l-5 -3l9 -15zM64 251l-11 5l-2 -5l11 -5zM31 192l-12 1l-1 -5l12 -1zM27 207l9 3l-2 6l-9 -3zM47 200l7 8l-2 2l-7 -8zM47 242l7 1l-0 5l-7 -1zM68 195l-1 14l-3 -0l1 -14zM14 221l-8 15l-3 -2l8 -15zM14 198l-9 4l-1 -3l9 -4zM48 227l5 3l-3 5l-5 -3zM33 228l-11 6l-2 -4l11 -6zM64 186l-6 0l-0 -4l6 -0zM36 199l-3 12l-5 -1l3 -12zM49 197l-5 15l-5 -2l5 -15zM69 223l-6 13l-5 -2l6 -13zM36 237l-13 5l-2 -4l13 -5zM57 188l9 7l-3 4l-9 -7zM39 220l4 5l-5 3l-4 -5zM46 214l-3 6l-5 -2l3 -6zM54 227l-10 4l-2 -4l10 -4z" fill="rgb(163,163,163)" stroke="rgb(195,195,195)" stroke-width="0.9" stroke-linejoin="round"/><path d="M66 189l8 11l-3 2l-8 -11zM19 224l9 13l-4 3l-9 -13zM78 205l2 11l-4 1l-2 -11zM82 200l-13 10l-3 -4l13 -10zM28 212l-17 1l-0 -3l17 -1zM52 225l10 3l-1 3l-10 -3zM61 250l-1 8l-5 -1l1 -8zM20 217l-12 10l-3 -4l12 -10zM15 208l-9 12l-4 -3l9 -12zM25 202l-2 6l-5 -2l2 -6zM20 191l-7 11l-4 -3l7 -11zM60 221l7 9l-3 2l-7 -9zM29 221l-12 2l-1 -4l12 -2zM22 203l2 16l-4 1l-2 -16zM41 255l-4 6l-4 -2l4 -6zM23 194l8 2l-1 3l-8 -2zM40 234l-16 2l-1 -4l16 -2zM66 221l-14 9l-3 -4l14 -9zM65 232l7 9l-3 3l-7 -9zM44 179l0 11l-6 0l-0 -11zM26 240l15 1l-0 4l-15 -1zM32 211l15 1l-0 5l-15 -1zM39 199l-16 4l-1 -3l16 -4zM34 216l-5 12l-5 -2l5 -12zM43 198l8 6l-3 5l-8 -6zM32 193l10 0l-0 4l-10 -0zM52 219l1 13l-3 0l-1 -13zM31 185l-7 9l-2 -2l7 -9zM44 202l11 13l-2 2l-11 -13z" fill="rgb(175,175,175)" stroke="rgb(210,210,210)" stroke-width="0.9" stroke-linejoin="round"/><path d="M66 211l3 11l-4 1l-3 -11zM72 239l-4 7l-4 -2l4 -7zM46 224l5 5l-3 3l-5 -5zM21 198l-8 3l-2 -5l8 -3zM79 211l3 5l-5 3l-3 -5zM35 241l10 4l-1 3l-10 -4zM50 232l-8 0l-0 -6l8 -0zM58 212l-3 12l-3 -1l3 -12zM44 188l13 5l-1 4l-13 -5zM30 209l-6 5l-3 -4l6 -5zM40 244l-6 16l-5 -2l6 -16zM69 232l-8 1l-1 -6l8 -1zM59 188l-0 7l-3 -0l0 -7zM9 206l-3 6l-5 -2l3 -6zM22 238l-5 9l-4 -2l5 -9zM47 198l14 9l-2 3l-14 -9zM33 190l9 9l-4 4l-9 -9zM39 204l5 3l-2 4l-5 -3zM49 222l-6 10l-4 -2l6 -10zM78 239l-15 2l-0 -4l15 -2zM39 187l-10 14l-4 -3l10 -14zM60 217l-12 7l-3 -5l12 -7zM71 196l-5 4l-2 -3l5 -4zM49 251l-8 11l-4 -3l8 -11zM50 233l10 4l-2 5l-10 -4zM70 223l-7 11l-3 -2l7 -11zM76 192l-15 4l-2 -5l15 -4zM54 191l-11 3l-1 -5l11 -3zM14 205l-6 10l-4 -2l6 -10z" fill="rgb(187,187,187)" stroke="rgb(224,224,224)" stroke-width="0.9" stroke-linejoin="round"/><rect x="1.2000000000000002" y="180" width="79.6" height="80.19999999999999" fill="url(#ovG)"/></g></g><rect x="17.7" y="248" width="50.4" height="2" fill="#f4f4f4"/><text x="42.7" y="271.6" font-size="22" fill="#f2f2f2" text-anchor="middle">3 µm</text><text x="27.5" y="28" font-size="32" fill="#f0f0f0" text-anchor="middle">(a)</text><rect x="3.5" y="1.5" width="332" height="283" fill="none" stroke="#1c1c1c" stroke-width="1"/><line x1="0" y1="0.5" x2="340" y2="0.5" stroke="#aaa" stroke-width="1"/><line x1="410.00" y1="0.50" x2="684.50" y2="0.50" stroke="#1a1a1a" stroke-width="1"/><line x1="684.50" y1="0.00" x2="684.50" y2="239.20" stroke="#1a1a1a" stroke-width="1"/><line x1="410.00" y1="0.00" x2="410.00" y2="239.50" stroke="#1a1a1a" stroke-width="1"/><line x1="410.00" y1="239.10" x2="685.00" y2="239.10" stroke="#1a1a1a" stroke-width="1"/><line x1="402.50" y1="228.40" x2="410.00" y2="228.40" stroke="#1a1a1a" stroke-width="1"/><text transform="translate(400.6 233.8) scale(1 1.03)" font-size="20.7" text-anchor="end">0</text><line x1="404.00" y1="209.97" x2="410.00" y2="209.97" stroke="#1a1a1a" stroke-width="1"/><line x1="402.50" y1="191.54" x2="410.00" y2="191.54" stroke="#1a1a1a" stroke-width="1"/><text transform="translate(400.6 196.94) scale(1 1.03)" font-size="20.7" text-anchor="end">0.2</text><line x1="404.00" y1="173.11" x2="410.00" y2="173.11" stroke="#1a1a1a" stroke-width="1"/><line x1="402.50" y1="154.68" x2="410.00" y2="154.68" stroke="#1a1a1a" stroke-width="1"/><text transform="translate(400.6 160.08) scale(1 1.03)" font-size="20.7" text-anchor="end">0.4</text><line x1="404.00" y1="136.25" x2="410.00" y2="136.25" stroke="#1a1a1a" stroke-width="1"/><line x1="402.50" y1="117.82" x2="410.00" y2="117.82" stroke="#1a1a1a" stroke-width="1"/><text transform="translate(400.6 123.22) scale(1 1.03)" font-size="20.7" text-anchor="end">0.6</text><line x1="404.00" y1="99.39" x2="410.00" y2="99.39" stroke="#1a1a1a" stroke-width="1"/><line x1="402.50" y1="80.96" x2="410.00" y2="80.96" stroke="#1a1a1a" stroke-width="1"/><text transform="translate(400.6 86.36000000000001) scale(1 1.03)" font-size="20.7" text-anchor="end">0.8</text><line x1="404.00" y1="62.53" x2="410.00" y2="62.53" stroke="#1a1a1a" stroke-width="1"/><line x1="402.50" y1="44.10" x2="410.00" y2="44.10" stroke="#1a1a1a" stroke-width="1"/><text transform="translate(400.6 49.5) scale(1 1.03)" font-size="20.7" text-anchor="end">1.0</text><line x1="410.30" y1="239.10" x2="410.30" y2="247.10" stroke="#1a1a1a" stroke-width="1"/><text transform="translate(410.3 263.0) scale(1 1.03)" font-size="20.7" text-anchor="middle">98</text><line x1="485.07" y1="239.10" x2="485.07" y2="247.10" stroke="#1a1a1a" stroke-width="1"/><text transform="translate(485.06666666666666 263.0) scale(1 1.03)" font-size="20.7" text-anchor="middle">100</text><line x1="559.83" y1="239.10" x2="559.83" y2="247.10" stroke="#1a1a1a" stroke-width="1"/><text transform="translate(559.8333333333334 263.0) scale(1 1.03)" font-size="20.7" text-anchor="middle">102</text><line x1="634.60" y1="239.10" x2="634.60" y2="247.10" stroke="#1a1a1a" stroke-width="1"/><text transform="translate(634.6 263.0) scale(1 1.03)" font-size="20.7" text-anchor="middle">104</text><line x1="435.22" y1="239.10" x2="435.22" y2="245.60" stroke="#1a1a1a" stroke-width="1"/><line x1="460.14" y1="239.10" x2="460.14" y2="245.60" stroke="#1a1a1a" stroke-width="1"/><line x1="509.99" y1="239.10" x2="509.99" y2="245.60" stroke="#1a1a1a" stroke-width="1"/><line x1="534.91" y1="239.10" x2="534.91" y2="245.60" stroke="#1a1a1a" stroke-width="1"/><line x1="584.76" y1="239.10" x2="584.76" y2="245.60" stroke="#1a1a1a" stroke-width="1"/><line x1="609.68" y1="239.10" x2="609.68" y2="245.60" stroke="#1a1a1a" stroke-width="1"/><line x1="659.52" y1="239.10" x2="659.52" y2="245.60" stroke="#1a1a1a" stroke-width="1"/><line x1="684.44" y1="239.10" x2="684.44" y2="245.60" stroke="#1a1a1a" stroke-width="1"/><text transform="translate(554.3 286.0) scale(1 1.05)" font-size="22.7" text-anchor="middle">Binding energy (eV)</text><text transform="translate(364.8 135.5) rotate(-90) scale(1 1.05)" font-size="22.6" text-anchor="middle">Relative intensity</text><text transform="translate(372 23) scale(1 1.05)" font-size="32" text-anchor="middle">(b)</text><line x1="525.30" y1="32.00" x2="525.30" y2="118.00" stroke="#ff0000" stroke-width="0.9" stroke-dasharray="3,1.5,1,1.5" stroke-opacity="0.75"/><polyline points="582.6,62.2 544.1,93.4 544.1,198.4" fill="none" stroke="#10b010" stroke-width="0.9" stroke-dasharray="3,1.5,1,1.5,1,1.5" stroke-opacity="0.8"/><line x1="597.10" y1="104.00" x2="597.10" y2="205.00" stroke="#0000ee" stroke-width="0.9" stroke-dasharray="2,1.5" stroke-opacity="0.75"/><polyline points="641.6,152.9 617.4,167.8 617.4,212.0" fill="none" stroke="#33ddf5" stroke-width="0.9" stroke-dasharray="3,1.5,1,1.5" stroke-opacity="0.8"/><path d="M417.0 227.6L418.7 227.6L420.4 227.6L422.0 227.6L423.7 227.6L425.3 227.6L427.0 227.6L428.7 227.6L430.3 227.6L432.0 227.6L433.7 227.6L435.3 227.6L437.0 227.6L438.7 227.6L440.3 227.6L442.0 227.6L443.6 227.6L445.3 227.6L447.0 227.6L448.6 227.6L450.3 227.6L452.0 227.5L453.6 227.5L455.3 227.5L457.0 227.5L458.6 227.5L460.3 227.4L461.9 227.4L463.6 227.3L465.3 227.3L466.9 227.2L468.6 227.1L470.3 227.0L471.9 226.8L473.6 226.7L475.3 226.5L476.9 226.2L478.6 226.0L480.2 225.7L481.9 225.3L483.6 224.9L485.2 224.4L486.9 223.9L488.6 223.3L490.2 222.6L491.9 221.8L493.6 221.0L495.2 220.0L496.9 219.0L498.5 217.8L500.2 216.6L501.9 215.2L503.5 213.7L505.2 212.2L506.9 210.5L508.5 208.8L510.2 206.9L511.9 205.0L513.5 203.1L515.2 201.0L516.8 199.0L518.5 196.9L520.2 194.8L521.8 192.7L523.5 190.7L525.2 188.7L526.8 186.8L528.5 185.0L530.2 183.4L531.8 181.8L533.5 180.5L535.1 179.3L536.8 178.3L538.5 177.5L540.1 177.0L541.8 176.6L543.5 176.5L545.1 176.7L546.8 177.0L548.5 177.6L550.1 178.4L551.8 179.4L553.4 180.6L555.1 182.0L556.8 183.5L558.4 185.2L560.1 187.0L561.8 188.9L563.4 190.9L565.1 192.9L566.7 195.0L568.4 197.1L570.1 199.2L571.7 201.2L573.4 203.2L575.1 205.2L576.7 207.1L578.4 208.9L580.1 210.7L581.7 212.3L583.4 213.9L585.0 215.3L586.7 216.7L588.4 217.9L590.0 219.1L591.7 220.1L593.4 221.0L595.0 221.9L596.7 222.7L598.4 223.3L600.0 223.9L601.7 224.5L603.3 224.9L605.0 225.3L606.7 225.7L608.3 226.0L610.0 226.3L611.7 226.5L613.3 226.7L615.0 226.8L616.7 227.0L618.3 227.1L620.0 227.2L621.6 227.3L623.3 227.3L625.0 227.4L626.6 227.4L628.3 227.5L630.0 227.5L631.6 227.5L633.3 227.5L635.0 227.5L636.6 227.6L638.3 227.6L639.9 227.6L641.6 227.6L643.3 227.6L644.9 227.6L646.6 227.6L648.3 227.6L649.9 227.6L651.6 227.6L653.3 227.6L654.9 227.6L656.6 227.6L658.2 227.6L659.9 227.6L661.6 227.6L663.2 227.6L664.9 227.6L666.6 227.6L668.2 227.6L669.9 227.6L671.6 227.6L673.2 227.6L674.9 227.6L676.5 227.6L678.2 227.6L679.9 227.6L681.5 227.6L683.2 227.6" fill="none" stroke="#1ee01e" stroke-width="2.9" stroke-linejoin="round"/><path d="M417.0 227.6L418.7 227.5L420.4 227.5L422.0 227.5L423.7 227.5L425.3 227.4L427.0 227.4L428.7 227.4L430.3 227.3L432.0 227.2L433.7 227.2L435.3 227.1L437.0 226.9L438.7 226.8L440.3 226.6L442.0 226.4L443.6 226.2L445.3 225.9L447.0 225.6L448.6 225.2L450.3 224.8L452.0 224.3L453.6 223.7L455.3 223.1L457.0 222.3L458.6 221.4L460.3 220.5L461.9 219.4L463.6 218.1L465.3 216.7L466.9 215.2L468.6 213.5L470.3 211.6L471.9 209.5L473.6 207.2L475.3 204.7L476.9 202.0L478.6 199.1L480.2 196.0L481.9 192.6L483.6 189.1L485.2 185.3L486.9 181.3L488.6 177.2L490.2 172.8L491.9 168.4L493.6 163.7L495.2 159.0L496.9 154.2L498.5 149.3L500.2 144.4L501.9 139.5L503.5 134.7L505.2 129.9L506.9 125.3L508.5 120.8L510.2 116.6L511.9 112.6L513.5 108.9L515.2 105.5L516.8 102.4L518.5 99.8L520.2 97.5L521.8 95.7L523.5 94.4L525.2 93.5L526.8 93.2L528.5 93.3L530.2 93.8L531.8 94.9L533.5 96.4L535.1 98.4L536.8 100.8L538.5 103.6L540.1 106.8L541.8 110.4L543.5 114.2L545.1 118.3L546.8 122.7L548.5 127.2L550.1 131.9L551.8 136.7L553.4 141.5L555.1 146.4L556.8 151.3L558.4 156.2L560.1 161.0L561.8 165.7L563.4 170.2L565.1 174.7L566.7 178.9L568.4 183.0L570.1 186.9L571.7 190.6L573.4 194.0L575.1 197.3L576.7 200.3L578.4 203.2L580.1 205.8L581.7 208.2L583.4 210.4L585.0 212.4L586.7 214.2L588.4 215.8L590.0 217.3L591.7 218.6L593.4 219.8L595.0 220.9L596.7 221.8L598.4 222.6L600.0 223.3L601.7 224.0L603.3 224.5L605.0 225.0L606.7 225.4L608.3 225.8L610.0 226.1L611.7 226.3L613.3 226.5L615.0 226.7L616.7 226.9L618.3 227.0L620.0 227.1L621.6 227.2L623.3 227.3L625.0 227.3L626.6 227.4L628.3 227.4L630.0 227.5L631.6 227.5L633.3 227.5L635.0 227.5L636.6 227.5L638.3 227.6L639.9 227.6L641.6 227.6L643.3 227.6L644.9 227.6L646.6 227.6L648.3 227.6L649.9 227.6L651.6 227.6L653.3 227.6L654.9 227.6L656.6 227.6L658.2 227.6L659.9 227.6L661.6 227.6L663.2 227.6L664.9 227.6L666.6 227.6L668.2 227.6L669.9 227.6L671.6 227.6L673.2 227.6L674.9 227.6L676.5 227.6L678.2 227.6L679.9 227.6L681.5 227.6L683.2 227.6" fill="none" stroke="#ff0000" stroke-width="2.9" stroke-linejoin="round"/><path d="M417.0 227.6L418.7 227.6L420.4 227.6L422.0 227.6L423.7 227.6L425.3 227.6L427.0 227.6L428.7 227.6L430.3 227.6L432.0 227.6L433.7 227.6L435.3 227.6L437.0 227.6L438.7 227.6L440.3 227.6L442.0 227.6L443.6 227.6L445.3 227.6L447.0 227.6L448.6 227.6L450.3 227.6L452.0 227.6L453.6 227.6L455.3 227.6L457.0 227.6L458.6 227.6L460.3 227.6L461.9 227.6L463.6 227.6L465.3 227.6L466.9 227.6L468.6 227.6L470.3 227.6L471.9 227.6L473.6 227.6L475.3 227.6L476.9 227.6L478.6 227.6L480.2 227.6L481.9 227.6L483.6 227.6L485.2 227.6L486.9 227.6L488.6 227.6L490.2 227.6L491.9 227.6L493.6 227.6L495.2 227.6L496.9 227.6L498.5 227.6L500.2 227.6L501.9 227.6L503.5 227.6L505.2 227.6L506.9 227.6L508.5 227.6L510.2 227.6L511.9 227.6L513.5 227.6L515.2 227.6L516.8 227.6L518.5 227.6L520.2 227.6L521.8 227.6L523.5 227.6L525.2 227.6L526.8 227.5L528.5 227.5L530.2 227.5L531.8 227.5L533.5 227.5L535.1 227.4L536.8 227.4L538.5 227.3L540.1 227.3L541.8 227.2L543.5 227.1L545.1 227.0L546.8 226.9L548.5 226.8L550.1 226.6L551.8 226.4L553.4 226.2L555.1 226.0L556.8 225.8L558.4 225.5L560.1 225.2L561.8 224.8L563.4 224.5L565.1 224.1L566.7 223.7L568.4 223.3L570.1 222.8L571.7 222.3L573.4 221.9L575.1 221.4L576.7 220.9L578.4 220.4L580.1 220.0L581.7 219.6L583.4 219.1L585.0 218.8L586.7 218.4L588.4 218.1L590.0 217.9L591.7 217.7L593.4 217.6L595.0 217.5L596.7 217.5L598.4 217.6L600.0 217.7L601.7 217.8L603.3 218.1L605.0 218.3L606.7 218.7L608.3 219.0L610.0 219.4L611.7 219.9L613.3 220.3L615.0 220.8L616.7 221.3L618.3 221.7L620.0 222.2L621.6 222.7L623.3 223.1L625.0 223.6L626.6 224.0L628.3 224.4L630.0 224.7L631.6 225.1L633.3 225.4L635.0 225.7L636.6 225.9L638.3 226.2L639.9 226.4L641.6 226.6L643.3 226.7L644.9 226.9L646.6 227.0L648.3 227.1L649.9 227.2L651.6 227.3L653.3 227.3L654.9 227.4L656.6 227.4L658.2 227.5L659.9 227.5L661.6 227.5L663.2 227.5L664.9 227.5L666.6 227.6L668.2 227.6L669.9 227.6L671.6 227.6L673.2 227.6L674.9 227.6L676.5 227.6L678.2 227.6L679.9 227.6L681.5 227.6L683.2 227.6" fill="none" stroke="#0000ee" stroke-width="2.9" stroke-linejoin="round"/><path d="M417.0 227.6L418.7 227.6L420.4 227.6L422.0 227.6L423.7 227.6L425.3 227.6L427.0 227.6L428.7 227.6L430.3 227.6L432.0 227.6L433.7 227.6L435.3 227.6L437.0 227.6L438.7 227.6L440.3 227.6L442.0 227.6L443.6 227.6L445.3 227.6L447.0 227.6L448.6 227.6L450.3 227.6L452.0 227.6L453.6 227.6L455.3 227.6L457.0 227.6L458.6 227.6L460.3 227.6L461.9 227.6L463.6 227.6L465.3 227.6L466.9 227.6L468.6 227.6L470.3 227.6L471.9 227.6L473.6 227.6L475.3 227.6L476.9 227.6L478.6 227.6L480.2 227.6L481.9 227.6L483.6 227.6L485.2 227.6L486.9 227.6L488.6 227.6L490.2 227.6L491.9 227.6L493.6 227.6L495.2 227.6L496.9 227.6L498.5 227.6L500.2 227.6L501.9 227.6L503.5 227.6L505.2 227.6L506.9 227.6L508.5 227.6L510.2 227.6L511.9 227.6L513.5 227.6L515.2 227.6L516.8 227.6L518.5 227.6L520.2 227.6L521.8 227.6L523.5 227.6L525.2 227.6L526.8 227.6L528.5 227.6L530.2 227.6L531.8 227.5L533.5 227.5L535.1 227.5L536.8 227.5L538.5 227.5L540.1 227.5L541.8 227.5L543.5 227.4L545.1 227.4L546.8 227.4L548.5 227.4L550.1 227.3L551.8 227.3L553.4 227.3L555.1 227.2L556.8 227.2L558.4 227.1L560.1 227.0L561.8 227.0L563.4 226.9L565.1 226.8L566.7 226.8L568.4 226.7L570.1 226.6L571.7 226.5L573.4 226.4L575.1 226.3L576.7 226.2L578.4 226.1L580.1 226.0L581.7 225.9L583.4 225.8L585.0 225.6L586.7 225.5L588.4 225.4L590.0 225.3L591.7 225.2L593.4 225.1L595.0 225.0L596.7 224.9L598.4 224.8L600.0 224.8L601.7 224.7L603.3 224.6L605.0 224.6L606.7 224.5L608.3 224.5L610.0 224.5L611.7 224.5L613.3 224.5L615.0 224.5L616.7 224.5L618.3 224.6L620.0 224.6L621.6 224.7L623.3 224.7L625.0 224.8L626.6 224.9L628.3 225.0L630.0 225.0L631.6 225.1L633.3 225.2L635.0 225.4L636.6 225.5L638.3 225.6L639.9 225.7L641.6 225.8L643.3 225.9L644.9 226.0L646.6 226.1L648.3 226.2L649.9 226.3L651.6 226.4L653.3 226.5L654.9 226.6L656.6 226.7L658.2 226.8L659.9 226.9L661.6 226.9L663.2 227.0L664.9 227.1L666.6 227.1L668.2 227.2L669.9 227.2L671.6 227.3L673.2 227.3L674.9 227.3L676.5 227.4L678.2 227.4L679.9 227.4L681.5 227.5L683.2 227.5" fill="none" stroke="#22eeee" stroke-width="2.9" stroke-linejoin="round"/><path d="M415.4 224.4h5v5h-5zM417.5 223.0h5v5h-5zM421.5 223.0h5v5h-5zM424.5 223.0h5v5h-5zM426.5 220.9h5v5h-5zM430.5 217.2h5v5h-5zM433.8 219.2h5v5h-5zM438.4 221.8h5v5h-5zM445.0 225.8h5v5h-5zM452.8 217.9h5v5h-5zM456.8 212.0h5v5h-5zM460.1 212.0h5v5h-5zM465.3 215.9h5v5h-5zM467.9 216.5h5v5h-5zM471.9 210.0h5v5h-5zM474.5 200.1h5v5h-5zM479.7 191.8h5v5h-5zM484.2 185.1h5v5h-5zM487.3 177.2h5v5h-5zM497.9 134.0h5v5h-5zM501.0 112.7h5v5h-5zM504.6 99.0h5v5h-5zM508.0 82.3h5v5h-5zM512.5 75.6h5v5h-5zM515.6 56.4h5v5h-5zM519.8 41.2h5v5h-5zM527.8 39.1h5v5h-5zM525.3 49.4h5v5h-5zM531.0 48.0h5v5h-5zM534.6 56.1h5v5h-5zM541.0 68.0h5v5h-5zM545.2 74.5h5v5h-5zM549.3 85.7h5v5h-5zM553.2 110.8h5v5h-5zM557.1 123.6h5v5h-5zM560.6 132.3h5v5h-5zM564.4 143.5h5v5h-5zM568.3 151.6h5v5h-5zM572.5 161.2h5v5h-5zM576.3 169.2h5v5h-5zM579.9 186.9h5v5h-5zM583.7 182.1h5v5h-5zM586.9 198.1h5v5h-5zM591.0 201.1h5v5h-5zM595.1 200.4h5v5h-5zM598.6 211.5h5v5h-5zM602.1 203.9h5v5h-5zM606.9 211.5h5v5h-5zM613.2 210.8h5v5h-5zM620.8 215.2h5v5h-5zM627.7 215.2h5v5h-5zM635.4 219.1h5v5h-5zM643.0 217.0h5v5h-5zM650.6 218.8h5v5h-5zM657.5 220.5h5v5h-5zM663.8 222.6h5v5h-5zM667.9 221.9h5v5h-5zM672.1 221.6h5v5h-5zM677.0 221.6h5v5h-5zM639.5 226.0h5v5h-5zM647.1 226.0h5v5h-5zM661.0 226.0h5v5h-5zM492.2 149.3h5v5h-5z" fill="#000"/><path d="M417.0 227.6L418.7 227.5L420.4 227.5L422.0 227.5L423.7 227.5L425.3 227.4L427.0 227.4L428.7 227.4L430.3 227.3L432.0 227.2L433.7 227.2L435.3 227.1L437.0 226.9L438.7 226.8L440.3 226.6L442.0 226.4L443.6 226.2L445.3 225.9L447.0 225.6L448.6 225.2L450.3 224.8L452.0 224.3L453.6 223.7L455.3 223.0L457.0 222.2L458.6 221.3L460.3 220.3L461.9 219.1L463.6 217.8L465.3 216.4L466.9 214.8L468.6 212.9L470.3 210.9L471.9 208.7L473.6 206.3L475.3 203.6L476.9 200.7L478.6 197.5L480.2 194.0L481.9 190.3L483.6 186.4L485.2 182.1L486.9 177.6L488.6 172.9L490.2 167.8L491.9 162.6L493.6 157.1L495.2 151.4L496.9 145.5L498.5 139.5L500.2 133.3L501.9 127.1L503.5 120.8L505.2 114.5L506.9 108.2L508.5 102.0L510.2 95.9L511.9 90.0L513.5 84.3L515.2 78.9L516.8 73.8L518.5 69.0L520.2 64.7L521.8 60.8L523.5 57.4L525.2 54.6L526.8 52.3L528.5 50.6L530.2 49.5L531.8 49.0L533.5 49.1L535.1 49.9L536.8 51.2L538.5 53.2L540.1 55.8L541.8 58.9L543.5 62.5L545.1 66.6L546.8 71.2L548.5 76.1L550.1 81.4L551.8 87.0L553.4 92.8L555.1 98.8L556.8 105.0L558.4 111.2L560.1 117.4L561.8 123.6L563.4 129.7L565.1 135.7L566.7 141.6L568.4 147.2L570.1 152.6L571.7 157.8L573.4 162.8L575.1 167.4L576.7 171.8L578.4 175.8L580.1 179.6L581.7 183.1L583.4 186.3L585.0 189.3L586.7 192.0L588.4 194.5L590.0 196.8L591.7 198.9L593.4 200.8L595.0 202.5L596.7 204.1L598.4 205.5L600.0 206.9L601.7 208.2L603.3 209.4L605.0 210.5L606.7 211.5L608.3 212.5L610.0 213.4L611.7 214.3L613.3 215.2L615.0 216.0L616.7 216.8L618.3 217.6L620.0 218.3L621.6 219.0L623.3 219.6L625.0 220.3L626.6 220.9L628.3 221.4L630.0 221.9L631.6 222.4L633.3 222.9L635.0 223.3L636.6 223.7L638.3 224.1L639.9 224.4L641.6 224.7L643.3 225.0L644.9 225.3L646.6 225.5L648.3 225.7L649.9 225.9L651.6 226.1L653.3 226.2L654.9 226.4L656.6 226.5L658.2 226.6L659.9 226.8L661.6 226.8L663.2 226.9L664.9 227.0L666.6 227.1L668.2 227.1L669.9 227.2L671.6 227.2L673.2 227.3L674.9 227.3L676.5 227.4L678.2 227.4L679.9 227.4L681.5 227.5L683.2 227.5" fill="none" stroke="#ff00ff" stroke-width="2.9" stroke-linejoin="round"/><line x1="410.00" y1="228.00" x2="684.00" y2="228.00" stroke="#000" stroke-width="1.3" stroke-opacity="0.75"/><text transform="translate(491.5 23.3) scale(1 1.05)" font-size="22.8" fill="#f01010">N-Si-N</text><text transform="translate(554.8 56.9) scale(1 1.05)" font-size="22.6" fill="#14b414">N-Si-O</text><text transform="translate(565.9 96.5) scale(1 1.05)" font-size="22.6" fill="#0a0ae6">N-Si-O<tspan font-size="15" dy="4.5">x</tspan></text><text transform="translate(623.4 147.9) scale(1 1.05)" font-size="22.6" fill="#33ddf5">SiO<tspan font-size="15" dy="5.6">2</tspan></text><text transform="translate(643 23.3) scale(1 1.05)" font-size="21.5" font-weight="bold">Si<tspan font-size="14.5" dx="1" dy="5.7">2p</tspan></text><line x1="62.50" y1="301.50" x2="337.00" y2="301.50" stroke="#1a1a1a" stroke-width="1"/><line x1="336.50" y1="301.00" x2="336.50" y2="540.00" stroke="#1a1a1a" stroke-width="1"/><line x1="62.50" y1="301.00" x2="62.50" y2="547.00" stroke="#1a1a1a" stroke-width="1"/><line x1="63.50" y1="334.00" x2="63.50" y2="539.00" stroke="#777" stroke-width="1"/><line x1="62.00" y1="539.50" x2="337.00" y2="539.50" stroke="#1a1a1a" stroke-width="1"/><line x1="63.00" y1="528.40" x2="336.00" y2="528.40" stroke="#000" stroke-width="1"/><line x1="55.00" y1="528.90" x2="62.50" y2="528.90" stroke="#1a1a1a" stroke-width="1"/><text transform="translate(52.3 534.3) scale(1 1.03)" font-size="20.7" text-anchor="end">0</text><line x1="56.50" y1="510.45" x2="62.50" y2="510.45" stroke="#1a1a1a" stroke-width="1"/><line x1="55.00" y1="492.00" x2="62.50" y2="492.00" stroke="#1a1a1a" stroke-width="1"/><text transform="translate(52.3 497.4) scale(1 1.03)" font-size="20.7" text-anchor="end">0.2</text><line x1="56.50" y1="473.55" x2="62.50" y2="473.55" stroke="#1a1a1a" stroke-width="1"/><line x1="55.00" y1="455.10" x2="62.50" y2="455.10" stroke="#1a1a1a" stroke-width="1"/><text transform="translate(52.3 460.49999999999994) scale(1 1.03)" font-size="20.7" text-anchor="end">0.4</text><line x1="56.50" y1="436.65" x2="62.50" y2="436.65" stroke="#1a1a1a" stroke-width="1"/><line x1="55.00" y1="418.20" x2="62.50" y2="418.20" stroke="#1a1a1a" stroke-width="1"/><text transform="translate(52.3 423.59999999999997) scale(1 1.03)" font-size="20.7" text-anchor="end">0.6</text><line x1="56.50" y1="399.75" x2="62.50" y2="399.75" stroke="#1a1a1a" stroke-width="1"/><line x1="55.00" y1="381.30" x2="62.50" y2="381.30" stroke="#1a1a1a" stroke-width="1"/><text transform="translate(52.3 386.69999999999993) scale(1 1.03)" font-size="20.7" text-anchor="end">0.8</text><line x1="56.50" y1="362.85" x2="62.50" y2="362.85" stroke="#1a1a1a" stroke-width="1"/><line x1="55.00" y1="344.40" x2="62.50" y2="344.40" stroke="#1a1a1a" stroke-width="1"/><text transform="translate(52.3 349.79999999999995) scale(1 1.03)" font-size="20.7" text-anchor="end">1.0</text><line x1="63.00" y1="539.50" x2="63.00" y2="547.50" stroke="#1a1a1a" stroke-width="1"/><text transform="translate(63.0 563.9) scale(1 1.03)" font-size="20.7" text-anchor="middle">394</text><line x1="140.77" y1="539.50" x2="140.77" y2="547.50" stroke="#1a1a1a" stroke-width="1"/><text transform="translate(140.76666666666665 563.9) scale(1 1.03)" font-size="20.7" text-anchor="middle">396</text><line x1="218.53" y1="539.50" x2="218.53" y2="547.50" stroke="#1a1a1a" stroke-width="1"/><text transform="translate(218.53333333333333 563.9) scale(1 1.03)" font-size="20.7" text-anchor="middle">398</text><line x1="296.30" y1="539.50" x2="296.30" y2="547.50" stroke="#1a1a1a" stroke-width="1"/><text transform="translate(296.30000000000007 563.9) scale(1 1.03)" font-size="20.7" text-anchor="middle">400</text><line x1="101.88" y1="539.50" x2="101.88" y2="546.00" stroke="#1a1a1a" stroke-width="1"/><line x1="179.65" y1="539.50" x2="179.65" y2="546.00" stroke="#1a1a1a" stroke-width="1"/><line x1="257.42" y1="539.50" x2="257.42" y2="546.00" stroke="#1a1a1a" stroke-width="1"/><line x1="335.18" y1="539.50" x2="335.18" y2="546.00" stroke="#1a1a1a" stroke-width="1"/><text transform="translate(207 586.7) scale(1 1.08)" font-size="22.7" text-anchor="middle">Binding energy (eV)</text><text transform="translate(16.7 436) rotate(-90) scale(1 1.05)" font-size="22.6" text-anchor="middle">Relative intensity</text><text transform="translate(23 323.7) scale(1 1.05)" font-size="32" text-anchor="middle">(c)</text><line x1="141.50" y1="338.00" x2="141.50" y2="453.60" stroke="#ff0000" stroke-width="0.9" stroke-dasharray="3,1.5,1,1.5" stroke-opacity="0.75"/><polyline points="219.0,327.4 180.0,358.8 180.0,446.3" fill="none" stroke="#10b010" stroke-width="0.9" stroke-dasharray="3,1.5,1,1.5,1,1.5" stroke-opacity="0.8"/><polyline points="235.2,408.5 211.8,428.7 211.8,502.0" fill="none" stroke="#0000ee" stroke-width="0.9" stroke-dasharray="2,1.5" stroke-opacity="0.8"/><line x1="280.90" y1="453.00" x2="280.90" y2="510.30" stroke="#33ddf5" stroke-width="0.9" stroke-dasharray="3,1.5,1,1.5" stroke-opacity="0.75"/><path d="M217.4 527.1L218.1 527.0L218.8 527.0L219.6 526.9L220.3 526.9L221.0 526.8L221.8 526.7L222.5 526.7L223.3 526.6L224.0 526.5L224.7 526.4L225.5 526.3L226.2 526.2L226.9 526.0L227.7 525.9L228.4 525.7L229.1 525.6L229.9 525.4L230.6 525.2L231.4 525.0L232.1 524.8L232.8 524.5L233.6 524.3L234.3 524.0L235.0 523.7L235.8 523.4L236.5 523.1L237.2 522.7L238.0 522.3L238.7 521.9L239.5 521.5L240.2 521.0L240.9 520.5L241.7 520.0L242.4 519.5L243.1 518.9L243.9 518.3L244.6 517.7L245.3 517.1L246.1 516.4L246.8 515.7L247.6 514.9L248.3 514.2L249.0 513.4L249.8 512.5L250.5 511.7L251.2 510.8L252.0 509.9L252.7 509.0L253.4 508.0L254.2 507.0L254.9 506.0L255.7 505.0L256.4 504.0L257.1 502.9L257.9 501.9L258.6 500.8L259.3 499.7L260.1 498.6L260.8 497.5L261.5 496.4L262.3 495.4L263.0 494.3L263.8 493.2L264.5 492.1L265.2 491.1L266.0 490.0L266.7 489.0L267.4 488.1L268.2 487.1L268.9 486.2L269.6 485.3L270.4 484.4L271.1 483.6L271.9 482.9L272.6 482.1L273.3 481.5L274.1 480.8L274.8 480.3L275.5 479.8L276.3 479.3L277.0 478.9L277.7 478.6L278.5 478.3L279.2 478.1L280.0 478.0L280.7 477.9L281.4 477.9L282.2 478.0L282.9 478.1L283.6 478.3L284.4 478.5L285.1 478.9L285.8 479.2L286.6 479.7L287.3 480.2L288.1 480.7L288.8 481.3L289.5 482.0L290.3 482.7L291.0 483.5L291.7 484.3L292.5 485.1L293.2 486.0L293.9 486.9L294.7 487.9L295.4 488.8L296.2 489.8L296.9 490.9L297.6 491.9L298.4 493.0L299.1 494.0L299.8 495.1L300.6 496.2L301.3 497.3L302.0 498.4L302.8 499.5L303.5 500.6L304.3 501.7L305.0 502.7L305.7 503.8L306.5 504.8L307.2 505.8L307.9 506.8L308.7 507.8L309.4 508.8L310.1 509.7L310.9 510.6L311.6 511.5L312.4 512.4L313.1 513.2L313.8 514.0L314.6 514.8L315.3 515.5L316.0 516.2L316.8 516.9L317.5 517.6L318.2 518.2L319.0 518.8L319.7 519.4L320.5 519.9L321.2 520.4L321.9 520.9L322.7 521.4L323.4 521.8L324.1 522.2L324.9 522.6L325.6 523.0L326.3 523.3L327.1 523.7L327.8 524.0L328.6 524.2L329.3 524.5L330.0 524.7L330.8 525.0L331.5 525.2L332.2 525.4L333.0 525.5L333.7 525.7L334.4 525.9L335.2 526.0" fill="none" stroke="#22eeee" stroke-width="2.45" stroke-linejoin="round"/><path d="M136.9 527.2L137.8 527.2L138.8 527.1L139.7 527.1L140.7 527.1L141.6 527.0L142.6 527.0L143.5 526.9L144.5 526.9L145.4 526.8L146.4 526.7L147.3 526.6L148.3 526.5L149.2 526.4L150.1 526.3L151.1 526.2L152.0 526.1L153.0 525.9L153.9 525.8L154.9 525.6L155.8 525.4L156.8 525.2L157.7 525.0L158.7 524.8L159.6 524.5L160.6 524.3L161.5 524.0L162.5 523.7L163.4 523.3L164.4 523.0L165.3 522.6L166.3 522.2L167.2 521.8L168.2 521.4L169.1 520.9L170.1 520.4L171.0 519.9L171.9 519.3L172.9 518.7L173.8 518.1L174.8 517.5L175.7 516.9L176.7 516.2L177.6 515.5L178.6 514.8L179.5 514.1L180.5 513.3L181.4 512.5L182.4 511.7L183.3 510.9L184.3 510.1L185.2 509.3L186.2 508.4L187.1 507.6L188.1 506.7L189.0 505.9L190.0 505.0L190.9 504.2L191.8 503.3L192.8 502.5L193.7 501.7L194.7 500.9L195.6 500.1L196.6 499.4L197.5 498.7L198.5 498.0L199.4 497.3L200.4 496.7L201.3 496.1L202.3 495.5L203.2 495.0L204.2 494.6L205.1 494.2L206.1 493.8L207.0 493.5L208.0 493.3L208.9 493.1L209.9 492.9L210.8 492.8L211.8 492.8L212.7 492.8L213.6 492.9L214.6 493.1L215.5 493.3L216.5 493.5L217.4 493.8L218.4 494.2L219.3 494.6L220.3 495.1L221.2 495.6L222.2 496.1L223.1 496.7L224.1 497.3L225.0 498.0L226.0 498.7L226.9 499.4L227.9 500.2L228.8 500.9L229.8 501.7L230.7 502.6L231.7 503.4L232.6 504.2L233.6 505.1L234.5 505.9L235.4 506.8L236.4 507.6L237.3 508.5L238.3 509.3L239.2 510.1L240.2 511.0L241.1 511.8L242.1 512.6L243.0 513.3L244.0 514.1L244.9 514.8L245.9 515.5L246.8 516.2L247.8 516.9L248.7 517.6L249.7 518.2L250.6 518.8L251.6 519.3L252.5 519.9L253.5 520.4L254.4 520.9L255.4 521.4L256.3 521.8L257.2 522.2L258.2 522.6L259.1 523.0L260.1 523.4L261.0 523.7L262.0 524.0L262.9 524.3L263.9 524.6L264.8 524.8L265.8 525.0L266.7 525.3L267.7 525.4L268.6 525.6L269.6 525.8L270.5 526.0L271.5 526.1L272.4 526.2L273.4 526.3L274.3 526.5L275.3 526.6L276.2 526.6L277.1 526.7L278.1 526.8L279.0 526.9L280.0 526.9L280.9 527.0L281.9 527.0L282.8 527.1L283.8 527.1L284.7 527.1L285.7 527.2L286.6 527.2L287.6 527.2L288.5 527.2" fill="none" stroke="#0000ee" stroke-width="2.45" stroke-linejoin="round"/><path d="M99.9 527.1L100.9 527.1L101.9 527.0L102.9 526.9L103.9 526.9L104.9 526.8L105.8 526.7L106.8 526.6L107.8 526.4L108.8 526.3L109.8 526.1L110.8 525.9L111.7 525.7L112.7 525.5L113.7 525.2L114.7 524.9L115.7 524.6L116.7 524.2L117.7 523.8L118.6 523.4L119.6 522.9L120.6 522.3L121.6 521.7L122.6 521.0L123.6 520.3L124.5 519.4L125.5 518.5L126.5 517.6L127.5 516.5L128.5 515.4L129.5 514.1L130.5 512.8L131.4 511.3L132.4 509.7L133.4 508.0L134.4 506.2L135.4 504.3L136.4 502.2L137.3 500.0L138.3 497.7L139.3 495.2L140.3 492.6L141.3 489.9L142.3 487.0L143.2 484.0L144.2 480.8L145.2 477.5L146.2 474.1L147.2 470.5L148.2 466.9L149.2 463.1L150.1 459.2L151.1 455.2L152.1 451.1L153.1 446.9L154.1 442.7L155.1 438.4L156.0 434.1L157.0 429.8L158.0 425.4L159.0 421.1L160.0 416.8L161.0 412.5L161.9 408.3L162.9 404.2L163.9 400.1L164.9 396.2L165.9 392.5L166.9 388.9L167.9 385.4L168.8 382.2L169.8 379.1L170.8 376.3L171.8 373.7L172.8 371.4L173.8 369.3L174.7 367.6L175.7 366.1L176.7 364.9L177.7 364.0L178.7 363.4L179.7 363.1L180.6 363.1L181.6 363.5L182.6 364.2L183.6 365.1L184.6 366.4L185.6 368.0L186.6 369.8L187.5 371.9L188.5 374.3L189.5 376.9L190.5 379.8L191.5 382.9L192.5 386.2L193.4 389.7L194.4 393.3L195.4 397.1L196.4 401.1L197.4 405.1L198.4 409.3L199.3 413.5L200.3 417.8L201.3 422.1L202.3 426.5L203.3 430.8L204.3 435.1L205.3 439.4L206.2 443.7L207.2 447.9L208.2 452.1L209.2 456.1L210.2 460.1L211.2 464.0L212.1 467.7L213.1 471.4L214.1 474.9L215.1 478.3L216.1 481.6L217.1 484.7L218.0 487.7L219.0 490.5L220.0 493.3L221.0 495.8L222.0 498.3L223.0 500.6L224.0 502.7L224.9 504.8L225.9 506.7L226.9 508.4L227.9 510.1L228.9 511.6L229.9 513.1L230.8 514.4L231.8 515.6L232.8 516.8L233.8 517.8L234.8 518.8L235.8 519.6L236.7 520.4L237.7 521.2L238.7 521.8L239.7 522.4L240.7 523.0L241.7 523.5L242.7 523.9L243.6 524.3L244.6 524.7L245.6 525.0L246.6 525.3L247.6 525.5L248.6 525.8L249.5 526.0L250.5 526.2L251.5 526.3L252.5 526.5L253.5 526.6L254.5 526.7L255.4 526.8L256.4 526.9L257.4 526.9" fill="none" stroke="#1ee01e" stroke-width="2.45" stroke-linejoin="round"/><path d="M98.0 525.3L98.7 525.2L99.3 525.0L100.0 524.9L100.6 524.7L101.3 524.5L102.0 524.3L102.6 524.1L103.3 523.9L103.9 523.7L104.6 523.5L105.3 523.3L105.9 523.1L106.6 522.8L107.2 522.6L107.9 522.3L108.6 522.1L109.2 521.8L109.9 521.5L110.6 521.2L111.2 520.9L111.9 520.6L112.5 520.3L113.2 520.0L113.9 519.7L114.5 519.3L115.2 519.0L115.8 518.7L116.5 518.3L117.2 518.0L117.8 517.6L118.5 517.2L119.1 516.9L119.8 516.5L120.5 516.2L121.1 515.8L121.8 515.4L122.5 515.1L123.1 514.7L123.8 514.4L124.4 514.0L125.1 513.7L125.8 513.3L126.4 513.0L127.1 512.7L127.7 512.3L128.4 512.0L129.1 511.7L129.7 511.4L130.4 511.1L131.0 510.9L131.7 510.6L132.4 510.4L133.0 510.1L133.7 509.9L134.4 509.7L135.0 509.5L135.7 509.4L136.3 509.2L137.0 509.1L137.7 509.0L138.3 508.9L139.0 508.8L139.6 508.7L140.3 508.7L141.0 508.6L141.6 508.6L142.3 508.6L142.9 508.7L143.6 508.7L144.3 508.8L144.9 508.9L145.6 509.0L146.2 509.1L146.9 509.2L147.6 509.4L148.2 509.6L148.9 509.8L149.6 510.0L150.2 510.2L150.9 510.4L151.5 510.7L152.2 510.9L152.9 511.2L153.5 511.5L154.2 511.8L154.8 512.1L155.5 512.4L156.2 512.7L156.8 513.1L157.5 513.4L158.1 513.8L158.8 514.1L159.5 514.5L160.1 514.8L160.8 515.2L161.5 515.5L162.1 515.9L162.8 516.3L163.4 516.6L164.1 517.0L164.8 517.3L165.4 517.7L166.1 518.0L166.7 518.4L167.4 518.7L168.1 519.1L168.7 519.4L169.4 519.7L170.0 520.1L170.7 520.4L171.4 520.7L172.0 521.0L172.7 521.3L173.4 521.6L174.0 521.8L174.7 522.1L175.3 522.4L176.0 522.6L176.7 522.9L177.3 523.1L178.0 523.4L178.6 523.6L179.3 523.8L180.0 524.0L180.6 524.2L181.3 524.4L181.9 524.6L182.6 524.7L183.3 524.9L183.9 525.0L184.6 525.2L185.2 525.3L185.9 525.5L186.6 525.6L187.2 525.7L187.9 525.8L188.6 525.9L189.2 526.0L189.9 526.1L190.5 526.2L191.2 526.3L191.9 526.4L192.5 526.5L193.2 526.5L193.8 526.6L194.5 526.7L195.2 526.7L195.8 526.8L196.5 526.8L197.1 526.9L197.8 526.9L198.5 527.0L199.1 527.0L199.8 527.0L200.5 527.1L201.1 527.1L201.8 527.1L202.4 527.1L203.1 527.2L203.8 527.2" fill="none" stroke="#ff0000" stroke-width="2.45" stroke-linejoin="round"/><path d="M79.8 524.1h4.5v4.5h-4.5zM112.8 516.2h4.5v4.5h-4.5zM116.2 518.0h4.5v4.5h-4.5zM119.7 505.9h4.5v4.5h-4.5zM123.0 500.6h4.5v4.5h-4.5zM131.8 488.6h4.5v4.5h-4.5zM135.2 485.1h4.5v4.5h-4.5zM143.2 465.4h4.5v4.5h-4.5zM147.2 446.1h4.5v4.5h-4.5zM150.1 439.1h4.5v4.5h-4.5zM154.2 410.8h4.5v4.5h-4.5zM158.3 398.6h4.5v4.5h-4.5zM162.8 376.1h4.5v4.5h-4.5zM166.9 368.6h4.5v4.5h-4.5zM171.4 351.2h4.5v4.5h-4.5zM174.9 347.9h4.5v4.5h-4.5zM179.1 343.4h4.5v4.5h-4.5zM185.3 342.2h4.5v4.5h-4.5zM190.1 358.9h4.5v4.5h-4.5zM193.6 367.6h4.5v4.5h-4.5zM197.1 390.2h4.5v4.5h-4.5zM200.6 411.1h4.5v4.5h-4.5zM204.7 424.2h4.5v4.5h-4.5zM209.2 431.1h4.5v4.5h-4.5zM212.7 456.1h4.5v4.5h-4.5zM217.2 461.4h4.5v4.5h-4.5zM221.3 471.8h4.5v4.5h-4.5zM224.8 483.9h4.5v4.5h-4.5zM230.1 486.6h4.5v4.5h-4.5zM233.4 488.1h4.5v4.5h-4.5zM238.7 490.1h4.5v4.5h-4.5zM243.8 498.4h4.5v4.5h-4.5zM248.3 488.1h4.5v4.5h-4.5zM253.2 485.6h4.5v4.5h-4.5zM239.9 490.1h4.5v4.5h-4.5zM244.3 498.9h4.5v4.5h-4.5zM252.3 495.9h4.5v4.5h-4.5zM260.4 489.4h4.5v4.5h-4.5zM266.9 482.1h4.5v4.5h-4.5zM272.1 486.4h4.5v4.5h-4.5zM275.8 480.6h4.5v4.5h-4.5zM279.4 480.6h4.5v4.5h-4.5zM283.8 483.6h4.5v4.5h-4.5zM288.1 477.6h4.5v4.5h-4.5zM291.8 485.8h4.5v4.5h-4.5zM295.4 486.4h4.5v4.5h-4.5zM299.1 494.4h4.5v4.5h-4.5zM303.4 495.9h4.5v4.5h-4.5zM307.9 499.6h4.5v4.5h-4.5zM311.4 501.1h4.5v4.5h-4.5zM315.1 504.6h4.5v4.5h-4.5zM318.8 507.6h4.5v4.5h-4.5zM323.1 512.0h4.5v4.5h-4.5zM326.9 519.2h4.5v4.5h-4.5zM330.4 518.5h4.5v4.5h-4.5zM332.4 515.0h4.5v4.5h-4.5zM103.7 517.9h4.5v4.5h-4.5zM107.4 518.7h4.5v4.5h-4.5z" fill="#000"/><path d="M78.6 527.2L80.2 527.1L81.8 527.1L83.4 527.0L85.0 526.9L86.6 526.8L88.2 526.7L89.8 526.5L91.4 526.3L93.0 526.1L94.6 525.8L96.2 525.5L97.8 525.1L99.4 524.7L101.0 524.2L102.6 523.7L104.2 523.1L105.8 522.4L107.4 521.6L109.0 520.7L110.6 519.7L112.2 518.6L113.8 517.5L115.4 516.1L117.0 514.7L118.7 513.1L120.3 511.4L121.9 509.5L123.5 507.4L125.1 505.2L126.7 502.8L128.3 500.2L129.9 497.4L131.5 494.4L133.1 491.2L134.7 487.7L136.3 484.0L137.9 480.0L139.5 475.8L141.1 471.3L142.7 466.5L144.3 461.4L145.9 456.1L147.5 450.5L149.1 444.7L150.7 438.6L152.3 432.4L153.9 426.0L155.5 419.4L157.1 412.8L158.8 406.2L160.4 399.6L162.0 393.1L163.6 386.8L165.2 380.6L166.8 374.8L168.4 369.3L170.0 364.3L171.6 359.8L173.2 355.8L174.8 352.4L176.4 349.6L178.0 347.6L179.6 346.2L181.2 345.6L182.8 345.7L184.4 346.5L186.0 348.0L187.6 350.2L189.2 353.1L190.8 356.6L192.4 360.6L194.0 365.1L195.6 370.1L197.2 375.5L198.8 381.2L200.5 387.2L202.1 393.3L203.7 399.6L205.3 406.0L206.9 412.4L208.5 418.7L210.1 425.0L211.7 431.2L213.3 437.2L214.9 443.1L216.5 448.7L218.1 454.1L219.7 459.3L221.3 464.2L222.9 468.8L224.5 473.1L226.1 477.2L227.7 481.0L229.3 484.4L230.9 487.6L232.5 490.5L234.1 493.0L235.7 495.3L237.3 497.2L238.9 498.9L240.6 500.2L242.2 501.2L243.8 501.9L245.4 502.3L247.0 502.5L248.6 502.3L250.2 501.9L251.8 501.2L253.4 500.2L255.0 499.1L256.6 497.7L258.2 496.2L259.8 494.6L261.4 492.8L263.0 491.0L264.6 489.2L266.2 487.3L267.8 485.5L269.4 483.9L271.0 482.3L272.6 480.9L274.2 479.7L275.8 478.8L277.4 478.1L279.0 477.6L280.6 477.5L282.3 477.6L283.9 478.1L285.5 478.8L287.1 479.8L288.7 481.1L290.3 482.6L291.9 484.3L293.5 486.2L295.1 488.3L296.7 490.5L298.3 492.8L299.9 495.2L301.5 497.6L303.1 500.0L304.7 502.3L306.3 504.6L307.9 506.8L309.5 508.9L311.1 510.9L312.7 512.8L314.3 514.5L315.9 516.1L317.5 517.6L319.1 518.9L320.7 520.1L322.4 521.2L324.0 522.1L325.6 523.0L327.2 523.7L328.8 524.3L330.4 524.8L332.0 525.3L333.6 525.7L335.2 526.0" fill="none" stroke="#ff00ff" stroke-width="2.45" stroke-linejoin="round"/><text transform="translate(107.3 328.7) scale(1 1.05)" font-size="22.6" fill="#f01010">N-Si<tspan font-size="15" dy="6">(v)</tspan></text><text transform="translate(190 320.2) scale(1 1.05)" font-size="22.6" fill="#14b414">Si-N-Si</text><text transform="translate(206.8 401.3) scale(1 1.05)" font-size="22.6" fill="#0a0ae6">Si-N-Si-O</text><text transform="translate(251.7 445.2) scale(1 1.05)" font-size="22.6" fill="#33ddf5">N-SiO<tspan font-size="15" dy="5.3">x</tspan></text><text transform="translate(300.3 323.4) scale(1 1.05)" font-size="21.5" font-weight="bold">N<tspan font-size="15" dy="5.6">1s</tspan></text><line x1="410.00" y1="301.50" x2="684.50" y2="301.50" stroke="#1a1a1a" stroke-width="1"/><line x1="684.30" y1="301.00" x2="684.30" y2="540.00" stroke="#1a1a1a" stroke-width="1"/><line x1="410.00" y1="301.00" x2="410.00" y2="547.00" stroke="#1a1a1a" stroke-width="1"/><line x1="409.50" y1="539.50" x2="685.00" y2="539.50" stroke="#1a1a1a" stroke-width="1"/><line x1="410.00" y1="528.40" x2="684.00" y2="528.40" stroke="#000" stroke-width="1"/><line x1="402.50" y1="528.90" x2="410.00" y2="528.90" stroke="#1a1a1a" stroke-width="1"/><text transform="translate(400.6 534.3) scale(1 1.03)" font-size="20.7" text-anchor="end">0</text><line x1="404.00" y1="510.45" x2="410.00" y2="510.45" stroke="#1a1a1a" stroke-width="1"/><line x1="402.50" y1="492.00" x2="410.00" y2="492.00" stroke="#1a1a1a" stroke-width="1"/><text transform="translate(400.6 497.4) scale(1 1.03)" font-size="20.7" text-anchor="end">0.2</text><line x1="404.00" y1="473.55" x2="410.00" y2="473.55" stroke="#1a1a1a" stroke-width="1"/><line x1="402.50" y1="455.10" x2="410.00" y2="455.10" stroke="#1a1a1a" stroke-width="1"/><text transform="translate(400.6 460.49999999999994) scale(1 1.03)" font-size="20.7" text-anchor="end">0.4</text><line x1="404.00" y1="436.65" x2="410.00" y2="436.65" stroke="#1a1a1a" stroke-width="1"/><line x1="402.50" y1="418.20" x2="410.00" y2="418.20" stroke="#1a1a1a" stroke-width="1"/><text transform="translate(400.6 423.59999999999997) scale(1 1.03)" font-size="20.7" text-anchor="end">0.6</text><line x1="404.00" y1="399.75" x2="410.00" y2="399.75" stroke="#1a1a1a" stroke-width="1"/><line x1="402.50" y1="381.30" x2="410.00" y2="381.30" stroke="#1a1a1a" stroke-width="1"/><text transform="translate(400.6 386.69999999999993) scale(1 1.03)" font-size="20.7" text-anchor="end">0.8</text><line x1="404.00" y1="362.85" x2="410.00" y2="362.85" stroke="#1a1a1a" stroke-width="1"/><line x1="402.50" y1="344.40" x2="410.00" y2="344.40" stroke="#1a1a1a" stroke-width="1"/><text transform="translate(400.6 349.79999999999995) scale(1 1.03)" font-size="20.7" text-anchor="end">1.0</text><line x1="437.51" y1="539.50" x2="437.51" y2="547.50" stroke="#1a1a1a" stroke-width="1"/><text transform="translate(437.51000000000005 563.9) scale(1 1.03)" font-size="20.7" text-anchor="middle">528</text><line x1="492.33" y1="539.50" x2="492.33" y2="547.50" stroke="#1a1a1a" stroke-width="1"/><text transform="translate(492.33000000000004 563.9) scale(1 1.03)" font-size="20.7" text-anchor="middle">530</text><line x1="547.15" y1="539.50" x2="547.15" y2="547.50" stroke="#1a1a1a" stroke-width="1"/><text transform="translate(547.1500000000001 563.9) scale(1 1.03)" font-size="20.7" text-anchor="middle">532</text><line x1="601.97" y1="539.50" x2="601.97" y2="547.50" stroke="#1a1a1a" stroke-width="1"/><text transform="translate(601.97 563.9) scale(1 1.03)" font-size="20.7" text-anchor="middle">534</text><line x1="656.79" y1="539.50" x2="656.79" y2="547.50" stroke="#1a1a1a" stroke-width="1"/><text transform="translate(656.79 563.9) scale(1 1.03)" font-size="20.7" text-anchor="middle">536</text><line x1="410.10" y1="539.50" x2="410.10" y2="546.00" stroke="#1a1a1a" stroke-width="1"/><line x1="464.92" y1="539.50" x2="464.92" y2="546.00" stroke="#1a1a1a" stroke-width="1"/><line x1="519.74" y1="539.50" x2="519.74" y2="546.00" stroke="#1a1a1a" stroke-width="1"/><line x1="574.56" y1="539.50" x2="574.56" y2="546.00" stroke="#1a1a1a" stroke-width="1"/><line x1="629.38" y1="539.50" x2="629.38" y2="546.00" stroke="#1a1a1a" stroke-width="1"/><line x1="684.20" y1="539.50" x2="684.20" y2="546.00" stroke="#1a1a1a" stroke-width="1"/><text transform="translate(554.8 586.7) scale(1 1.08)" font-size="22.7" text-anchor="middle">Binding energy (eV)</text><text transform="translate(364.6 436) rotate(-90) scale(1 1.05)" font-size="22.6" text-anchor="middle">Relative intensity</text><text transform="translate(372 323.7) scale(1 1.05)" font-size="32" text-anchor="middle">(d)</text><line x1="487.50" y1="380.00" x2="487.50" y2="470.00" stroke="#ff0000" stroke-width="0.9" stroke-dasharray="3,1.5,1,1.5" stroke-opacity="0.75"/><polyline points="573.4,329.5 534.3,362.0 534.3,466.4" fill="none" stroke="#10b010" stroke-width="0.9" stroke-dasharray="3,1.5,1,1.5,1,1.5" stroke-opacity="0.8"/><polyline points="594.7,423.9 569.4,437.2 569.4,478.4" fill="none" stroke="#0000ee" stroke-width="0.9" stroke-dasharray="2,1.5" stroke-opacity="0.8"/><path d="M459.4 527.4L460.2 527.4L460.9 527.4L461.7 527.4L462.5 527.4L463.2 527.4L464.0 527.4L464.7 527.2L465.5 526.9L466.2 526.6L467.0 526.4L467.7 526.3L468.5 526.1L469.2 525.7L470.0 525.2L470.7 524.7L471.5 524.5L472.3 524.4L473.0 524.3L473.8 524.2L474.5 524.0L475.3 523.9L476.0 523.9L476.8 523.9L477.5 523.9L478.3 523.9L479.0 523.9L479.8 523.9L480.5 523.9L481.3 523.9L482.1 523.9L482.8 523.9L483.6 523.9L484.3 523.9L485.1 523.9L485.8 523.9L486.6 523.9L487.3 523.9L488.1 523.9L488.8 523.9L489.6 523.9L490.3 523.9L491.1 523.9L491.9 523.8L492.6 523.8L493.4 523.8L494.1 523.8L494.9 523.8L495.6 523.8L496.4 523.8L497.1 523.8L497.9 523.8L498.6 523.8L499.4 523.8L500.1 523.8L500.9 523.8L501.6 523.8L502.4 523.8L503.2 523.8L503.9 523.8L504.7 523.8L505.4 523.9L506.2 523.9L506.9 524.0L507.7 524.1L508.4 524.2L509.2 524.3L509.9 524.4L510.7 524.5L511.4 524.6L512.2 524.7L513.0 524.8L513.7 524.8L514.5 524.9L515.2 525.0L516.0 525.0L516.7 525.0L517.5 525.0L518.2 525.0L519.0 525.0L519.7 525.1L520.5 525.1L521.2 525.2L522.0 525.2L522.8 525.3L523.5 525.4L524.3 525.4L525.0 525.5L525.8 525.6L526.5 525.6L527.3 525.7L528.0 525.8L528.8 525.9L529.5 525.9L530.3 526.0L531.0 526.1L531.8 526.1L532.6 526.2L533.3 526.2L534.1 526.3L534.8 526.3L535.6 526.3L536.3 526.3L537.1 526.3L537.8 526.3L538.6 526.3L539.3 526.3L540.1 526.3L540.8 526.3L541.6 526.4L542.4 526.4L543.1 526.4L543.9 526.4L544.6 526.4L545.4 526.5L546.1 526.5L546.9 526.5L547.6 526.5L548.4 526.6L549.1 526.6L549.9 526.6L550.6 526.6L551.4 526.7L552.2 526.7L552.9 526.7L553.7 526.7L554.4 526.8L555.2 526.8L555.9 526.8L556.7 526.8L557.4 526.8L558.2 526.8L558.9 526.8L559.7 526.8L560.4 526.8L561.2 526.8L562.0 526.8L562.7 526.9L563.5 526.9L564.2 526.9L565.0 526.9L565.7 526.9L566.5 526.9L567.2 526.9L568.0 526.9L568.7 526.9L569.5 526.9L570.2 526.9L571.0 526.9L571.8 526.9L572.5 527.0L573.3 527.0L574.0 527.0L574.8 527.0L575.5 527.0L576.3 527.0L577.0 527.0L577.8 527.1L578.5 527.1L579.3 527.1L580.0 527.1L580.8 527.1L581.5 527.1L582.3 527.1L583.1 527.2L583.8 527.2L584.6 527.2L585.3 527.2L586.1 527.2L586.8 527.2L587.6 527.2L588.3 527.3L589.1 527.3L589.8 527.3L590.6 527.3L591.3 527.3L592.1 527.3L592.9 527.3L593.6 527.3L594.4 527.4L595.1 527.4L595.9 527.4L596.6 527.4L597.4 527.4L598.1 527.4L598.9 527.4L599.6 527.4L600.4 527.4L601.1 527.4L601.9 527.4L602.7 527.4L603.4 527.4L604.2 527.4L604.9 527.4L605.7 527.4L606.4 527.4L607.2 527.4L607.9 527.4L608.7 527.4L609.4 527.4L610.2 527.4" fill="none" stroke="#ff0000" stroke-width="2.4" stroke-linejoin="round"/><path d="M410.1 527.4L411.8 527.4L413.5 527.4L415.2 527.4L417.0 527.4L418.7 527.4L420.4 527.4L422.1 527.4L423.8 527.4L425.5 527.4L427.2 527.4L428.9 527.4L430.7 527.4L432.4 527.4L434.1 527.4L435.8 527.4L437.5 527.4L439.2 527.4L440.9 527.4L442.6 527.4L444.4 527.4L446.1 527.4L447.8 527.4L449.5 527.4L451.2 527.4L452.9 527.4L454.6 527.4L456.4 527.4L458.1 527.4L459.8 527.4L461.5 527.4L463.2 527.4L464.9 527.4L466.6 527.4L468.3 527.4L470.1 527.4L471.8 527.4L473.5 527.4L475.2 527.4L476.9 527.4L478.6 527.3L480.3 527.3L482.1 527.3L483.8 527.3L485.5 527.3L487.2 527.2L488.9 527.2L490.6 527.1L492.3 527.0L494.0 526.9L495.8 526.8L497.5 526.7L499.2 526.5L500.9 526.3L502.6 526.1L504.3 525.8L506.0 525.5L507.7 525.1L509.5 524.7L511.2 524.2L512.9 523.6L514.6 522.9L516.3 522.1L518.0 521.3L519.7 520.3L521.5 519.2L523.2 518.0L524.9 516.7L526.6 515.2L528.3 513.6L530.0 511.9L531.7 510.1L533.4 508.2L535.2 506.1L536.9 504.0L538.6 501.7L540.3 499.4L542.0 497.0L543.7 494.6L545.4 492.2L547.2 489.8L548.9 487.4L550.6 485.1L552.3 482.9L554.0 480.8L555.7 478.8L557.4 477.0L559.1 475.4L560.9 474.1L562.6 472.9L564.3 472.1L566.0 471.5L567.7 471.2L569.4 471.1L571.1 471.4L572.8 471.9L574.6 472.7L576.3 473.7L578.0 475.0L579.7 476.6L581.4 478.3L583.1 480.2L584.8 482.3L586.6 484.4L588.3 486.7L590.0 489.1L591.7 491.5L593.4 493.9L595.1 496.3L596.8 498.7L598.5 501.1L600.3 503.3L602.0 505.5L603.7 507.6L605.4 509.6L607.1 511.4L608.8 513.2L610.5 514.8L612.2 516.3L614.0 517.6L615.7 518.9L617.4 520.0L619.1 521.0L620.8 521.9L622.5 522.7L624.2 523.4L626.0 524.0L627.7 524.5L629.4 525.0L631.1 525.4L632.8 525.7L634.5 526.0L636.2 526.3L637.9 526.5L639.7 526.6L641.4 526.8L643.1 526.9L644.8 527.0L646.5 527.1L648.2 527.2L649.9 527.2L651.7 527.2L653.4 527.3L655.1 527.3L656.8 527.3L658.5 527.3L660.2 527.4L661.9 527.4L663.6 527.4L665.4 527.4L667.1 527.4L668.8 527.4L670.5 527.4L672.2 527.4L673.9 527.4L675.6 527.4L677.3 527.4L679.1 527.4L680.8 527.4L682.5 527.4L684.2 527.4" fill="none" stroke="#0000ee" stroke-width="2.4" stroke-linejoin="round"/><path d="M410.1 527.4L411.8 527.4L413.5 527.4L415.2 527.4L417.0 527.4L418.7 527.4L420.4 527.4L422.1 527.4L423.8 527.4L425.5 527.4L427.2 527.4L428.9 527.4L430.7 527.4L432.4 527.4L434.1 527.4L435.8 527.4L437.5 527.4L439.2 527.4L440.9 527.4L442.6 527.4L444.4 527.3L446.1 527.3L447.8 527.3L449.5 527.2L451.2 527.2L452.9 527.1L454.6 527.1L456.4 527.0L458.1 526.8L459.8 526.7L461.5 526.4L463.2 526.2L464.9 525.9L466.6 525.5L468.3 525.0L470.1 524.4L471.8 523.7L473.5 522.8L475.2 521.8L476.9 520.6L478.6 519.2L480.3 517.5L482.1 515.6L483.8 513.4L485.5 510.9L487.2 508.0L488.9 504.8L490.6 501.2L492.3 497.2L494.0 492.8L495.8 488.0L497.5 482.7L499.2 477.1L500.9 471.0L502.6 464.7L504.3 457.9L506.0 450.9L507.7 443.7L509.5 436.4L511.2 429.0L512.9 421.6L514.6 414.2L516.3 407.1L518.0 400.3L519.7 393.9L521.5 387.9L523.2 382.6L524.9 377.8L526.6 373.9L528.3 370.7L530.0 368.4L531.7 367.1L533.4 366.6L535.2 367.1L536.9 368.4L538.6 370.7L540.3 373.9L542.0 377.8L543.7 382.6L545.4 387.9L547.2 393.9L548.9 400.3L550.6 407.1L552.3 414.2L554.0 421.6L555.7 429.0L557.4 436.4L559.1 443.7L560.9 450.9L562.6 457.9L564.3 464.7L566.0 471.0L567.7 477.1L569.4 482.7L571.1 488.0L572.8 492.8L574.6 497.2L576.3 501.2L578.0 504.8L579.7 508.0L581.4 510.9L583.1 513.4L584.8 515.6L586.6 517.5L588.3 519.2L590.0 520.6L591.7 521.8L593.4 522.8L595.1 523.7L596.8 524.4L598.5 525.0L600.3 525.5L602.0 525.9L603.7 526.2L605.4 526.4L607.1 526.7L608.8 526.8L610.5 527.0L612.2 527.1L614.0 527.1L615.7 527.2L617.4 527.2L619.1 527.3L620.8 527.3L622.5 527.3L624.2 527.4L626.0 527.4L627.7 527.4L629.4 527.4L631.1 527.4L632.8 527.4L634.5 527.4L636.2 527.4L637.9 527.4L639.7 527.4L641.4 527.4L643.1 527.4L644.8 527.4L646.5 527.4L648.2 527.4L649.9 527.4L651.7 527.4L653.4 527.4L655.1 527.4L656.8 527.4L658.5 527.4L660.2 527.4L661.9 527.4L663.6 527.4L665.4 527.4L667.1 527.4L668.8 527.4L670.5 527.4L672.2 527.4L673.9 527.4L675.6 527.4L677.3 527.4L679.1 527.4L680.8 527.4L682.5 527.4L684.2 527.4" fill="none" stroke="#1ee01e" stroke-width="2.4" stroke-linejoin="round"/><path d="M411.2 523.5h4.5v4.5h-4.5zM466.6 516.6h4.5v4.5h-4.5zM470.1 515.0h4.5v4.5h-4.5zM477.1 508.6h4.5v4.5h-4.5zM485.8 494.1h4.5v4.5h-4.5zM489.2 487.9h4.5v4.5h-4.5zM492.6 481.9h4.5v4.5h-4.5zM498.6 466.4h4.5v4.5h-4.5zM503.1 447.4h4.5v4.5h-4.5zM505.9 431.1h4.5v4.5h-4.5zM510.0 421.4h4.5v4.5h-4.5zM513.5 395.4h4.5v4.5h-4.5zM517.0 383.2h4.5v4.5h-4.5zM519.4 369.4h4.5v4.5h-4.5zM522.1 360.6h4.5v4.5h-4.5zM527.4 348.6h4.5v4.5h-4.5zM531.9 343.4h4.5v4.5h-4.5zM536.0 341.6h4.5v4.5h-4.5zM539.9 343.4h4.5v4.5h-4.5zM545.0 350.2h4.5v4.5h-4.5zM550.2 362.4h4.5v4.5h-4.5zM553.6 370.9h4.5v4.5h-4.5zM557.1 386.6h4.5v4.5h-4.5zM560.6 391.8h4.5v4.5h-4.5zM564.0 405.6h4.5v4.5h-4.5zM567.5 417.6h4.5v4.5h-4.5zM571.0 431.6h4.5v4.5h-4.5zM574.5 447.1h4.5v4.5h-4.5zM578.0 460.9h4.5v4.5h-4.5zM583.0 473.1h4.5v4.5h-4.5zM586.5 481.6h4.5v4.5h-4.5zM590.0 489.6h4.5v4.5h-4.5zM595.2 497.2h4.5v4.5h-4.5zM600.4 502.4h4.5v4.5h-4.5zM605.5 507.6h4.5v4.5h-4.5zM612.5 512.8h4.5v4.5h-4.5zM619.5 516.2h4.5v4.5h-4.5zM597.5 500.9h4.5v4.5h-4.5zM603.0 508.6h4.5v4.5h-4.5zM608.5 512.5h4.5v4.5h-4.5zM613.9 519.5h4.5v4.5h-4.5zM619.2 520.4h4.5v4.5h-4.5zM624.0 521.0h4.5v4.5h-4.5zM630.1 518.8h4.5v4.5h-4.5zM636.5 522.4h4.5v4.5h-4.5zM646.5 523.5h4.5v4.5h-4.5zM652.0 522.6h4.5v4.5h-4.5zM658.1 522.4h4.5v4.5h-4.5zM662.0 523.5h4.5v4.5h-4.5zM676.0 523.5h4.5v4.5h-4.5zM464.6 521.3h4.5v4.5h-4.5zM472.8 514.1h4.5v4.5h-4.5zM481.0 508.6h4.5v4.5h-4.5zM483.7 502.3h4.5v4.5h-4.5zM494.7 477.5h4.5v4.5h-4.5zM500.2 457.8h4.5v4.5h-4.5zM508.4 420.2h4.5v4.5h-4.5zM524.8 355.4h4.5v4.5h-4.5zM546.8 356.9h4.5v4.5h-4.5zM565.9 418.1h4.5v4.5h-4.5zM579.6 458.5h4.5v4.5h-4.5zM593.3 490.5h4.5v4.5h-4.5z" fill="#000"/><path d="M410.1 526.7L411.8 526.7L413.5 526.7L415.2 526.7L417.0 526.7L418.7 526.7L420.4 526.7L422.1 526.7L423.8 526.7L425.5 526.7L427.2 526.7L428.9 526.7L430.7 526.7L432.4 526.7L434.1 526.7L435.8 526.7L437.5 526.6L439.2 526.6L440.9 526.6L442.6 526.6L444.4 526.6L446.1 526.6L447.8 526.6L449.5 526.5L451.2 526.5L452.9 526.4L454.6 526.3L456.4 526.2L458.1 526.1L459.8 525.9L461.5 525.7L463.2 525.4L464.9 524.8L466.6 523.8L468.3 523.0L470.1 521.4L471.8 520.0L473.5 518.9L475.2 517.6L476.9 516.3L478.6 514.9L480.3 513.2L482.1 511.3L483.8 509.1L485.5 506.5L487.2 503.6L488.9 500.3L490.6 496.6L492.3 492.6L494.0 488.0L495.8 483.1L497.5 477.7L499.2 471.9L500.9 465.7L502.6 459.0L504.3 452.1L506.0 444.8L507.7 437.4L509.5 429.8L511.2 422.1L512.9 414.3L514.6 406.5L516.3 398.7L518.0 391.0L519.7 383.7L521.5 376.8L523.2 370.3L524.9 364.5L526.6 359.2L528.3 354.7L530.0 350.8L531.7 347.8L533.4 345.4L535.2 343.9L536.9 343.2L538.6 343.2L540.3 344.1L542.0 345.7L543.7 348.0L545.4 351.0L547.2 354.6L548.9 358.7L550.6 363.3L552.3 368.3L554.0 373.5L555.7 379.0L557.4 384.7L559.1 390.5L560.9 396.3L562.6 402.2L564.3 408.1L566.0 413.9L567.7 419.6L569.4 425.2L571.1 430.7L572.8 436.1L574.6 441.4L576.3 446.4L578.0 451.4L579.7 456.2L581.4 460.8L583.1 465.2L584.8 469.5L586.6 473.7L588.3 477.6L590.0 481.4L591.7 485.1L593.4 488.5L595.1 491.8L596.8 495.0L598.5 497.9L600.3 500.7L602.0 503.2L603.7 505.7L605.4 507.9L607.1 510.0L608.8 511.9L610.5 513.6L612.2 515.2L614.0 516.6L615.7 517.9L617.4 519.1L619.1 520.1L620.8 521.1L622.5 521.9L624.2 522.6L626.0 523.2L627.7 523.8L629.4 524.2L631.1 524.6L632.8 525.0L634.5 525.3L636.2 525.5L637.9 525.7L639.7 525.9L641.4 526.1L643.1 526.2L644.8 526.3L646.5 526.3L648.2 526.4L649.9 526.5L651.7 526.5L653.4 526.5L655.1 526.6L656.8 526.6L658.5 526.6L660.2 526.6L661.9 526.6L663.6 526.6L665.4 526.6L667.1 526.6L668.8 526.7L670.5 526.7L672.2 526.7L673.9 526.7L675.6 526.7L677.3 526.7L679.1 526.7L680.8 526.7L682.5 526.7L684.2 526.7" fill="none" stroke="#22eeee" stroke-width="2.4" stroke-linejoin="round"/><text transform="translate(425.5 372.6) scale(1 1.05)" font-size="22.6" fill="#f01010">H-O-Si-O</text><text transform="translate(524.4 324.8) scale(1 1.05)" font-size="22.6" fill="#14b414">Si-O-Si-N</text><text transform="translate(577.3 417.7) scale(1 1.05)" font-size="22.6" fill="#0a0ae6">Si-O-Si-O</text><text transform="translate(645.1 322.9) scale(1 1.05)" font-size="21.5" font-weight="bold">O<tspan font-size="15" dy="5.3">1s</tspan></text></svg>
</body></html>
